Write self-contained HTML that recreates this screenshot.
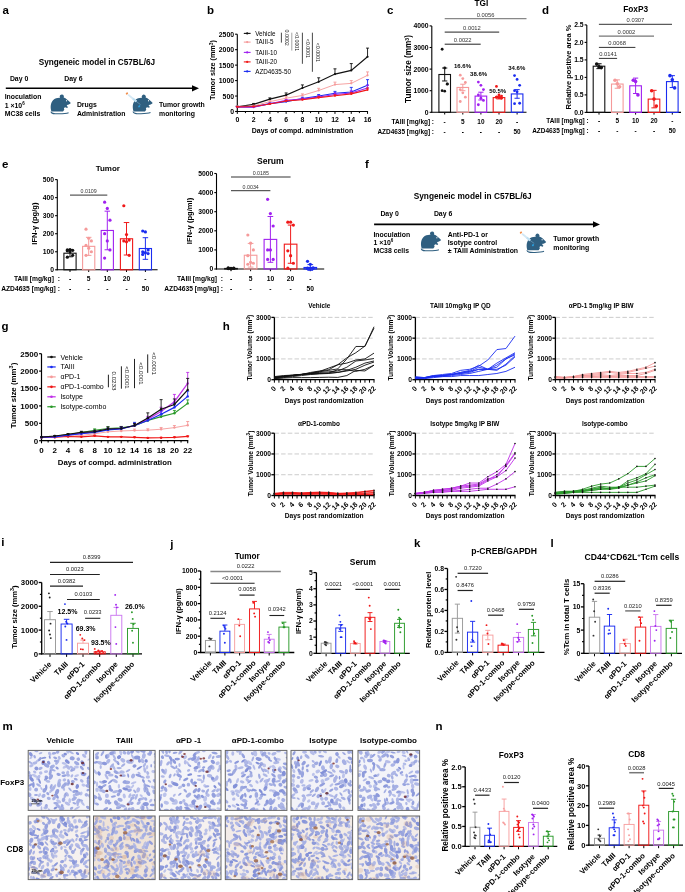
<!DOCTYPE html>
<html><head><meta charset="utf-8"><style>
html,body{margin:0;padding:0;background:#fff;}
svg{display:block;filter:blur(0.3px);font-family:"Liberation Sans", sans-serif;}
</style></head><body>
<svg width="685" height="892" viewBox="0 0 685 892">
<rect width="685" height="892" fill="#fff"/>
<text x="2.5" y="14" font-size="11.5" font-weight="bold">a</text>
<text x="38.7" y="64.6" font-size="8.2" font-weight="bold">Syngeneic model in C57BL/6J</text>
<text x="9.9" y="81.4" font-size="6.9" font-weight="bold">Day 0</text>
<text x="64.2" y="81.4" font-size="6.9" font-weight="bold">Day 6</text>
<line x1="5.8" y1="88.3" x2="194" y2="88.3" stroke="#000" stroke-width="1.6"/>
<path d="M192,85.2 L199,88.3 L192,91.4 Z" fill="#000"/>
<text x="4.7" y="99.3" font-size="6.9" font-weight="bold">Inoculation</text>
<text x="4.7" y="107.6" font-size="6.9" font-weight="bold">1 ×10<tspan dy="-2.8" font-size="4.5">6</tspan></text>
<text x="4.7" y="116" font-size="6.9" font-weight="bold">MC38 cells</text>
<g transform="translate(50 94) scale(1)"><path d="M1.5,17.5 C0.2,14 0.3,9 3,6.2 C5,4.2 8,3.6 10.1,3.8 A2.1,2.1 0 1 1 13.7,3.5 C16,4.3 18.6,6.6 20.8,9 C20,10.2 18.5,10.8 17,11 L16.8,11.9 L18,12.9 L17.2,13.9 L15,13.3 L13.9,14.2 L14.3,15.8 L13,17.5 Z" fill="#2f5f80"/><path d="M0.9,17.6 C1.2,20 4,19.9 9,19.8 C13,19.7 16.5,19.4 18.6,18.7" fill="none" stroke="#2f5f80" stroke-width="1.05"/><ellipse cx="16.6" cy="6.8" rx="0.55" ry="0.75" fill="#fff"/></g>
<text x="76.9" y="107.2" font-size="6.9" font-weight="bold">Drugs</text>
<text x="76.9" y="115.5" font-size="6.9" font-weight="bold">Administration</text>
<g transform="translate(132.1 94.1) scale(0.99)"><path d="M1.5,17.5 C0.2,14 0.3,9 3,6.2 C5,4.2 8,3.6 10.1,3.8 A2.1,2.1 0 1 1 13.7,3.5 C16,4.3 18.6,6.6 20.8,9 C20,10.2 18.5,10.8 17,11 L16.8,11.9 L18,12.9 L17.2,13.9 L15,13.3 L13.9,14.2 L14.3,15.8 L13,17.5 Z" fill="#2f5f80"/><path d="M0.9,17.6 C1.2,20 4,19.9 9,19.8 C13,19.7 16.5,19.4 18.6,18.7" fill="none" stroke="#2f5f80" stroke-width="1.05"/><ellipse cx="16.6" cy="6.8" rx="0.55" ry="0.75" fill="#fff"/><line x1="-4" y1="0.5" x2="4.3" y2="7.5" stroke="#d4e8f4" stroke-width="1.9"/><line x1="0.8" y1="4.4" x2="4.3" y2="7.5" stroke="#bfe0f2" stroke-width="2.1"/><ellipse cx="-5.2" cy="-0.6" rx="1.3" ry="1.0" fill="#f09050" transform="rotate(-40 -5.2 -0.6)"/><line x1="4.3" y1="7.5" x2="8.5" y2="10.6" stroke="#8ab8d8" stroke-width="0.5"/><ellipse cx="7.2" cy="12.3" rx="0.9" ry="1.2" fill="#2aa0e0" transform="rotate(40 7.2 12.3)"/></g>
<text x="159" y="107.2" font-size="6.9" font-weight="bold">Tumor growth</text>
<text x="159" y="115.5" font-size="6.9" font-weight="bold">monitoring</text>
<text x="207" y="14" font-size="11.5" font-weight="bold">b</text>
<line x1="237.3" y1="112" x2="237.3" y2="34.2" stroke="#000" stroke-width="1.1"/>
<line x1="235.1" y1="111.5" x2="237.3" y2="111.5" stroke="#000" stroke-width="1.1"/>
<text x="234.1" y="113.98" font-size="6.9" font-weight="bold" text-anchor="end">0</text>
<line x1="235.1" y1="96.04" x2="237.3" y2="96.04" stroke="#000" stroke-width="1.1"/>
<text x="234.1" y="98.52" font-size="6.9" font-weight="bold" text-anchor="end">500</text>
<line x1="235.1" y1="80.58" x2="237.3" y2="80.58" stroke="#000" stroke-width="1.1"/>
<text x="234.1" y="83.06" font-size="6.9" font-weight="bold" text-anchor="end">1000</text>
<line x1="235.1" y1="65.12" x2="237.3" y2="65.12" stroke="#000" stroke-width="1.1"/>
<text x="234.1" y="67.6" font-size="6.9" font-weight="bold" text-anchor="end">1500</text>
<line x1="235.1" y1="49.66" x2="237.3" y2="49.66" stroke="#000" stroke-width="1.1"/>
<text x="234.1" y="52.14" font-size="6.9" font-weight="bold" text-anchor="end">2000</text>
<line x1="235.1" y1="34.2" x2="237.3" y2="34.2" stroke="#000" stroke-width="1.1"/>
<text x="234.1" y="36.68" font-size="6.9" font-weight="bold" text-anchor="end">2500</text>
<line x1="236.8" y1="111.5" x2="368.04" y2="111.5" stroke="#000" stroke-width="1.1"/>
<line x1="237.3" y1="111.5" x2="237.3" y2="113.9" stroke="#000" stroke-width="1"/>
<text x="237.3" y="121.5" font-size="6.9" font-weight="bold" text-anchor="middle">0</text>
<line x1="245.44" y1="111.5" x2="245.44" y2="113.1" stroke="#000" stroke-width="1"/>
<line x1="253.58" y1="111.5" x2="253.58" y2="113.9" stroke="#000" stroke-width="1"/>
<text x="253.58" y="121.5" font-size="6.9" font-weight="bold" text-anchor="middle">2</text>
<line x1="261.72" y1="111.5" x2="261.72" y2="113.1" stroke="#000" stroke-width="1"/>
<line x1="269.86" y1="111.5" x2="269.86" y2="113.9" stroke="#000" stroke-width="1"/>
<text x="269.86" y="121.5" font-size="6.9" font-weight="bold" text-anchor="middle">4</text>
<line x1="278" y1="111.5" x2="278" y2="113.1" stroke="#000" stroke-width="1"/>
<line x1="286.14" y1="111.5" x2="286.14" y2="113.9" stroke="#000" stroke-width="1"/>
<text x="286.14" y="121.5" font-size="6.9" font-weight="bold" text-anchor="middle">6</text>
<line x1="294.28" y1="111.5" x2="294.28" y2="113.1" stroke="#000" stroke-width="1"/>
<line x1="302.42" y1="111.5" x2="302.42" y2="113.9" stroke="#000" stroke-width="1"/>
<text x="302.42" y="121.5" font-size="6.9" font-weight="bold" text-anchor="middle">8</text>
<line x1="310.56" y1="111.5" x2="310.56" y2="113.1" stroke="#000" stroke-width="1"/>
<line x1="318.7" y1="111.5" x2="318.7" y2="113.9" stroke="#000" stroke-width="1"/>
<text x="318.7" y="121.5" font-size="6.9" font-weight="bold" text-anchor="middle">10</text>
<line x1="326.84" y1="111.5" x2="326.84" y2="113.1" stroke="#000" stroke-width="1"/>
<line x1="334.98" y1="111.5" x2="334.98" y2="113.9" stroke="#000" stroke-width="1"/>
<text x="334.98" y="121.5" font-size="6.9" font-weight="bold" text-anchor="middle">12</text>
<line x1="343.12" y1="111.5" x2="343.12" y2="113.1" stroke="#000" stroke-width="1"/>
<line x1="351.26" y1="111.5" x2="351.26" y2="113.9" stroke="#000" stroke-width="1"/>
<text x="351.26" y="121.5" font-size="6.9" font-weight="bold" text-anchor="middle">14</text>
<line x1="359.4" y1="111.5" x2="359.4" y2="113.1" stroke="#000" stroke-width="1"/>
<line x1="367.54" y1="111.5" x2="367.54" y2="113.9" stroke="#000" stroke-width="1"/>
<text x="367.54" y="121.5" font-size="6.9" font-weight="bold" text-anchor="middle">16</text>
<text x="302.5" y="133" font-size="6.95" font-weight="bold" text-anchor="middle">Days of compd. administration</text>
<text x="215.3" y="70" font-size="7.2" font-weight="bold" text-anchor="middle" transform="rotate(-90 215.3 70)">Tumor size (mm<tspan dy="-2.5" font-size="5">3</tspan><tspan dy="2.5">)</tspan></text>
<line x1="237.3" y1="106.86" x2="237.3" y2="106.24" stroke="#111" stroke-width="0.9"/>
<line x1="235.8" y1="106.24" x2="238.8" y2="106.24" stroke="#111" stroke-width="0.9"/>
<line x1="253.58" y1="104.39" x2="253.58" y2="103.46" stroke="#111" stroke-width="0.9"/>
<line x1="252.08" y1="103.46" x2="255.08" y2="103.46" stroke="#111" stroke-width="0.9"/>
<line x1="269.86" y1="99.13" x2="269.86" y2="97.9" stroke="#111" stroke-width="0.9"/>
<line x1="268.36" y1="97.9" x2="271.36" y2="97.9" stroke="#111" stroke-width="0.9"/>
<line x1="286.14" y1="95.11" x2="286.14" y2="92.95" stroke="#111" stroke-width="0.9"/>
<line x1="284.64" y1="92.95" x2="287.64" y2="92.95" stroke="#111" stroke-width="0.9"/>
<line x1="302.42" y1="88" x2="302.42" y2="84.91" stroke="#111" stroke-width="0.9"/>
<line x1="300.92" y1="84.91" x2="303.92" y2="84.91" stroke="#111" stroke-width="0.9"/>
<line x1="318.7" y1="81.82" x2="318.7" y2="77.8" stroke="#111" stroke-width="0.9"/>
<line x1="317.2" y1="77.8" x2="320.2" y2="77.8" stroke="#111" stroke-width="0.9"/>
<line x1="334.98" y1="74.09" x2="334.98" y2="68.83" stroke="#111" stroke-width="0.9"/>
<line x1="333.48" y1="68.83" x2="336.48" y2="68.83" stroke="#111" stroke-width="0.9"/>
<line x1="351.26" y1="70.38" x2="351.26" y2="63.57" stroke="#111" stroke-width="0.9"/>
<line x1="349.76" y1="63.57" x2="352.76" y2="63.57" stroke="#111" stroke-width="0.9"/>
<line x1="367.54" y1="56.77" x2="367.54" y2="48.11" stroke="#111" stroke-width="0.9"/>
<line x1="366.04" y1="48.11" x2="369.04" y2="48.11" stroke="#111" stroke-width="0.9"/>
<polyline points="237.3,106.86 253.58,104.39 269.86,99.13 286.14,95.11 302.42,88 318.7,81.82 334.98,74.09 351.26,70.38 367.54,56.77" fill="none" stroke="#111" stroke-width="1.1"/>
<circle cx="237.3" cy="106.86" r="1.1" fill="#111"/>
<circle cx="253.58" cy="104.39" r="1.1" fill="#111"/>
<circle cx="269.86" cy="99.13" r="1.1" fill="#111"/>
<circle cx="286.14" cy="95.11" r="1.1" fill="#111"/>
<circle cx="302.42" cy="88" r="1.1" fill="#111"/>
<circle cx="318.7" cy="81.82" r="1.1" fill="#111"/>
<circle cx="334.98" cy="74.09" r="1.1" fill="#111"/>
<circle cx="351.26" cy="70.38" r="1.1" fill="#111"/>
<circle cx="367.54" cy="56.77" r="1.1" fill="#111"/>
<line x1="237.3" y1="106.55" x2="237.3" y2="106.09" stroke="#f59a9a" stroke-width="0.9"/>
<line x1="235.8" y1="106.09" x2="238.8" y2="106.09" stroke="#f59a9a" stroke-width="0.9"/>
<line x1="253.58" y1="105.93" x2="253.58" y2="105.32" stroke="#f59a9a" stroke-width="0.9"/>
<line x1="252.08" y1="105.32" x2="255.08" y2="105.32" stroke="#f59a9a" stroke-width="0.9"/>
<line x1="269.86" y1="101.61" x2="269.86" y2="100.68" stroke="#f59a9a" stroke-width="0.9"/>
<line x1="268.36" y1="100.68" x2="271.36" y2="100.68" stroke="#f59a9a" stroke-width="0.9"/>
<line x1="286.14" y1="98.2" x2="286.14" y2="96.66" stroke="#f59a9a" stroke-width="0.9"/>
<line x1="284.64" y1="96.66" x2="287.64" y2="96.66" stroke="#f59a9a" stroke-width="0.9"/>
<line x1="302.42" y1="95.42" x2="302.42" y2="93.88" stroke="#f59a9a" stroke-width="0.9"/>
<line x1="300.92" y1="93.88" x2="303.92" y2="93.88" stroke="#f59a9a" stroke-width="0.9"/>
<line x1="318.7" y1="90.47" x2="318.7" y2="88.31" stroke="#f59a9a" stroke-width="0.9"/>
<line x1="317.2" y1="88.31" x2="320.2" y2="88.31" stroke="#f59a9a" stroke-width="0.9"/>
<line x1="334.98" y1="84.6" x2="334.98" y2="82.13" stroke="#f59a9a" stroke-width="0.9"/>
<line x1="333.48" y1="82.13" x2="336.48" y2="82.13" stroke="#f59a9a" stroke-width="0.9"/>
<line x1="351.26" y1="83.36" x2="351.26" y2="80.58" stroke="#f59a9a" stroke-width="0.9"/>
<line x1="349.76" y1="80.58" x2="352.76" y2="80.58" stroke="#f59a9a" stroke-width="0.9"/>
<line x1="367.54" y1="75.32" x2="367.54" y2="71.92" stroke="#f59a9a" stroke-width="0.9"/>
<line x1="366.04" y1="71.92" x2="369.04" y2="71.92" stroke="#f59a9a" stroke-width="0.9"/>
<polyline points="237.3,106.55 253.58,105.93 269.86,101.61 286.14,98.2 302.42,95.42 318.7,90.47 334.98,84.6 351.26,83.36 367.54,75.32" fill="none" stroke="#f59a9a" stroke-width="0.9"/>
<circle cx="237.3" cy="106.55" r="1.1" fill="#f59a9a"/>
<circle cx="253.58" cy="105.93" r="1.1" fill="#f59a9a"/>
<circle cx="269.86" cy="101.61" r="1.1" fill="#f59a9a"/>
<circle cx="286.14" cy="98.2" r="1.1" fill="#f59a9a"/>
<circle cx="302.42" cy="95.42" r="1.1" fill="#f59a9a"/>
<circle cx="318.7" cy="90.47" r="1.1" fill="#f59a9a"/>
<circle cx="334.98" cy="84.6" r="1.1" fill="#f59a9a"/>
<circle cx="351.26" cy="83.36" r="1.1" fill="#f59a9a"/>
<circle cx="367.54" cy="75.32" r="1.1" fill="#f59a9a"/>
<line x1="237.3" y1="106.86" x2="237.3" y2="106.4" stroke="#1a2cf0" stroke-width="0.9"/>
<line x1="235.8" y1="106.4" x2="238.8" y2="106.4" stroke="#1a2cf0" stroke-width="0.9"/>
<line x1="253.58" y1="106.86" x2="253.58" y2="106.4" stroke="#1a2cf0" stroke-width="0.9"/>
<line x1="252.08" y1="106.4" x2="255.08" y2="106.4" stroke="#1a2cf0" stroke-width="0.9"/>
<line x1="269.86" y1="103.62" x2="269.86" y2="103" stroke="#1a2cf0" stroke-width="0.9"/>
<line x1="268.36" y1="103" x2="271.36" y2="103" stroke="#1a2cf0" stroke-width="0.9"/>
<line x1="286.14" y1="101.61" x2="286.14" y2="100.68" stroke="#1a2cf0" stroke-width="0.9"/>
<line x1="284.64" y1="100.68" x2="287.64" y2="100.68" stroke="#1a2cf0" stroke-width="0.9"/>
<line x1="302.42" y1="98.51" x2="302.42" y2="97.28" stroke="#1a2cf0" stroke-width="0.9"/>
<line x1="300.92" y1="97.28" x2="303.92" y2="97.28" stroke="#1a2cf0" stroke-width="0.9"/>
<line x1="318.7" y1="96.04" x2="318.7" y2="94.49" stroke="#1a2cf0" stroke-width="0.9"/>
<line x1="317.2" y1="94.49" x2="320.2" y2="94.49" stroke="#1a2cf0" stroke-width="0.9"/>
<line x1="334.98" y1="93.26" x2="334.98" y2="91.4" stroke="#1a2cf0" stroke-width="0.9"/>
<line x1="333.48" y1="91.4" x2="336.48" y2="91.4" stroke="#1a2cf0" stroke-width="0.9"/>
<line x1="351.26" y1="92.02" x2="351.26" y2="87.38" stroke="#1a2cf0" stroke-width="0.9"/>
<line x1="349.76" y1="87.38" x2="352.76" y2="87.38" stroke="#1a2cf0" stroke-width="0.9"/>
<line x1="367.54" y1="85.22" x2="367.54" y2="79.65" stroke="#1a2cf0" stroke-width="0.9"/>
<line x1="366.04" y1="79.65" x2="369.04" y2="79.65" stroke="#1a2cf0" stroke-width="0.9"/>
<polyline points="237.3,106.86 253.58,106.86 269.86,103.62 286.14,101.61 302.42,98.51 318.7,96.04 334.98,93.26 351.26,92.02 367.54,85.22" fill="none" stroke="#1a2cf0" stroke-width="1.1"/>
<circle cx="237.3" cy="106.86" r="1.1" fill="#1a2cf0"/>
<circle cx="253.58" cy="106.86" r="1.1" fill="#1a2cf0"/>
<circle cx="269.86" cy="103.62" r="1.1" fill="#1a2cf0"/>
<circle cx="286.14" cy="101.61" r="1.1" fill="#1a2cf0"/>
<circle cx="302.42" cy="98.51" r="1.1" fill="#1a2cf0"/>
<circle cx="318.7" cy="96.04" r="1.1" fill="#1a2cf0"/>
<circle cx="334.98" cy="93.26" r="1.1" fill="#1a2cf0"/>
<circle cx="351.26" cy="92.02" r="1.1" fill="#1a2cf0"/>
<circle cx="367.54" cy="85.22" r="1.1" fill="#1a2cf0"/>
<line x1="237.3" y1="107.02" x2="237.3" y2="106.71" stroke="#a020f0" stroke-width="0.9"/>
<line x1="235.8" y1="106.71" x2="238.8" y2="106.71" stroke="#a020f0" stroke-width="0.9"/>
<line x1="253.58" y1="107.17" x2="253.58" y2="106.71" stroke="#a020f0" stroke-width="0.9"/>
<line x1="252.08" y1="106.71" x2="255.08" y2="106.71" stroke="#a020f0" stroke-width="0.9"/>
<line x1="269.86" y1="103.77" x2="269.86" y2="103.15" stroke="#a020f0" stroke-width="0.9"/>
<line x1="268.36" y1="103.15" x2="271.36" y2="103.15" stroke="#a020f0" stroke-width="0.9"/>
<line x1="286.14" y1="100.37" x2="286.14" y2="99.6" stroke="#a020f0" stroke-width="0.9"/>
<line x1="284.64" y1="99.6" x2="287.64" y2="99.6" stroke="#a020f0" stroke-width="0.9"/>
<line x1="302.42" y1="99.13" x2="302.42" y2="98.2" stroke="#a020f0" stroke-width="0.9"/>
<line x1="300.92" y1="98.2" x2="303.92" y2="98.2" stroke="#a020f0" stroke-width="0.9"/>
<line x1="318.7" y1="96.97" x2="318.7" y2="95.73" stroke="#a020f0" stroke-width="0.9"/>
<line x1="317.2" y1="95.73" x2="320.2" y2="95.73" stroke="#a020f0" stroke-width="0.9"/>
<line x1="334.98" y1="94.49" x2="334.98" y2="92.95" stroke="#a020f0" stroke-width="0.9"/>
<line x1="333.48" y1="92.95" x2="336.48" y2="92.95" stroke="#a020f0" stroke-width="0.9"/>
<line x1="351.26" y1="92.95" x2="351.26" y2="90.78" stroke="#a020f0" stroke-width="0.9"/>
<line x1="349.76" y1="90.78" x2="352.76" y2="90.78" stroke="#a020f0" stroke-width="0.9"/>
<line x1="367.54" y1="88" x2="367.54" y2="85.22" stroke="#a020f0" stroke-width="0.9"/>
<line x1="366.04" y1="85.22" x2="369.04" y2="85.22" stroke="#a020f0" stroke-width="0.9"/>
<polyline points="237.3,107.02 253.58,107.17 269.86,103.77 286.14,100.37 302.42,99.13 318.7,96.97 334.98,94.49 351.26,92.95 367.54,88" fill="none" stroke="#a020f0" stroke-width="1.1"/>
<circle cx="237.3" cy="107.02" r="1.1" fill="#a020f0"/>
<circle cx="253.58" cy="107.17" r="1.1" fill="#a020f0"/>
<circle cx="269.86" cy="103.77" r="1.1" fill="#a020f0"/>
<circle cx="286.14" cy="100.37" r="1.1" fill="#a020f0"/>
<circle cx="302.42" cy="99.13" r="1.1" fill="#a020f0"/>
<circle cx="318.7" cy="96.97" r="1.1" fill="#a020f0"/>
<circle cx="334.98" cy="94.49" r="1.1" fill="#a020f0"/>
<circle cx="351.26" cy="92.95" r="1.1" fill="#a020f0"/>
<circle cx="367.54" cy="88" r="1.1" fill="#a020f0"/>
<line x1="237.3" y1="106.86" x2="237.3" y2="106.55" stroke="#f01818" stroke-width="0.9"/>
<line x1="235.8" y1="106.55" x2="238.8" y2="106.55" stroke="#f01818" stroke-width="0.9"/>
<line x1="253.58" y1="106.55" x2="253.58" y2="106.24" stroke="#f01818" stroke-width="0.9"/>
<line x1="252.08" y1="106.24" x2="255.08" y2="106.24" stroke="#f01818" stroke-width="0.9"/>
<line x1="269.86" y1="103.92" x2="269.86" y2="103.46" stroke="#f01818" stroke-width="0.9"/>
<line x1="268.36" y1="103.46" x2="271.36" y2="103.46" stroke="#f01818" stroke-width="0.9"/>
<line x1="286.14" y1="100.99" x2="286.14" y2="100.37" stroke="#f01818" stroke-width="0.9"/>
<line x1="284.64" y1="100.37" x2="287.64" y2="100.37" stroke="#f01818" stroke-width="0.9"/>
<line x1="302.42" y1="99.75" x2="302.42" y2="98.98" stroke="#f01818" stroke-width="0.9"/>
<line x1="300.92" y1="98.98" x2="303.92" y2="98.98" stroke="#f01818" stroke-width="0.9"/>
<line x1="318.7" y1="97.59" x2="318.7" y2="96.66" stroke="#f01818" stroke-width="0.9"/>
<line x1="317.2" y1="96.66" x2="320.2" y2="96.66" stroke="#f01818" stroke-width="0.9"/>
<line x1="334.98" y1="95.73" x2="334.98" y2="94.8" stroke="#f01818" stroke-width="0.9"/>
<line x1="333.48" y1="94.8" x2="336.48" y2="94.8" stroke="#f01818" stroke-width="0.9"/>
<line x1="351.26" y1="93.88" x2="351.26" y2="92.64" stroke="#f01818" stroke-width="0.9"/>
<line x1="349.76" y1="92.64" x2="352.76" y2="92.64" stroke="#f01818" stroke-width="0.9"/>
<line x1="367.54" y1="89.86" x2="367.54" y2="88" stroke="#f01818" stroke-width="0.9"/>
<line x1="366.04" y1="88" x2="369.04" y2="88" stroke="#f01818" stroke-width="0.9"/>
<polyline points="237.3,106.86 253.58,106.55 269.86,103.92 286.14,100.99 302.42,99.75 318.7,97.59 334.98,95.73 351.26,93.88 367.54,89.86" fill="none" stroke="#f01818" stroke-width="1.1"/>
<circle cx="237.3" cy="106.86" r="1.1" fill="#f01818"/>
<circle cx="253.58" cy="106.55" r="1.1" fill="#f01818"/>
<circle cx="269.86" cy="103.92" r="1.1" fill="#f01818"/>
<circle cx="286.14" cy="100.99" r="1.1" fill="#f01818"/>
<circle cx="302.42" cy="99.75" r="1.1" fill="#f01818"/>
<circle cx="318.7" cy="97.59" r="1.1" fill="#f01818"/>
<circle cx="334.98" cy="95.73" r="1.1" fill="#f01818"/>
<circle cx="351.26" cy="93.88" r="1.1" fill="#f01818"/>
<circle cx="367.54" cy="89.86" r="1.1" fill="#f01818"/>
<line x1="243.8" y1="33.4" x2="250.6" y2="33.4" stroke="#111" stroke-width="1.1"/>
<circle cx="247.2" cy="33.4" r="1.1" fill="#111"/>
<text x="255.2" y="35.6" font-size="6.3">Vehicle</text>
<line x1="243.8" y1="42.1" x2="250.6" y2="42.1" stroke="#f59a9a" stroke-width="1.1"/>
<circle cx="247.2" cy="42.1" r="1.1" fill="#f59a9a"/>
<text x="255.2" y="44.3" font-size="6.3">TAIII-5</text>
<line x1="243.8" y1="52.4" x2="250.6" y2="52.4" stroke="#a020f0" stroke-width="1.1"/>
<circle cx="247.2" cy="52.4" r="1.1" fill="#a020f0"/>
<text x="255.2" y="54.6" font-size="6.3">TAIII-10</text>
<line x1="243.8" y1="61.9" x2="250.6" y2="61.9" stroke="#f01818" stroke-width="1.1"/>
<circle cx="247.2" cy="61.9" r="1.1" fill="#f01818"/>
<text x="255.2" y="64.1" font-size="6.3">TAIII-20</text>
<line x1="243.8" y1="71.4" x2="250.6" y2="71.4" stroke="#1a2cf0" stroke-width="1.1"/>
<circle cx="247.2" cy="71.4" r="1.1" fill="#1a2cf0"/>
<text x="255.2" y="73.6" font-size="6.3">AZD4635-50</text>
<line x1="281.4" y1="32.7" x2="281.4" y2="42.6" stroke="#333" stroke-width="0.9"/>
<text x="285" y="37.65" font-size="5.25" text-anchor="middle" fill="#222" transform="rotate(90 285 37.65)">0.0002</text>
<line x1="291.8" y1="32.7" x2="291.8" y2="50.6" stroke="#999" stroke-width="0.9"/>
<text x="295.4" y="41.65" font-size="5.25" text-anchor="middle" fill="#222" transform="rotate(90 295.4 41.65)"><0.0001</text>
<line x1="302.4" y1="32.7" x2="302.4" y2="63.8" stroke="#333" stroke-width="0.9"/>
<text x="306" y="48.25" font-size="5.25" text-anchor="middle" fill="#222" transform="rotate(90 306 48.25)"><0.0001</text>
<line x1="312.4" y1="32.7" x2="312.4" y2="71.8" stroke="#333" stroke-width="0.9"/>
<text x="316" y="52.25" font-size="5.25" text-anchor="middle" fill="#222" transform="rotate(90 316 52.25)"><0.0001</text>
<text x="387" y="14" font-size="11.5" font-weight="bold">c</text>
<text x="481.3" y="6.4" font-size="8.3" font-weight="bold" text-anchor="middle">TGI</text>
<line x1="431.8" y1="112.8" x2="431.8" y2="25.9" stroke="#000" stroke-width="1.1"/>
<line x1="429.6" y1="112.3" x2="431.8" y2="112.3" stroke="#000" stroke-width="1.1"/>
<text x="428.6" y="114.75" font-size="6.8" font-weight="bold" text-anchor="end">0</text>
<line x1="429.6" y1="90.7" x2="431.8" y2="90.7" stroke="#000" stroke-width="1.1"/>
<text x="428.6" y="93.15" font-size="6.8" font-weight="bold" text-anchor="end">1000</text>
<line x1="429.6" y1="69.1" x2="431.8" y2="69.1" stroke="#000" stroke-width="1.1"/>
<text x="428.6" y="71.55" font-size="6.8" font-weight="bold" text-anchor="end">2000</text>
<line x1="429.6" y1="47.5" x2="431.8" y2="47.5" stroke="#000" stroke-width="1.1"/>
<text x="428.6" y="49.95" font-size="6.8" font-weight="bold" text-anchor="end">3000</text>
<line x1="429.6" y1="25.9" x2="431.8" y2="25.9" stroke="#000" stroke-width="1.1"/>
<text x="428.6" y="28.35" font-size="6.8" font-weight="bold" text-anchor="end">4000</text>
<line x1="431.3" y1="112.3" x2="526.5" y2="112.3" stroke="#000" stroke-width="1.1"/>
<line x1="444.7" y1="112.3" x2="444.7" y2="114.5" stroke="#000" stroke-width="1"/>
<line x1="462.8" y1="112.3" x2="462.8" y2="114.5" stroke="#000" stroke-width="1"/>
<line x1="480.9" y1="112.3" x2="480.9" y2="114.5" stroke="#000" stroke-width="1"/>
<line x1="499" y1="112.3" x2="499" y2="114.5" stroke="#000" stroke-width="1"/>
<line x1="517.1" y1="112.3" x2="517.1" y2="114.5" stroke="#000" stroke-width="1"/>
<rect x="438.9" y="74.5" width="11.6" height="37.8" fill="none" stroke="#111" stroke-width="1.1"/>
<line x1="444.7" y1="74.5" x2="444.7" y2="68.02" stroke="#111" stroke-width="0.99"/>
<line x1="442.09" y1="68.02" x2="447.31" y2="68.02" stroke="#111" stroke-width="0.99"/>
<line x1="444.7" y1="74.5" x2="444.7" y2="80.98" stroke="#111" stroke-width="0.99"/>
<line x1="442.09" y1="80.98" x2="447.31" y2="80.98" stroke="#111" stroke-width="0.99"/>
<circle cx="442.15" cy="49.23" r="1.4" fill="#111"/>
<circle cx="444.7" cy="68.02" r="1.4" fill="#111"/>
<circle cx="447.25" cy="83.79" r="1.4" fill="#111"/>
<circle cx="442.15" cy="90.7" r="1.4" fill="#111"/>
<circle cx="444.7" cy="91.13" r="1.4" fill="#111"/>
<circle cx="447.25" cy="84.22" r="1.4" fill="#111"/>
<rect x="457" y="87.46" width="11.6" height="24.84" fill="none" stroke="#f59a9a" stroke-width="1.1"/>
<line x1="462.8" y1="87.46" x2="462.8" y2="84.22" stroke="#f59a9a" stroke-width="0.99"/>
<line x1="460.19" y1="84.22" x2="465.41" y2="84.22" stroke="#f59a9a" stroke-width="0.99"/>
<line x1="462.8" y1="87.46" x2="462.8" y2="90.7" stroke="#f59a9a" stroke-width="0.99"/>
<line x1="460.19" y1="90.7" x2="465.41" y2="90.7" stroke="#f59a9a" stroke-width="0.99"/>
<circle cx="460.25" cy="75.15" r="1.4" fill="#f59a9a"/>
<circle cx="462.8" cy="78.6" r="1.4" fill="#f59a9a"/>
<circle cx="465.35" cy="82.49" r="1.4" fill="#f59a9a"/>
<circle cx="460.25" cy="89.62" r="1.4" fill="#f59a9a"/>
<circle cx="462.8" cy="92.86" r="1.4" fill="#f59a9a"/>
<circle cx="465.35" cy="97.18" r="1.4" fill="#f59a9a"/>
<circle cx="460.25" cy="101.5" r="1.4" fill="#f59a9a"/>
<rect x="475.1" y="96.1" width="11.6" height="16.2" fill="none" stroke="#a020f0" stroke-width="1.1"/>
<line x1="480.9" y1="96.1" x2="480.9" y2="92.21" stroke="#a020f0" stroke-width="0.99"/>
<line x1="478.29" y1="92.21" x2="483.51" y2="92.21" stroke="#a020f0" stroke-width="0.99"/>
<line x1="480.9" y1="96.1" x2="480.9" y2="99.99" stroke="#a020f0" stroke-width="0.99"/>
<line x1="478.29" y1="99.99" x2="483.51" y2="99.99" stroke="#a020f0" stroke-width="0.99"/>
<circle cx="478.35" cy="82.06" r="1.4" fill="#a020f0"/>
<circle cx="480.9" cy="85.3" r="1.4" fill="#a020f0"/>
<circle cx="483.45" cy="89.62" r="1.4" fill="#a020f0"/>
<circle cx="478.35" cy="95.02" r="1.4" fill="#a020f0"/>
<circle cx="480.9" cy="98.26" r="1.4" fill="#a020f0"/>
<circle cx="483.45" cy="100.42" r="1.4" fill="#a020f0"/>
<circle cx="478.35" cy="104.74" r="1.4" fill="#a020f0"/>
<rect x="493.2" y="97.61" width="11.6" height="14.69" fill="none" stroke="#f01818" stroke-width="1.1"/>
<line x1="499" y1="97.61" x2="499" y2="96.32" stroke="#f01818" stroke-width="0.99"/>
<line x1="496.39" y1="96.32" x2="501.61" y2="96.32" stroke="#f01818" stroke-width="0.99"/>
<line x1="499" y1="97.61" x2="499" y2="98.91" stroke="#f01818" stroke-width="0.99"/>
<line x1="496.39" y1="98.91" x2="501.61" y2="98.91" stroke="#f01818" stroke-width="0.99"/>
<circle cx="496.45" cy="86.38" r="1.4" fill="#f01818"/>
<circle cx="499" cy="95.02" r="1.4" fill="#f01818"/>
<circle cx="501.55" cy="96.1" r="1.4" fill="#f01818"/>
<circle cx="496.45" cy="97.18" r="1.4" fill="#f01818"/>
<circle cx="499" cy="97.61" r="1.4" fill="#f01818"/>
<circle cx="501.55" cy="98.26" r="1.4" fill="#f01818"/>
<circle cx="496.45" cy="97.18" r="1.4" fill="#f01818"/>
<rect x="511.3" y="93.94" width="11.6" height="18.36" fill="none" stroke="#1a2cf0" stroke-width="1.1"/>
<line x1="517.1" y1="93.94" x2="517.1" y2="89.62" stroke="#1a2cf0" stroke-width="0.99"/>
<line x1="514.49" y1="89.62" x2="519.71" y2="89.62" stroke="#1a2cf0" stroke-width="0.99"/>
<line x1="517.1" y1="93.94" x2="517.1" y2="98.26" stroke="#1a2cf0" stroke-width="0.99"/>
<line x1="514.49" y1="98.26" x2="519.71" y2="98.26" stroke="#1a2cf0" stroke-width="0.99"/>
<circle cx="514.55" cy="75.58" r="1.4" fill="#1a2cf0"/>
<circle cx="517.1" cy="79.47" r="1.4" fill="#1a2cf0"/>
<circle cx="519.65" cy="85.3" r="1.4" fill="#1a2cf0"/>
<circle cx="514.55" cy="90.7" r="1.4" fill="#1a2cf0"/>
<circle cx="517.1" cy="91.78" r="1.4" fill="#1a2cf0"/>
<circle cx="519.65" cy="103.23" r="1.4" fill="#1a2cf0"/>
<circle cx="514.55" cy="103.66" r="1.4" fill="#1a2cf0"/>
<line x1="444.7" y1="18.7" x2="526.5" y2="18.7" stroke="#888" stroke-width="1.2"/>
<text x="485.6" y="16.5" font-size="5.8" text-anchor="middle" fill="#333">0.0056</text>
<line x1="444.7" y1="32.1" x2="499.2" y2="32.1" stroke="#222" stroke-width="1"/>
<text x="471.95" y="29.9" font-size="5.8" text-anchor="middle" fill="#333">0.0012</text>
<line x1="444.7" y1="44.2" x2="480.7" y2="44.2" stroke="#222" stroke-width="1"/>
<text x="462.7" y="42" font-size="5.8" text-anchor="middle" fill="#333">0.0022</text>
<text x="462.5" y="67.7" font-size="6" font-weight="bold" text-anchor="middle">16.6%</text>
<text x="478.6" y="75.7" font-size="6" font-weight="bold" text-anchor="middle">38.6%</text>
<text x="497.7" y="93" font-size="6" font-weight="bold" text-anchor="middle">50.5%</text>
<text x="516.8" y="70.2" font-size="6" font-weight="bold" text-anchor="middle">34.6%</text>
<text x="434" y="123.6" font-size="6.45" font-weight="bold" text-anchor="end">TAIII [mg/kg] :</text>
<text x="434" y="133.8" font-size="6.45" font-weight="bold" text-anchor="end">AZD4635 [mg/kg] :</text>
<text x="444.7" y="123.6" font-size="6.45" font-weight="bold" text-anchor="middle">-</text>
<text x="444.7" y="133.8" font-size="6.45" font-weight="bold" text-anchor="middle">-</text>
<text x="462.8" y="123.6" font-size="6.45" font-weight="bold" text-anchor="middle">5</text>
<text x="462.8" y="133.8" font-size="6.45" font-weight="bold" text-anchor="middle">-</text>
<text x="480.9" y="123.6" font-size="6.45" font-weight="bold" text-anchor="middle">10</text>
<text x="480.9" y="133.8" font-size="6.45" font-weight="bold" text-anchor="middle">-</text>
<text x="499" y="123.6" font-size="6.45" font-weight="bold" text-anchor="middle">20</text>
<text x="499" y="133.8" font-size="6.45" font-weight="bold" text-anchor="middle">-</text>
<text x="517.1" y="123.6" font-size="6.45" font-weight="bold" text-anchor="middle">-</text>
<text x="517.1" y="133.8" font-size="6.45" font-weight="bold" text-anchor="middle">50</text>
<text x="411.2" y="69" font-size="8.2" font-weight="bold" text-anchor="middle" transform="rotate(-90 411.2 69)">Tumor size (mm<tspan dy="-2.6" font-size="5.2">3</tspan><tspan dy="2.6">)</tspan></text>
<text x="542" y="14" font-size="11.5" font-weight="bold">d</text>
<text x="635.7" y="11.9" font-size="8.3" font-weight="bold" text-anchor="middle">FoxP3</text>
<line x1="586.8" y1="112.9" x2="586.8" y2="24.9" stroke="#000" stroke-width="1.1"/>
<line x1="584.6" y1="112.4" x2="586.8" y2="112.4" stroke="#000" stroke-width="1.1"/>
<text x="583.6" y="114.85" font-size="6.8" font-weight="bold" text-anchor="end">0.0</text>
<line x1="584.6" y1="94.9" x2="586.8" y2="94.9" stroke="#000" stroke-width="1.1"/>
<text x="583.6" y="97.35" font-size="6.8" font-weight="bold" text-anchor="end">0.5</text>
<line x1="584.6" y1="77.4" x2="586.8" y2="77.4" stroke="#000" stroke-width="1.1"/>
<text x="583.6" y="79.85" font-size="6.8" font-weight="bold" text-anchor="end">1.0</text>
<line x1="584.6" y1="59.9" x2="586.8" y2="59.9" stroke="#000" stroke-width="1.1"/>
<text x="583.6" y="62.35" font-size="6.8" font-weight="bold" text-anchor="end">1.5</text>
<line x1="584.6" y1="42.4" x2="586.8" y2="42.4" stroke="#000" stroke-width="1.1"/>
<text x="583.6" y="44.85" font-size="6.8" font-weight="bold" text-anchor="end">2.0</text>
<line x1="584.6" y1="24.9" x2="586.8" y2="24.9" stroke="#000" stroke-width="1.1"/>
<text x="583.6" y="27.35" font-size="6.8" font-weight="bold" text-anchor="end">2.5</text>
<line x1="586.3" y1="112.4" x2="681" y2="112.4" stroke="#000" stroke-width="1.1"/>
<line x1="599" y1="112.4" x2="599" y2="114.6" stroke="#000" stroke-width="1"/>
<line x1="617.3" y1="112.4" x2="617.3" y2="114.6" stroke="#000" stroke-width="1"/>
<line x1="635.6" y1="112.4" x2="635.6" y2="114.6" stroke="#000" stroke-width="1"/>
<line x1="654" y1="112.4" x2="654" y2="114.6" stroke="#000" stroke-width="1"/>
<line x1="672.3" y1="112.4" x2="672.3" y2="114.6" stroke="#000" stroke-width="1"/>
<rect x="593.2" y="66.2" width="11.6" height="46.2" fill="none" stroke="#111" stroke-width="1.1"/>
<line x1="599" y1="66.2" x2="599" y2="63.75" stroke="#111" stroke-width="0.99"/>
<line x1="596.39" y1="63.75" x2="601.61" y2="63.75" stroke="#111" stroke-width="0.99"/>
<line x1="599" y1="66.2" x2="599" y2="68.65" stroke="#111" stroke-width="0.99"/>
<line x1="596.39" y1="68.65" x2="601.61" y2="68.65" stroke="#111" stroke-width="0.99"/>
<circle cx="596.68" cy="64.1" r="1.8" fill="#111"/>
<circle cx="599" cy="66.9" r="1.8" fill="#111"/>
<circle cx="601.32" cy="67.6" r="1.8" fill="#111"/>
<rect x="611.5" y="84.05" width="11.6" height="28.35" fill="none" stroke="#f59a9a" stroke-width="1.1"/>
<line x1="617.3" y1="84.05" x2="617.3" y2="79.85" stroke="#f59a9a" stroke-width="0.99"/>
<line x1="614.69" y1="79.85" x2="619.91" y2="79.85" stroke="#f59a9a" stroke-width="0.99"/>
<line x1="617.3" y1="84.05" x2="617.3" y2="88.25" stroke="#f59a9a" stroke-width="0.99"/>
<line x1="614.69" y1="88.25" x2="619.91" y2="88.25" stroke="#f59a9a" stroke-width="0.99"/>
<circle cx="614.98" cy="80.2" r="1.8" fill="#f59a9a"/>
<circle cx="617.3" cy="83.7" r="1.8" fill="#f59a9a"/>
<circle cx="619.62" cy="86.85" r="1.8" fill="#f59a9a"/>
<rect x="629.8" y="85.8" width="11.6" height="26.6" fill="none" stroke="#a020f0" stroke-width="1.1"/>
<line x1="635.6" y1="85.8" x2="635.6" y2="78.1" stroke="#a020f0" stroke-width="0.99"/>
<line x1="632.99" y1="78.1" x2="638.21" y2="78.1" stroke="#a020f0" stroke-width="0.99"/>
<line x1="635.6" y1="85.8" x2="635.6" y2="93.5" stroke="#a020f0" stroke-width="0.99"/>
<line x1="632.99" y1="93.5" x2="638.21" y2="93.5" stroke="#a020f0" stroke-width="0.99"/>
<circle cx="633.28" cy="80.2" r="1.8" fill="#a020f0"/>
<circle cx="635.6" cy="81.6" r="1.8" fill="#a020f0"/>
<circle cx="637.92" cy="94.9" r="1.8" fill="#a020f0"/>
<rect x="648.2" y="99.1" width="11.6" height="13.3" fill="none" stroke="#f01818" stroke-width="1.1"/>
<line x1="654" y1="99.1" x2="654" y2="90.35" stroke="#f01818" stroke-width="0.99"/>
<line x1="651.39" y1="90.35" x2="656.61" y2="90.35" stroke="#f01818" stroke-width="0.99"/>
<line x1="654" y1="99.1" x2="654" y2="107.85" stroke="#f01818" stroke-width="0.99"/>
<line x1="651.39" y1="107.85" x2="656.61" y2="107.85" stroke="#f01818" stroke-width="0.99"/>
<circle cx="651.68" cy="90.7" r="1.8" fill="#f01818"/>
<circle cx="654" cy="99.1" r="1.8" fill="#f01818"/>
<circle cx="656.32" cy="106.1" r="1.8" fill="#f01818"/>
<rect x="666.5" y="81.6" width="11.6" height="30.8" fill="none" stroke="#1a2cf0" stroke-width="1.1"/>
<line x1="672.3" y1="81.6" x2="672.3" y2="75.65" stroke="#1a2cf0" stroke-width="0.99"/>
<line x1="669.69" y1="75.65" x2="674.91" y2="75.65" stroke="#1a2cf0" stroke-width="0.99"/>
<line x1="672.3" y1="81.6" x2="672.3" y2="87.55" stroke="#1a2cf0" stroke-width="0.99"/>
<line x1="669.69" y1="87.55" x2="674.91" y2="87.55" stroke="#1a2cf0" stroke-width="0.99"/>
<circle cx="669.98" cy="75.65" r="1.8" fill="#1a2cf0"/>
<circle cx="672.3" cy="79.85" r="1.8" fill="#1a2cf0"/>
<circle cx="674.62" cy="87.9" r="1.8" fill="#1a2cf0"/>
<line x1="598.9" y1="24.3" x2="672" y2="24.3" stroke="#333" stroke-width="1"/>
<text x="635.45" y="22.1" font-size="5.8" text-anchor="middle" fill="#333">0.0307</text>
<line x1="598.9" y1="36.1" x2="654" y2="36.1" stroke="#555" stroke-width="1"/>
<text x="626.45" y="33.9" font-size="5.8" text-anchor="middle" fill="#333">0.0002</text>
<line x1="598.9" y1="47.4" x2="635.4" y2="47.4" stroke="#333" stroke-width="1"/>
<text x="617.15" y="45.2" font-size="5.8" text-anchor="middle" fill="#333">0.0068</text>
<line x1="598.9" y1="58.4" x2="617.1" y2="58.4" stroke="#333" stroke-width="1"/>
<text x="608" y="56.2" font-size="5.8" text-anchor="middle" fill="#333">0.0141</text>
<text x="588.7" y="122.5" font-size="6.45" font-weight="bold" text-anchor="end">TAIII [mg/kg] :</text>
<text x="588.7" y="132.7" font-size="6.45" font-weight="bold" text-anchor="end">AZD4635 [mg/kg] :</text>
<text x="599" y="122.5" font-size="6.45" font-weight="bold" text-anchor="middle">-</text>
<text x="599" y="132.7" font-size="6.45" font-weight="bold" text-anchor="middle">-</text>
<text x="617.3" y="122.5" font-size="6.45" font-weight="bold" text-anchor="middle">5</text>
<text x="617.3" y="132.7" font-size="6.45" font-weight="bold" text-anchor="middle">-</text>
<text x="635.6" y="122.5" font-size="6.45" font-weight="bold" text-anchor="middle">10</text>
<text x="635.6" y="132.7" font-size="6.45" font-weight="bold" text-anchor="middle">-</text>
<text x="654" y="122.5" font-size="6.45" font-weight="bold" text-anchor="middle">20</text>
<text x="654" y="132.7" font-size="6.45" font-weight="bold" text-anchor="middle">-</text>
<text x="672.3" y="122.5" font-size="6.45" font-weight="bold" text-anchor="middle">-</text>
<text x="672.3" y="132.7" font-size="6.45" font-weight="bold" text-anchor="middle">50</text>
<text x="571.2" y="67" font-size="7.45" font-weight="bold" text-anchor="middle" transform="rotate(-90 571.2 67)">Relative positive area %</text>
<text x="2" y="167.8" font-size="11.5" font-weight="bold">e</text>
<text x="107.8" y="171" font-size="8" font-weight="bold" text-anchor="middle">Tumor</text>
<line x1="57.3" y1="270.3" x2="57.3" y2="179.6" stroke="#000" stroke-width="1.1"/>
<line x1="55.1" y1="269.8" x2="57.3" y2="269.8" stroke="#000" stroke-width="1.1"/>
<text x="54.1" y="272.25" font-size="6.8" font-weight="bold" text-anchor="end">0</text>
<line x1="55.1" y1="251.76" x2="57.3" y2="251.76" stroke="#000" stroke-width="1.1"/>
<text x="54.1" y="254.21" font-size="6.8" font-weight="bold" text-anchor="end">100</text>
<line x1="55.1" y1="233.72" x2="57.3" y2="233.72" stroke="#000" stroke-width="1.1"/>
<text x="54.1" y="236.17" font-size="6.8" font-weight="bold" text-anchor="end">200</text>
<line x1="55.1" y1="215.68" x2="57.3" y2="215.68" stroke="#000" stroke-width="1.1"/>
<text x="54.1" y="218.13" font-size="6.8" font-weight="bold" text-anchor="end">300</text>
<line x1="55.1" y1="197.64" x2="57.3" y2="197.64" stroke="#000" stroke-width="1.1"/>
<text x="54.1" y="200.09" font-size="6.8" font-weight="bold" text-anchor="end">400</text>
<line x1="55.1" y1="179.6" x2="57.3" y2="179.6" stroke="#000" stroke-width="1.1"/>
<text x="54.1" y="182.05" font-size="6.8" font-weight="bold" text-anchor="end">500</text>
<line x1="56.8" y1="269.8" x2="157.6" y2="269.8" stroke="#000" stroke-width="1.1"/>
<line x1="70" y1="269.8" x2="70" y2="272" stroke="#000" stroke-width="1"/>
<line x1="88.7" y1="269.8" x2="88.7" y2="272" stroke="#000" stroke-width="1"/>
<line x1="107.3" y1="269.8" x2="107.3" y2="272" stroke="#000" stroke-width="1"/>
<line x1="126.5" y1="269.8" x2="126.5" y2="272" stroke="#000" stroke-width="1"/>
<line x1="145.4" y1="269.8" x2="145.4" y2="272" stroke="#000" stroke-width="1"/>
<rect x="63.9" y="253.2" width="12.2" height="16.6" fill="none" stroke="#111" stroke-width="1.1"/>
<line x1="70" y1="253.2" x2="70" y2="249.6" stroke="#111" stroke-width="0.99"/>
<line x1="67.25" y1="249.6" x2="72.75" y2="249.6" stroke="#111" stroke-width="0.99"/>
<line x1="70" y1="253.2" x2="70" y2="256.81" stroke="#111" stroke-width="0.99"/>
<line x1="67.25" y1="256.81" x2="72.75" y2="256.81" stroke="#111" stroke-width="0.99"/>
<circle cx="67.32" cy="249.96" r="1.6" fill="#111"/>
<circle cx="70" cy="249.6" r="1.6" fill="#111"/>
<circle cx="72.68" cy="250.32" r="1.6" fill="#111"/>
<circle cx="67.32" cy="250.86" r="1.6" fill="#111"/>
<circle cx="70" cy="251.76" r="1.6" fill="#111"/>
<circle cx="72.68" cy="255.37" r="1.6" fill="#111"/>
<circle cx="67.32" cy="257.17" r="1.6" fill="#111"/>
<rect x="82.6" y="246.35" width="12.2" height="23.45" fill="none" stroke="#f59a9a" stroke-width="1.1"/>
<line x1="88.7" y1="246.35" x2="88.7" y2="237.33" stroke="#f59a9a" stroke-width="0.99"/>
<line x1="85.95" y1="237.33" x2="91.45" y2="237.33" stroke="#f59a9a" stroke-width="0.99"/>
<line x1="88.7" y1="246.35" x2="88.7" y2="255.37" stroke="#f59a9a" stroke-width="0.99"/>
<line x1="85.95" y1="255.37" x2="91.45" y2="255.37" stroke="#f59a9a" stroke-width="0.99"/>
<circle cx="86.02" cy="229.21" r="1.6" fill="#f59a9a"/>
<circle cx="88.7" cy="238.23" r="1.6" fill="#f59a9a"/>
<circle cx="91.38" cy="240.94" r="1.6" fill="#f59a9a"/>
<circle cx="86.02" cy="245.45" r="1.6" fill="#f59a9a"/>
<circle cx="88.7" cy="248.15" r="1.6" fill="#f59a9a"/>
<circle cx="91.38" cy="251.76" r="1.6" fill="#f59a9a"/>
<circle cx="86.02" cy="255.37" r="1.6" fill="#f59a9a"/>
<rect x="101.2" y="230.47" width="12.2" height="39.33" fill="none" stroke="#a020f0" stroke-width="1.1"/>
<line x1="107.3" y1="230.47" x2="107.3" y2="211.17" stroke="#a020f0" stroke-width="0.99"/>
<line x1="104.55" y1="211.17" x2="110.05" y2="211.17" stroke="#a020f0" stroke-width="0.99"/>
<line x1="107.3" y1="230.47" x2="107.3" y2="249.78" stroke="#a020f0" stroke-width="0.99"/>
<line x1="104.55" y1="249.78" x2="110.05" y2="249.78" stroke="#a020f0" stroke-width="0.99"/>
<circle cx="104.62" cy="202.15" r="1.6" fill="#a020f0"/>
<circle cx="107.3" cy="208.46" r="1.6" fill="#a020f0"/>
<circle cx="109.98" cy="220.19" r="1.6" fill="#a020f0"/>
<circle cx="104.62" cy="233.72" r="1.6" fill="#a020f0"/>
<circle cx="107.3" cy="240.94" r="1.6" fill="#a020f0"/>
<circle cx="109.98" cy="249.96" r="1.6" fill="#a020f0"/>
<circle cx="104.62" cy="258.07" r="1.6" fill="#a020f0"/>
<rect x="120.4" y="238.77" width="12.2" height="31.03" fill="none" stroke="#f01818" stroke-width="1.1"/>
<line x1="126.5" y1="238.77" x2="126.5" y2="222.54" stroke="#f01818" stroke-width="0.99"/>
<line x1="123.75" y1="222.54" x2="129.25" y2="222.54" stroke="#f01818" stroke-width="0.99"/>
<line x1="126.5" y1="238.77" x2="126.5" y2="255.01" stroke="#f01818" stroke-width="0.99"/>
<line x1="123.75" y1="255.01" x2="129.25" y2="255.01" stroke="#f01818" stroke-width="0.99"/>
<circle cx="123.82" cy="205.76" r="1.6" fill="#f01818"/>
<circle cx="126.5" cy="234.62" r="1.6" fill="#f01818"/>
<circle cx="129.18" cy="240.03" r="1.6" fill="#f01818"/>
<circle cx="123.82" cy="240.94" r="1.6" fill="#f01818"/>
<circle cx="126.5" cy="241.84" r="1.6" fill="#f01818"/>
<circle cx="129.18" cy="255.37" r="1.6" fill="#f01818"/>
<rect x="139.3" y="248.51" width="12.2" height="21.29" fill="none" stroke="#1a2cf0" stroke-width="1.1"/>
<line x1="145.4" y1="248.51" x2="145.4" y2="237.69" stroke="#1a2cf0" stroke-width="0.99"/>
<line x1="142.66" y1="237.69" x2="148.15" y2="237.69" stroke="#1a2cf0" stroke-width="0.99"/>
<line x1="145.4" y1="248.51" x2="145.4" y2="259.34" stroke="#1a2cf0" stroke-width="0.99"/>
<line x1="142.66" y1="259.34" x2="148.15" y2="259.34" stroke="#1a2cf0" stroke-width="0.99"/>
<circle cx="142.72" cy="231.01" r="1.6" fill="#1a2cf0"/>
<circle cx="145.4" cy="231.92" r="1.6" fill="#1a2cf0"/>
<circle cx="148.08" cy="249.96" r="1.6" fill="#1a2cf0"/>
<circle cx="142.72" cy="251.76" r="1.6" fill="#1a2cf0"/>
<circle cx="145.4" cy="252.66" r="1.6" fill="#1a2cf0"/>
<circle cx="148.08" cy="253.56" r="1.6" fill="#1a2cf0"/>
<circle cx="142.72" cy="254.47" r="1.6" fill="#1a2cf0"/>
<line x1="70" y1="195.1" x2="107.3" y2="195.1" stroke="#333" stroke-width="1"/>
<text x="88.65" y="192.9" font-size="5.3" text-anchor="middle" fill="#333">0.0109</text>
<text x="53.9" y="280.8" font-size="6.7" font-weight="bold" text-anchor="end">TAIII [mg/kg]</text>
<text x="59.9" y="280.8" font-size="6.7" font-weight="bold" text-anchor="end">:</text>
<text x="59.9" y="291.1" font-size="6.7" font-weight="bold" text-anchor="end">AZD4635 [mg/kg] :</text>
<text x="70" y="280.8" font-size="6.7" font-weight="bold" text-anchor="middle">-</text>
<text x="70" y="291.1" font-size="6.7" font-weight="bold" text-anchor="middle">-</text>
<text x="88.7" y="280.8" font-size="6.7" font-weight="bold" text-anchor="middle">5</text>
<text x="88.7" y="291.1" font-size="6.7" font-weight="bold" text-anchor="middle">-</text>
<text x="107.3" y="280.8" font-size="6.7" font-weight="bold" text-anchor="middle">10</text>
<text x="107.3" y="291.1" font-size="6.7" font-weight="bold" text-anchor="middle">-</text>
<text x="126.5" y="280.8" font-size="6.7" font-weight="bold" text-anchor="middle">20</text>
<text x="126.5" y="291.1" font-size="6.7" font-weight="bold" text-anchor="middle">-</text>
<text x="145.4" y="280.8" font-size="6.7" font-weight="bold" text-anchor="middle">-</text>
<text x="145.4" y="291.1" font-size="6.7" font-weight="bold" text-anchor="middle">50</text>
<text x="37.5" y="223.6" font-size="7.6" font-weight="bold" text-anchor="middle" transform="rotate(-90 37.5 223.6)">IFN-γ (pg/g)</text>
<text x="270.4" y="163.7" font-size="8.6" font-weight="bold" text-anchor="middle">Serum</text>
<line x1="216.5" y1="269.5" x2="216.5" y2="173.5" stroke="#000" stroke-width="1.1"/>
<line x1="214.3" y1="269" x2="216.5" y2="269" stroke="#000" stroke-width="1.1"/>
<text x="213.3" y="271.45" font-size="6.8" font-weight="bold" text-anchor="end">0</text>
<line x1="214.3" y1="249.9" x2="216.5" y2="249.9" stroke="#000" stroke-width="1.1"/>
<text x="213.3" y="252.35" font-size="6.8" font-weight="bold" text-anchor="end">1000</text>
<line x1="214.3" y1="230.8" x2="216.5" y2="230.8" stroke="#000" stroke-width="1.1"/>
<text x="213.3" y="233.25" font-size="6.8" font-weight="bold" text-anchor="end">2000</text>
<line x1="214.3" y1="211.7" x2="216.5" y2="211.7" stroke="#000" stroke-width="1.1"/>
<text x="213.3" y="214.15" font-size="6.8" font-weight="bold" text-anchor="end">3000</text>
<line x1="214.3" y1="192.6" x2="216.5" y2="192.6" stroke="#000" stroke-width="1.1"/>
<text x="213.3" y="195.05" font-size="6.8" font-weight="bold" text-anchor="end">4000</text>
<line x1="214.3" y1="173.5" x2="216.5" y2="173.5" stroke="#000" stroke-width="1.1"/>
<text x="213.3" y="175.95" font-size="6.8" font-weight="bold" text-anchor="end">5000</text>
<line x1="216" y1="269" x2="324.2" y2="269" stroke="#000" stroke-width="1.1"/>
<line x1="231" y1="269" x2="231" y2="271.2" stroke="#000" stroke-width="1"/>
<line x1="250.6" y1="269" x2="250.6" y2="271.2" stroke="#000" stroke-width="1"/>
<line x1="270.4" y1="269" x2="270.4" y2="271.2" stroke="#000" stroke-width="1"/>
<line x1="290.6" y1="269" x2="290.6" y2="271.2" stroke="#000" stroke-width="1"/>
<line x1="310.3" y1="269" x2="310.3" y2="271.2" stroke="#000" stroke-width="1"/>
<rect x="224.7" y="268.43" width="12.6" height="0.57" fill="none" stroke="#111" stroke-width="1.1"/>
<line x1="231" y1="268.43" x2="231" y2="268.05" stroke="#111" stroke-width="0.99"/>
<line x1="228.16" y1="268.05" x2="233.84" y2="268.05" stroke="#111" stroke-width="0.99"/>
<line x1="231" y1="268.43" x2="231" y2="268.81" stroke="#111" stroke-width="0.99"/>
<line x1="228.16" y1="268.81" x2="233.84" y2="268.81" stroke="#111" stroke-width="0.99"/>
<circle cx="228.23" cy="267.85" r="1.6" fill="#111"/>
<circle cx="231" cy="268.24" r="1.6" fill="#111"/>
<circle cx="233.77" cy="268.43" r="1.6" fill="#111"/>
<circle cx="228.23" cy="268.62" r="1.6" fill="#111"/>
<circle cx="231" cy="268.81" r="1.6" fill="#111"/>
<circle cx="233.77" cy="268.05" r="1.6" fill="#111"/>
<circle cx="228.23" cy="268.43" r="1.6" fill="#111"/>
<rect x="244.3" y="255.25" width="12.6" height="13.75" fill="none" stroke="#f59a9a" stroke-width="1.1"/>
<line x1="250.6" y1="255.25" x2="250.6" y2="243.41" stroke="#f59a9a" stroke-width="0.99"/>
<line x1="247.76" y1="243.41" x2="253.44" y2="243.41" stroke="#f59a9a" stroke-width="0.99"/>
<line x1="250.6" y1="255.25" x2="250.6" y2="267.09" stroke="#f59a9a" stroke-width="0.99"/>
<line x1="247.76" y1="267.09" x2="253.44" y2="267.09" stroke="#f59a9a" stroke-width="0.99"/>
<circle cx="247.83" cy="235" r="1.6" fill="#f59a9a"/>
<circle cx="250.6" cy="243.22" r="1.6" fill="#f59a9a"/>
<circle cx="253.37" cy="249.9" r="1.6" fill="#f59a9a"/>
<circle cx="247.83" cy="255.63" r="1.6" fill="#f59a9a"/>
<circle cx="250.6" cy="262.31" r="1.6" fill="#f59a9a"/>
<circle cx="253.37" cy="263.27" r="1.6" fill="#f59a9a"/>
<circle cx="247.83" cy="264.23" r="1.6" fill="#f59a9a"/>
<rect x="264.1" y="239.39" width="12.6" height="29.61" fill="none" stroke="#a020f0" stroke-width="1.1"/>
<line x1="270.4" y1="239.39" x2="270.4" y2="216.47" stroke="#a020f0" stroke-width="0.99"/>
<line x1="267.56" y1="216.47" x2="273.23" y2="216.47" stroke="#a020f0" stroke-width="0.99"/>
<line x1="270.4" y1="239.39" x2="270.4" y2="262.31" stroke="#a020f0" stroke-width="0.99"/>
<line x1="267.56" y1="262.31" x2="273.23" y2="262.31" stroke="#a020f0" stroke-width="0.99"/>
<circle cx="267.63" cy="199.28" r="1.6" fill="#a020f0"/>
<circle cx="270.4" cy="213.61" r="1.6" fill="#a020f0"/>
<circle cx="273.17" cy="226.02" r="1.6" fill="#a020f0"/>
<circle cx="267.63" cy="249.9" r="1.6" fill="#a020f0"/>
<circle cx="270.4" cy="249.9" r="1.6" fill="#a020f0"/>
<circle cx="273.17" cy="259.45" r="1.6" fill="#a020f0"/>
<circle cx="267.63" cy="259.45" r="1.6" fill="#a020f0"/>
<rect x="284.3" y="244.17" width="12.6" height="24.83" fill="none" stroke="#f01818" stroke-width="1.1"/>
<line x1="290.6" y1="244.17" x2="290.6" y2="225.07" stroke="#f01818" stroke-width="0.99"/>
<line x1="287.77" y1="225.07" x2="293.44" y2="225.07" stroke="#f01818" stroke-width="0.99"/>
<line x1="290.6" y1="244.17" x2="290.6" y2="263.27" stroke="#f01818" stroke-width="0.99"/>
<line x1="287.77" y1="263.27" x2="293.44" y2="263.27" stroke="#f01818" stroke-width="0.99"/>
<circle cx="287.83" cy="222.2" r="1.6" fill="#f01818"/>
<circle cx="290.6" cy="222.2" r="1.6" fill="#f01818"/>
<circle cx="293.37" cy="225.07" r="1.6" fill="#f01818"/>
<circle cx="287.83" cy="250.85" r="1.6" fill="#f01818"/>
<circle cx="290.6" cy="255.63" r="1.6" fill="#f01818"/>
<circle cx="293.37" cy="263.27" r="1.6" fill="#f01818"/>
<circle cx="287.83" cy="268.05" r="1.6" fill="#f01818"/>
<rect x="304" y="267.47" width="12.6" height="1.53" fill="none" stroke="#1a2cf0" stroke-width="1.1"/>
<line x1="310.3" y1="267.47" x2="310.3" y2="264.61" stroke="#1a2cf0" stroke-width="0.99"/>
<line x1="307.47" y1="264.61" x2="313.13" y2="264.61" stroke="#1a2cf0" stroke-width="0.99"/>
<line x1="310.3" y1="267.47" x2="310.3" y2="270.34" stroke="#1a2cf0" stroke-width="0.99"/>
<line x1="307.47" y1="270.34" x2="313.13" y2="270.34" stroke="#1a2cf0" stroke-width="0.99"/>
<circle cx="307.53" cy="261.36" r="1.6" fill="#1a2cf0"/>
<circle cx="310.3" cy="264.23" r="1.6" fill="#1a2cf0"/>
<circle cx="313.07" cy="267.85" r="1.6" fill="#1a2cf0"/>
<circle cx="307.53" cy="268.05" r="1.6" fill="#1a2cf0"/>
<circle cx="310.3" cy="268.24" r="1.6" fill="#1a2cf0"/>
<circle cx="313.07" cy="268.43" r="1.6" fill="#1a2cf0"/>
<circle cx="307.53" cy="268.62" r="1.6" fill="#1a2cf0"/>
<line x1="231" y1="177" x2="290.6" y2="177" stroke="#333" stroke-width="1"/>
<text x="260.8" y="174.8" font-size="5.3" text-anchor="middle" fill="#333">0.0185</text>
<line x1="231" y1="190.7" x2="270.4" y2="190.7" stroke="#333" stroke-width="1"/>
<text x="250.7" y="188.5" font-size="5.3" text-anchor="middle" fill="#333">0.0034</text>
<text x="217" y="280.6" font-size="6.7" font-weight="bold" text-anchor="end">TAIII [mg/kg]</text>
<text x="223" y="280.6" font-size="6.7" font-weight="bold" text-anchor="end">:</text>
<text x="223" y="291" font-size="6.7" font-weight="bold" text-anchor="end">AZD4635 [mg/kg] :</text>
<text x="231" y="280.6" font-size="6.7" font-weight="bold" text-anchor="middle">-</text>
<text x="231" y="291" font-size="6.7" font-weight="bold" text-anchor="middle">-</text>
<text x="250.6" y="280.6" font-size="6.7" font-weight="bold" text-anchor="middle">5</text>
<text x="250.6" y="291" font-size="6.7" font-weight="bold" text-anchor="middle">-</text>
<text x="270.4" y="280.6" font-size="6.7" font-weight="bold" text-anchor="middle">10</text>
<text x="270.4" y="291" font-size="6.7" font-weight="bold" text-anchor="middle">-</text>
<text x="290.6" y="280.6" font-size="6.7" font-weight="bold" text-anchor="middle">20</text>
<text x="290.6" y="291" font-size="6.7" font-weight="bold" text-anchor="middle">-</text>
<text x="310.3" y="280.6" font-size="6.7" font-weight="bold" text-anchor="middle">-</text>
<text x="310.3" y="291" font-size="6.7" font-weight="bold" text-anchor="middle">50</text>
<text x="191.5" y="221" font-size="7.6" font-weight="bold" text-anchor="middle" transform="rotate(-90 191.5 221)">IFN-γ (pg/ml)</text>
<text x="365" y="168.4" font-size="11.5" font-weight="bold">f</text>
<text x="413.7" y="199.4" font-size="8.3" font-weight="bold">Syngeneic model in C57BL/6J</text>
<text x="380.4" y="215.7" font-size="6.9" font-weight="bold">Day 0</text>
<text x="433.9" y="215.7" font-size="6.9" font-weight="bold">Day 6</text>
<line x1="374.1" y1="224.4" x2="595" y2="224.4" stroke="#000" stroke-width="1.6"/>
<path d="M593,221.3 L600,224.4 L593,227.5 Z" fill="#000"/>
<text x="373.4" y="237" font-size="6.9" font-weight="bold">Inoculation</text>
<text x="373.4" y="245.1" font-size="6.9" font-weight="bold">1 ×10<tspan dy="-2.8" font-size="4.5">6</tspan></text>
<text x="373.4" y="253.3" font-size="6.9" font-weight="bold">MC38 cells</text>
<g transform="translate(420.3 231) scale(1)"><path d="M1.5,17.5 C0.2,14 0.3,9 3,6.2 C5,4.2 8,3.6 10.1,3.8 A2.1,2.1 0 1 1 13.7,3.5 C16,4.3 18.6,6.6 20.8,9 C20,10.2 18.5,10.8 17,11 L16.8,11.9 L18,12.9 L17.2,13.9 L15,13.3 L13.9,14.2 L14.3,15.8 L13,17.5 Z" fill="#2f5f80"/><path d="M0.9,17.6 C1.2,20 4,19.9 9,19.8 C13,19.7 16.5,19.4 18.6,18.7" fill="none" stroke="#2f5f80" stroke-width="1.05"/><ellipse cx="16.6" cy="6.8" rx="0.55" ry="0.75" fill="#fff"/></g>
<text x="447.7" y="237" font-size="6.9" font-weight="bold">Anti-PD-1 or</text>
<text x="447.7" y="245.1" font-size="6.9" font-weight="bold">Isotype control</text>
<text x="447.7" y="253.3" font-size="6.9" font-weight="bold">± TAIII Administration</text>
<g transform="translate(526 233.2) scale(0.97)"><path d="M1.5,17.5 C0.2,14 0.3,9 3,6.2 C5,4.2 8,3.6 10.1,3.8 A2.1,2.1 0 1 1 13.7,3.5 C16,4.3 18.6,6.6 20.8,9 C20,10.2 18.5,10.8 17,11 L16.8,11.9 L18,12.9 L17.2,13.9 L15,13.3 L13.9,14.2 L14.3,15.8 L13,17.5 Z" fill="#2f5f80"/><path d="M0.9,17.6 C1.2,20 4,19.9 9,19.8 C13,19.7 16.5,19.4 18.6,18.7" fill="none" stroke="#2f5f80" stroke-width="1.05"/><ellipse cx="16.6" cy="6.8" rx="0.55" ry="0.75" fill="#fff"/><line x1="-4" y1="0.5" x2="4.3" y2="7.5" stroke="#d4e8f4" stroke-width="1.9"/><line x1="0.8" y1="4.4" x2="4.3" y2="7.5" stroke="#bfe0f2" stroke-width="2.1"/><ellipse cx="-5.2" cy="-0.6" rx="1.3" ry="1.0" fill="#f09050" transform="rotate(-40 -5.2 -0.6)"/><line x1="4.3" y1="7.5" x2="8.5" y2="10.6" stroke="#8ab8d8" stroke-width="0.5"/><ellipse cx="7.2" cy="12.3" rx="0.9" ry="1.2" fill="#2aa0e0" transform="rotate(40 7.2 12.3)"/></g>
<text x="553.3" y="241.4" font-size="6.9" font-weight="bold">Tumor growth</text>
<text x="553.3" y="249.6" font-size="6.9" font-weight="bold">monitoring</text>
<text x="1.5" y="330.2" font-size="11.5" font-weight="bold">g</text>
<line x1="41.5" y1="441.2" x2="41.5" y2="353.7" stroke="#000" stroke-width="1.2"/>
<line x1="39.1" y1="440.7" x2="41.5" y2="440.7" stroke="#000" stroke-width="1.2"/>
<text x="38.1" y="443.58" font-size="8" font-weight="bold" text-anchor="end">0</text>
<line x1="39.1" y1="423.3" x2="41.5" y2="423.3" stroke="#000" stroke-width="1.2"/>
<text x="38.1" y="426.18" font-size="8" font-weight="bold" text-anchor="end">500</text>
<line x1="39.1" y1="405.9" x2="41.5" y2="405.9" stroke="#000" stroke-width="1.2"/>
<text x="38.1" y="408.78" font-size="8" font-weight="bold" text-anchor="end">1000</text>
<line x1="39.1" y1="388.5" x2="41.5" y2="388.5" stroke="#000" stroke-width="1.2"/>
<text x="38.1" y="391.38" font-size="8" font-weight="bold" text-anchor="end">1500</text>
<line x1="39.1" y1="371.1" x2="41.5" y2="371.1" stroke="#000" stroke-width="1.2"/>
<text x="38.1" y="373.98" font-size="8" font-weight="bold" text-anchor="end">2000</text>
<line x1="39.1" y1="353.7" x2="41.5" y2="353.7" stroke="#000" stroke-width="1.2"/>
<text x="38.1" y="356.58" font-size="8" font-weight="bold" text-anchor="end">2500</text>
<line x1="41" y1="440.7" x2="188.29" y2="440.7" stroke="#000" stroke-width="1.2"/>
<line x1="41.5" y1="440.7" x2="41.5" y2="443.3" stroke="#000" stroke-width="1.1"/>
<text x="41.5" y="452.8" font-size="8" font-weight="bold" text-anchor="middle">0</text>
<line x1="48.14" y1="440.7" x2="48.14" y2="442.5" stroke="#000" stroke-width="1.1"/>
<line x1="54.79" y1="440.7" x2="54.79" y2="443.3" stroke="#000" stroke-width="1.1"/>
<text x="54.79" y="452.8" font-size="8" font-weight="bold" text-anchor="middle">2</text>
<line x1="61.44" y1="440.7" x2="61.44" y2="442.5" stroke="#000" stroke-width="1.1"/>
<line x1="68.08" y1="440.7" x2="68.08" y2="443.3" stroke="#000" stroke-width="1.1"/>
<text x="68.08" y="452.8" font-size="8" font-weight="bold" text-anchor="middle">4</text>
<line x1="74.72" y1="440.7" x2="74.72" y2="442.5" stroke="#000" stroke-width="1.1"/>
<line x1="81.37" y1="440.7" x2="81.37" y2="443.3" stroke="#000" stroke-width="1.1"/>
<text x="81.37" y="452.8" font-size="8" font-weight="bold" text-anchor="middle">6</text>
<line x1="88.02" y1="440.7" x2="88.02" y2="442.5" stroke="#000" stroke-width="1.1"/>
<line x1="94.66" y1="440.7" x2="94.66" y2="443.3" stroke="#000" stroke-width="1.1"/>
<text x="94.66" y="452.8" font-size="8" font-weight="bold" text-anchor="middle">8</text>
<line x1="101.3" y1="440.7" x2="101.3" y2="442.5" stroke="#000" stroke-width="1.1"/>
<line x1="107.95" y1="440.7" x2="107.95" y2="443.3" stroke="#000" stroke-width="1.1"/>
<text x="107.95" y="452.8" font-size="8" font-weight="bold" text-anchor="middle">10</text>
<line x1="114.59" y1="440.7" x2="114.59" y2="442.5" stroke="#000" stroke-width="1.1"/>
<line x1="121.24" y1="440.7" x2="121.24" y2="443.3" stroke="#000" stroke-width="1.1"/>
<text x="121.24" y="452.8" font-size="8" font-weight="bold" text-anchor="middle">12</text>
<line x1="127.88" y1="440.7" x2="127.88" y2="442.5" stroke="#000" stroke-width="1.1"/>
<line x1="134.53" y1="440.7" x2="134.53" y2="443.3" stroke="#000" stroke-width="1.1"/>
<text x="134.53" y="452.8" font-size="8" font-weight="bold" text-anchor="middle">14</text>
<line x1="141.18" y1="440.7" x2="141.18" y2="442.5" stroke="#000" stroke-width="1.1"/>
<line x1="147.82" y1="440.7" x2="147.82" y2="443.3" stroke="#000" stroke-width="1.1"/>
<text x="147.82" y="452.8" font-size="8" font-weight="bold" text-anchor="middle">16</text>
<line x1="154.46" y1="440.7" x2="154.46" y2="442.5" stroke="#000" stroke-width="1.1"/>
<line x1="161.11" y1="440.7" x2="161.11" y2="443.3" stroke="#000" stroke-width="1.1"/>
<text x="161.11" y="452.8" font-size="8" font-weight="bold" text-anchor="middle">18</text>
<line x1="167.75" y1="440.7" x2="167.75" y2="442.5" stroke="#000" stroke-width="1.1"/>
<line x1="174.4" y1="440.7" x2="174.4" y2="443.3" stroke="#000" stroke-width="1.1"/>
<text x="174.4" y="452.8" font-size="8" font-weight="bold" text-anchor="middle">20</text>
<line x1="181.04" y1="440.7" x2="181.04" y2="442.5" stroke="#000" stroke-width="1.1"/>
<line x1="187.69" y1="440.7" x2="187.69" y2="443.3" stroke="#000" stroke-width="1.1"/>
<text x="187.69" y="452.8" font-size="8" font-weight="bold" text-anchor="middle">22</text>
<text x="114.8" y="464.6" font-size="7.8" font-weight="bold" text-anchor="middle">Days of compd. administration</text>
<text x="16" y="395.5" font-size="7.9" font-weight="bold" text-anchor="middle" transform="rotate(-90 16 395.5)">Tumor size (mm<tspan dy="-2.8" font-size="5.5">3</tspan><tspan dy="2.8">)</tspan></text>
<line x1="41.5" y1="437.22" x2="41.5" y2="436.87" stroke="#2a9a2a" stroke-width="0.9"/>
<line x1="40" y1="436.87" x2="43" y2="436.87" stroke="#2a9a2a" stroke-width="0.9"/>
<line x1="54.79" y1="436.35" x2="54.79" y2="435.83" stroke="#2a9a2a" stroke-width="0.9"/>
<line x1="53.29" y1="435.83" x2="56.29" y2="435.83" stroke="#2a9a2a" stroke-width="0.9"/>
<line x1="68.08" y1="434.61" x2="68.08" y2="433.91" stroke="#2a9a2a" stroke-width="0.9"/>
<line x1="66.58" y1="433.91" x2="69.58" y2="433.91" stroke="#2a9a2a" stroke-width="0.9"/>
<line x1="81.37" y1="432.7" x2="81.37" y2="431.65" stroke="#2a9a2a" stroke-width="0.9"/>
<line x1="79.87" y1="431.65" x2="82.87" y2="431.65" stroke="#2a9a2a" stroke-width="0.9"/>
<line x1="94.66" y1="430.26" x2="94.66" y2="428.87" stroke="#2a9a2a" stroke-width="0.9"/>
<line x1="93.16" y1="428.87" x2="96.16" y2="428.87" stroke="#2a9a2a" stroke-width="0.9"/>
<line x1="107.95" y1="428.52" x2="107.95" y2="426.78" stroke="#2a9a2a" stroke-width="0.9"/>
<line x1="106.45" y1="426.78" x2="109.45" y2="426.78" stroke="#2a9a2a" stroke-width="0.9"/>
<line x1="121.24" y1="427.82" x2="121.24" y2="426.43" stroke="#2a9a2a" stroke-width="0.9"/>
<line x1="119.74" y1="426.43" x2="122.74" y2="426.43" stroke="#2a9a2a" stroke-width="0.9"/>
<line x1="134.53" y1="425.74" x2="134.53" y2="424" stroke="#2a9a2a" stroke-width="0.9"/>
<line x1="133.03" y1="424" x2="136.03" y2="424" stroke="#2a9a2a" stroke-width="0.9"/>
<line x1="147.82" y1="420.52" x2="147.82" y2="418.43" stroke="#2a9a2a" stroke-width="0.9"/>
<line x1="146.32" y1="418.43" x2="149.32" y2="418.43" stroke="#2a9a2a" stroke-width="0.9"/>
<line x1="161.11" y1="416.69" x2="161.11" y2="414.6" stroke="#2a9a2a" stroke-width="0.9"/>
<line x1="159.61" y1="414.6" x2="162.61" y2="414.6" stroke="#2a9a2a" stroke-width="0.9"/>
<line x1="174.4" y1="413.21" x2="174.4" y2="410.42" stroke="#2a9a2a" stroke-width="0.9"/>
<line x1="172.9" y1="410.42" x2="175.9" y2="410.42" stroke="#2a9a2a" stroke-width="0.9"/>
<line x1="187.69" y1="403.39" x2="187.69" y2="399.91" stroke="#2a9a2a" stroke-width="0.9"/>
<line x1="186.19" y1="399.91" x2="189.19" y2="399.91" stroke="#2a9a2a" stroke-width="0.9"/>
<polyline points="41.5,437.22 54.79,436.35 68.08,434.61 81.37,432.7 94.66,430.26 107.95,428.52 121.24,427.82 134.53,425.74 147.82,420.52 161.11,416.69 174.4,413.21 187.69,403.39" fill="none" stroke="#2a9a2a" stroke-width="1.2"/>
<circle cx="41.5" cy="437.22" r="1.2" fill="#2a9a2a"/>
<circle cx="54.79" cy="436.35" r="1.2" fill="#2a9a2a"/>
<circle cx="68.08" cy="434.61" r="1.2" fill="#2a9a2a"/>
<circle cx="81.37" cy="432.7" r="1.2" fill="#2a9a2a"/>
<circle cx="94.66" cy="430.26" r="1.2" fill="#2a9a2a"/>
<circle cx="107.95" cy="428.52" r="1.2" fill="#2a9a2a"/>
<circle cx="121.24" cy="427.82" r="1.2" fill="#2a9a2a"/>
<circle cx="134.53" cy="425.74" r="1.2" fill="#2a9a2a"/>
<circle cx="147.82" cy="420.52" r="1.2" fill="#2a9a2a"/>
<circle cx="161.11" cy="416.69" r="1.2" fill="#2a9a2a"/>
<circle cx="174.4" cy="413.21" r="1.2" fill="#2a9a2a"/>
<circle cx="187.69" cy="403.39" r="1.2" fill="#2a9a2a"/>
<line x1="41.5" y1="437.39" x2="41.5" y2="437.05" stroke="#f59a9a" stroke-width="0.9"/>
<line x1="40" y1="437.05" x2="43" y2="437.05" stroke="#f59a9a" stroke-width="0.9"/>
<line x1="54.79" y1="437.22" x2="54.79" y2="436.87" stroke="#f59a9a" stroke-width="0.9"/>
<line x1="53.29" y1="436.87" x2="56.29" y2="436.87" stroke="#f59a9a" stroke-width="0.9"/>
<line x1="68.08" y1="436.18" x2="68.08" y2="435.65" stroke="#f59a9a" stroke-width="0.9"/>
<line x1="66.58" y1="435.65" x2="69.58" y2="435.65" stroke="#f59a9a" stroke-width="0.9"/>
<line x1="81.37" y1="435.48" x2="81.37" y2="434.78" stroke="#f59a9a" stroke-width="0.9"/>
<line x1="79.87" y1="434.78" x2="82.87" y2="434.78" stroke="#f59a9a" stroke-width="0.9"/>
<line x1="94.66" y1="433.74" x2="94.66" y2="433.04" stroke="#f59a9a" stroke-width="0.9"/>
<line x1="93.16" y1="433.04" x2="96.16" y2="433.04" stroke="#f59a9a" stroke-width="0.9"/>
<line x1="107.95" y1="431.83" x2="107.95" y2="430.78" stroke="#f59a9a" stroke-width="0.9"/>
<line x1="106.45" y1="430.78" x2="109.45" y2="430.78" stroke="#f59a9a" stroke-width="0.9"/>
<line x1="121.24" y1="430.96" x2="121.24" y2="429.91" stroke="#f59a9a" stroke-width="0.9"/>
<line x1="119.74" y1="429.91" x2="122.74" y2="429.91" stroke="#f59a9a" stroke-width="0.9"/>
<line x1="134.53" y1="430.47" x2="134.53" y2="429.08" stroke="#f59a9a" stroke-width="0.9"/>
<line x1="133.03" y1="429.08" x2="136.03" y2="429.08" stroke="#f59a9a" stroke-width="0.9"/>
<line x1="147.82" y1="430.16" x2="147.82" y2="428.76" stroke="#f59a9a" stroke-width="0.9"/>
<line x1="146.32" y1="428.76" x2="149.32" y2="428.76" stroke="#f59a9a" stroke-width="0.9"/>
<line x1="161.11" y1="429.22" x2="161.11" y2="427.48" stroke="#f59a9a" stroke-width="0.9"/>
<line x1="159.61" y1="427.48" x2="162.61" y2="427.48" stroke="#f59a9a" stroke-width="0.9"/>
<line x1="174.4" y1="427.62" x2="174.4" y2="425.53" stroke="#f59a9a" stroke-width="0.9"/>
<line x1="172.9" y1="425.53" x2="175.9" y2="425.53" stroke="#f59a9a" stroke-width="0.9"/>
<line x1="187.69" y1="425.32" x2="187.69" y2="421.49" stroke="#f59a9a" stroke-width="0.9"/>
<line x1="186.19" y1="421.49" x2="189.19" y2="421.49" stroke="#f59a9a" stroke-width="0.9"/>
<polyline points="41.5,437.39 54.79,437.22 68.08,436.18 81.37,435.48 94.66,433.74 107.95,431.83 121.24,430.96 134.53,430.47 147.82,430.16 161.11,429.22 174.4,427.62 187.69,425.32" fill="none" stroke="#f59a9a" stroke-width="0.9"/>
<circle cx="41.5" cy="437.39" r="1.2" fill="#f59a9a"/>
<circle cx="54.79" cy="437.22" r="1.2" fill="#f59a9a"/>
<circle cx="68.08" cy="436.18" r="1.2" fill="#f59a9a"/>
<circle cx="81.37" cy="435.48" r="1.2" fill="#f59a9a"/>
<circle cx="94.66" cy="433.74" r="1.2" fill="#f59a9a"/>
<circle cx="107.95" cy="431.83" r="1.2" fill="#f59a9a"/>
<circle cx="121.24" cy="430.96" r="1.2" fill="#f59a9a"/>
<circle cx="134.53" cy="430.47" r="1.2" fill="#f59a9a"/>
<circle cx="147.82" cy="430.16" r="1.2" fill="#f59a9a"/>
<circle cx="161.11" cy="429.22" r="1.2" fill="#f59a9a"/>
<circle cx="174.4" cy="427.62" r="1.2" fill="#f59a9a"/>
<circle cx="187.69" cy="425.32" r="1.2" fill="#f59a9a"/>
<line x1="41.5" y1="437.22" x2="41.5" y2="436.87" stroke="#f01818" stroke-width="0.9"/>
<line x1="40" y1="436.87" x2="43" y2="436.87" stroke="#f01818" stroke-width="0.9"/>
<line x1="54.79" y1="437.22" x2="54.79" y2="436.87" stroke="#f01818" stroke-width="0.9"/>
<line x1="53.29" y1="436.87" x2="56.29" y2="436.87" stroke="#f01818" stroke-width="0.9"/>
<line x1="68.08" y1="436.52" x2="68.08" y2="436.18" stroke="#f01818" stroke-width="0.9"/>
<line x1="66.58" y1="436.18" x2="69.58" y2="436.18" stroke="#f01818" stroke-width="0.9"/>
<line x1="81.37" y1="436.87" x2="81.37" y2="436.52" stroke="#f01818" stroke-width="0.9"/>
<line x1="79.87" y1="436.52" x2="82.87" y2="436.52" stroke="#f01818" stroke-width="0.9"/>
<line x1="94.66" y1="435.83" x2="94.66" y2="435.31" stroke="#f01818" stroke-width="0.9"/>
<line x1="93.16" y1="435.31" x2="96.16" y2="435.31" stroke="#f01818" stroke-width="0.9"/>
<line x1="107.95" y1="436.87" x2="107.95" y2="436.52" stroke="#f01818" stroke-width="0.9"/>
<line x1="106.45" y1="436.52" x2="109.45" y2="436.52" stroke="#f01818" stroke-width="0.9"/>
<line x1="121.24" y1="436.87" x2="121.24" y2="436.52" stroke="#f01818" stroke-width="0.9"/>
<line x1="119.74" y1="436.52" x2="122.74" y2="436.52" stroke="#f01818" stroke-width="0.9"/>
<line x1="134.53" y1="437.29" x2="134.53" y2="436.94" stroke="#f01818" stroke-width="0.9"/>
<line x1="133.03" y1="436.94" x2="136.03" y2="436.94" stroke="#f01818" stroke-width="0.9"/>
<line x1="147.82" y1="437.92" x2="147.82" y2="437.57" stroke="#f01818" stroke-width="0.9"/>
<line x1="146.32" y1="437.57" x2="149.32" y2="437.57" stroke="#f01818" stroke-width="0.9"/>
<line x1="161.11" y1="437.74" x2="161.11" y2="437.39" stroke="#f01818" stroke-width="0.9"/>
<line x1="159.61" y1="437.39" x2="162.61" y2="437.39" stroke="#f01818" stroke-width="0.9"/>
<line x1="174.4" y1="437.29" x2="174.4" y2="436.94" stroke="#f01818" stroke-width="0.9"/>
<line x1="172.9" y1="436.94" x2="175.9" y2="436.94" stroke="#f01818" stroke-width="0.9"/>
<line x1="187.69" y1="436.42" x2="187.69" y2="435.9" stroke="#f01818" stroke-width="0.9"/>
<line x1="186.19" y1="435.9" x2="189.19" y2="435.9" stroke="#f01818" stroke-width="0.9"/>
<polyline points="41.5,437.22 54.79,437.22 68.08,436.52 81.37,436.87 94.66,435.83 107.95,436.87 121.24,436.87 134.53,437.29 147.82,437.92 161.11,437.74 174.4,437.29 187.69,436.42" fill="none" stroke="#f01818" stroke-width="1.2"/>
<circle cx="41.5" cy="437.22" r="1.2" fill="#f01818"/>
<circle cx="54.79" cy="437.22" r="1.2" fill="#f01818"/>
<circle cx="68.08" cy="436.52" r="1.2" fill="#f01818"/>
<circle cx="81.37" cy="436.87" r="1.2" fill="#f01818"/>
<circle cx="94.66" cy="435.83" r="1.2" fill="#f01818"/>
<circle cx="107.95" cy="436.87" r="1.2" fill="#f01818"/>
<circle cx="121.24" cy="436.87" r="1.2" fill="#f01818"/>
<circle cx="134.53" cy="437.29" r="1.2" fill="#f01818"/>
<circle cx="147.82" cy="437.92" r="1.2" fill="#f01818"/>
<circle cx="161.11" cy="437.74" r="1.2" fill="#f01818"/>
<circle cx="174.4" cy="437.29" r="1.2" fill="#f01818"/>
<circle cx="187.69" cy="436.42" r="1.2" fill="#f01818"/>
<line x1="41.5" y1="437.39" x2="41.5" y2="437.05" stroke="#c030e8" stroke-width="0.9"/>
<line x1="40" y1="437.05" x2="43" y2="437.05" stroke="#c030e8" stroke-width="0.9"/>
<line x1="54.79" y1="436.7" x2="54.79" y2="436.18" stroke="#c030e8" stroke-width="0.9"/>
<line x1="53.29" y1="436.18" x2="56.29" y2="436.18" stroke="#c030e8" stroke-width="0.9"/>
<line x1="68.08" y1="434.96" x2="68.08" y2="434.26" stroke="#c030e8" stroke-width="0.9"/>
<line x1="66.58" y1="434.26" x2="69.58" y2="434.26" stroke="#c030e8" stroke-width="0.9"/>
<line x1="81.37" y1="433.39" x2="81.37" y2="432.52" stroke="#c030e8" stroke-width="0.9"/>
<line x1="79.87" y1="432.52" x2="82.87" y2="432.52" stroke="#c030e8" stroke-width="0.9"/>
<line x1="94.66" y1="431.65" x2="94.66" y2="430.61" stroke="#c030e8" stroke-width="0.9"/>
<line x1="93.16" y1="430.61" x2="96.16" y2="430.61" stroke="#c030e8" stroke-width="0.9"/>
<line x1="107.95" y1="429.56" x2="107.95" y2="428.17" stroke="#c030e8" stroke-width="0.9"/>
<line x1="106.45" y1="428.17" x2="109.45" y2="428.17" stroke="#c030e8" stroke-width="0.9"/>
<line x1="121.24" y1="428.52" x2="121.24" y2="426.78" stroke="#c030e8" stroke-width="0.9"/>
<line x1="119.74" y1="426.78" x2="122.74" y2="426.78" stroke="#c030e8" stroke-width="0.9"/>
<line x1="134.53" y1="425.74" x2="134.53" y2="423.65" stroke="#c030e8" stroke-width="0.9"/>
<line x1="133.03" y1="423.65" x2="136.03" y2="423.65" stroke="#c030e8" stroke-width="0.9"/>
<line x1="147.82" y1="419.12" x2="147.82" y2="416.34" stroke="#c030e8" stroke-width="0.9"/>
<line x1="146.32" y1="416.34" x2="149.32" y2="416.34" stroke="#c030e8" stroke-width="0.9"/>
<line x1="161.11" y1="411.47" x2="161.11" y2="407.29" stroke="#c030e8" stroke-width="0.9"/>
<line x1="159.61" y1="407.29" x2="162.61" y2="407.29" stroke="#c030e8" stroke-width="0.9"/>
<line x1="174.4" y1="401.72" x2="174.4" y2="394.42" stroke="#c030e8" stroke-width="0.9"/>
<line x1="172.9" y1="394.42" x2="175.9" y2="394.42" stroke="#c030e8" stroke-width="0.9"/>
<line x1="187.69" y1="383.38" x2="187.69" y2="372.42" stroke="#c030e8" stroke-width="0.9"/>
<line x1="186.19" y1="372.42" x2="189.19" y2="372.42" stroke="#c030e8" stroke-width="0.9"/>
<polyline points="41.5,437.39 54.79,436.7 68.08,434.96 81.37,433.39 94.66,431.65 107.95,429.56 121.24,428.52 134.53,425.74 147.82,419.12 161.11,411.47 174.4,401.72 187.69,383.38" fill="none" stroke="#c030e8" stroke-width="1.2"/>
<circle cx="41.5" cy="437.39" r="1.2" fill="#c030e8"/>
<circle cx="54.79" cy="436.7" r="1.2" fill="#c030e8"/>
<circle cx="68.08" cy="434.96" r="1.2" fill="#c030e8"/>
<circle cx="81.37" cy="433.39" r="1.2" fill="#c030e8"/>
<circle cx="94.66" cy="431.65" r="1.2" fill="#c030e8"/>
<circle cx="107.95" cy="429.56" r="1.2" fill="#c030e8"/>
<circle cx="121.24" cy="428.52" r="1.2" fill="#c030e8"/>
<circle cx="134.53" cy="425.74" r="1.2" fill="#c030e8"/>
<circle cx="147.82" cy="419.12" r="1.2" fill="#c030e8"/>
<circle cx="161.11" cy="411.47" r="1.2" fill="#c030e8"/>
<circle cx="174.4" cy="401.72" r="1.2" fill="#c030e8"/>
<circle cx="187.69" cy="383.38" r="1.2" fill="#c030e8"/>
<line x1="41.5" y1="437.22" x2="41.5" y2="436.87" stroke="#1a2cf0" stroke-width="0.9"/>
<line x1="40" y1="436.87" x2="43" y2="436.87" stroke="#1a2cf0" stroke-width="0.9"/>
<line x1="54.79" y1="436.87" x2="54.79" y2="436.35" stroke="#1a2cf0" stroke-width="0.9"/>
<line x1="53.29" y1="436.35" x2="56.29" y2="436.35" stroke="#1a2cf0" stroke-width="0.9"/>
<line x1="68.08" y1="435.13" x2="68.08" y2="434.44" stroke="#1a2cf0" stroke-width="0.9"/>
<line x1="66.58" y1="434.44" x2="69.58" y2="434.44" stroke="#1a2cf0" stroke-width="0.9"/>
<line x1="81.37" y1="433.74" x2="81.37" y2="432.87" stroke="#1a2cf0" stroke-width="0.9"/>
<line x1="79.87" y1="432.87" x2="82.87" y2="432.87" stroke="#1a2cf0" stroke-width="0.9"/>
<line x1="94.66" y1="432.35" x2="94.66" y2="431.3" stroke="#1a2cf0" stroke-width="0.9"/>
<line x1="93.16" y1="431.3" x2="96.16" y2="431.3" stroke="#1a2cf0" stroke-width="0.9"/>
<line x1="107.95" y1="429.91" x2="107.95" y2="428.52" stroke="#1a2cf0" stroke-width="0.9"/>
<line x1="106.45" y1="428.52" x2="109.45" y2="428.52" stroke="#1a2cf0" stroke-width="0.9"/>
<line x1="121.24" y1="428.87" x2="121.24" y2="427.13" stroke="#1a2cf0" stroke-width="0.9"/>
<line x1="119.74" y1="427.13" x2="122.74" y2="427.13" stroke="#1a2cf0" stroke-width="0.9"/>
<line x1="134.53" y1="425.49" x2="134.53" y2="422.36" stroke="#1a2cf0" stroke-width="0.9"/>
<line x1="133.03" y1="422.36" x2="136.03" y2="422.36" stroke="#1a2cf0" stroke-width="0.9"/>
<line x1="147.82" y1="420.52" x2="147.82" y2="418.08" stroke="#1a2cf0" stroke-width="0.9"/>
<line x1="146.32" y1="418.08" x2="149.32" y2="418.08" stroke="#1a2cf0" stroke-width="0.9"/>
<line x1="161.11" y1="414.25" x2="161.11" y2="410.77" stroke="#1a2cf0" stroke-width="0.9"/>
<line x1="159.61" y1="410.77" x2="162.61" y2="410.77" stroke="#1a2cf0" stroke-width="0.9"/>
<line x1="174.4" y1="407.4" x2="174.4" y2="403.22" stroke="#1a2cf0" stroke-width="0.9"/>
<line x1="172.9" y1="403.22" x2="175.9" y2="403.22" stroke="#1a2cf0" stroke-width="0.9"/>
<line x1="187.69" y1="396.4" x2="187.69" y2="391.18" stroke="#1a2cf0" stroke-width="0.9"/>
<line x1="186.19" y1="391.18" x2="189.19" y2="391.18" stroke="#1a2cf0" stroke-width="0.9"/>
<polyline points="41.5,437.22 54.79,436.87 68.08,435.13 81.37,433.74 94.66,432.35 107.95,429.91 121.24,428.87 134.53,425.49 147.82,420.52 161.11,414.25 174.4,407.4 187.69,396.4" fill="none" stroke="#1a2cf0" stroke-width="1.2"/>
<circle cx="41.5" cy="437.22" r="1.2" fill="#1a2cf0"/>
<circle cx="54.79" cy="436.87" r="1.2" fill="#1a2cf0"/>
<circle cx="68.08" cy="435.13" r="1.2" fill="#1a2cf0"/>
<circle cx="81.37" cy="433.74" r="1.2" fill="#1a2cf0"/>
<circle cx="94.66" cy="432.35" r="1.2" fill="#1a2cf0"/>
<circle cx="107.95" cy="429.91" r="1.2" fill="#1a2cf0"/>
<circle cx="121.24" cy="428.87" r="1.2" fill="#1a2cf0"/>
<circle cx="134.53" cy="425.49" r="1.2" fill="#1a2cf0"/>
<circle cx="147.82" cy="420.52" r="1.2" fill="#1a2cf0"/>
<circle cx="161.11" cy="414.25" r="1.2" fill="#1a2cf0"/>
<circle cx="174.4" cy="407.4" r="1.2" fill="#1a2cf0"/>
<circle cx="187.69" cy="396.4" r="1.2" fill="#1a2cf0"/>
<line x1="41.5" y1="437.22" x2="41.5" y2="436.87" stroke="#111" stroke-width="0.9"/>
<line x1="40" y1="436.87" x2="43" y2="436.87" stroke="#111" stroke-width="0.9"/>
<line x1="54.79" y1="436" x2="54.79" y2="435.48" stroke="#111" stroke-width="0.9"/>
<line x1="53.29" y1="435.48" x2="56.29" y2="435.48" stroke="#111" stroke-width="0.9"/>
<line x1="68.08" y1="434.26" x2="68.08" y2="433.57" stroke="#111" stroke-width="0.9"/>
<line x1="66.58" y1="433.57" x2="69.58" y2="433.57" stroke="#111" stroke-width="0.9"/>
<line x1="81.37" y1="432.35" x2="81.37" y2="431.3" stroke="#111" stroke-width="0.9"/>
<line x1="79.87" y1="431.3" x2="82.87" y2="431.3" stroke="#111" stroke-width="0.9"/>
<line x1="94.66" y1="431.65" x2="94.66" y2="430.26" stroke="#111" stroke-width="0.9"/>
<line x1="93.16" y1="430.26" x2="96.16" y2="430.26" stroke="#111" stroke-width="0.9"/>
<line x1="107.95" y1="429.01" x2="107.95" y2="426.92" stroke="#111" stroke-width="0.9"/>
<line x1="106.45" y1="426.92" x2="109.45" y2="426.92" stroke="#111" stroke-width="0.9"/>
<line x1="121.24" y1="428.52" x2="121.24" y2="426.78" stroke="#111" stroke-width="0.9"/>
<line x1="119.74" y1="426.78" x2="122.74" y2="426.78" stroke="#111" stroke-width="0.9"/>
<line x1="134.53" y1="425.49" x2="134.53" y2="423.4" stroke="#111" stroke-width="0.9"/>
<line x1="133.03" y1="423.4" x2="136.03" y2="423.4" stroke="#111" stroke-width="0.9"/>
<line x1="147.82" y1="418.08" x2="147.82" y2="412.86" stroke="#111" stroke-width="0.9"/>
<line x1="146.32" y1="412.86" x2="149.32" y2="412.86" stroke="#111" stroke-width="0.9"/>
<line x1="161.11" y1="409.21" x2="161.11" y2="399.64" stroke="#111" stroke-width="0.9"/>
<line x1="159.61" y1="399.64" x2="162.61" y2="399.64" stroke="#111" stroke-width="0.9"/>
<line x1="174.4" y1="404.51" x2="174.4" y2="398.94" stroke="#111" stroke-width="0.9"/>
<line x1="172.9" y1="398.94" x2="175.9" y2="398.94" stroke="#111" stroke-width="0.9"/>
<line x1="187.69" y1="389.89" x2="187.69" y2="378.41" stroke="#111" stroke-width="0.9"/>
<line x1="186.19" y1="378.41" x2="189.19" y2="378.41" stroke="#111" stroke-width="0.9"/>
<polyline points="41.5,437.22 54.79,436 68.08,434.26 81.37,432.35 94.66,431.65 107.95,429.01 121.24,428.52 134.53,425.49 147.82,418.08 161.11,409.21 174.4,404.51 187.69,389.89" fill="none" stroke="#111" stroke-width="1.2"/>
<circle cx="41.5" cy="437.22" r="1.2" fill="#111"/>
<circle cx="54.79" cy="436" r="1.2" fill="#111"/>
<circle cx="68.08" cy="434.26" r="1.2" fill="#111"/>
<circle cx="81.37" cy="432.35" r="1.2" fill="#111"/>
<circle cx="94.66" cy="431.65" r="1.2" fill="#111"/>
<circle cx="107.95" cy="429.01" r="1.2" fill="#111"/>
<circle cx="121.24" cy="428.52" r="1.2" fill="#111"/>
<circle cx="134.53" cy="425.49" r="1.2" fill="#111"/>
<circle cx="147.82" cy="418.08" r="1.2" fill="#111"/>
<circle cx="161.11" cy="409.21" r="1.2" fill="#111"/>
<circle cx="174.4" cy="404.51" r="1.2" fill="#111"/>
<circle cx="187.69" cy="389.89" r="1.2" fill="#111"/>
<line x1="47.3" y1="357" x2="55.7" y2="357" stroke="#111" stroke-width="1.2"/>
<circle cx="51.5" cy="357" r="1.3" fill="#111"/>
<text x="60.4" y="359.5" font-size="7">Vehicle</text>
<line x1="47.3" y1="366.95" x2="55.7" y2="366.95" stroke="#1a2cf0" stroke-width="1.2"/>
<circle cx="51.5" cy="366.95" r="1.3" fill="#1a2cf0"/>
<text x="60.4" y="369.45" font-size="7">TAIII</text>
<line x1="47.3" y1="376.9" x2="55.7" y2="376.9" stroke="#f59a9a" stroke-width="1.2"/>
<circle cx="51.5" cy="376.9" r="1.3" fill="#f59a9a"/>
<text x="60.4" y="379.4" font-size="7">αPD-1</text>
<line x1="47.3" y1="386.85" x2="55.7" y2="386.85" stroke="#f01818" stroke-width="1.2"/>
<circle cx="51.5" cy="386.85" r="1.3" fill="#f01818"/>
<text x="60.4" y="389.35" font-size="7">αPD-1-combo</text>
<line x1="47.3" y1="396.8" x2="55.7" y2="396.8" stroke="#c030e8" stroke-width="1.2"/>
<circle cx="51.5" cy="396.8" r="1.3" fill="#c030e8"/>
<text x="60.4" y="399.3" font-size="7">Isotype</text>
<line x1="47.3" y1="406.75" x2="55.7" y2="406.75" stroke="#2a9a2a" stroke-width="1.2"/>
<circle cx="51.5" cy="406.75" r="1.3" fill="#2a9a2a"/>
<text x="60.4" y="409.25" font-size="7">Isotype-combo</text>
<line x1="108.4" y1="374.7" x2="108.4" y2="387.3" stroke="#222" stroke-width="1"/>
<text x="112.4" y="381" font-size="6.2" text-anchor="middle" fill="#111" transform="rotate(90 112.4 381)">0.0233</text>
<line x1="121.4" y1="366.3" x2="121.4" y2="388.7" stroke="#222" stroke-width="1"/>
<text x="125.4" y="377.5" font-size="6.2" text-anchor="middle" fill="#111" transform="rotate(90 125.4 377.5)"><0.0001</text>
<line x1="134.5" y1="358.9" x2="134.5" y2="388.2" stroke="#222" stroke-width="1"/>
<text x="138.5" y="373.55" font-size="6.2" text-anchor="middle" fill="#111" transform="rotate(90 138.5 373.55)"><0.0001</text>
<line x1="147.7" y1="354.4" x2="147.7" y2="372.9" stroke="#222" stroke-width="1"/>
<text x="151.7" y="363.65" font-size="6.2" text-anchor="middle" fill="#111" transform="rotate(90 151.7 363.65)"><0.0001</text>
<text x="222.8" y="329.8" font-size="11.5" font-weight="bold">h</text>
<line x1="274.4" y1="358.93" x2="374" y2="358.93" stroke="#aaaaaa" stroke-width="0.6" stroke-dasharray="4.5,2.2"/>
<line x1="274.4" y1="338.16" x2="374" y2="338.16" stroke="#aaaaaa" stroke-width="0.6" stroke-dasharray="4.5,2.2"/>
<line x1="274.4" y1="317.39" x2="374" y2="317.39" stroke="#aaaaaa" stroke-width="0.6" stroke-dasharray="4.5,2.2"/>
<line x1="274.4" y1="380.2" x2="274.4" y2="317.39" stroke="#000" stroke-width="1.3"/>
<line x1="271.4" y1="379.7" x2="274.4" y2="379.7" stroke="#000" stroke-width="1.3"/>
<text x="271" y="382.11" font-size="6.7" font-weight="bold" text-anchor="end">0</text>
<line x1="271.4" y1="358.93" x2="274.4" y2="358.93" stroke="#000" stroke-width="1.3"/>
<text x="271" y="361.34" font-size="6.7" font-weight="bold" text-anchor="end">1000</text>
<line x1="271.4" y1="338.16" x2="274.4" y2="338.16" stroke="#000" stroke-width="1.3"/>
<text x="271" y="340.57" font-size="6.7" font-weight="bold" text-anchor="end">2000</text>
<line x1="271.4" y1="317.39" x2="274.4" y2="317.39" stroke="#000" stroke-width="1.3"/>
<text x="271" y="319.8" font-size="6.7" font-weight="bold" text-anchor="end">3000</text>
<line x1="273.9" y1="379.7" x2="374.5" y2="379.7" stroke="#000" stroke-width="1.3"/>
<line x1="274.4" y1="379.7" x2="274.4" y2="382.7" stroke="#000" stroke-width="1"/>
<text x="276.6" y="389.1" font-size="7" font-weight="bold" text-anchor="end" transform="rotate(-45 276.6 389.1)">0</text>
<line x1="278.93" y1="379.7" x2="278.93" y2="382.7" stroke="#000" stroke-width="1"/>
<line x1="283.45" y1="379.7" x2="283.45" y2="382.7" stroke="#000" stroke-width="1"/>
<text x="285.65" y="389.1" font-size="7" font-weight="bold" text-anchor="end" transform="rotate(-45 285.65 389.1)">2</text>
<line x1="287.98" y1="379.7" x2="287.98" y2="382.7" stroke="#000" stroke-width="1"/>
<line x1="292.51" y1="379.7" x2="292.51" y2="382.7" stroke="#000" stroke-width="1"/>
<text x="294.71" y="389.1" font-size="7" font-weight="bold" text-anchor="end" transform="rotate(-45 294.71 389.1)">4</text>
<line x1="297.04" y1="379.7" x2="297.04" y2="382.7" stroke="#000" stroke-width="1"/>
<line x1="301.56" y1="379.7" x2="301.56" y2="382.7" stroke="#000" stroke-width="1"/>
<text x="303.76" y="389.1" font-size="7" font-weight="bold" text-anchor="end" transform="rotate(-45 303.76 389.1)">6</text>
<line x1="306.09" y1="379.7" x2="306.09" y2="382.7" stroke="#000" stroke-width="1"/>
<line x1="310.62" y1="379.7" x2="310.62" y2="382.7" stroke="#000" stroke-width="1"/>
<text x="312.82" y="389.1" font-size="7" font-weight="bold" text-anchor="end" transform="rotate(-45 312.82 389.1)">8</text>
<line x1="315.15" y1="379.7" x2="315.15" y2="382.7" stroke="#000" stroke-width="1"/>
<line x1="319.67" y1="379.7" x2="319.67" y2="382.7" stroke="#000" stroke-width="1"/>
<text x="321.87" y="389.1" font-size="7" font-weight="bold" text-anchor="end" transform="rotate(-45 321.87 389.1)">10</text>
<line x1="324.2" y1="379.7" x2="324.2" y2="382.7" stroke="#000" stroke-width="1"/>
<line x1="328.73" y1="379.7" x2="328.73" y2="382.7" stroke="#000" stroke-width="1"/>
<text x="330.93" y="389.1" font-size="7" font-weight="bold" text-anchor="end" transform="rotate(-45 330.93 389.1)">12</text>
<line x1="333.25" y1="379.7" x2="333.25" y2="382.7" stroke="#000" stroke-width="1"/>
<line x1="337.78" y1="379.7" x2="337.78" y2="382.7" stroke="#000" stroke-width="1"/>
<text x="339.98" y="389.1" font-size="7" font-weight="bold" text-anchor="end" transform="rotate(-45 339.98 389.1)">14</text>
<line x1="342.31" y1="379.7" x2="342.31" y2="382.7" stroke="#000" stroke-width="1"/>
<line x1="346.84" y1="379.7" x2="346.84" y2="382.7" stroke="#000" stroke-width="1"/>
<text x="349.04" y="389.1" font-size="7" font-weight="bold" text-anchor="end" transform="rotate(-45 349.04 389.1)">16</text>
<line x1="351.36" y1="379.7" x2="351.36" y2="382.7" stroke="#000" stroke-width="1"/>
<line x1="355.89" y1="379.7" x2="355.89" y2="382.7" stroke="#000" stroke-width="1"/>
<text x="358.09" y="389.1" font-size="7" font-weight="bold" text-anchor="end" transform="rotate(-45 358.09 389.1)">18</text>
<line x1="360.42" y1="379.7" x2="360.42" y2="382.7" stroke="#000" stroke-width="1"/>
<line x1="364.95" y1="379.7" x2="364.95" y2="382.7" stroke="#000" stroke-width="1"/>
<text x="367.15" y="389.1" font-size="7" font-weight="bold" text-anchor="end" transform="rotate(-45 367.15 389.1)">20</text>
<line x1="369.47" y1="379.7" x2="369.47" y2="382.7" stroke="#000" stroke-width="1"/>
<line x1="374" y1="379.7" x2="374" y2="382.7" stroke="#000" stroke-width="1"/>
<text x="376.2" y="389.1" font-size="7" font-weight="bold" text-anchor="end" transform="rotate(-45 376.2 389.1)">22</text>
<text x="324.2" y="402.6" font-size="6.65" font-weight="bold" text-anchor="middle">Days post randomization</text>
<text x="319.3" y="307.8" font-size="6.45" font-weight="bold" text-anchor="middle">Vehicle</text>
<text x="252.5" y="347.7" font-size="6.6" font-weight="bold" text-anchor="middle" transform="rotate(-90 252.5 347.7)">Tumor Volume (mm<tspan dy="-2.3" font-size="4.6">3</tspan><tspan dy="2.3">)</tspan></text>
<polyline points="274.4,377.62 283.45,376.58 292.51,375.55 301.56,374.51 310.62,373.47 319.67,371.81 328.73,370.35 337.78,368.9 346.84,358.93 355.89,346.47 364.95,346.47 374,326.74" fill="none" stroke="#111" stroke-width="0.9"/>
<polyline points="274.4,377.21 283.45,376.17 292.51,375.13 301.56,374.51 310.62,372.43 319.67,370.98 328.73,369.73 337.78,364.75 346.84,357.89 355.89,352.7 364.95,346.05 374,328.19" fill="none" stroke="#111" stroke-width="0.9"/>
<polyline points="274.4,378.04 283.45,377 292.51,375.55 301.56,374.3 310.62,373.05 319.67,371.39 328.73,368.07 337.78,364.75 346.84,363.08 355.89,359.97 364.95,358.93 374,353.11" fill="none" stroke="#111" stroke-width="0.9"/>
<polyline points="274.4,377.62 283.45,376.58 292.51,375.55 301.56,374.51 310.62,373.47 319.67,372.43 328.73,371.81 337.78,370.98 346.84,367.24 355.89,361.01 364.95,359.97 374,358.51" fill="none" stroke="#111" stroke-width="0.9"/>
<polyline points="274.4,377.21 283.45,376.38 292.51,375.55 301.56,374.51 310.62,373.88 319.67,373.47 328.73,373.05 337.78,372.43 346.84,370.35 355.89,367.24 364.95,363.08 374,361.01" fill="none" stroke="#111" stroke-width="0.9"/>
<polyline points="274.4,378.45 283.45,377.62 292.51,376.58 301.56,375.55 310.62,374.51 319.67,373.88 328.73,373.47 337.78,372.43 346.84,370.98 355.89,369.31 364.95,365.16 374,362.05" fill="none" stroke="#111" stroke-width="0.9"/>
<polyline points="274.4,378.66 283.45,378.04 292.51,377.62 301.56,377.62 310.62,377.62 319.67,377.42 328.73,377.21 337.78,377.42 346.84,375.55 355.89,370.35 364.95,370.98 374,365.16" fill="none" stroke="#111" stroke-width="0.9"/>
<polyline points="274.4,376.58 283.45,375.55 292.51,375.13 301.56,374.3 310.62,373.88 319.67,373.47 328.73,373.05 337.78,369.73 346.84,369.73 355.89,371.39 364.95,369.31 374,365.16" fill="none" stroke="#111" stroke-width="0.9"/>
<line x1="415.4" y1="358.93" x2="515" y2="358.93" stroke="#aaaaaa" stroke-width="0.6" stroke-dasharray="4.5,2.2"/>
<line x1="415.4" y1="338.16" x2="515" y2="338.16" stroke="#aaaaaa" stroke-width="0.6" stroke-dasharray="4.5,2.2"/>
<line x1="415.4" y1="317.39" x2="515" y2="317.39" stroke="#aaaaaa" stroke-width="0.6" stroke-dasharray="4.5,2.2"/>
<line x1="415.4" y1="380.2" x2="415.4" y2="317.39" stroke="#000" stroke-width="1.3"/>
<line x1="412.4" y1="379.7" x2="415.4" y2="379.7" stroke="#000" stroke-width="1.3"/>
<text x="412" y="382.11" font-size="6.7" font-weight="bold" text-anchor="end">0</text>
<line x1="412.4" y1="358.93" x2="415.4" y2="358.93" stroke="#000" stroke-width="1.3"/>
<text x="412" y="361.34" font-size="6.7" font-weight="bold" text-anchor="end">1000</text>
<line x1="412.4" y1="338.16" x2="415.4" y2="338.16" stroke="#000" stroke-width="1.3"/>
<text x="412" y="340.57" font-size="6.7" font-weight="bold" text-anchor="end">2000</text>
<line x1="412.4" y1="317.39" x2="415.4" y2="317.39" stroke="#000" stroke-width="1.3"/>
<text x="412" y="319.8" font-size="6.7" font-weight="bold" text-anchor="end">3000</text>
<line x1="414.9" y1="379.7" x2="515.5" y2="379.7" stroke="#000" stroke-width="1.3"/>
<line x1="415.4" y1="379.7" x2="415.4" y2="382.7" stroke="#000" stroke-width="1"/>
<text x="417.6" y="389.1" font-size="7" font-weight="bold" text-anchor="end" transform="rotate(-45 417.6 389.1)">0</text>
<line x1="419.93" y1="379.7" x2="419.93" y2="382.7" stroke="#000" stroke-width="1"/>
<line x1="424.45" y1="379.7" x2="424.45" y2="382.7" stroke="#000" stroke-width="1"/>
<text x="426.65" y="389.1" font-size="7" font-weight="bold" text-anchor="end" transform="rotate(-45 426.65 389.1)">2</text>
<line x1="428.98" y1="379.7" x2="428.98" y2="382.7" stroke="#000" stroke-width="1"/>
<line x1="433.51" y1="379.7" x2="433.51" y2="382.7" stroke="#000" stroke-width="1"/>
<text x="435.71" y="389.1" font-size="7" font-weight="bold" text-anchor="end" transform="rotate(-45 435.71 389.1)">4</text>
<line x1="438.04" y1="379.7" x2="438.04" y2="382.7" stroke="#000" stroke-width="1"/>
<line x1="442.56" y1="379.7" x2="442.56" y2="382.7" stroke="#000" stroke-width="1"/>
<text x="444.76" y="389.1" font-size="7" font-weight="bold" text-anchor="end" transform="rotate(-45 444.76 389.1)">6</text>
<line x1="447.09" y1="379.7" x2="447.09" y2="382.7" stroke="#000" stroke-width="1"/>
<line x1="451.62" y1="379.7" x2="451.62" y2="382.7" stroke="#000" stroke-width="1"/>
<text x="453.82" y="389.1" font-size="7" font-weight="bold" text-anchor="end" transform="rotate(-45 453.82 389.1)">8</text>
<line x1="456.15" y1="379.7" x2="456.15" y2="382.7" stroke="#000" stroke-width="1"/>
<line x1="460.67" y1="379.7" x2="460.67" y2="382.7" stroke="#000" stroke-width="1"/>
<text x="462.87" y="389.1" font-size="7" font-weight="bold" text-anchor="end" transform="rotate(-45 462.87 389.1)">10</text>
<line x1="465.2" y1="379.7" x2="465.2" y2="382.7" stroke="#000" stroke-width="1"/>
<line x1="469.73" y1="379.7" x2="469.73" y2="382.7" stroke="#000" stroke-width="1"/>
<text x="471.93" y="389.1" font-size="7" font-weight="bold" text-anchor="end" transform="rotate(-45 471.93 389.1)">12</text>
<line x1="474.25" y1="379.7" x2="474.25" y2="382.7" stroke="#000" stroke-width="1"/>
<line x1="478.78" y1="379.7" x2="478.78" y2="382.7" stroke="#000" stroke-width="1"/>
<text x="480.98" y="389.1" font-size="7" font-weight="bold" text-anchor="end" transform="rotate(-45 480.98 389.1)">14</text>
<line x1="483.31" y1="379.7" x2="483.31" y2="382.7" stroke="#000" stroke-width="1"/>
<line x1="487.84" y1="379.7" x2="487.84" y2="382.7" stroke="#000" stroke-width="1"/>
<text x="490.04" y="389.1" font-size="7" font-weight="bold" text-anchor="end" transform="rotate(-45 490.04 389.1)">16</text>
<line x1="492.36" y1="379.7" x2="492.36" y2="382.7" stroke="#000" stroke-width="1"/>
<line x1="496.89" y1="379.7" x2="496.89" y2="382.7" stroke="#000" stroke-width="1"/>
<text x="499.09" y="389.1" font-size="7" font-weight="bold" text-anchor="end" transform="rotate(-45 499.09 389.1)">18</text>
<line x1="501.42" y1="379.7" x2="501.42" y2="382.7" stroke="#000" stroke-width="1"/>
<line x1="505.95" y1="379.7" x2="505.95" y2="382.7" stroke="#000" stroke-width="1"/>
<text x="508.15" y="389.1" font-size="7" font-weight="bold" text-anchor="end" transform="rotate(-45 508.15 389.1)">20</text>
<line x1="510.47" y1="379.7" x2="510.47" y2="382.7" stroke="#000" stroke-width="1"/>
<line x1="515" y1="379.7" x2="515" y2="382.7" stroke="#000" stroke-width="1"/>
<text x="517.2" y="389.1" font-size="7" font-weight="bold" text-anchor="end" transform="rotate(-45 517.2 389.1)">22</text>
<text x="465.2" y="402.6" font-size="6.65" font-weight="bold" text-anchor="middle">Days post randomization</text>
<text x="460.3" y="307.8" font-size="6.45" font-weight="bold" text-anchor="middle">TAIII 10mg/kg IP QD</text>
<text x="393.5" y="347.7" font-size="6.6" font-weight="bold" text-anchor="middle" transform="rotate(-90 393.5 347.7)">Tumor Volume (mm<tspan dy="-2.3" font-size="4.6">3</tspan><tspan dy="2.3">)</tspan></text>
<polyline points="415.4,376.58 424.45,377.62 433.51,375.55 442.56,374.51 451.62,373.47 460.67,370.35 469.73,369.31 478.78,366.2 487.84,359.97 496.89,349.58 505.95,348.54 515,336.08" fill="none" stroke="#1a2cf0" stroke-width="0.9"/>
<polyline points="415.4,377.62 424.45,378.04 433.51,376.58 442.56,375.55 451.62,374.51 460.67,372.43 469.73,371.39 478.78,367.24 487.84,369.31 496.89,363.08 505.95,357.89 515,352.7" fill="none" stroke="#1a2cf0" stroke-width="0.9"/>
<polyline points="415.4,377.62 424.45,377.62 433.51,376.58 442.56,375.55 451.62,374.51 460.67,373.47 469.73,371.39 478.78,369.31 487.84,369.31 496.89,365.16 505.95,358.93 515,353.74" fill="none" stroke="#1a2cf0" stroke-width="0.9"/>
<polyline points="415.4,377.62 424.45,377.62 433.51,376.58 442.56,375.55 451.62,374.51 460.67,373.47 469.73,372.43 478.78,369.31 487.84,369.31 496.89,367.24 505.95,358.93 515,354.78" fill="none" stroke="#1a2cf0" stroke-width="0.9"/>
<polyline points="415.4,378.66 424.45,378.04 433.51,376.58 442.56,376.58 451.62,375.55 460.67,374.51 469.73,373.47 478.78,371.39 487.84,369.31 496.89,370.35 505.95,364.12 515,355.81" fill="none" stroke="#1a2cf0" stroke-width="0.9"/>
<polyline points="415.4,378.66 424.45,378.66 433.51,377.62 442.56,376.58 451.62,376.58 460.67,375.55 469.73,375.55 478.78,375.55 487.84,374.51 496.89,373.47 505.95,371.39 515,367.24" fill="none" stroke="#1a2cf0" stroke-width="0.9"/>
<polyline points="415.4,378.04 424.45,377.62 433.51,375.55 442.56,375.55 451.62,374.51 460.67,372.43 469.73,370.35 478.78,365.16 487.84,369.31 496.89,369.31 505.95,365.16 515,356.85" fill="none" stroke="#1a2cf0" stroke-width="0.9"/>
<line x1="555.4" y1="358.93" x2="655" y2="358.93" stroke="#aaaaaa" stroke-width="0.6" stroke-dasharray="4.5,2.2"/>
<line x1="555.4" y1="338.16" x2="655" y2="338.16" stroke="#aaaaaa" stroke-width="0.6" stroke-dasharray="4.5,2.2"/>
<line x1="555.4" y1="317.39" x2="655" y2="317.39" stroke="#aaaaaa" stroke-width="0.6" stroke-dasharray="4.5,2.2"/>
<line x1="555.4" y1="380.2" x2="555.4" y2="317.39" stroke="#000" stroke-width="1.3"/>
<line x1="552.4" y1="379.7" x2="555.4" y2="379.7" stroke="#000" stroke-width="1.3"/>
<text x="552" y="382.11" font-size="6.7" font-weight="bold" text-anchor="end">0</text>
<line x1="552.4" y1="358.93" x2="555.4" y2="358.93" stroke="#000" stroke-width="1.3"/>
<text x="552" y="361.34" font-size="6.7" font-weight="bold" text-anchor="end">1000</text>
<line x1="552.4" y1="338.16" x2="555.4" y2="338.16" stroke="#000" stroke-width="1.3"/>
<text x="552" y="340.57" font-size="6.7" font-weight="bold" text-anchor="end">2000</text>
<line x1="552.4" y1="317.39" x2="555.4" y2="317.39" stroke="#000" stroke-width="1.3"/>
<text x="552" y="319.8" font-size="6.7" font-weight="bold" text-anchor="end">3000</text>
<line x1="554.9" y1="379.7" x2="655.5" y2="379.7" stroke="#000" stroke-width="1.3"/>
<line x1="555.4" y1="379.7" x2="555.4" y2="382.7" stroke="#000" stroke-width="1"/>
<text x="557.6" y="389.1" font-size="7" font-weight="bold" text-anchor="end" transform="rotate(-45 557.6 389.1)">0</text>
<line x1="559.93" y1="379.7" x2="559.93" y2="382.7" stroke="#000" stroke-width="1"/>
<line x1="564.45" y1="379.7" x2="564.45" y2="382.7" stroke="#000" stroke-width="1"/>
<text x="566.65" y="389.1" font-size="7" font-weight="bold" text-anchor="end" transform="rotate(-45 566.65 389.1)">2</text>
<line x1="568.98" y1="379.7" x2="568.98" y2="382.7" stroke="#000" stroke-width="1"/>
<line x1="573.51" y1="379.7" x2="573.51" y2="382.7" stroke="#000" stroke-width="1"/>
<text x="575.71" y="389.1" font-size="7" font-weight="bold" text-anchor="end" transform="rotate(-45 575.71 389.1)">4</text>
<line x1="578.04" y1="379.7" x2="578.04" y2="382.7" stroke="#000" stroke-width="1"/>
<line x1="582.56" y1="379.7" x2="582.56" y2="382.7" stroke="#000" stroke-width="1"/>
<text x="584.76" y="389.1" font-size="7" font-weight="bold" text-anchor="end" transform="rotate(-45 584.76 389.1)">6</text>
<line x1="587.09" y1="379.7" x2="587.09" y2="382.7" stroke="#000" stroke-width="1"/>
<line x1="591.62" y1="379.7" x2="591.62" y2="382.7" stroke="#000" stroke-width="1"/>
<text x="593.82" y="389.1" font-size="7" font-weight="bold" text-anchor="end" transform="rotate(-45 593.82 389.1)">8</text>
<line x1="596.15" y1="379.7" x2="596.15" y2="382.7" stroke="#000" stroke-width="1"/>
<line x1="600.67" y1="379.7" x2="600.67" y2="382.7" stroke="#000" stroke-width="1"/>
<text x="602.87" y="389.1" font-size="7" font-weight="bold" text-anchor="end" transform="rotate(-45 602.87 389.1)">10</text>
<line x1="605.2" y1="379.7" x2="605.2" y2="382.7" stroke="#000" stroke-width="1"/>
<line x1="609.73" y1="379.7" x2="609.73" y2="382.7" stroke="#000" stroke-width="1"/>
<text x="611.93" y="389.1" font-size="7" font-weight="bold" text-anchor="end" transform="rotate(-45 611.93 389.1)">12</text>
<line x1="614.25" y1="379.7" x2="614.25" y2="382.7" stroke="#000" stroke-width="1"/>
<line x1="618.78" y1="379.7" x2="618.78" y2="382.7" stroke="#000" stroke-width="1"/>
<text x="620.98" y="389.1" font-size="7" font-weight="bold" text-anchor="end" transform="rotate(-45 620.98 389.1)">14</text>
<line x1="623.31" y1="379.7" x2="623.31" y2="382.7" stroke="#000" stroke-width="1"/>
<line x1="627.84" y1="379.7" x2="627.84" y2="382.7" stroke="#000" stroke-width="1"/>
<text x="630.04" y="389.1" font-size="7" font-weight="bold" text-anchor="end" transform="rotate(-45 630.04 389.1)">16</text>
<line x1="632.36" y1="379.7" x2="632.36" y2="382.7" stroke="#000" stroke-width="1"/>
<line x1="636.89" y1="379.7" x2="636.89" y2="382.7" stroke="#000" stroke-width="1"/>
<text x="639.09" y="389.1" font-size="7" font-weight="bold" text-anchor="end" transform="rotate(-45 639.09 389.1)">18</text>
<line x1="641.42" y1="379.7" x2="641.42" y2="382.7" stroke="#000" stroke-width="1"/>
<line x1="645.95" y1="379.7" x2="645.95" y2="382.7" stroke="#000" stroke-width="1"/>
<text x="648.15" y="389.1" font-size="7" font-weight="bold" text-anchor="end" transform="rotate(-45 648.15 389.1)">20</text>
<line x1="650.47" y1="379.7" x2="650.47" y2="382.7" stroke="#000" stroke-width="1"/>
<line x1="655" y1="379.7" x2="655" y2="382.7" stroke="#000" stroke-width="1"/>
<text x="657.2" y="389.1" font-size="7" font-weight="bold" text-anchor="end" transform="rotate(-45 657.2 389.1)">22</text>
<text x="605.2" y="402.6" font-size="6.65" font-weight="bold" text-anchor="middle">Days post randomization</text>
<text x="601.2" y="307.8" font-size="6.45" font-weight="bold" text-anchor="middle">αPD-1 5mg/kg IP BIW</text>
<text x="533.5" y="347.7" font-size="6.6" font-weight="bold" text-anchor="middle" transform="rotate(-90 533.5 347.7)">Tumor Volume (mm<tspan dy="-2.3" font-size="4.6">3</tspan><tspan dy="2.3">)</tspan></text>
<polyline points="555.4,376.58 564.45,377.62 573.51,376.58 582.56,374.51 591.62,373.47 600.67,372.43 609.73,371.39 618.78,372.43 627.84,371.39 636.89,369.31 645.95,367.24 655,362.67" fill="none" stroke="#f59a9a" stroke-width="0.9"/>
<circle cx="555.4" cy="376.58" r="0.8" fill="#111"/>
<circle cx="564.45" cy="377.62" r="0.8" fill="#111"/>
<circle cx="573.51" cy="376.58" r="0.8" fill="#111"/>
<circle cx="582.56" cy="374.51" r="0.8" fill="#111"/>
<circle cx="591.62" cy="373.47" r="0.8" fill="#111"/>
<circle cx="600.67" cy="372.43" r="0.8" fill="#111"/>
<circle cx="609.73" cy="371.39" r="0.8" fill="#111"/>
<circle cx="618.78" cy="372.43" r="0.8" fill="#111"/>
<circle cx="627.84" cy="371.39" r="0.8" fill="#111"/>
<circle cx="636.89" cy="369.31" r="0.8" fill="#111"/>
<circle cx="645.95" cy="367.24" r="0.8" fill="#111"/>
<circle cx="655" cy="362.67" r="0.8" fill="#111"/>
<polyline points="555.4,377.62 564.45,378.04 573.51,376.58 582.56,375.55 591.62,374.51 600.67,373.47 609.73,372.43 618.78,373.47 627.84,372.43 636.89,370.35 645.95,368.28 655,366.2" fill="none" stroke="#f59a9a" stroke-width="0.9"/>
<circle cx="555.4" cy="377.62" r="0.8" fill="#111"/>
<circle cx="564.45" cy="378.04" r="0.8" fill="#111"/>
<circle cx="573.51" cy="376.58" r="0.8" fill="#111"/>
<circle cx="582.56" cy="375.55" r="0.8" fill="#111"/>
<circle cx="591.62" cy="374.51" r="0.8" fill="#111"/>
<circle cx="600.67" cy="373.47" r="0.8" fill="#111"/>
<circle cx="609.73" cy="372.43" r="0.8" fill="#111"/>
<circle cx="618.78" cy="373.47" r="0.8" fill="#111"/>
<circle cx="627.84" cy="372.43" r="0.8" fill="#111"/>
<circle cx="636.89" cy="370.35" r="0.8" fill="#111"/>
<circle cx="645.95" cy="368.28" r="0.8" fill="#111"/>
<circle cx="655" cy="366.2" r="0.8" fill="#111"/>
<polyline points="555.4,377.62 564.45,377.62 573.51,376.58 582.56,375.55 591.62,375.55 600.67,374.51 609.73,375.55 618.78,374.51 627.84,373.47 636.89,373.47 645.95,372.43 655,369.31" fill="none" stroke="#f59a9a" stroke-width="0.9"/>
<circle cx="555.4" cy="377.62" r="0.8" fill="#111"/>
<circle cx="564.45" cy="377.62" r="0.8" fill="#111"/>
<circle cx="573.51" cy="376.58" r="0.8" fill="#111"/>
<circle cx="582.56" cy="375.55" r="0.8" fill="#111"/>
<circle cx="591.62" cy="375.55" r="0.8" fill="#111"/>
<circle cx="600.67" cy="374.51" r="0.8" fill="#111"/>
<circle cx="609.73" cy="375.55" r="0.8" fill="#111"/>
<circle cx="618.78" cy="374.51" r="0.8" fill="#111"/>
<circle cx="627.84" cy="373.47" r="0.8" fill="#111"/>
<circle cx="636.89" cy="373.47" r="0.8" fill="#111"/>
<circle cx="645.95" cy="372.43" r="0.8" fill="#111"/>
<circle cx="655" cy="369.31" r="0.8" fill="#111"/>
<polyline points="555.4,376.58 564.45,377.21 573.51,376.58 582.56,375.55 591.62,376.58 600.67,375.55 609.73,376.58 618.78,375.55 627.84,375.55 636.89,375.55 645.95,373.47 655,370.35" fill="none" stroke="#f59a9a" stroke-width="0.9"/>
<circle cx="555.4" cy="376.58" r="0.8" fill="#111"/>
<circle cx="564.45" cy="377.21" r="0.8" fill="#111"/>
<circle cx="573.51" cy="376.58" r="0.8" fill="#111"/>
<circle cx="582.56" cy="375.55" r="0.8" fill="#111"/>
<circle cx="591.62" cy="376.58" r="0.8" fill="#111"/>
<circle cx="600.67" cy="375.55" r="0.8" fill="#111"/>
<circle cx="609.73" cy="376.58" r="0.8" fill="#111"/>
<circle cx="618.78" cy="375.55" r="0.8" fill="#111"/>
<circle cx="627.84" cy="375.55" r="0.8" fill="#111"/>
<circle cx="636.89" cy="375.55" r="0.8" fill="#111"/>
<circle cx="645.95" cy="373.47" r="0.8" fill="#111"/>
<circle cx="655" cy="370.35" r="0.8" fill="#111"/>
<polyline points="555.4,377.62 564.45,377.62 573.51,377.62 582.56,376.58 591.62,376.58 600.67,376.58 609.73,376.58 618.78,376.58 627.84,376.58 636.89,376.58 645.95,376.58 655,376.58" fill="none" stroke="#f59a9a" stroke-width="0.9"/>
<circle cx="555.4" cy="377.62" r="0.8" fill="#111"/>
<circle cx="564.45" cy="377.62" r="0.8" fill="#111"/>
<circle cx="573.51" cy="377.62" r="0.8" fill="#111"/>
<circle cx="582.56" cy="376.58" r="0.8" fill="#111"/>
<circle cx="591.62" cy="376.58" r="0.8" fill="#111"/>
<circle cx="600.67" cy="376.58" r="0.8" fill="#111"/>
<circle cx="609.73" cy="376.58" r="0.8" fill="#111"/>
<circle cx="618.78" cy="376.58" r="0.8" fill="#111"/>
<circle cx="627.84" cy="376.58" r="0.8" fill="#111"/>
<circle cx="636.89" cy="376.58" r="0.8" fill="#111"/>
<circle cx="645.95" cy="376.58" r="0.8" fill="#111"/>
<circle cx="655" cy="376.58" r="0.8" fill="#111"/>
<polyline points="555.4,378.04 564.45,378.04 573.51,377.62 582.56,377.62 591.62,377.62 600.67,377.62 609.73,377.62 618.78,377.62 627.84,377.62 636.89,377.62 645.95,377.62 655,377.62" fill="none" stroke="#f59a9a" stroke-width="0.9"/>
<circle cx="555.4" cy="378.04" r="0.8" fill="#111"/>
<circle cx="564.45" cy="378.04" r="0.8" fill="#111"/>
<circle cx="573.51" cy="377.62" r="0.8" fill="#111"/>
<circle cx="582.56" cy="377.62" r="0.8" fill="#111"/>
<circle cx="591.62" cy="377.62" r="0.8" fill="#111"/>
<circle cx="600.67" cy="377.62" r="0.8" fill="#111"/>
<circle cx="609.73" cy="377.62" r="0.8" fill="#111"/>
<circle cx="618.78" cy="377.62" r="0.8" fill="#111"/>
<circle cx="627.84" cy="377.62" r="0.8" fill="#111"/>
<circle cx="636.89" cy="377.62" r="0.8" fill="#111"/>
<circle cx="645.95" cy="377.62" r="0.8" fill="#111"/>
<circle cx="655" cy="377.62" r="0.8" fill="#111"/>
<line x1="274.4" y1="474.73" x2="374" y2="474.73" stroke="#aaaaaa" stroke-width="0.6" stroke-dasharray="4.5,2.2"/>
<line x1="274.4" y1="453.96" x2="374" y2="453.96" stroke="#aaaaaa" stroke-width="0.6" stroke-dasharray="4.5,2.2"/>
<line x1="274.4" y1="433.19" x2="374" y2="433.19" stroke="#aaaaaa" stroke-width="0.6" stroke-dasharray="4.5,2.2"/>
<line x1="274.4" y1="496" x2="274.4" y2="433.19" stroke="#000" stroke-width="1.3"/>
<line x1="271.4" y1="495.5" x2="274.4" y2="495.5" stroke="#000" stroke-width="1.3"/>
<text x="271" y="497.91" font-size="6.7" font-weight="bold" text-anchor="end">0</text>
<line x1="271.4" y1="474.73" x2="274.4" y2="474.73" stroke="#000" stroke-width="1.3"/>
<text x="271" y="477.14" font-size="6.7" font-weight="bold" text-anchor="end">1000</text>
<line x1="271.4" y1="453.96" x2="274.4" y2="453.96" stroke="#000" stroke-width="1.3"/>
<text x="271" y="456.37" font-size="6.7" font-weight="bold" text-anchor="end">2000</text>
<line x1="271.4" y1="433.19" x2="274.4" y2="433.19" stroke="#000" stroke-width="1.3"/>
<text x="271" y="435.6" font-size="6.7" font-weight="bold" text-anchor="end">3000</text>
<line x1="273.9" y1="495.5" x2="374.5" y2="495.5" stroke="#000" stroke-width="1.3"/>
<line x1="274.4" y1="495.5" x2="274.4" y2="498.5" stroke="#000" stroke-width="1"/>
<text x="276.6" y="504.9" font-size="7" font-weight="bold" text-anchor="end" transform="rotate(-45 276.6 504.9)">0</text>
<line x1="278.93" y1="495.5" x2="278.93" y2="498.5" stroke="#000" stroke-width="1"/>
<line x1="283.45" y1="495.5" x2="283.45" y2="498.5" stroke="#000" stroke-width="1"/>
<text x="285.65" y="504.9" font-size="7" font-weight="bold" text-anchor="end" transform="rotate(-45 285.65 504.9)">2</text>
<line x1="287.98" y1="495.5" x2="287.98" y2="498.5" stroke="#000" stroke-width="1"/>
<line x1="292.51" y1="495.5" x2="292.51" y2="498.5" stroke="#000" stroke-width="1"/>
<text x="294.71" y="504.9" font-size="7" font-weight="bold" text-anchor="end" transform="rotate(-45 294.71 504.9)">4</text>
<line x1="297.04" y1="495.5" x2="297.04" y2="498.5" stroke="#000" stroke-width="1"/>
<line x1="301.56" y1="495.5" x2="301.56" y2="498.5" stroke="#000" stroke-width="1"/>
<text x="303.76" y="504.9" font-size="7" font-weight="bold" text-anchor="end" transform="rotate(-45 303.76 504.9)">6</text>
<line x1="306.09" y1="495.5" x2="306.09" y2="498.5" stroke="#000" stroke-width="1"/>
<line x1="310.62" y1="495.5" x2="310.62" y2="498.5" stroke="#000" stroke-width="1"/>
<text x="312.82" y="504.9" font-size="7" font-weight="bold" text-anchor="end" transform="rotate(-45 312.82 504.9)">8</text>
<line x1="315.15" y1="495.5" x2="315.15" y2="498.5" stroke="#000" stroke-width="1"/>
<line x1="319.67" y1="495.5" x2="319.67" y2="498.5" stroke="#000" stroke-width="1"/>
<text x="321.87" y="504.9" font-size="7" font-weight="bold" text-anchor="end" transform="rotate(-45 321.87 504.9)">10</text>
<line x1="324.2" y1="495.5" x2="324.2" y2="498.5" stroke="#000" stroke-width="1"/>
<line x1="328.73" y1="495.5" x2="328.73" y2="498.5" stroke="#000" stroke-width="1"/>
<text x="330.93" y="504.9" font-size="7" font-weight="bold" text-anchor="end" transform="rotate(-45 330.93 504.9)">12</text>
<line x1="333.25" y1="495.5" x2="333.25" y2="498.5" stroke="#000" stroke-width="1"/>
<line x1="337.78" y1="495.5" x2="337.78" y2="498.5" stroke="#000" stroke-width="1"/>
<text x="339.98" y="504.9" font-size="7" font-weight="bold" text-anchor="end" transform="rotate(-45 339.98 504.9)">14</text>
<line x1="342.31" y1="495.5" x2="342.31" y2="498.5" stroke="#000" stroke-width="1"/>
<line x1="346.84" y1="495.5" x2="346.84" y2="498.5" stroke="#000" stroke-width="1"/>
<text x="349.04" y="504.9" font-size="7" font-weight="bold" text-anchor="end" transform="rotate(-45 349.04 504.9)">16</text>
<line x1="351.36" y1="495.5" x2="351.36" y2="498.5" stroke="#000" stroke-width="1"/>
<line x1="355.89" y1="495.5" x2="355.89" y2="498.5" stroke="#000" stroke-width="1"/>
<text x="358.09" y="504.9" font-size="7" font-weight="bold" text-anchor="end" transform="rotate(-45 358.09 504.9)">18</text>
<line x1="360.42" y1="495.5" x2="360.42" y2="498.5" stroke="#000" stroke-width="1"/>
<line x1="364.95" y1="495.5" x2="364.95" y2="498.5" stroke="#000" stroke-width="1"/>
<text x="367.15" y="504.9" font-size="7" font-weight="bold" text-anchor="end" transform="rotate(-45 367.15 504.9)">20</text>
<line x1="369.47" y1="495.5" x2="369.47" y2="498.5" stroke="#000" stroke-width="1"/>
<line x1="374" y1="495.5" x2="374" y2="498.5" stroke="#000" stroke-width="1"/>
<text x="376.2" y="504.9" font-size="7" font-weight="bold" text-anchor="end" transform="rotate(-45 376.2 504.9)">22</text>
<text x="324.2" y="518.4" font-size="6.65" font-weight="bold" text-anchor="middle">Days post randomization</text>
<text x="318.9" y="426.2" font-size="6.45" font-weight="bold" text-anchor="middle">αPD-1-combo</text>
<text x="252.5" y="463.5" font-size="6.6" font-weight="bold" text-anchor="middle" transform="rotate(-90 252.5 463.5)">Tumor Volume (mm<tspan dy="-2.3" font-size="4.6">3</tspan><tspan dy="2.3">)</tspan></text>
<polyline points="274.4,493.42 283.45,492.38 292.51,492.38 301.56,493.01 310.62,492.38 319.67,492.18 328.73,492.38 337.78,493.42 346.84,493.01 355.89,492.38 364.95,491.35 374,490.31" fill="none" stroke="#f01818" stroke-width="0.9"/>
<circle cx="274.4" cy="493.42" r="0.8" fill="#111"/>
<circle cx="283.45" cy="492.38" r="0.8" fill="#111"/>
<circle cx="292.51" cy="492.38" r="0.8" fill="#111"/>
<circle cx="301.56" cy="493.01" r="0.8" fill="#111"/>
<circle cx="310.62" cy="492.38" r="0.8" fill="#111"/>
<circle cx="319.67" cy="492.18" r="0.8" fill="#111"/>
<circle cx="328.73" cy="492.38" r="0.8" fill="#111"/>
<circle cx="337.78" cy="493.42" r="0.8" fill="#111"/>
<circle cx="346.84" cy="493.01" r="0.8" fill="#111"/>
<circle cx="355.89" cy="492.38" r="0.8" fill="#111"/>
<circle cx="364.95" cy="491.35" r="0.8" fill="#111"/>
<circle cx="374" cy="490.31" r="0.8" fill="#111"/>
<polyline points="274.4,493.84 283.45,493.01 292.51,492.8 301.56,493.42 310.62,492.59 319.67,492.38 328.73,492.59 337.78,493.42 346.84,493.42 355.89,493.01 364.95,491.76 374,490.93" fill="none" stroke="#f01818" stroke-width="0.9"/>
<circle cx="274.4" cy="493.84" r="0.8" fill="#111"/>
<circle cx="283.45" cy="493.01" r="0.8" fill="#111"/>
<circle cx="292.51" cy="492.8" r="0.8" fill="#111"/>
<circle cx="301.56" cy="493.42" r="0.8" fill="#111"/>
<circle cx="310.62" cy="492.59" r="0.8" fill="#111"/>
<circle cx="319.67" cy="492.38" r="0.8" fill="#111"/>
<circle cx="328.73" cy="492.59" r="0.8" fill="#111"/>
<circle cx="337.78" cy="493.42" r="0.8" fill="#111"/>
<circle cx="346.84" cy="493.42" r="0.8" fill="#111"/>
<circle cx="355.89" cy="493.01" r="0.8" fill="#111"/>
<circle cx="364.95" cy="491.76" r="0.8" fill="#111"/>
<circle cx="374" cy="490.93" r="0.8" fill="#111"/>
<polyline points="274.4,493.42 283.45,493.42 292.51,493.01 301.56,493.42 310.62,493.01 319.67,493.01 328.73,493.01 337.78,493.84 346.84,493.42 355.89,493.42 364.95,493.01 374,492.38" fill="none" stroke="#f01818" stroke-width="0.9"/>
<circle cx="274.4" cy="493.42" r="0.8" fill="#111"/>
<circle cx="283.45" cy="493.42" r="0.8" fill="#111"/>
<circle cx="292.51" cy="493.01" r="0.8" fill="#111"/>
<circle cx="301.56" cy="493.42" r="0.8" fill="#111"/>
<circle cx="310.62" cy="493.01" r="0.8" fill="#111"/>
<circle cx="319.67" cy="493.01" r="0.8" fill="#111"/>
<circle cx="328.73" cy="493.01" r="0.8" fill="#111"/>
<circle cx="337.78" cy="493.84" r="0.8" fill="#111"/>
<circle cx="346.84" cy="493.42" r="0.8" fill="#111"/>
<circle cx="355.89" cy="493.42" r="0.8" fill="#111"/>
<circle cx="364.95" cy="493.01" r="0.8" fill="#111"/>
<circle cx="374" cy="492.38" r="0.8" fill="#111"/>
<polyline points="274.4,494.25 283.45,493.84 292.51,493.42 301.56,493.84 310.62,493.42 319.67,493.42 328.73,493.42 337.78,494.25 346.84,493.84 355.89,493.84 364.95,493.84 374,493.84" fill="none" stroke="#f01818" stroke-width="0.9"/>
<circle cx="274.4" cy="494.25" r="0.8" fill="#111"/>
<circle cx="283.45" cy="493.84" r="0.8" fill="#111"/>
<circle cx="292.51" cy="493.42" r="0.8" fill="#111"/>
<circle cx="301.56" cy="493.84" r="0.8" fill="#111"/>
<circle cx="310.62" cy="493.42" r="0.8" fill="#111"/>
<circle cx="319.67" cy="493.42" r="0.8" fill="#111"/>
<circle cx="328.73" cy="493.42" r="0.8" fill="#111"/>
<circle cx="337.78" cy="494.25" r="0.8" fill="#111"/>
<circle cx="346.84" cy="493.84" r="0.8" fill="#111"/>
<circle cx="355.89" cy="493.84" r="0.8" fill="#111"/>
<circle cx="364.95" cy="493.84" r="0.8" fill="#111"/>
<circle cx="374" cy="493.84" r="0.8" fill="#111"/>
<polyline points="274.4,493.84 283.45,493.42 292.51,493.42 301.56,493.42 310.62,493.42 319.67,493.01 328.73,493.42 337.78,493.84 346.84,493.84 355.89,494.25 364.95,494.25 374,494.46" fill="none" stroke="#f01818" stroke-width="0.9"/>
<circle cx="274.4" cy="493.84" r="0.8" fill="#111"/>
<circle cx="283.45" cy="493.42" r="0.8" fill="#111"/>
<circle cx="292.51" cy="493.42" r="0.8" fill="#111"/>
<circle cx="301.56" cy="493.42" r="0.8" fill="#111"/>
<circle cx="310.62" cy="493.42" r="0.8" fill="#111"/>
<circle cx="319.67" cy="493.01" r="0.8" fill="#111"/>
<circle cx="328.73" cy="493.42" r="0.8" fill="#111"/>
<circle cx="337.78" cy="493.84" r="0.8" fill="#111"/>
<circle cx="346.84" cy="493.84" r="0.8" fill="#111"/>
<circle cx="355.89" cy="494.25" r="0.8" fill="#111"/>
<circle cx="364.95" cy="494.25" r="0.8" fill="#111"/>
<circle cx="374" cy="494.46" r="0.8" fill="#111"/>
<polyline points="274.4,494.46 283.45,494.25 292.51,494.25 301.56,494.46 310.62,494.46 319.67,494.25 328.73,494.46 337.78,494.67 346.84,494.67 355.89,494.67 364.95,494.67 374,494.67" fill="none" stroke="#f01818" stroke-width="0.9"/>
<circle cx="274.4" cy="494.46" r="0.8" fill="#111"/>
<circle cx="283.45" cy="494.25" r="0.8" fill="#111"/>
<circle cx="292.51" cy="494.25" r="0.8" fill="#111"/>
<circle cx="301.56" cy="494.46" r="0.8" fill="#111"/>
<circle cx="310.62" cy="494.46" r="0.8" fill="#111"/>
<circle cx="319.67" cy="494.25" r="0.8" fill="#111"/>
<circle cx="328.73" cy="494.46" r="0.8" fill="#111"/>
<circle cx="337.78" cy="494.67" r="0.8" fill="#111"/>
<circle cx="346.84" cy="494.67" r="0.8" fill="#111"/>
<circle cx="355.89" cy="494.67" r="0.8" fill="#111"/>
<circle cx="364.95" cy="494.67" r="0.8" fill="#111"/>
<circle cx="374" cy="494.67" r="0.8" fill="#111"/>
<line x1="415.4" y1="474.73" x2="515" y2="474.73" stroke="#aaaaaa" stroke-width="0.6" stroke-dasharray="4.5,2.2"/>
<line x1="415.4" y1="453.96" x2="515" y2="453.96" stroke="#aaaaaa" stroke-width="0.6" stroke-dasharray="4.5,2.2"/>
<line x1="415.4" y1="433.19" x2="515" y2="433.19" stroke="#aaaaaa" stroke-width="0.6" stroke-dasharray="4.5,2.2"/>
<line x1="415.4" y1="496" x2="415.4" y2="433.19" stroke="#000" stroke-width="1.3"/>
<line x1="412.4" y1="495.5" x2="415.4" y2="495.5" stroke="#000" stroke-width="1.3"/>
<text x="412" y="497.91" font-size="6.7" font-weight="bold" text-anchor="end">0</text>
<line x1="412.4" y1="474.73" x2="415.4" y2="474.73" stroke="#000" stroke-width="1.3"/>
<text x="412" y="477.14" font-size="6.7" font-weight="bold" text-anchor="end">1000</text>
<line x1="412.4" y1="453.96" x2="415.4" y2="453.96" stroke="#000" stroke-width="1.3"/>
<text x="412" y="456.37" font-size="6.7" font-weight="bold" text-anchor="end">2000</text>
<line x1="412.4" y1="433.19" x2="415.4" y2="433.19" stroke="#000" stroke-width="1.3"/>
<text x="412" y="435.6" font-size="6.7" font-weight="bold" text-anchor="end">3000</text>
<line x1="414.9" y1="495.5" x2="515.5" y2="495.5" stroke="#000" stroke-width="1.3"/>
<line x1="415.4" y1="495.5" x2="415.4" y2="498.5" stroke="#000" stroke-width="1"/>
<text x="417.6" y="504.9" font-size="7" font-weight="bold" text-anchor="end" transform="rotate(-45 417.6 504.9)">0</text>
<line x1="419.93" y1="495.5" x2="419.93" y2="498.5" stroke="#000" stroke-width="1"/>
<line x1="424.45" y1="495.5" x2="424.45" y2="498.5" stroke="#000" stroke-width="1"/>
<text x="426.65" y="504.9" font-size="7" font-weight="bold" text-anchor="end" transform="rotate(-45 426.65 504.9)">2</text>
<line x1="428.98" y1="495.5" x2="428.98" y2="498.5" stroke="#000" stroke-width="1"/>
<line x1="433.51" y1="495.5" x2="433.51" y2="498.5" stroke="#000" stroke-width="1"/>
<text x="435.71" y="504.9" font-size="7" font-weight="bold" text-anchor="end" transform="rotate(-45 435.71 504.9)">4</text>
<line x1="438.04" y1="495.5" x2="438.04" y2="498.5" stroke="#000" stroke-width="1"/>
<line x1="442.56" y1="495.5" x2="442.56" y2="498.5" stroke="#000" stroke-width="1"/>
<text x="444.76" y="504.9" font-size="7" font-weight="bold" text-anchor="end" transform="rotate(-45 444.76 504.9)">6</text>
<line x1="447.09" y1="495.5" x2="447.09" y2="498.5" stroke="#000" stroke-width="1"/>
<line x1="451.62" y1="495.5" x2="451.62" y2="498.5" stroke="#000" stroke-width="1"/>
<text x="453.82" y="504.9" font-size="7" font-weight="bold" text-anchor="end" transform="rotate(-45 453.82 504.9)">8</text>
<line x1="456.15" y1="495.5" x2="456.15" y2="498.5" stroke="#000" stroke-width="1"/>
<line x1="460.67" y1="495.5" x2="460.67" y2="498.5" stroke="#000" stroke-width="1"/>
<text x="462.87" y="504.9" font-size="7" font-weight="bold" text-anchor="end" transform="rotate(-45 462.87 504.9)">10</text>
<line x1="465.2" y1="495.5" x2="465.2" y2="498.5" stroke="#000" stroke-width="1"/>
<line x1="469.73" y1="495.5" x2="469.73" y2="498.5" stroke="#000" stroke-width="1"/>
<text x="471.93" y="504.9" font-size="7" font-weight="bold" text-anchor="end" transform="rotate(-45 471.93 504.9)">12</text>
<line x1="474.25" y1="495.5" x2="474.25" y2="498.5" stroke="#000" stroke-width="1"/>
<line x1="478.78" y1="495.5" x2="478.78" y2="498.5" stroke="#000" stroke-width="1"/>
<text x="480.98" y="504.9" font-size="7" font-weight="bold" text-anchor="end" transform="rotate(-45 480.98 504.9)">14</text>
<line x1="483.31" y1="495.5" x2="483.31" y2="498.5" stroke="#000" stroke-width="1"/>
<line x1="487.84" y1="495.5" x2="487.84" y2="498.5" stroke="#000" stroke-width="1"/>
<text x="490.04" y="504.9" font-size="7" font-weight="bold" text-anchor="end" transform="rotate(-45 490.04 504.9)">16</text>
<line x1="492.36" y1="495.5" x2="492.36" y2="498.5" stroke="#000" stroke-width="1"/>
<line x1="496.89" y1="495.5" x2="496.89" y2="498.5" stroke="#000" stroke-width="1"/>
<text x="499.09" y="504.9" font-size="7" font-weight="bold" text-anchor="end" transform="rotate(-45 499.09 504.9)">18</text>
<line x1="501.42" y1="495.5" x2="501.42" y2="498.5" stroke="#000" stroke-width="1"/>
<line x1="505.95" y1="495.5" x2="505.95" y2="498.5" stroke="#000" stroke-width="1"/>
<text x="508.15" y="504.9" font-size="7" font-weight="bold" text-anchor="end" transform="rotate(-45 508.15 504.9)">20</text>
<line x1="510.47" y1="495.5" x2="510.47" y2="498.5" stroke="#000" stroke-width="1"/>
<line x1="515" y1="495.5" x2="515" y2="498.5" stroke="#000" stroke-width="1"/>
<text x="517.2" y="504.9" font-size="7" font-weight="bold" text-anchor="end" transform="rotate(-45 517.2 504.9)">22</text>
<text x="465.2" y="518.4" font-size="6.65" font-weight="bold" text-anchor="middle">Days post randomization</text>
<text x="464.8" y="426.2" font-size="6.45" font-weight="bold" text-anchor="middle">Isotype 5mg/kg IP BIW</text>
<text x="393.5" y="463.5" font-size="6.6" font-weight="bold" text-anchor="middle" transform="rotate(-90 393.5 463.5)">Tumor Volume (mm<tspan dy="-2.3" font-size="4.6">3</tspan><tspan dy="2.3">)</tspan></text>
<polyline points="415.4,493.42 424.45,492.38 433.51,490.31 442.56,489.27 451.62,488.23 460.67,486.15 469.73,483.04 478.78,483.04 487.84,476.81 496.89,471.61 505.95,464.35 515,443.57" fill="none" stroke="#c030e8" stroke-width="0.9"/>
<circle cx="415.4" cy="493.42" r="0.8" fill="#111"/>
<circle cx="424.45" cy="492.38" r="0.8" fill="#111"/>
<circle cx="433.51" cy="490.31" r="0.8" fill="#111"/>
<circle cx="442.56" cy="489.27" r="0.8" fill="#111"/>
<circle cx="451.62" cy="488.23" r="0.8" fill="#111"/>
<circle cx="460.67" cy="486.15" r="0.8" fill="#111"/>
<circle cx="469.73" cy="483.04" r="0.8" fill="#111"/>
<circle cx="478.78" cy="483.04" r="0.8" fill="#111"/>
<circle cx="487.84" cy="476.81" r="0.8" fill="#111"/>
<circle cx="496.89" cy="471.61" r="0.8" fill="#111"/>
<circle cx="505.95" cy="464.35" r="0.8" fill="#111"/>
<circle cx="515" cy="443.57" r="0.8" fill="#111"/>
<polyline points="415.4,493.42 424.45,492.38 433.51,490.31 442.56,489.27 451.62,488.23 460.67,486.15 469.73,485.12 478.78,484.08 487.84,478.88 496.89,476.81 505.95,465.38 515,452.92" fill="none" stroke="#c030e8" stroke-width="0.9"/>
<circle cx="415.4" cy="493.42" r="0.8" fill="#111"/>
<circle cx="424.45" cy="492.38" r="0.8" fill="#111"/>
<circle cx="433.51" cy="490.31" r="0.8" fill="#111"/>
<circle cx="442.56" cy="489.27" r="0.8" fill="#111"/>
<circle cx="451.62" cy="488.23" r="0.8" fill="#111"/>
<circle cx="460.67" cy="486.15" r="0.8" fill="#111"/>
<circle cx="469.73" cy="485.12" r="0.8" fill="#111"/>
<circle cx="478.78" cy="484.08" r="0.8" fill="#111"/>
<circle cx="487.84" cy="478.88" r="0.8" fill="#111"/>
<circle cx="496.89" cy="476.81" r="0.8" fill="#111"/>
<circle cx="505.95" cy="465.38" r="0.8" fill="#111"/>
<circle cx="515" cy="452.92" r="0.8" fill="#111"/>
<polyline points="415.4,493.42 424.45,492.38 433.51,491.35 442.56,490.31 451.62,489.27 460.67,487.19 469.73,486.15 478.78,485.12 487.84,479.92 496.89,474.73 505.95,466.42 515,453.96" fill="none" stroke="#c030e8" stroke-width="0.9"/>
<circle cx="415.4" cy="493.42" r="0.8" fill="#111"/>
<circle cx="424.45" cy="492.38" r="0.8" fill="#111"/>
<circle cx="433.51" cy="491.35" r="0.8" fill="#111"/>
<circle cx="442.56" cy="490.31" r="0.8" fill="#111"/>
<circle cx="451.62" cy="489.27" r="0.8" fill="#111"/>
<circle cx="460.67" cy="487.19" r="0.8" fill="#111"/>
<circle cx="469.73" cy="486.15" r="0.8" fill="#111"/>
<circle cx="478.78" cy="485.12" r="0.8" fill="#111"/>
<circle cx="487.84" cy="479.92" r="0.8" fill="#111"/>
<circle cx="496.89" cy="474.73" r="0.8" fill="#111"/>
<circle cx="505.95" cy="466.42" r="0.8" fill="#111"/>
<circle cx="515" cy="453.96" r="0.8" fill="#111"/>
<polyline points="415.4,493.84 424.45,492.38 433.51,491.35 442.56,490.31 451.62,490.31 460.67,488.23 469.73,487.19 478.78,486.15 487.84,480.96 496.89,476.81 505.95,470.58 515,458.11" fill="none" stroke="#c030e8" stroke-width="0.9"/>
<circle cx="415.4" cy="493.84" r="0.8" fill="#111"/>
<circle cx="424.45" cy="492.38" r="0.8" fill="#111"/>
<circle cx="433.51" cy="491.35" r="0.8" fill="#111"/>
<circle cx="442.56" cy="490.31" r="0.8" fill="#111"/>
<circle cx="451.62" cy="490.31" r="0.8" fill="#111"/>
<circle cx="460.67" cy="488.23" r="0.8" fill="#111"/>
<circle cx="469.73" cy="487.19" r="0.8" fill="#111"/>
<circle cx="478.78" cy="486.15" r="0.8" fill="#111"/>
<circle cx="487.84" cy="480.96" r="0.8" fill="#111"/>
<circle cx="496.89" cy="476.81" r="0.8" fill="#111"/>
<circle cx="505.95" cy="470.58" r="0.8" fill="#111"/>
<circle cx="515" cy="458.11" r="0.8" fill="#111"/>
<polyline points="415.4,493.84 424.45,493.01 433.51,492.38 442.56,491.35 451.62,491.35 460.67,490.31 469.73,489.27 478.78,488.23 487.84,488.23 496.89,484.08 505.95,478.88 515,471.61" fill="none" stroke="#c030e8" stroke-width="0.9"/>
<circle cx="415.4" cy="493.84" r="0.8" fill="#111"/>
<circle cx="424.45" cy="493.01" r="0.8" fill="#111"/>
<circle cx="433.51" cy="492.38" r="0.8" fill="#111"/>
<circle cx="442.56" cy="491.35" r="0.8" fill="#111"/>
<circle cx="451.62" cy="491.35" r="0.8" fill="#111"/>
<circle cx="460.67" cy="490.31" r="0.8" fill="#111"/>
<circle cx="469.73" cy="489.27" r="0.8" fill="#111"/>
<circle cx="478.78" cy="488.23" r="0.8" fill="#111"/>
<circle cx="487.84" cy="488.23" r="0.8" fill="#111"/>
<circle cx="496.89" cy="484.08" r="0.8" fill="#111"/>
<circle cx="505.95" cy="478.88" r="0.8" fill="#111"/>
<circle cx="515" cy="471.61" r="0.8" fill="#111"/>
<polyline points="415.4,494.25 424.45,493.42 433.51,492.38 442.56,492.38 451.62,491.35 460.67,491.35 469.73,491.35 478.78,490.31 487.84,489.27 496.89,489.27 505.95,489.27 515,486.78" fill="none" stroke="#c030e8" stroke-width="0.9"/>
<circle cx="415.4" cy="494.25" r="0.8" fill="#111"/>
<circle cx="424.45" cy="493.42" r="0.8" fill="#111"/>
<circle cx="433.51" cy="492.38" r="0.8" fill="#111"/>
<circle cx="442.56" cy="492.38" r="0.8" fill="#111"/>
<circle cx="451.62" cy="491.35" r="0.8" fill="#111"/>
<circle cx="460.67" cy="491.35" r="0.8" fill="#111"/>
<circle cx="469.73" cy="491.35" r="0.8" fill="#111"/>
<circle cx="478.78" cy="490.31" r="0.8" fill="#111"/>
<circle cx="487.84" cy="489.27" r="0.8" fill="#111"/>
<circle cx="496.89" cy="489.27" r="0.8" fill="#111"/>
<circle cx="505.95" cy="489.27" r="0.8" fill="#111"/>
<circle cx="515" cy="486.78" r="0.8" fill="#111"/>
<line x1="555.4" y1="474.73" x2="655" y2="474.73" stroke="#aaaaaa" stroke-width="0.6" stroke-dasharray="4.5,2.2"/>
<line x1="555.4" y1="453.96" x2="655" y2="453.96" stroke="#aaaaaa" stroke-width="0.6" stroke-dasharray="4.5,2.2"/>
<line x1="555.4" y1="433.19" x2="655" y2="433.19" stroke="#aaaaaa" stroke-width="0.6" stroke-dasharray="4.5,2.2"/>
<line x1="555.4" y1="496" x2="555.4" y2="433.19" stroke="#000" stroke-width="1.3"/>
<line x1="552.4" y1="495.5" x2="555.4" y2="495.5" stroke="#000" stroke-width="1.3"/>
<text x="552" y="497.91" font-size="6.7" font-weight="bold" text-anchor="end">0</text>
<line x1="552.4" y1="474.73" x2="555.4" y2="474.73" stroke="#000" stroke-width="1.3"/>
<text x="552" y="477.14" font-size="6.7" font-weight="bold" text-anchor="end">1000</text>
<line x1="552.4" y1="453.96" x2="555.4" y2="453.96" stroke="#000" stroke-width="1.3"/>
<text x="552" y="456.37" font-size="6.7" font-weight="bold" text-anchor="end">2000</text>
<line x1="552.4" y1="433.19" x2="555.4" y2="433.19" stroke="#000" stroke-width="1.3"/>
<text x="552" y="435.6" font-size="6.7" font-weight="bold" text-anchor="end">3000</text>
<line x1="554.9" y1="495.5" x2="655.5" y2="495.5" stroke="#000" stroke-width="1.3"/>
<line x1="555.4" y1="495.5" x2="555.4" y2="498.5" stroke="#000" stroke-width="1"/>
<text x="557.6" y="504.9" font-size="7" font-weight="bold" text-anchor="end" transform="rotate(-45 557.6 504.9)">0</text>
<line x1="559.93" y1="495.5" x2="559.93" y2="498.5" stroke="#000" stroke-width="1"/>
<line x1="564.45" y1="495.5" x2="564.45" y2="498.5" stroke="#000" stroke-width="1"/>
<text x="566.65" y="504.9" font-size="7" font-weight="bold" text-anchor="end" transform="rotate(-45 566.65 504.9)">2</text>
<line x1="568.98" y1="495.5" x2="568.98" y2="498.5" stroke="#000" stroke-width="1"/>
<line x1="573.51" y1="495.5" x2="573.51" y2="498.5" stroke="#000" stroke-width="1"/>
<text x="575.71" y="504.9" font-size="7" font-weight="bold" text-anchor="end" transform="rotate(-45 575.71 504.9)">4</text>
<line x1="578.04" y1="495.5" x2="578.04" y2="498.5" stroke="#000" stroke-width="1"/>
<line x1="582.56" y1="495.5" x2="582.56" y2="498.5" stroke="#000" stroke-width="1"/>
<text x="584.76" y="504.9" font-size="7" font-weight="bold" text-anchor="end" transform="rotate(-45 584.76 504.9)">6</text>
<line x1="587.09" y1="495.5" x2="587.09" y2="498.5" stroke="#000" stroke-width="1"/>
<line x1="591.62" y1="495.5" x2="591.62" y2="498.5" stroke="#000" stroke-width="1"/>
<text x="593.82" y="504.9" font-size="7" font-weight="bold" text-anchor="end" transform="rotate(-45 593.82 504.9)">8</text>
<line x1="596.15" y1="495.5" x2="596.15" y2="498.5" stroke="#000" stroke-width="1"/>
<line x1="600.67" y1="495.5" x2="600.67" y2="498.5" stroke="#000" stroke-width="1"/>
<text x="602.87" y="504.9" font-size="7" font-weight="bold" text-anchor="end" transform="rotate(-45 602.87 504.9)">10</text>
<line x1="605.2" y1="495.5" x2="605.2" y2="498.5" stroke="#000" stroke-width="1"/>
<line x1="609.73" y1="495.5" x2="609.73" y2="498.5" stroke="#000" stroke-width="1"/>
<text x="611.93" y="504.9" font-size="7" font-weight="bold" text-anchor="end" transform="rotate(-45 611.93 504.9)">12</text>
<line x1="614.25" y1="495.5" x2="614.25" y2="498.5" stroke="#000" stroke-width="1"/>
<line x1="618.78" y1="495.5" x2="618.78" y2="498.5" stroke="#000" stroke-width="1"/>
<text x="620.98" y="504.9" font-size="7" font-weight="bold" text-anchor="end" transform="rotate(-45 620.98 504.9)">14</text>
<line x1="623.31" y1="495.5" x2="623.31" y2="498.5" stroke="#000" stroke-width="1"/>
<line x1="627.84" y1="495.5" x2="627.84" y2="498.5" stroke="#000" stroke-width="1"/>
<text x="630.04" y="504.9" font-size="7" font-weight="bold" text-anchor="end" transform="rotate(-45 630.04 504.9)">16</text>
<line x1="632.36" y1="495.5" x2="632.36" y2="498.5" stroke="#000" stroke-width="1"/>
<line x1="636.89" y1="495.5" x2="636.89" y2="498.5" stroke="#000" stroke-width="1"/>
<text x="639.09" y="504.9" font-size="7" font-weight="bold" text-anchor="end" transform="rotate(-45 639.09 504.9)">18</text>
<line x1="641.42" y1="495.5" x2="641.42" y2="498.5" stroke="#000" stroke-width="1"/>
<line x1="645.95" y1="495.5" x2="645.95" y2="498.5" stroke="#000" stroke-width="1"/>
<text x="648.15" y="504.9" font-size="7" font-weight="bold" text-anchor="end" transform="rotate(-45 648.15 504.9)">20</text>
<line x1="650.47" y1="495.5" x2="650.47" y2="498.5" stroke="#000" stroke-width="1"/>
<line x1="655" y1="495.5" x2="655" y2="498.5" stroke="#000" stroke-width="1"/>
<text x="657.2" y="504.9" font-size="7" font-weight="bold" text-anchor="end" transform="rotate(-45 657.2 504.9)">22</text>
<text x="605.2" y="518.4" font-size="6.65" font-weight="bold" text-anchor="middle">Days post randomization</text>
<text x="604.8" y="426.2" font-size="6.45" font-weight="bold" text-anchor="middle">Isotype-combo</text>
<text x="533.5" y="463.5" font-size="6.6" font-weight="bold" text-anchor="middle" transform="rotate(-90 533.5 463.5)">Tumor Volume (mm<tspan dy="-2.3" font-size="4.6">3</tspan><tspan dy="2.3">)</tspan></text>
<polyline points="555.4,492.38 564.45,491.35 573.51,491.35 582.56,489.27 591.62,486.15 600.67,484.08 609.73,483.04 618.78,478.88 627.84,473.69 636.89,466.42 645.95,466.42 655,458.53" fill="none" stroke="#2a9a2a" stroke-width="0.9"/>
<circle cx="555.4" cy="492.38" r="0.8" fill="#111"/>
<circle cx="564.45" cy="491.35" r="0.8" fill="#111"/>
<circle cx="573.51" cy="491.35" r="0.8" fill="#111"/>
<circle cx="582.56" cy="489.27" r="0.8" fill="#111"/>
<circle cx="591.62" cy="486.15" r="0.8" fill="#111"/>
<circle cx="600.67" cy="484.08" r="0.8" fill="#111"/>
<circle cx="609.73" cy="483.04" r="0.8" fill="#111"/>
<circle cx="618.78" cy="478.88" r="0.8" fill="#111"/>
<circle cx="627.84" cy="473.69" r="0.8" fill="#111"/>
<circle cx="636.89" cy="466.42" r="0.8" fill="#111"/>
<circle cx="645.95" cy="466.42" r="0.8" fill="#111"/>
<circle cx="655" cy="458.53" r="0.8" fill="#111"/>
<polyline points="555.4,493.42 564.45,492.38 573.51,491.35 582.56,490.31 591.62,488.23 600.67,486.15 609.73,487.19 618.78,487.19 627.84,480.96 636.89,477.85 645.95,473.69 655,464.35" fill="none" stroke="#2a9a2a" stroke-width="0.9"/>
<circle cx="555.4" cy="493.42" r="0.8" fill="#111"/>
<circle cx="564.45" cy="492.38" r="0.8" fill="#111"/>
<circle cx="573.51" cy="491.35" r="0.8" fill="#111"/>
<circle cx="582.56" cy="490.31" r="0.8" fill="#111"/>
<circle cx="591.62" cy="488.23" r="0.8" fill="#111"/>
<circle cx="600.67" cy="486.15" r="0.8" fill="#111"/>
<circle cx="609.73" cy="487.19" r="0.8" fill="#111"/>
<circle cx="618.78" cy="487.19" r="0.8" fill="#111"/>
<circle cx="627.84" cy="480.96" r="0.8" fill="#111"/>
<circle cx="636.89" cy="477.85" r="0.8" fill="#111"/>
<circle cx="645.95" cy="473.69" r="0.8" fill="#111"/>
<circle cx="655" cy="464.35" r="0.8" fill="#111"/>
<polyline points="555.4,493.42 564.45,492.38 573.51,491.35 582.56,490.31 591.62,489.27 600.67,488.23 609.73,488.23 618.78,487.19 627.84,483.04 636.89,479.92 645.95,474.73 655,469.54" fill="none" stroke="#2a9a2a" stroke-width="0.9"/>
<circle cx="555.4" cy="493.42" r="0.8" fill="#111"/>
<circle cx="564.45" cy="492.38" r="0.8" fill="#111"/>
<circle cx="573.51" cy="491.35" r="0.8" fill="#111"/>
<circle cx="582.56" cy="490.31" r="0.8" fill="#111"/>
<circle cx="591.62" cy="489.27" r="0.8" fill="#111"/>
<circle cx="600.67" cy="488.23" r="0.8" fill="#111"/>
<circle cx="609.73" cy="488.23" r="0.8" fill="#111"/>
<circle cx="618.78" cy="487.19" r="0.8" fill="#111"/>
<circle cx="627.84" cy="483.04" r="0.8" fill="#111"/>
<circle cx="636.89" cy="479.92" r="0.8" fill="#111"/>
<circle cx="645.95" cy="474.73" r="0.8" fill="#111"/>
<circle cx="655" cy="469.54" r="0.8" fill="#111"/>
<polyline points="555.4,493.42 564.45,492.38 573.51,492.38 582.56,491.35 591.62,489.27 600.67,487.19 609.73,489.27 618.78,488.23 627.84,485.12 636.89,482 645.95,477.85 655,474.73" fill="none" stroke="#2a9a2a" stroke-width="0.9"/>
<circle cx="555.4" cy="493.42" r="0.8" fill="#111"/>
<circle cx="564.45" cy="492.38" r="0.8" fill="#111"/>
<circle cx="573.51" cy="492.38" r="0.8" fill="#111"/>
<circle cx="582.56" cy="491.35" r="0.8" fill="#111"/>
<circle cx="591.62" cy="489.27" r="0.8" fill="#111"/>
<circle cx="600.67" cy="487.19" r="0.8" fill="#111"/>
<circle cx="609.73" cy="489.27" r="0.8" fill="#111"/>
<circle cx="618.78" cy="488.23" r="0.8" fill="#111"/>
<circle cx="627.84" cy="485.12" r="0.8" fill="#111"/>
<circle cx="636.89" cy="482" r="0.8" fill="#111"/>
<circle cx="645.95" cy="477.85" r="0.8" fill="#111"/>
<circle cx="655" cy="474.73" r="0.8" fill="#111"/>
<polyline points="555.4,492.38 564.45,491.35 573.51,491.35 582.56,491.35 591.62,490.31 600.67,489.27 609.73,488.23 618.78,487.19 627.84,487.19 636.89,487.19 645.95,486.15 655,485.12" fill="none" stroke="#2a9a2a" stroke-width="0.9"/>
<circle cx="555.4" cy="492.38" r="0.8" fill="#111"/>
<circle cx="564.45" cy="491.35" r="0.8" fill="#111"/>
<circle cx="573.51" cy="491.35" r="0.8" fill="#111"/>
<circle cx="582.56" cy="491.35" r="0.8" fill="#111"/>
<circle cx="591.62" cy="490.31" r="0.8" fill="#111"/>
<circle cx="600.67" cy="489.27" r="0.8" fill="#111"/>
<circle cx="609.73" cy="488.23" r="0.8" fill="#111"/>
<circle cx="618.78" cy="487.19" r="0.8" fill="#111"/>
<circle cx="627.84" cy="487.19" r="0.8" fill="#111"/>
<circle cx="636.89" cy="487.19" r="0.8" fill="#111"/>
<circle cx="645.95" cy="486.15" r="0.8" fill="#111"/>
<circle cx="655" cy="485.12" r="0.8" fill="#111"/>
<polyline points="555.4,494.46 564.45,493.42 573.51,492.38 582.56,492.38 591.62,492.38 600.67,492.38 609.73,492.38 618.78,492.38 627.84,492.38 636.89,492.38 645.95,489.27 655,486.15" fill="none" stroke="#2a9a2a" stroke-width="0.9"/>
<circle cx="555.4" cy="494.46" r="0.8" fill="#111"/>
<circle cx="564.45" cy="493.42" r="0.8" fill="#111"/>
<circle cx="573.51" cy="492.38" r="0.8" fill="#111"/>
<circle cx="582.56" cy="492.38" r="0.8" fill="#111"/>
<circle cx="591.62" cy="492.38" r="0.8" fill="#111"/>
<circle cx="600.67" cy="492.38" r="0.8" fill="#111"/>
<circle cx="609.73" cy="492.38" r="0.8" fill="#111"/>
<circle cx="618.78" cy="492.38" r="0.8" fill="#111"/>
<circle cx="627.84" cy="492.38" r="0.8" fill="#111"/>
<circle cx="636.89" cy="492.38" r="0.8" fill="#111"/>
<circle cx="645.95" cy="489.27" r="0.8" fill="#111"/>
<circle cx="655" cy="486.15" r="0.8" fill="#111"/>
<polyline points="555.4,493.42 564.45,493.42 573.51,492.38 582.56,491.35 591.62,490.31 600.67,489.27 609.73,489.27 618.78,487.19 627.84,485.12 636.89,483.04 645.95,480.96 655,475.77" fill="none" stroke="#2a9a2a" stroke-width="0.9"/>
<circle cx="555.4" cy="493.42" r="0.8" fill="#111"/>
<circle cx="564.45" cy="493.42" r="0.8" fill="#111"/>
<circle cx="573.51" cy="492.38" r="0.8" fill="#111"/>
<circle cx="582.56" cy="491.35" r="0.8" fill="#111"/>
<circle cx="591.62" cy="490.31" r="0.8" fill="#111"/>
<circle cx="600.67" cy="489.27" r="0.8" fill="#111"/>
<circle cx="609.73" cy="489.27" r="0.8" fill="#111"/>
<circle cx="618.78" cy="487.19" r="0.8" fill="#111"/>
<circle cx="627.84" cy="485.12" r="0.8" fill="#111"/>
<circle cx="636.89" cy="483.04" r="0.8" fill="#111"/>
<circle cx="645.95" cy="480.96" r="0.8" fill="#111"/>
<circle cx="655" cy="475.77" r="0.8" fill="#111"/>
<text x="1.3" y="546.3" font-size="11.5" font-weight="bold">i</text>
<line x1="41.7" y1="654.4" x2="41.7" y2="582.5" stroke="#000" stroke-width="1.3"/>
<line x1="38.7" y1="653.9" x2="41.7" y2="653.9" stroke="#000" stroke-width="1.3"/>
<text x="38.2" y="656.71" font-size="7.8" font-weight="bold" text-anchor="end">0</text>
<line x1="38.7" y1="630.1" x2="41.7" y2="630.1" stroke="#000" stroke-width="1.3"/>
<text x="38.2" y="632.91" font-size="7.8" font-weight="bold" text-anchor="end">1000</text>
<line x1="38.7" y1="606.3" x2="41.7" y2="606.3" stroke="#000" stroke-width="1.3"/>
<text x="38.2" y="609.11" font-size="7.8" font-weight="bold" text-anchor="end">2000</text>
<line x1="38.7" y1="582.5" x2="41.7" y2="582.5" stroke="#000" stroke-width="1.3"/>
<text x="38.2" y="585.31" font-size="7.8" font-weight="bold" text-anchor="end">3000</text>
<line x1="39.9" y1="642" x2="41.7" y2="642" stroke="#000" stroke-width="1.17"/>
<line x1="39.9" y1="618.2" x2="41.7" y2="618.2" stroke="#000" stroke-width="1.17"/>
<line x1="39.9" y1="594.4" x2="41.7" y2="594.4" stroke="#000" stroke-width="1.17"/>
<line x1="41.2" y1="653.9" x2="142" y2="653.9" stroke="#000" stroke-width="1.3"/>
<line x1="50" y1="653.9" x2="50" y2="656.9" stroke="#000" stroke-width="1"/>
<line x1="66.6" y1="653.9" x2="66.6" y2="656.9" stroke="#000" stroke-width="1"/>
<line x1="83" y1="653.9" x2="83" y2="656.9" stroke="#000" stroke-width="1"/>
<line x1="99.7" y1="653.9" x2="99.7" y2="656.9" stroke="#000" stroke-width="1"/>
<line x1="116.3" y1="653.9" x2="116.3" y2="656.9" stroke="#000" stroke-width="1"/>
<line x1="133" y1="653.9" x2="133" y2="656.9" stroke="#000" stroke-width="1"/>
<rect x="44.5" y="619.7" width="11" height="34.2" fill="none" stroke="#999999" stroke-width="0.95"/>
<line x1="50" y1="619.7" x2="50" y2="611.54" stroke="#999999" stroke-width="0.95"/>
<line x1="47.25" y1="611.54" x2="52.75" y2="611.54" stroke="#999999" stroke-width="0.95"/>
<circle cx="48.9" cy="593.33" r="0.95" fill="#222"/>
<circle cx="49.71" cy="597.49" r="0.95" fill="#222"/>
<circle cx="50.53" cy="623.67" r="0.95" fill="#222"/>
<circle cx="49.14" cy="630.5" r="0.95" fill="#222"/>
<circle cx="49.96" cy="634.5" r="0.95" fill="#222"/>
<circle cx="50.77" cy="638.12" r="0.95" fill="#222"/>
<rect x="61.1" y="624.01" width="11" height="29.89" fill="none" stroke="#1a2cf0" stroke-width="0.95"/>
<line x1="66.6" y1="624.01" x2="66.6" y2="619.32" stroke="#1a2cf0" stroke-width="0.95"/>
<line x1="63.85" y1="619.32" x2="69.35" y2="619.32" stroke="#1a2cf0" stroke-width="0.95"/>
<circle cx="64.95" cy="604.11" r="0.95" fill="#1a2cf0"/>
<circle cx="66.17" cy="621.77" r="0.95" fill="#1a2cf0"/>
<circle cx="67.39" cy="623.44" r="0.95" fill="#1a2cf0"/>
<circle cx="65.31" cy="626.53" r="0.95" fill="#1a2cf0"/>
<circle cx="66.53" cy="639.91" r="0.95" fill="#1a2cf0"/>
<rect x="77.5" y="643.19" width="11" height="10.71" fill="none" stroke="#f7a0a0" stroke-width="0.95"/>
<line x1="83" y1="643.19" x2="83" y2="640.1" stroke="#f7a0a0" stroke-width="0.95"/>
<line x1="80.25" y1="640.1" x2="85.75" y2="640.1" stroke="#f7a0a0" stroke-width="0.95"/>
<circle cx="80.25" cy="634.86" r="0.95" fill="#f01818"/>
<circle cx="82.28" cy="638.43" r="0.95" fill="#f01818"/>
<circle cx="84.32" cy="640.1" r="0.95" fill="#f01818"/>
<circle cx="80.86" cy="649.14" r="0.95" fill="#f01818"/>
<circle cx="82.89" cy="649.38" r="0.95" fill="#f01818"/>
<rect x="94.2" y="651.76" width="11" height="2.14" fill="none" stroke="#f01818" stroke-width="0.95"/>
<line x1="99.7" y1="651.76" x2="99.7" y2="651.04" stroke="#f01818" stroke-width="0.95"/>
<line x1="96.95" y1="651.04" x2="102.45" y2="651.04" stroke="#f01818" stroke-width="0.95"/>
<circle cx="94.75" cy="648.9" r="0.95" fill="#f01818"/>
<circle cx="98.41" cy="650.33" r="0.95" fill="#f01818"/>
<circle cx="102.08" cy="651.04" r="0.95" fill="#f01818"/>
<circle cx="95.84" cy="652" r="0.95" fill="#f01818"/>
<circle cx="99.5" cy="652.47" r="0.95" fill="#f01818"/>
<circle cx="103.17" cy="652.95" r="0.95" fill="#f01818"/>
<circle cx="96.93" cy="653.19" r="0.95" fill="#f01818"/>
<circle cx="100.59" cy="653.42" r="0.95" fill="#f01818"/>
<rect x="110.8" y="615.3" width="11" height="38.6" fill="none" stroke="#cc78f0" stroke-width="0.95"/>
<line x1="116.3" y1="615.3" x2="116.3" y2="607.39" stroke="#cc78f0" stroke-width="0.95"/>
<line x1="113.55" y1="607.39" x2="119.05" y2="607.39" stroke="#cc78f0" stroke-width="0.95"/>
<circle cx="115.2" cy="594.88" r="0.95" fill="#a020f0"/>
<circle cx="116.01" cy="604.75" r="0.95" fill="#a020f0"/>
<circle cx="116.83" cy="607.39" r="0.95" fill="#a020f0"/>
<circle cx="115.44" cy="627.1" r="0.95" fill="#a020f0"/>
<circle cx="116.26" cy="643.9" r="0.95" fill="#a020f0"/>
<rect x="127.5" y="628.41" width="11" height="25.49" fill="none" stroke="#2a9a2a" stroke-width="0.95"/>
<line x1="133" y1="628.41" x2="133" y2="623.29" stroke="#2a9a2a" stroke-width="0.95"/>
<line x1="130.25" y1="623.29" x2="135.75" y2="623.29" stroke="#2a9a2a" stroke-width="0.95"/>
<circle cx="131.9" cy="612.2" r="0.95" fill="#2a9a2a"/>
<circle cx="132.71" cy="618.91" r="0.95" fill="#2a9a2a"/>
<circle cx="133.53" cy="624.15" r="0.95" fill="#2a9a2a"/>
<circle cx="132.14" cy="630.69" r="0.95" fill="#2a9a2a"/>
<circle cx="132.96" cy="642.81" r="0.95" fill="#2a9a2a"/>
<text x="51.9" y="664.8" font-size="7.6" font-weight="bold" text-anchor="end" transform="rotate(-45 51.9 664.8)">Vehicle</text>
<text x="68.5" y="664.8" font-size="7.6" font-weight="bold" text-anchor="end" transform="rotate(-45 68.5 664.8)">TAIII</text>
<text x="84.9" y="664.8" font-size="7.6" font-weight="bold" text-anchor="end" transform="rotate(-45 84.9 664.8)">αPD-1</text>
<text x="101.6" y="664.8" font-size="7.6" font-weight="bold" text-anchor="end" transform="rotate(-45 101.6 664.8)">αPD-1-combo</text>
<text x="118.2" y="664.8" font-size="7.6" font-weight="bold" text-anchor="end" transform="rotate(-45 118.2 664.8)">Isotype</text>
<text x="134.9" y="664.8" font-size="7.6" font-weight="bold" text-anchor="end" transform="rotate(-45 134.9 664.8)">Isotype-combo</text>
<text x="17" y="617" font-size="7.6" font-weight="bold" text-anchor="middle" transform="rotate(-90 17 617)">Tumor size (mm<tspan dy="-2.8" font-size="5.4">3</tspan><tspan dy="2.8">)</tspan></text>
<line x1="50" y1="562.4" x2="133" y2="562.4" stroke="#222" stroke-width="1.1"/>
<text x="91.5" y="559.1" font-size="5.8" text-anchor="middle" fill="#222">0.8399</text>
<line x1="50" y1="574.5" x2="99.8" y2="574.5" stroke="#222" stroke-width="1.1"/>
<text x="74.9" y="571.2" font-size="5.8" text-anchor="middle" fill="#222">0.0023</text>
<line x1="50" y1="586.1" x2="83" y2="586.1" stroke="#222" stroke-width="1.1"/>
<text x="66.5" y="582.8" font-size="5.8" text-anchor="middle" fill="#222">0.0382</text>
<line x1="67" y1="599.5" x2="99.8" y2="599.5" stroke="#222" stroke-width="1.1"/>
<text x="83.4" y="595.7" font-size="5.8" text-anchor="middle" fill="#222">0.0103</text>
<line x1="85.1" y1="618.3" x2="100.3" y2="618.3" stroke="#222" stroke-width="1.1"/>
<text x="92.7" y="614.3" font-size="5.8" text-anchor="middle" fill="#222">0.0233</text>
<text x="57.6" y="613.9" font-size="7" font-weight="bold">12.5%</text>
<text x="75.7" y="630.5" font-size="7" font-weight="bold">69.3%</text>
<text x="90.9" y="645.3" font-size="7" font-weight="bold">93.5%</text>
<text x="124.9" y="608.8" font-size="7" font-weight="bold">26.0%</text>
<text x="170.2" y="548.1" font-size="11.5" font-weight="bold">j</text>
<text x="247.2" y="558.7" font-size="8.2" font-weight="bold" text-anchor="middle">Tumor</text>
<line x1="200.7" y1="653" x2="200.7" y2="571" stroke="#000" stroke-width="1.3"/>
<line x1="197.7" y1="652.5" x2="200.7" y2="652.5" stroke="#000" stroke-width="1.3"/>
<text x="197.2" y="654.95" font-size="6.8" font-weight="bold" text-anchor="end">0</text>
<line x1="197.7" y1="636.2" x2="200.7" y2="636.2" stroke="#000" stroke-width="1.3"/>
<text x="197.2" y="638.65" font-size="6.8" font-weight="bold" text-anchor="end">200</text>
<line x1="197.7" y1="619.9" x2="200.7" y2="619.9" stroke="#000" stroke-width="1.3"/>
<text x="197.2" y="622.35" font-size="6.8" font-weight="bold" text-anchor="end">400</text>
<line x1="197.7" y1="603.6" x2="200.7" y2="603.6" stroke="#000" stroke-width="1.3"/>
<text x="197.2" y="606.05" font-size="6.8" font-weight="bold" text-anchor="end">600</text>
<line x1="197.7" y1="587.3" x2="200.7" y2="587.3" stroke="#000" stroke-width="1.3"/>
<text x="197.2" y="589.75" font-size="6.8" font-weight="bold" text-anchor="end">800</text>
<line x1="197.7" y1="571" x2="200.7" y2="571" stroke="#000" stroke-width="1.3"/>
<text x="197.2" y="573.45" font-size="6.8" font-weight="bold" text-anchor="end">1000</text>
<line x1="198.9" y1="644.35" x2="200.7" y2="644.35" stroke="#000" stroke-width="1.17"/>
<line x1="198.9" y1="628.05" x2="200.7" y2="628.05" stroke="#000" stroke-width="1.17"/>
<line x1="198.9" y1="611.75" x2="200.7" y2="611.75" stroke="#000" stroke-width="1.17"/>
<line x1="198.9" y1="595.45" x2="200.7" y2="595.45" stroke="#000" stroke-width="1.17"/>
<line x1="198.9" y1="579.15" x2="200.7" y2="579.15" stroke="#000" stroke-width="1.17"/>
<line x1="200.2" y1="652.5" x2="294.3" y2="652.5" stroke="#000" stroke-width="1.3"/>
<line x1="210.4" y1="652.5" x2="210.4" y2="655.5" stroke="#000" stroke-width="1"/>
<line x1="224.9" y1="652.5" x2="224.9" y2="655.5" stroke="#000" stroke-width="1"/>
<line x1="239.6" y1="652.5" x2="239.6" y2="655.5" stroke="#000" stroke-width="1"/>
<line x1="254.5" y1="652.5" x2="254.5" y2="655.5" stroke="#000" stroke-width="1"/>
<line x1="269.2" y1="652.5" x2="269.2" y2="655.5" stroke="#000" stroke-width="1"/>
<line x1="283.9" y1="652.5" x2="283.9" y2="655.5" stroke="#000" stroke-width="1"/>
<rect x="205.45" y="640.44" width="9.9" height="12.06" fill="none" stroke="#999999" stroke-width="0.95"/>
<line x1="210.4" y1="640.44" x2="210.4" y2="638.4" stroke="#999999" stroke-width="0.95"/>
<line x1="207.93" y1="638.4" x2="212.88" y2="638.4" stroke="#999999" stroke-width="0.95"/>
<circle cx="209.16" cy="638.24" r="0.95" fill="#333"/>
<circle cx="210.08" cy="638.64" r="0.95" fill="#333"/>
<circle cx="210.99" cy="639.05" r="0.95" fill="#333"/>
<circle cx="209.43" cy="646.39" r="0.95" fill="#333"/>
<rect x="219.95" y="631.15" width="9.9" height="21.35" fill="none" stroke="#1a2cf0" stroke-width="0.95"/>
<line x1="224.9" y1="631.15" x2="224.9" y2="625.03" stroke="#1a2cf0" stroke-width="0.95"/>
<line x1="222.43" y1="625.03" x2="227.38" y2="625.03" stroke="#1a2cf0" stroke-width="0.95"/>
<circle cx="223.66" cy="625.61" r="0.95" fill="#1a2cf0"/>
<circle cx="224.58" cy="627.24" r="0.95" fill="#1a2cf0"/>
<circle cx="225.49" cy="628.87" r="0.95" fill="#1a2cf0"/>
<circle cx="223.93" cy="633.75" r="0.95" fill="#1a2cf0"/>
<circle cx="224.85" cy="642.72" r="0.95" fill="#1a2cf0"/>
<rect x="234.65" y="624.38" width="9.9" height="28.12" fill="none" stroke="#f7a0a0" stroke-width="0.95"/>
<line x1="239.6" y1="624.38" x2="239.6" y2="619.49" stroke="#f7a0a0" stroke-width="0.95"/>
<line x1="237.12" y1="619.49" x2="242.07" y2="619.49" stroke="#f7a0a0" stroke-width="0.95"/>
<circle cx="238.36" cy="619.09" r="0.95" fill="#f01818"/>
<circle cx="239.28" cy="625.61" r="0.95" fill="#f01818"/>
<circle cx="240.19" cy="636.2" r="0.95" fill="#f01818"/>
<rect x="249.55" y="608.9" width="9.9" height="43.6" fill="none" stroke="#f01818" stroke-width="0.95"/>
<line x1="254.5" y1="608.9" x2="254.5" y2="601.4" stroke="#f01818" stroke-width="0.95"/>
<line x1="252.03" y1="601.4" x2="256.98" y2="601.4" stroke="#f01818" stroke-width="0.95"/>
<circle cx="253.26" cy="602.78" r="0.95" fill="#f01818"/>
<circle cx="254.18" cy="613.38" r="0.95" fill="#f01818"/>
<circle cx="255.09" cy="616.64" r="0.95" fill="#f01818"/>
<rect x="264.25" y="639.22" width="9.9" height="13.28" fill="none" stroke="#cc78f0" stroke-width="0.95"/>
<line x1="269.2" y1="639.22" x2="269.2" y2="634.41" stroke="#cc78f0" stroke-width="0.95"/>
<line x1="266.72" y1="634.41" x2="271.68" y2="634.41" stroke="#cc78f0" stroke-width="0.95"/>
<circle cx="267.96" cy="632.12" r="0.95" fill="#a020f0"/>
<circle cx="268.88" cy="637.83" r="0.95" fill="#a020f0"/>
<circle cx="269.79" cy="640.27" r="0.95" fill="#a020f0"/>
<circle cx="268.23" cy="641.9" r="0.95" fill="#a020f0"/>
<circle cx="269.15" cy="642.72" r="0.95" fill="#a020f0"/>
<rect x="278.95" y="627.07" width="9.9" height="25.43" fill="none" stroke="#2a9a2a" stroke-width="0.95"/>
<line x1="283.9" y1="627.07" x2="283.9" y2="622.18" stroke="#2a9a2a" stroke-width="0.95"/>
<line x1="281.42" y1="622.18" x2="286.38" y2="622.18" stroke="#2a9a2a" stroke-width="0.95"/>
<circle cx="282.66" cy="623.16" r="0.95" fill="#2a9a2a"/>
<circle cx="283.58" cy="627.24" r="0.95" fill="#2a9a2a"/>
<circle cx="284.49" cy="627.24" r="0.95" fill="#2a9a2a"/>
<text x="212.3" y="663.4" font-size="7.7" font-weight="bold" text-anchor="end" transform="rotate(-45 212.3 663.4)">Vehicle</text>
<text x="226.8" y="663.4" font-size="7.7" font-weight="bold" text-anchor="end" transform="rotate(-45 226.8 663.4)">TAIII</text>
<text x="241.5" y="663.4" font-size="7.7" font-weight="bold" text-anchor="end" transform="rotate(-45 241.5 663.4)">αPD-1</text>
<text x="256.4" y="663.4" font-size="7.7" font-weight="bold" text-anchor="end" transform="rotate(-45 256.4 663.4)">αPD-1-combo</text>
<text x="271.1" y="663.4" font-size="7.7" font-weight="bold" text-anchor="end" transform="rotate(-45 271.1 663.4)">Isotype</text>
<text x="285.8" y="663.4" font-size="7.7" font-weight="bold" text-anchor="end" transform="rotate(-45 285.8 663.4)">Isotype-combo</text>
<text x="180.6" y="611.2" font-size="7.5" font-weight="bold" text-anchor="middle" transform="rotate(-90 180.6 611.2)">IFN-γ (pg/ml)</text>
<line x1="210.4" y1="571.5" x2="280.8" y2="571.5" stroke="#888" stroke-width="1.5"/>
<text x="245.6" y="568.2" font-size="5.8" text-anchor="middle" fill="#222">0.0222</text>
<line x1="210.4" y1="583.2" x2="254.6" y2="583.2" stroke="#222" stroke-width="1.1"/>
<text x="232.5" y="579.9" font-size="5.8" text-anchor="middle" fill="#222"><0.0001</text>
<line x1="239.5" y1="595.1" x2="254.6" y2="595.1" stroke="#222" stroke-width="1.2"/>
<text x="247.05" y="591" font-size="5.8" text-anchor="middle" fill="#222">0.0058</text>
<line x1="210.4" y1="618.3" x2="224.9" y2="618.3" stroke="#222" stroke-width="1.1"/>
<text x="217.65" y="614.6" font-size="5.8" text-anchor="middle" fill="#222">0.2124</text>
<line x1="269.4" y1="615.5" x2="284.2" y2="615.5" stroke="#222" stroke-width="1.1"/>
<text x="276.8" y="611.2" font-size="5.8" text-anchor="middle" fill="#222">0.0342</text>
<text x="362.9" y="564.8" font-size="8.4" font-weight="bold" text-anchor="middle">Serum</text>
<line x1="316.4" y1="653.8" x2="316.4" y2="572.6" stroke="#000" stroke-width="1.3"/>
<line x1="313.4" y1="653.3" x2="316.4" y2="653.3" stroke="#000" stroke-width="1.3"/>
<text x="312.9" y="655.75" font-size="6.8" font-weight="bold" text-anchor="end">0</text>
<line x1="313.4" y1="637.16" x2="316.4" y2="637.16" stroke="#000" stroke-width="1.3"/>
<text x="312.9" y="639.61" font-size="6.8" font-weight="bold" text-anchor="end">1</text>
<line x1="313.4" y1="621.02" x2="316.4" y2="621.02" stroke="#000" stroke-width="1.3"/>
<text x="312.9" y="623.47" font-size="6.8" font-weight="bold" text-anchor="end">2</text>
<line x1="313.4" y1="604.88" x2="316.4" y2="604.88" stroke="#000" stroke-width="1.3"/>
<text x="312.9" y="607.33" font-size="6.8" font-weight="bold" text-anchor="end">3</text>
<line x1="313.4" y1="588.74" x2="316.4" y2="588.74" stroke="#000" stroke-width="1.3"/>
<text x="312.9" y="591.19" font-size="6.8" font-weight="bold" text-anchor="end">4</text>
<line x1="313.4" y1="572.6" x2="316.4" y2="572.6" stroke="#000" stroke-width="1.3"/>
<text x="312.9" y="575.05" font-size="6.8" font-weight="bold" text-anchor="end">5</text>
<line x1="314.6" y1="645.23" x2="316.4" y2="645.23" stroke="#000" stroke-width="1.17"/>
<line x1="314.6" y1="629.09" x2="316.4" y2="629.09" stroke="#000" stroke-width="1.17"/>
<line x1="314.6" y1="612.95" x2="316.4" y2="612.95" stroke="#000" stroke-width="1.17"/>
<line x1="314.6" y1="596.81" x2="316.4" y2="596.81" stroke="#000" stroke-width="1.17"/>
<line x1="314.6" y1="580.67" x2="316.4" y2="580.67" stroke="#000" stroke-width="1.17"/>
<line x1="315.9" y1="653.3" x2="409.8" y2="653.3" stroke="#000" stroke-width="1.3"/>
<line x1="326.1" y1="653.3" x2="326.1" y2="656.3" stroke="#000" stroke-width="1"/>
<line x1="340.7" y1="653.3" x2="340.7" y2="656.3" stroke="#000" stroke-width="1"/>
<line x1="355.3" y1="653.3" x2="355.3" y2="656.3" stroke="#000" stroke-width="1"/>
<line x1="370" y1="653.3" x2="370" y2="656.3" stroke="#000" stroke-width="1"/>
<line x1="384.9" y1="653.3" x2="384.9" y2="656.3" stroke="#000" stroke-width="1"/>
<line x1="399.5" y1="653.3" x2="399.5" y2="656.3" stroke="#000" stroke-width="1"/>
<rect x="321.2" y="643.21" width="9.8" height="10.09" fill="none" stroke="#999999" stroke-width="0.95"/>
<line x1="326.1" y1="643.21" x2="326.1" y2="642.41" stroke="#999999" stroke-width="0.95"/>
<line x1="323.65" y1="642.41" x2="328.55" y2="642.41" stroke="#999999" stroke-width="0.95"/>
<line x1="326.1" y1="643.21" x2="326.1" y2="644.02" stroke="#999999" stroke-width="0.95"/>
<line x1="323.65" y1="644.02" x2="328.55" y2="644.02" stroke="#999999" stroke-width="0.95"/>
<circle cx="324.88" cy="642" r="0.95" fill="#333"/>
<circle cx="325.78" cy="642.32" r="0.95" fill="#333"/>
<circle cx="326.69" cy="642.65" r="0.95" fill="#333"/>
<circle cx="325.14" cy="644.42" r="0.95" fill="#333"/>
<circle cx="326.05" cy="645.23" r="0.95" fill="#333"/>
<rect x="335.8" y="627.96" width="9.8" height="25.34" fill="none" stroke="#1a2cf0" stroke-width="0.95"/>
<line x1="340.7" y1="627.96" x2="340.7" y2="624.73" stroke="#1a2cf0" stroke-width="0.95"/>
<line x1="338.25" y1="624.73" x2="343.15" y2="624.73" stroke="#1a2cf0" stroke-width="0.95"/>
<line x1="340.7" y1="627.96" x2="340.7" y2="631.35" stroke="#1a2cf0" stroke-width="0.95"/>
<line x1="338.25" y1="631.35" x2="343.15" y2="631.35" stroke="#1a2cf0" stroke-width="0.95"/>
<circle cx="339.47" cy="615.37" r="0.95" fill="#1a2cf0"/>
<circle cx="340.38" cy="621.83" r="0.95" fill="#1a2cf0"/>
<circle cx="341.29" cy="625.05" r="0.95" fill="#1a2cf0"/>
<circle cx="339.74" cy="629.09" r="0.95" fill="#1a2cf0"/>
<circle cx="340.65" cy="637.16" r="0.95" fill="#1a2cf0"/>
<circle cx="341.56" cy="637.16" r="0.95" fill="#1a2cf0"/>
<rect x="350.4" y="643.45" width="9.8" height="9.85" fill="none" stroke="#f7a0a0" stroke-width="0.95"/>
<line x1="355.3" y1="643.45" x2="355.3" y2="642.65" stroke="#f7a0a0" stroke-width="0.95"/>
<line x1="352.85" y1="642.65" x2="357.75" y2="642.65" stroke="#f7a0a0" stroke-width="0.95"/>
<line x1="355.3" y1="643.45" x2="355.3" y2="644.26" stroke="#f7a0a0" stroke-width="0.95"/>
<line x1="352.85" y1="644.26" x2="357.75" y2="644.26" stroke="#f7a0a0" stroke-width="0.95"/>
<circle cx="354.07" cy="641.19" r="0.95" fill="#f01818"/>
<circle cx="354.98" cy="642.81" r="0.95" fill="#f01818"/>
<circle cx="355.89" cy="643.62" r="0.95" fill="#f01818"/>
<circle cx="354.34" cy="643.29" r="0.95" fill="#f01818"/>
<rect x="365.1" y="617.31" width="9.8" height="35.99" fill="none" stroke="#f01818" stroke-width="0.95"/>
<line x1="370" y1="617.31" x2="370" y2="612.63" stroke="#f01818" stroke-width="0.95"/>
<line x1="367.55" y1="612.63" x2="372.45" y2="612.63" stroke="#f01818" stroke-width="0.95"/>
<line x1="370" y1="617.31" x2="370" y2="621.5" stroke="#f01818" stroke-width="0.95"/>
<line x1="367.55" y1="621.5" x2="372.45" y2="621.5" stroke="#f01818" stroke-width="0.95"/>
<circle cx="368.77" cy="597.62" r="0.95" fill="#f01818"/>
<circle cx="369.68" cy="605.69" r="0.95" fill="#f01818"/>
<circle cx="370.59" cy="617.79" r="0.95" fill="#f01818"/>
<circle cx="369.04" cy="618.6" r="0.95" fill="#f01818"/>
<circle cx="369.95" cy="619.41" r="0.95" fill="#f01818"/>
<circle cx="370.86" cy="629.09" r="0.95" fill="#f01818"/>
<rect x="380" y="641.52" width="9.8" height="11.78" fill="none" stroke="#cc78f0" stroke-width="0.95"/>
<line x1="384.9" y1="641.52" x2="384.9" y2="640.71" stroke="#cc78f0" stroke-width="0.95"/>
<line x1="382.45" y1="640.71" x2="387.35" y2="640.71" stroke="#cc78f0" stroke-width="0.95"/>
<line x1="384.9" y1="641.52" x2="384.9" y2="642.32" stroke="#cc78f0" stroke-width="0.95"/>
<line x1="382.45" y1="642.32" x2="387.35" y2="642.32" stroke="#cc78f0" stroke-width="0.95"/>
<circle cx="383.67" cy="640.39" r="0.95" fill="#a020f0"/>
<circle cx="384.58" cy="640.71" r="0.95" fill="#a020f0"/>
<circle cx="385.49" cy="641.19" r="0.95" fill="#a020f0"/>
<circle cx="383.94" cy="642" r="0.95" fill="#a020f0"/>
<circle cx="384.85" cy="642.81" r="0.95" fill="#a020f0"/>
<circle cx="385.76" cy="643.62" r="0.95" fill="#a020f0"/>
<rect x="394.6" y="623.28" width="9.8" height="30.02" fill="none" stroke="#2a9a2a" stroke-width="0.95"/>
<line x1="399.5" y1="623.28" x2="399.5" y2="619.41" stroke="#2a9a2a" stroke-width="0.95"/>
<line x1="397.05" y1="619.41" x2="401.95" y2="619.41" stroke="#2a9a2a" stroke-width="0.95"/>
<line x1="399.5" y1="623.28" x2="399.5" y2="627.48" stroke="#2a9a2a" stroke-width="0.95"/>
<line x1="397.05" y1="627.48" x2="401.95" y2="627.48" stroke="#2a9a2a" stroke-width="0.95"/>
<circle cx="398.27" cy="609.72" r="0.95" fill="#2a9a2a"/>
<circle cx="399.18" cy="617.79" r="0.95" fill="#2a9a2a"/>
<circle cx="400.09" cy="618.6" r="0.95" fill="#2a9a2a"/>
<circle cx="398.54" cy="625.86" r="0.95" fill="#2a9a2a"/>
<circle cx="399.45" cy="627.48" r="0.95" fill="#2a9a2a"/>
<circle cx="400.36" cy="632.32" r="0.95" fill="#2a9a2a"/>
<text x="328" y="664.2" font-size="7.7" font-weight="bold" text-anchor="end" transform="rotate(-45 328 664.2)">Vehicle</text>
<text x="342.6" y="664.2" font-size="7.7" font-weight="bold" text-anchor="end" transform="rotate(-45 342.6 664.2)">TAIII</text>
<text x="357.2" y="664.2" font-size="7.7" font-weight="bold" text-anchor="end" transform="rotate(-45 357.2 664.2)">αPD-1</text>
<text x="371.9" y="664.2" font-size="7.7" font-weight="bold" text-anchor="end" transform="rotate(-45 371.9 664.2)">αPD-1-combo</text>
<text x="386.8" y="664.2" font-size="7.7" font-weight="bold" text-anchor="end" transform="rotate(-45 386.8 664.2)">Isotype</text>
<text x="401.4" y="664.2" font-size="7.7" font-weight="bold" text-anchor="end" transform="rotate(-45 401.4 664.2)">Isotype-combo</text>
<text x="301.5" y="611.2" font-size="7.5" font-weight="bold" text-anchor="middle" transform="rotate(-90 301.5 611.2)">IFN-γ (pg/ml)</text>
<line x1="326.2" y1="589.4" x2="340.6" y2="589.4" stroke="#222" stroke-width="1.2"/>
<text x="333.4" y="585.9" font-size="5.8" text-anchor="middle" fill="#222">0.0021</text>
<line x1="355.4" y1="589.4" x2="370" y2="589.4" stroke="#222" stroke-width="1.2"/>
<text x="362.7" y="585.9" font-size="5.8" text-anchor="middle" fill="#222"><0.0001</text>
<line x1="384.9" y1="589.4" x2="399.7" y2="589.4" stroke="#222" stroke-width="1.2"/>
<text x="392.3" y="585.9" font-size="5.8" text-anchor="middle" fill="#222">0.0001</text>
<text x="414" y="547.1" font-size="11.5" font-weight="bold">k</text>
<text x="504.1" y="553.7" font-size="8.6" font-weight="bold" text-anchor="middle">p-CREB/GAPDH</text>
<line x1="447.5" y1="652.9" x2="447.5" y2="568.48" stroke="#000" stroke-width="1.3"/>
<line x1="444.5" y1="652.4" x2="447.5" y2="652.4" stroke="#000" stroke-width="1.3"/>
<text x="444" y="654.85" font-size="6.8" font-weight="bold" text-anchor="end">0.0</text>
<line x1="444.5" y1="631.42" x2="447.5" y2="631.42" stroke="#000" stroke-width="1.3"/>
<text x="444" y="633.87" font-size="6.8" font-weight="bold" text-anchor="end">0.2</text>
<line x1="444.5" y1="610.44" x2="447.5" y2="610.44" stroke="#000" stroke-width="1.3"/>
<text x="444" y="612.89" font-size="6.8" font-weight="bold" text-anchor="end">0.4</text>
<line x1="444.5" y1="589.46" x2="447.5" y2="589.46" stroke="#000" stroke-width="1.3"/>
<text x="444" y="591.91" font-size="6.8" font-weight="bold" text-anchor="end">0.6</text>
<line x1="444.5" y1="568.48" x2="447.5" y2="568.48" stroke="#000" stroke-width="1.3"/>
<text x="444" y="570.93" font-size="6.8" font-weight="bold" text-anchor="end">0.8</text>
<line x1="445.7" y1="641.91" x2="447.5" y2="641.91" stroke="#000" stroke-width="1.17"/>
<line x1="445.7" y1="620.93" x2="447.5" y2="620.93" stroke="#000" stroke-width="1.17"/>
<line x1="445.7" y1="599.95" x2="447.5" y2="599.95" stroke="#000" stroke-width="1.17"/>
<line x1="445.7" y1="578.97" x2="447.5" y2="578.97" stroke="#000" stroke-width="1.17"/>
<line x1="447" y1="652.4" x2="544.5" y2="652.4" stroke="#000" stroke-width="1.3"/>
<line x1="457.4" y1="652.4" x2="457.4" y2="655.4" stroke="#000" stroke-width="1"/>
<line x1="472.6" y1="652.4" x2="472.6" y2="655.4" stroke="#000" stroke-width="1"/>
<line x1="487.8" y1="652.4" x2="487.8" y2="655.4" stroke="#000" stroke-width="1"/>
<line x1="503.2" y1="652.4" x2="503.2" y2="655.4" stroke="#000" stroke-width="1"/>
<line x1="518.5" y1="652.4" x2="518.5" y2="655.4" stroke="#000" stroke-width="1"/>
<line x1="533.5" y1="652.4" x2="533.5" y2="655.4" stroke="#000" stroke-width="1"/>
<rect x="452.25" y="618.31" width="10.3" height="34.09" fill="none" stroke="#999999" stroke-width="0.95"/>
<line x1="457.4" y1="618.31" x2="457.4" y2="604.15" stroke="#999999" stroke-width="0.95"/>
<line x1="454.82" y1="604.15" x2="459.97" y2="604.15" stroke="#999999" stroke-width="0.95"/>
<line x1="457.4" y1="618.31" x2="457.4" y2="633.1" stroke="#999999" stroke-width="0.95"/>
<line x1="454.82" y1="633.1" x2="459.97" y2="633.1" stroke="#999999" stroke-width="0.95"/>
<circle cx="456.11" cy="576.87" r="0.95" fill="#333"/>
<circle cx="457.07" cy="627.22" r="0.95" fill="#333"/>
<circle cx="458.02" cy="631.42" r="0.95" fill="#333"/>
<circle cx="456.4" cy="639.81" r="0.95" fill="#333"/>
<rect x="467.45" y="632.15" width="10.3" height="20.25" fill="none" stroke="#1a2cf0" stroke-width="0.95"/>
<line x1="472.6" y1="632.15" x2="472.6" y2="621.35" stroke="#1a2cf0" stroke-width="0.95"/>
<line x1="470.03" y1="621.35" x2="475.18" y2="621.35" stroke="#1a2cf0" stroke-width="0.95"/>
<line x1="472.6" y1="632.15" x2="472.6" y2="642.12" stroke="#1a2cf0" stroke-width="0.95"/>
<line x1="470.03" y1="642.12" x2="475.18" y2="642.12" stroke="#1a2cf0" stroke-width="0.95"/>
<circle cx="471.31" cy="601" r="0.95" fill="#1a2cf0"/>
<circle cx="472.27" cy="639.81" r="0.95" fill="#1a2cf0"/>
<circle cx="473.22" cy="640.86" r="0.95" fill="#1a2cf0"/>
<circle cx="471.6" cy="646.11" r="0.95" fill="#1a2cf0"/>
<rect x="482.65" y="635.09" width="10.3" height="17.31" fill="none" stroke="#f7a0a0" stroke-width="0.95"/>
<line x1="487.8" y1="635.09" x2="487.8" y2="630.37" stroke="#f7a0a0" stroke-width="0.95"/>
<line x1="485.23" y1="630.37" x2="490.38" y2="630.37" stroke="#f7a0a0" stroke-width="0.95"/>
<line x1="487.8" y1="635.09" x2="487.8" y2="639.81" stroke="#f7a0a0" stroke-width="0.95"/>
<line x1="485.23" y1="639.81" x2="490.38" y2="639.81" stroke="#f7a0a0" stroke-width="0.95"/>
<circle cx="486.51" cy="625.13" r="0.95" fill="#f01818"/>
<circle cx="487.47" cy="633.52" r="0.95" fill="#f01818"/>
<circle cx="488.42" cy="644.01" r="0.95" fill="#f01818"/>
<rect x="498.05" y="645.16" width="10.3" height="7.24" fill="none" stroke="#f01818" stroke-width="0.95"/>
<line x1="503.2" y1="645.16" x2="503.2" y2="644.11" stroke="#f01818" stroke-width="0.95"/>
<line x1="500.62" y1="644.11" x2="505.77" y2="644.11" stroke="#f01818" stroke-width="0.95"/>
<circle cx="501.91" cy="643.48" r="0.95" fill="#f01818"/>
<circle cx="502.87" cy="644.01" r="0.95" fill="#f01818"/>
<circle cx="503.82" cy="645.06" r="0.95" fill="#f01818"/>
<circle cx="502.2" cy="644.53" r="0.95" fill="#f01818"/>
<rect x="513.35" y="637.4" width="10.3" height="15" fill="none" stroke="#cc78f0" stroke-width="0.95"/>
<line x1="518.5" y1="637.4" x2="518.5" y2="632.47" stroke="#cc78f0" stroke-width="0.95"/>
<line x1="515.92" y1="632.47" x2="521.08" y2="632.47" stroke="#cc78f0" stroke-width="0.95"/>
<line x1="518.5" y1="637.4" x2="518.5" y2="641.6" stroke="#cc78f0" stroke-width="0.95"/>
<line x1="515.92" y1="641.6" x2="521.08" y2="641.6" stroke="#cc78f0" stroke-width="0.95"/>
<circle cx="517.21" cy="624.08" r="0.95" fill="#a020f0"/>
<circle cx="518.17" cy="637.71" r="0.95" fill="#a020f0"/>
<circle cx="519.12" cy="639.81" r="0.95" fill="#a020f0"/>
<circle cx="517.5" cy="641.91" r="0.95" fill="#a020f0"/>
<rect x="528.35" y="629.43" width="10.3" height="22.97" fill="none" stroke="#2a9a2a" stroke-width="0.95"/>
<line x1="533.5" y1="629.43" x2="533.5" y2="622.4" stroke="#2a9a2a" stroke-width="0.95"/>
<line x1="530.92" y1="622.4" x2="536.08" y2="622.4" stroke="#2a9a2a" stroke-width="0.95"/>
<line x1="533.5" y1="629.43" x2="533.5" y2="635.83" stroke="#2a9a2a" stroke-width="0.95"/>
<line x1="530.92" y1="635.83" x2="536.08" y2="635.83" stroke="#2a9a2a" stroke-width="0.95"/>
<circle cx="532.21" cy="615.68" r="0.95" fill="#2a9a2a"/>
<circle cx="533.17" cy="619.88" r="0.95" fill="#2a9a2a"/>
<circle cx="534.12" cy="633.52" r="0.95" fill="#2a9a2a"/>
<circle cx="532.5" cy="642.96" r="0.95" fill="#2a9a2a"/>
<text x="459.3" y="663.3" font-size="7.7" font-weight="bold" text-anchor="end" transform="rotate(-45 459.3 663.3)">Vehicle</text>
<text x="474.5" y="663.3" font-size="7.7" font-weight="bold" text-anchor="end" transform="rotate(-45 474.5 663.3)">TAIII</text>
<text x="489.7" y="663.3" font-size="7.7" font-weight="bold" text-anchor="end" transform="rotate(-45 489.7 663.3)">αPD-1</text>
<text x="505.1" y="663.3" font-size="7.7" font-weight="bold" text-anchor="end" transform="rotate(-45 505.1 663.3)">αPD-1-combo</text>
<text x="520.4" y="663.3" font-size="7.7" font-weight="bold" text-anchor="end" transform="rotate(-45 520.4 663.3)">Isotype</text>
<text x="535.4" y="663.3" font-size="7.7" font-weight="bold" text-anchor="end" transform="rotate(-45 535.4 663.3)">Isotype-combo</text>
<text x="430.8" y="609.9" font-size="7.65" font-weight="bold" text-anchor="middle" transform="rotate(-90 430.8 609.9)">Relative protein level</text>
<line x1="457.6" y1="573.3" x2="488.1" y2="573.3" stroke="#222" stroke-width="1.2"/>
<text x="472.85" y="569.9" font-size="5.8" text-anchor="middle" fill="#222">0.7220</text>
<line x1="457.6" y1="590.5" x2="472.8" y2="590.5" stroke="#222" stroke-width="1.2"/>
<text x="465.2" y="586.7" font-size="5.8" text-anchor="middle" fill="#222">0.8476</text>
<line x1="488.1" y1="615.2" x2="502.9" y2="615.2" stroke="#222" stroke-width="1.2"/>
<text x="495.5" y="611.6" font-size="5.8" text-anchor="middle" fill="#222">0.0468</text>
<line x1="518.9" y1="609.3" x2="534" y2="609.3" stroke="#222" stroke-width="1.2"/>
<text x="526.45" y="605.5" font-size="5.8" text-anchor="middle" fill="#222">0.9759</text>
<text x="550.6" y="546.5" font-size="11.5" font-weight="bold">l</text>
<text x="584.5" y="559.8" font-size="8.6" font-weight="bold">CD44<tspan dy="-3.3" font-size="6">+</tspan><tspan dy="3.3">CD62L</tspan><tspan dy="-3.3" font-size="6">+</tspan><tspan dy="3.3">Tcm cells</tspan></text>
<line x1="583.9" y1="653.8" x2="583.9" y2="583.7" stroke="#000" stroke-width="1.3"/>
<line x1="580.9" y1="653.3" x2="583.9" y2="653.3" stroke="#000" stroke-width="1.3"/>
<text x="580.4" y="655.78" font-size="6.9" font-weight="bold" text-anchor="end">0</text>
<line x1="580.9" y1="630.1" x2="583.9" y2="630.1" stroke="#000" stroke-width="1.3"/>
<text x="580.4" y="632.58" font-size="6.9" font-weight="bold" text-anchor="end">5</text>
<line x1="580.9" y1="606.9" x2="583.9" y2="606.9" stroke="#000" stroke-width="1.3"/>
<text x="580.4" y="609.38" font-size="6.9" font-weight="bold" text-anchor="end">10</text>
<line x1="580.9" y1="583.7" x2="583.9" y2="583.7" stroke="#000" stroke-width="1.3"/>
<text x="580.4" y="586.18" font-size="6.9" font-weight="bold" text-anchor="end">15</text>
<line x1="582.1" y1="641.7" x2="583.9" y2="641.7" stroke="#000" stroke-width="1.17"/>
<line x1="582.1" y1="618.5" x2="583.9" y2="618.5" stroke="#000" stroke-width="1.17"/>
<line x1="582.1" y1="595.3" x2="583.9" y2="595.3" stroke="#000" stroke-width="1.17"/>
<line x1="583.4" y1="653.3" x2="682" y2="653.3" stroke="#000" stroke-width="1.3"/>
<line x1="594.5" y1="653.3" x2="594.5" y2="656.3" stroke="#000" stroke-width="1"/>
<line x1="609.5" y1="653.3" x2="609.5" y2="656.3" stroke="#000" stroke-width="1"/>
<line x1="625.1" y1="653.3" x2="625.1" y2="656.3" stroke="#000" stroke-width="1"/>
<line x1="640.5" y1="653.3" x2="640.5" y2="656.3" stroke="#000" stroke-width="1"/>
<line x1="655.7" y1="653.3" x2="655.7" y2="656.3" stroke="#000" stroke-width="1"/>
<line x1="671.4" y1="653.3" x2="671.4" y2="656.3" stroke="#000" stroke-width="1"/>
<rect x="589.25" y="617.2" width="10.5" height="36.1" fill="none" stroke="#999999" stroke-width="0.95"/>
<line x1="594.5" y1="617.2" x2="594.5" y2="601.42" stroke="#999999" stroke-width="0.95"/>
<line x1="591.88" y1="601.42" x2="597.12" y2="601.42" stroke="#999999" stroke-width="0.95"/>
<circle cx="593.19" cy="599.48" r="0.95" fill="#333"/>
<circle cx="594.16" cy="611.22" r="0.95" fill="#333"/>
<circle cx="595.13" cy="621.75" r="0.95" fill="#333"/>
<circle cx="593.48" cy="635.67" r="0.95" fill="#333"/>
<rect x="604.25" y="626.11" width="10.5" height="27.19" fill="none" stroke="#1a2cf0" stroke-width="0.95"/>
<line x1="609.5" y1="626.11" x2="609.5" y2="614.51" stroke="#1a2cf0" stroke-width="0.95"/>
<line x1="606.88" y1="614.51" x2="612.12" y2="614.51" stroke="#1a2cf0" stroke-width="0.95"/>
<circle cx="608.19" cy="608.76" r="0.95" fill="#1a2cf0"/>
<circle cx="609.16" cy="630.1" r="0.95" fill="#1a2cf0"/>
<circle cx="610.13" cy="633.35" r="0.95" fill="#1a2cf0"/>
<circle cx="608.48" cy="633.81" r="0.95" fill="#1a2cf0"/>
<rect x="619.85" y="643.56" width="10.5" height="9.74" fill="none" stroke="#f7a0a0" stroke-width="0.95"/>
<line x1="625.1" y1="643.56" x2="625.1" y2="639.15" stroke="#f7a0a0" stroke-width="0.95"/>
<line x1="622.48" y1="639.15" x2="627.73" y2="639.15" stroke="#f7a0a0" stroke-width="0.95"/>
<circle cx="623.79" cy="640.31" r="0.95" fill="#f01818"/>
<circle cx="624.76" cy="644.02" r="0.95" fill="#f01818"/>
<circle cx="625.73" cy="645.88" r="0.95" fill="#f01818"/>
<rect x="635.25" y="627.08" width="10.5" height="26.22" fill="none" stroke="#f01818" stroke-width="0.95"/>
<line x1="640.5" y1="627.08" x2="640.5" y2="617.11" stroke="#f01818" stroke-width="0.95"/>
<line x1="637.88" y1="617.11" x2="643.12" y2="617.11" stroke="#f01818" stroke-width="0.95"/>
<circle cx="639.19" cy="617.11" r="0.95" fill="#f01818"/>
<circle cx="640.16" cy="619.89" r="0.95" fill="#f01818"/>
<circle cx="641.13" cy="623.14" r="0.95" fill="#f01818"/>
<circle cx="639.48" cy="640.77" r="0.95" fill="#f01818"/>
<rect x="650.45" y="626.39" width="10.5" height="26.91" fill="none" stroke="#cc78f0" stroke-width="0.95"/>
<line x1="655.7" y1="626.39" x2="655.7" y2="614.56" stroke="#cc78f0" stroke-width="0.95"/>
<line x1="653.08" y1="614.56" x2="658.33" y2="614.56" stroke="#cc78f0" stroke-width="0.95"/>
<circle cx="654.39" cy="611.08" r="0.95" fill="#a020f0"/>
<circle cx="655.36" cy="625.92" r="0.95" fill="#a020f0"/>
<circle cx="656.33" cy="630.1" r="0.95" fill="#a020f0"/>
<circle cx="654.68" cy="640.77" r="0.95" fill="#a020f0"/>
<rect x="666.15" y="628.38" width="10.5" height="24.92" fill="none" stroke="#2a9a2a" stroke-width="0.95"/>
<line x1="671.4" y1="628.38" x2="671.4" y2="620.26" stroke="#2a9a2a" stroke-width="0.95"/>
<line x1="668.77" y1="620.26" x2="674.02" y2="620.26" stroke="#2a9a2a" stroke-width="0.95"/>
<circle cx="670.09" cy="620.82" r="0.95" fill="#2a9a2a"/>
<circle cx="671.06" cy="621.75" r="0.95" fill="#2a9a2a"/>
<circle cx="672.03" cy="631.96" r="0.95" fill="#2a9a2a"/>
<circle cx="670.38" cy="637.99" r="0.95" fill="#2a9a2a"/>
<text x="596.4" y="664.2" font-size="7.7" font-weight="bold" text-anchor="end" transform="rotate(-45 596.4 664.2)">Vehicle</text>
<text x="611.4" y="664.2" font-size="7.7" font-weight="bold" text-anchor="end" transform="rotate(-45 611.4 664.2)">TAIII</text>
<text x="627" y="664.2" font-size="7.7" font-weight="bold" text-anchor="end" transform="rotate(-45 627 664.2)">αPD-1</text>
<text x="642.4" y="664.2" font-size="7.7" font-weight="bold" text-anchor="end" transform="rotate(-45 642.4 664.2)">αPD-1-combo</text>
<text x="657.6" y="664.2" font-size="7.7" font-weight="bold" text-anchor="end" transform="rotate(-45 657.6 664.2)">Isotype</text>
<text x="673.3" y="664.2" font-size="7.7" font-weight="bold" text-anchor="end" transform="rotate(-45 673.3 664.2)">Isotype-combo</text>
<text x="569.3" y="617" font-size="7.8" font-weight="bold" text-anchor="middle" transform="rotate(-90 569.3 617)">%Tcm in total T cells</text>
<line x1="594.6" y1="581.3" x2="625.2" y2="581.3" stroke="#222" stroke-width="1.2"/>
<text x="609.9" y="577.7" font-size="5.8" text-anchor="middle" fill="#222">0.0286</text>
<line x1="594.6" y1="593.2" x2="609.7" y2="593.2" stroke="#222" stroke-width="1.2"/>
<text x="602.15" y="589.8" font-size="5.8" text-anchor="middle" fill="#222">0.8336</text>
<line x1="625.2" y1="610.9" x2="640.6" y2="610.9" stroke="#777" stroke-width="1.5"/>
<text x="632.9" y="607.6" font-size="5.8" text-anchor="middle" fill="#222">0.0210</text>
<line x1="656.1" y1="605.3" x2="671.6" y2="605.3" stroke="#222" stroke-width="1.2"/>
<text x="663.85" y="601.5" font-size="5.8" text-anchor="middle" fill="#222">0.8359</text>
<text x="435.5" y="729.8" font-size="11.5" font-weight="bold">n</text>
<text x="511.2" y="757.8" font-size="8.3" font-weight="bold" text-anchor="middle">FoxP3</text>
<line x1="465.2" y1="846.8" x2="465.2" y2="766.9" stroke="#000" stroke-width="1.3"/>
<line x1="462.2" y1="846.3" x2="465.2" y2="846.3" stroke="#000" stroke-width="1.3"/>
<text x="461.7" y="849.04" font-size="7.6" font-weight="bold" text-anchor="end">0.0</text>
<line x1="462.2" y1="826.45" x2="465.2" y2="826.45" stroke="#000" stroke-width="1.3"/>
<text x="461.7" y="829.19" font-size="7.6" font-weight="bold" text-anchor="end">0.5</text>
<line x1="462.2" y1="806.6" x2="465.2" y2="806.6" stroke="#000" stroke-width="1.3"/>
<text x="461.7" y="809.34" font-size="7.6" font-weight="bold" text-anchor="end">1.0</text>
<line x1="462.2" y1="786.75" x2="465.2" y2="786.75" stroke="#000" stroke-width="1.3"/>
<text x="461.7" y="789.49" font-size="7.6" font-weight="bold" text-anchor="end">1.5</text>
<line x1="462.2" y1="766.9" x2="465.2" y2="766.9" stroke="#000" stroke-width="1.3"/>
<text x="461.7" y="769.64" font-size="7.6" font-weight="bold" text-anchor="end">2.0</text>
<line x1="464.7" y1="846.3" x2="557.3" y2="846.3" stroke="#000" stroke-width="1.3"/>
<line x1="475" y1="846.3" x2="475" y2="849.3" stroke="#000" stroke-width="1"/>
<line x1="489.6" y1="846.3" x2="489.6" y2="849.3" stroke="#000" stroke-width="1"/>
<line x1="504.1" y1="846.3" x2="504.1" y2="849.3" stroke="#000" stroke-width="1"/>
<line x1="518.5" y1="846.3" x2="518.5" y2="849.3" stroke="#000" stroke-width="1"/>
<line x1="533.4" y1="846.3" x2="533.4" y2="849.3" stroke="#000" stroke-width="1"/>
<line x1="548.2" y1="846.3" x2="548.2" y2="849.3" stroke="#000" stroke-width="1"/>
<rect x="470.15" y="827.24" width="9.7" height="19.06" fill="none" stroke="#999999" stroke-width="0.95"/>
<line x1="475" y1="827.24" x2="475" y2="812.16" stroke="#999999" stroke-width="0.95"/>
<line x1="472.57" y1="812.16" x2="477.43" y2="812.16" stroke="#999999" stroke-width="0.95"/>
<circle cx="473.79" cy="799.45" r="0.95" fill="#333"/>
<circle cx="474.68" cy="803.82" r="0.95" fill="#333"/>
<circle cx="475.58" cy="827.24" r="0.95" fill="#333"/>
<circle cx="474.05" cy="832.4" r="0.95" fill="#333"/>
<circle cx="474.95" cy="835.18" r="0.95" fill="#333"/>
<circle cx="475.85" cy="835.58" r="0.95" fill="#333"/>
<circle cx="474.32" cy="837.57" r="0.95" fill="#333"/>
<circle cx="475.22" cy="838.36" r="0.95" fill="#333"/>
<rect x="484.75" y="835.3" width="9.7" height="11" fill="none" stroke="#1a2cf0" stroke-width="0.95"/>
<line x1="489.6" y1="835.3" x2="489.6" y2="828.16" stroke="#1a2cf0" stroke-width="0.95"/>
<line x1="487.18" y1="828.16" x2="492.03" y2="828.16" stroke="#1a2cf0" stroke-width="0.95"/>
<line x1="489.6" y1="835.3" x2="489.6" y2="842.05" stroke="#1a2cf0" stroke-width="0.95"/>
<line x1="487.18" y1="842.05" x2="492.03" y2="842.05" stroke="#1a2cf0" stroke-width="0.95"/>
<circle cx="488.39" cy="824.07" r="0.95" fill="#1a2cf0"/>
<circle cx="489.28" cy="828.83" r="0.95" fill="#1a2cf0"/>
<circle cx="490.18" cy="834.39" r="0.95" fill="#1a2cf0"/>
<circle cx="488.65" cy="840.34" r="0.95" fill="#1a2cf0"/>
<circle cx="489.55" cy="841.54" r="0.95" fill="#1a2cf0"/>
<circle cx="490.45" cy="842.33" r="0.95" fill="#1a2cf0"/>
<circle cx="488.92" cy="842.33" r="0.95" fill="#1a2cf0"/>
<rect x="499.25" y="811.36" width="9.7" height="34.94" fill="none" stroke="#f7a0a0" stroke-width="0.95"/>
<line x1="504.1" y1="811.36" x2="504.1" y2="799.06" stroke="#f7a0a0" stroke-width="0.95"/>
<line x1="501.68" y1="799.06" x2="506.53" y2="799.06" stroke="#f7a0a0" stroke-width="0.95"/>
<circle cx="502.89" cy="786.75" r="0.95" fill="#f7a0a0"/>
<circle cx="503.78" cy="808.58" r="0.95" fill="#f7a0a0"/>
<circle cx="504.68" cy="810.57" r="0.95" fill="#f7a0a0"/>
<circle cx="503.15" cy="822.48" r="0.95" fill="#f7a0a0"/>
<circle cx="504.05" cy="823.27" r="0.95" fill="#f7a0a0"/>
<circle cx="504.95" cy="824.46" r="0.95" fill="#f7a0a0"/>
<rect x="513.65" y="827.4" width="9.7" height="18.9" fill="none" stroke="#f01818" stroke-width="0.95"/>
<line x1="518.5" y1="827.4" x2="518.5" y2="820.65" stroke="#f01818" stroke-width="0.95"/>
<line x1="516.08" y1="820.65" x2="520.92" y2="820.65" stroke="#f01818" stroke-width="0.95"/>
<line x1="518.5" y1="827.4" x2="518.5" y2="831.37" stroke="#f01818" stroke-width="0.95"/>
<line x1="516.08" y1="831.37" x2="520.92" y2="831.37" stroke="#f01818" stroke-width="0.95"/>
<circle cx="517.29" cy="816.52" r="0.95" fill="#f01818"/>
<circle cx="518.18" cy="821.69" r="0.95" fill="#f01818"/>
<circle cx="519.08" cy="822.48" r="0.95" fill="#f01818"/>
<circle cx="517.55" cy="824.46" r="0.95" fill="#f01818"/>
<circle cx="518.45" cy="826.45" r="0.95" fill="#f01818"/>
<circle cx="519.35" cy="828.43" r="0.95" fill="#f01818"/>
<circle cx="517.82" cy="830.42" r="0.95" fill="#f01818"/>
<circle cx="518.72" cy="834.39" r="0.95" fill="#f01818"/>
<circle cx="519.62" cy="837.57" r="0.95" fill="#f01818"/>
<rect x="528.55" y="822.48" width="9.7" height="23.82" fill="none" stroke="#cc78f0" stroke-width="0.95"/>
<line x1="533.4" y1="822.48" x2="533.4" y2="814.54" stroke="#cc78f0" stroke-width="0.95"/>
<line x1="530.98" y1="814.54" x2="535.82" y2="814.54" stroke="#cc78f0" stroke-width="0.95"/>
<circle cx="532.19" cy="814.54" r="0.95" fill="#a020f0"/>
<circle cx="533.08" cy="815.33" r="0.95" fill="#a020f0"/>
<circle cx="533.98" cy="816.52" r="0.95" fill="#a020f0"/>
<circle cx="532.45" cy="818.51" r="0.95" fill="#a020f0"/>
<circle cx="533.35" cy="824.46" r="0.95" fill="#a020f0"/>
<circle cx="534.25" cy="826.45" r="0.95" fill="#a020f0"/>
<circle cx="532.72" cy="828.43" r="0.95" fill="#a020f0"/>
<circle cx="533.62" cy="834.39" r="0.95" fill="#a020f0"/>
<rect x="543.35" y="836.22" width="9.7" height="10.08" fill="none" stroke="#2a9a2a" stroke-width="0.95"/>
<line x1="548.2" y1="836.22" x2="548.2" y2="831.45" stroke="#2a9a2a" stroke-width="0.95"/>
<line x1="545.78" y1="831.45" x2="550.62" y2="831.45" stroke="#2a9a2a" stroke-width="0.95"/>
<circle cx="546.99" cy="831.21" r="0.95" fill="#2a9a2a"/>
<circle cx="547.88" cy="831.61" r="0.95" fill="#2a9a2a"/>
<circle cx="548.78" cy="834.39" r="0.95" fill="#2a9a2a"/>
<circle cx="547.25" cy="836.38" r="0.95" fill="#2a9a2a"/>
<circle cx="548.15" cy="838.36" r="0.95" fill="#2a9a2a"/>
<circle cx="549.05" cy="840.34" r="0.95" fill="#2a9a2a"/>
<circle cx="547.52" cy="842.33" r="0.95" fill="#2a9a2a"/>
<text x="476.9" y="857.2" font-size="7.7" font-weight="bold" text-anchor="end" transform="rotate(-45 476.9 857.2)">Vehicle</text>
<text x="491.5" y="857.2" font-size="7.7" font-weight="bold" text-anchor="end" transform="rotate(-45 491.5 857.2)">TAIII</text>
<text x="506" y="857.2" font-size="7.7" font-weight="bold" text-anchor="end" transform="rotate(-45 506 857.2)">αPD-1</text>
<text x="520.4" y="857.2" font-size="7.7" font-weight="bold" text-anchor="end" transform="rotate(-45 520.4 857.2)">αPD-1-combo</text>
<text x="535.3" y="857.2" font-size="7.7" font-weight="bold" text-anchor="end" transform="rotate(-45 535.3 857.2)">Isotype</text>
<text x="550.1" y="857.2" font-size="7.7" font-weight="bold" text-anchor="end" transform="rotate(-45 550.1 857.2)">Isotype-combo</text>
<text x="447.8" y="805.3" font-size="8.15" font-weight="bold" text-anchor="middle" transform="rotate(-90 447.8 805.3)">Relative positive area %</text>
<line x1="475.1" y1="795.2" x2="489.5" y2="795.2" stroke="#222" stroke-width="1.2"/>
<text x="482.3" y="792.2" font-size="5.8" text-anchor="middle" fill="#222">0.4433</text>
<line x1="504.1" y1="782.5" x2="518.9" y2="782.5" stroke="#222" stroke-width="1.2"/>
<text x="511.5" y="779.3" font-size="5.8" text-anchor="middle" fill="#222">0.0120</text>
<line x1="533" y1="808.3" x2="548.1" y2="808.3" stroke="#222" stroke-width="1.2"/>
<text x="540.55" y="805.3" font-size="5.8" text-anchor="middle" fill="#222">0.0400</text>
<text x="636.6" y="756.8" font-size="8.3" font-weight="bold" text-anchor="middle">CD8</text>
<line x1="588.9" y1="845.7" x2="588.9" y2="766" stroke="#000" stroke-width="1.3"/>
<line x1="585.9" y1="845.2" x2="588.9" y2="845.2" stroke="#000" stroke-width="1.3"/>
<text x="585.4" y="847.94" font-size="7.6" font-weight="bold" text-anchor="end">0</text>
<line x1="585.9" y1="825.4" x2="588.9" y2="825.4" stroke="#000" stroke-width="1.3"/>
<text x="585.4" y="828.14" font-size="7.6" font-weight="bold" text-anchor="end">10</text>
<line x1="585.9" y1="805.6" x2="588.9" y2="805.6" stroke="#000" stroke-width="1.3"/>
<text x="585.4" y="808.34" font-size="7.6" font-weight="bold" text-anchor="end">20</text>
<line x1="585.9" y1="785.8" x2="588.9" y2="785.8" stroke="#000" stroke-width="1.3"/>
<text x="585.4" y="788.54" font-size="7.6" font-weight="bold" text-anchor="end">30</text>
<line x1="585.9" y1="766" x2="588.9" y2="766" stroke="#000" stroke-width="1.3"/>
<text x="585.4" y="768.74" font-size="7.6" font-weight="bold" text-anchor="end">40</text>
<line x1="588.4" y1="845.2" x2="683" y2="845.2" stroke="#000" stroke-width="1.3"/>
<line x1="599.5" y1="845.2" x2="599.5" y2="848.2" stroke="#000" stroke-width="1"/>
<line x1="614.2" y1="845.2" x2="614.2" y2="848.2" stroke="#000" stroke-width="1"/>
<line x1="629.1" y1="845.2" x2="629.1" y2="848.2" stroke="#000" stroke-width="1"/>
<line x1="643.8" y1="845.2" x2="643.8" y2="848.2" stroke="#000" stroke-width="1"/>
<line x1="658.6" y1="845.2" x2="658.6" y2="848.2" stroke="#000" stroke-width="1"/>
<line x1="673.6" y1="845.2" x2="673.6" y2="848.2" stroke="#000" stroke-width="1"/>
<rect x="594.5" y="838.27" width="10" height="6.93" fill="none" stroke="#999999" stroke-width="0.95"/>
<line x1="599.5" y1="838.27" x2="599.5" y2="835.1" stroke="#999999" stroke-width="0.95"/>
<line x1="597" y1="835.1" x2="602" y2="835.1" stroke="#999999" stroke-width="0.95"/>
<circle cx="598.25" cy="829.36" r="0.95" fill="#333"/>
<circle cx="599.17" cy="835.3" r="0.95" fill="#333"/>
<circle cx="600.1" cy="836.29" r="0.95" fill="#333"/>
<circle cx="598.52" cy="839.26" r="0.95" fill="#333"/>
<circle cx="599.45" cy="840.25" r="0.95" fill="#333"/>
<circle cx="600.38" cy="841.24" r="0.95" fill="#333"/>
<rect x="609.2" y="827.78" width="10" height="17.42" fill="none" stroke="#1a2cf0" stroke-width="0.95"/>
<line x1="614.2" y1="827.78" x2="614.2" y2="819.86" stroke="#1a2cf0" stroke-width="0.95"/>
<line x1="611.7" y1="819.86" x2="616.7" y2="819.86" stroke="#1a2cf0" stroke-width="0.95"/>
<circle cx="612.95" cy="813.52" r="0.95" fill="#1a2cf0"/>
<circle cx="613.88" cy="817.48" r="0.95" fill="#1a2cf0"/>
<circle cx="614.8" cy="822.43" r="0.95" fill="#1a2cf0"/>
<circle cx="613.23" cy="827.38" r="0.95" fill="#1a2cf0"/>
<circle cx="614.15" cy="829.36" r="0.95" fill="#1a2cf0"/>
<circle cx="615.08" cy="831.34" r="0.95" fill="#1a2cf0"/>
<circle cx="613.5" cy="835.3" r="0.95" fill="#1a2cf0"/>
<circle cx="614.43" cy="835.3" r="0.95" fill="#1a2cf0"/>
<rect x="624.1" y="824.41" width="10" height="20.79" fill="none" stroke="#f7a0a0" stroke-width="0.95"/>
<line x1="629.1" y1="824.41" x2="629.1" y2="813.52" stroke="#f7a0a0" stroke-width="0.95"/>
<line x1="626.6" y1="813.52" x2="631.6" y2="813.52" stroke="#f7a0a0" stroke-width="0.95"/>
<circle cx="627.85" cy="813.52" r="0.95" fill="#f7a0a0"/>
<circle cx="628.77" cy="813.52" r="0.95" fill="#f7a0a0"/>
<circle cx="629.7" cy="819.46" r="0.95" fill="#f7a0a0"/>
<circle cx="628.12" cy="829.36" r="0.95" fill="#f7a0a0"/>
<circle cx="629.05" cy="835.3" r="0.95" fill="#f7a0a0"/>
<circle cx="629.98" cy="839.26" r="0.95" fill="#f7a0a0"/>
<circle cx="628.4" cy="841.24" r="0.95" fill="#f7a0a0"/>
<rect x="638.8" y="805.2" width="10" height="40" fill="none" stroke="#f01818" stroke-width="0.95"/>
<line x1="643.8" y1="805.2" x2="643.8" y2="790.95" stroke="#f01818" stroke-width="0.95"/>
<line x1="641.3" y1="790.95" x2="646.3" y2="790.95" stroke="#f01818" stroke-width="0.95"/>
<circle cx="642.55" cy="778.87" r="0.95" fill="#f01818"/>
<circle cx="643.47" cy="791.74" r="0.95" fill="#f01818"/>
<circle cx="644.4" cy="797.68" r="0.95" fill="#f01818"/>
<circle cx="642.82" cy="805.6" r="0.95" fill="#f01818"/>
<circle cx="643.75" cy="807.58" r="0.95" fill="#f01818"/>
<circle cx="644.67" cy="813.52" r="0.95" fill="#f01818"/>
<circle cx="643.1" cy="821.44" r="0.95" fill="#f01818"/>
<circle cx="644.02" cy="823.42" r="0.95" fill="#f01818"/>
<rect x="653.6" y="830.15" width="10" height="15.05" fill="none" stroke="#cc78f0" stroke-width="0.95"/>
<line x1="658.6" y1="830.15" x2="658.6" y2="821.44" stroke="#cc78f0" stroke-width="0.95"/>
<line x1="656.1" y1="821.44" x2="661.1" y2="821.44" stroke="#cc78f0" stroke-width="0.95"/>
<circle cx="657.35" cy="819.46" r="0.95" fill="#a020f0"/>
<circle cx="658.27" cy="820.45" r="0.95" fill="#a020f0"/>
<circle cx="659.2" cy="824.41" r="0.95" fill="#a020f0"/>
<circle cx="657.62" cy="825.4" r="0.95" fill="#a020f0"/>
<circle cx="658.55" cy="831.34" r="0.95" fill="#a020f0"/>
<circle cx="659.48" cy="838.27" r="0.95" fill="#a020f0"/>
<circle cx="657.9" cy="839.26" r="0.95" fill="#a020f0"/>
<circle cx="658.83" cy="839.26" r="0.95" fill="#a020f0"/>
<rect x="668.6" y="811.54" width="10" height="33.66" fill="none" stroke="#2a9a2a" stroke-width="0.95"/>
<line x1="673.6" y1="811.54" x2="673.6" y2="799.26" stroke="#2a9a2a" stroke-width="0.95"/>
<line x1="671.1" y1="799.26" x2="676.1" y2="799.26" stroke="#2a9a2a" stroke-width="0.95"/>
<circle cx="672.35" cy="793.72" r="0.95" fill="#2a9a2a"/>
<circle cx="673.27" cy="795.7" r="0.95" fill="#2a9a2a"/>
<circle cx="674.2" cy="801.64" r="0.95" fill="#2a9a2a"/>
<circle cx="672.62" cy="811.54" r="0.95" fill="#2a9a2a"/>
<circle cx="673.55" cy="819.46" r="0.95" fill="#2a9a2a"/>
<circle cx="674.48" cy="819.46" r="0.95" fill="#2a9a2a"/>
<circle cx="672.9" cy="827.38" r="0.95" fill="#2a9a2a"/>
<circle cx="673.83" cy="827.38" r="0.95" fill="#2a9a2a"/>
<text x="601.4" y="856.1" font-size="7.7" font-weight="bold" text-anchor="end" transform="rotate(-45 601.4 856.1)">Vehicle</text>
<text x="616.1" y="856.1" font-size="7.7" font-weight="bold" text-anchor="end" transform="rotate(-45 616.1 856.1)">TAIII</text>
<text x="631" y="856.1" font-size="7.7" font-weight="bold" text-anchor="end" transform="rotate(-45 631 856.1)">αPD-1</text>
<text x="645.7" y="856.1" font-size="7.7" font-weight="bold" text-anchor="end" transform="rotate(-45 645.7 856.1)">αPD-1-combo</text>
<text x="660.5" y="856.1" font-size="7.7" font-weight="bold" text-anchor="end" transform="rotate(-45 660.5 856.1)">Isotype</text>
<text x="675.5" y="856.1" font-size="7.7" font-weight="bold" text-anchor="end" transform="rotate(-45 675.5 856.1)">Isotype-combo</text>
<text x="573.7" y="804" font-size="8.15" font-weight="bold" text-anchor="middle" transform="rotate(-90 573.7 804)">Relative positive area %</text>
<line x1="599" y1="808.2" x2="614.1" y2="808.2" stroke="#222" stroke-width="1.2"/>
<text x="606.55" y="804.6" font-size="5.8" text-anchor="middle" fill="#222">0.2989</text>
<line x1="629.2" y1="772.7" x2="644" y2="772.7" stroke="#777" stroke-width="1.5"/>
<text x="636.6" y="769.6" font-size="5.8" text-anchor="middle" fill="#222">0.0028</text>
<line x1="658.8" y1="788.4" x2="673.6" y2="788.4" stroke="#222" stroke-width="1.2"/>
<text x="666.2" y="785.5" font-size="5.8" text-anchor="middle" fill="#222">0.0045</text>
<text x="2.6" y="730.3" font-size="11.5" font-weight="bold">m</text>
<text x="60.3" y="742.8" font-size="8" font-weight="bold" text-anchor="middle">Vehicle</text>
<text x="124.4" y="742.8" font-size="8" font-weight="bold" text-anchor="middle">TAIII</text>
<text x="188.6" y="742.8" font-size="8" font-weight="bold" text-anchor="middle">αPD -1</text>
<text x="257.8" y="742.8" font-size="8" font-weight="bold" text-anchor="middle">αPD-1-combo</text>
<text x="323.3" y="742.8" font-size="8" font-weight="bold" text-anchor="middle">Isotype</text>
<text x="388.5" y="742.8" font-size="8" font-weight="bold" text-anchor="middle">Isotype-combo</text>
<text x="24.2" y="785.1" font-size="8" font-weight="bold" text-anchor="end">FoxP3</text>
<text x="23.2" y="852.3" font-size="8.3" font-weight="bold" text-anchor="end">CD8</text>
<defs><filter id="sb" x="-5%" y="-5%" width="110%" height="110%"><feGaussianBlur stdDeviation="0.5"/></filter><clipPath id="mc00"><rect x="28.2" y="750.4" width="61.6" height="60"/></clipPath><clipPath id="mc01"><rect x="93.5" y="750.4" width="61.6" height="60"/></clipPath><clipPath id="mc02"><rect x="159.4" y="750.4" width="61.6" height="60"/></clipPath><clipPath id="mc03"><rect x="225.3" y="750.4" width="61.6" height="60"/></clipPath><clipPath id="mc04"><rect x="291" y="750.4" width="61.6" height="60"/></clipPath><clipPath id="mc05"><rect x="358" y="750.4" width="61.6" height="60"/></clipPath><clipPath id="mc10"><rect x="28.2" y="816" width="61.6" height="63.6"/></clipPath><clipPath id="mc11"><rect x="93.5" y="816" width="61.6" height="63.6"/></clipPath><clipPath id="mc12"><rect x="159.4" y="816" width="61.6" height="63.6"/></clipPath><clipPath id="mc13"><rect x="225.3" y="816" width="61.6" height="63.6"/></clipPath><clipPath id="mc14"><rect x="291" y="816" width="61.6" height="63.6"/></clipPath><clipPath id="mc15"><rect x="358" y="816" width="61.6" height="63.6"/></clipPath></defs>
<g clip-path="url(#mc00)"><rect x="28.2" y="750.4" width="61.6" height="60" fill="#f3f3f9"/><g filter="url(#sb)"><path d="M32.0,756.5A2.4,1.6,60,0,1,29.6,752.2A2.4,1.6,60,0,1,32.0,756.5ZM40.8,758.4A2.9,1.2,170,0,1,46.4,757.4A2.9,1.2,170,0,1,40.8,758.4ZM50.1,759.0A1.9,1.1,80,0,1,49.4,755.3A1.9,1.1,80,0,1,50.1,759.0ZM49.7,764.5A2.0,1.5,60,0,1,47.7,761.0A2.0,1.5,60,0,1,49.7,764.5ZM35.4,770.0A1.8,1.9,120,0,1,37.3,766.8A1.8,1.9,120,0,1,35.4,770.0ZM86.7,774.0A3.2,1.2,10,0,1,80.4,772.9A3.2,1.2,10,0,1,86.7,774.0ZM78.5,791.3A2.6,1.6,0,0,1,73.4,791.3A2.6,1.6,0,0,1,78.5,791.3ZM58.3,798.7A2.4,1.6,60,0,1,55.9,794.6A2.4,1.6,60,0,1,58.3,798.7ZM42.4,801.1A2.0,1.5,10,0,1,38.6,800.4A2.0,1.5,10,0,1,42.4,801.1Z" fill="#8c99db" fill-opacity="1"/><path d="M38.5,751.6A2.2,1.2,10,0,1,34.2,750.8A2.2,1.2,10,0,1,38.5,751.6ZM55.7,764.8A3.2,1.8,120,0,1,58.9,759.3A3.2,1.8,120,0,1,55.7,764.8ZM77.1,804.3A3.1,2.0,110,0,1,79.2,798.5A3.1,2.0,110,0,1,77.1,804.3Z" fill="#aab3e5" fill-opacity="1"/><path d="M38.7,753.9A2.0,1.1,160,0,1,42.4,752.5A2.0,1.1,160,0,1,38.7,753.9ZM73.8,754.0A3.2,1.2,30,0,1,68.3,750.8A3.2,1.2,30,0,1,73.8,754.0ZM60.2,759.5A1.8,1.3,60,0,1,58.4,756.3A1.8,1.3,60,0,1,60.2,759.5ZM32.2,763.5A2.6,1.5,170,0,1,37.4,762.6A2.6,1.5,170,0,1,32.2,763.5ZM70.0,775.2A1.9,1.5,0,0,1,66.2,775.2A1.9,1.5,0,0,1,70.0,775.2ZM71.0,777.4A1.8,1.3,120,0,1,72.8,774.3A1.8,1.3,120,0,1,71.0,777.4ZM83.3,782.2A2.0,1.4,40,0,1,80.2,779.6A2.0,1.4,40,0,1,83.3,782.2ZM93.3,798.7A3.3,1.8,40,0,1,88.2,794.5A3.3,1.8,40,0,1,93.3,798.7Z" fill="#98a4df" fill-opacity=".75"/><path d="M50.8,755.7A2.2,1.6,60,0,1,48.6,751.9A2.2,1.6,60,0,1,50.8,755.7ZM29.4,766.4A2.1,1.4,160,0,1,33.4,764.9A2.1,1.4,160,0,1,29.4,766.4ZM39.1,773.6A1.7,1.7,160,0,1,42.3,772.4A1.7,1.7,160,0,1,39.1,773.6ZM44.0,772.0A2.0,1.3,170,0,1,48.1,771.3A2.0,1.3,170,0,1,44.0,772.0ZM67.2,775.0A2.3,1.7,100,0,1,68.0,770.5A2.3,1.7,100,0,1,67.2,775.0ZM36.8,780.2A3.1,1.9,120,0,1,39.9,774.9A3.1,1.9,120,0,1,36.8,780.2ZM52.9,789.3A2.9,1.4,120,0,1,55.8,784.3A2.9,1.4,120,0,1,52.9,789.3ZM42.4,790.2A1.9,1.3,60,0,1,40.6,787.0A1.9,1.3,60,0,1,42.4,790.2ZM64.2,791.0A2.0,1.4,80,0,1,63.5,787.1A2.0,1.4,80,0,1,64.2,791.0ZM74.1,797.4A2.0,1.8,90,0,1,74.1,793.5A2.0,1.8,90,0,1,74.1,797.4ZM70.0,805.1A3.0,1.6,30,0,1,64.8,802.1A3.0,1.6,30,0,1,70.0,805.1ZM41.5,810.9A2.5,1.1,90,0,1,41.5,806.0A2.5,1.1,90,0,1,41.5,810.9ZM58.3,807.7A1.9,1.3,170,0,1,62.0,807.0A1.9,1.3,170,0,1,58.3,807.7ZM74.2,809.7A3.3,1.1,150,0,1,79.9,806.4A3.3,1.1,150,0,1,74.2,809.7Z" fill="#aab3e5" fill-opacity=".85"/><path d="M51.7,753.8A2.4,1.4,170,0,1,56.4,752.9A2.4,1.4,170,0,1,51.7,753.8ZM56.8,753.5A1.8,1.8,120,0,1,58.6,750.4A1.8,1.8,120,0,1,56.8,753.5ZM35.2,758.4A1.8,1.2,70,0,1,34.0,755.0A1.8,1.2,70,0,1,35.2,758.4ZM64.8,757.1A2.0,1.4,40,0,1,61.7,754.5A2.0,1.4,40,0,1,64.8,757.1ZM76.8,760.1A1.7,1.7,150,0,1,79.8,758.3A1.7,1.7,150,0,1,76.8,760.1ZM57.5,761.4A1.9,1.4,10,0,1,53.8,760.7A1.9,1.4,10,0,1,57.5,761.4ZM29.7,774.2A1.7,1.3,70,0,1,28.5,771.0A1.7,1.3,70,0,1,29.7,774.2ZM74.8,781.9A2.0,1.7,10,0,1,70.9,781.2A2.0,1.7,10,0,1,74.8,781.9ZM50.3,788.9A2.5,1.2,110,0,1,52.0,784.1A2.5,1.2,110,0,1,50.3,788.9ZM61.5,788.4A3.2,1.7,130,0,1,65.7,783.4A3.2,1.7,130,0,1,61.5,788.4ZM63.1,802.2A2.4,1.9,100,0,1,64.0,797.5A2.4,1.9,100,0,1,63.1,802.2ZM31.0,806.4A1.9,1.7,70,0,1,29.7,802.8A1.9,1.7,70,0,1,31.0,806.4ZM58.6,803.8A2.7,1.3,10,0,1,53.3,802.8A2.7,1.3,10,0,1,58.6,803.8ZM70.1,809.5A2.0,1.7,140,0,1,73.1,807.0A2.0,1.7,140,0,1,70.1,809.5Z" fill="#98a4df" fill-opacity=".9"/><path d="M66.9,754.4A1.7,1.3,10,0,1,63.5,753.8A1.7,1.3,10,0,1,66.9,754.4ZM79.0,754.7A2.0,1.6,40,0,1,76.0,752.2A2.0,1.6,40,0,1,79.0,754.7ZM42.9,765.1A2.5,1.8,100,0,1,43.7,760.1A2.5,1.8,100,0,1,42.9,765.1ZM69.4,763.4A2.7,1.6,40,0,1,65.2,759.8A2.7,1.6,40,0,1,69.4,763.4ZM87.1,779.6A2.6,1.6,130,0,1,90.4,775.6A2.6,1.6,130,0,1,87.1,779.6ZM33.4,781.4A2.9,1.6,50,0,1,29.6,776.9A2.9,1.6,50,0,1,33.4,781.4ZM40.5,783.9A2.9,1.4,70,0,1,38.6,778.6A2.9,1.4,70,0,1,40.5,783.9ZM76.8,788.9A2.5,1.9,100,0,1,77.7,784.0A2.5,1.9,100,0,1,76.8,788.9ZM53.8,808.9A1.9,1.1,150,0,1,57.1,807.0A1.9,1.1,150,0,1,53.8,808.9Z" fill="#8391d8" fill-opacity="1"/><path d="M68.2,753.8A2.7,1.8,80,0,1,67.3,748.5A2.7,1.8,80,0,1,68.2,753.8ZM29.6,758.9A1.8,1.2,140,0,1,32.3,756.6A1.8,1.2,140,0,1,29.6,758.9ZM35.6,762.0A3.2,1.2,150,0,1,41.2,758.7A3.2,1.2,150,0,1,35.6,762.0ZM66.9,763.9A2.7,1.4,10,0,1,61.6,763.0A2.7,1.4,10,0,1,66.9,763.9ZM50.7,771.2A2.6,1.8,100,0,1,51.6,766.1A2.6,1.8,100,0,1,50.7,771.2ZM30.1,791.1A2.0,1.5,90,0,1,30.1,787.1A2.0,1.5,90,0,1,30.1,791.1ZM49.5,793.2A3.1,1.5,120,0,1,52.6,787.9A3.1,1.5,120,0,1,49.5,793.2ZM94.4,791.7A3.3,1.7,20,0,1,88.2,789.4A3.3,1.7,20,0,1,94.4,791.7ZM80.7,795.5A2.1,1.6,100,0,1,81.5,791.4A2.1,1.6,100,0,1,80.7,795.5ZM84.6,805.7A3.3,1.3,50,0,1,80.4,800.7A3.3,1.3,50,0,1,84.6,805.7Z" fill="#a6b0e4" fill-opacity=".75"/><path d="M85.9,755.1A3.3,1.8,90,0,1,85.9,748.6A3.3,1.8,90,0,1,85.9,755.1ZM50.2,767.9A2.6,1.8,150,0,1,54.7,765.3A2.6,1.8,150,0,1,50.2,767.9ZM65.1,772.7A1.9,1.5,0,0,1,61.3,772.7A1.9,1.5,0,0,1,65.1,772.7ZM59.0,787.3A2.9,1.9,90,0,1,59.0,781.5A2.9,1.9,90,0,1,59.0,787.3ZM69.3,785.0A2.9,1.9,20,0,1,63.9,783.1A2.9,1.9,20,0,1,69.3,785.0ZM71.7,791.4A2.6,1.2,50,0,1,68.4,787.5A2.6,1.2,50,0,1,71.7,791.4ZM50.8,798.7A2.1,1.9,10,0,1,46.7,798.0A2.1,1.9,10,0,1,50.8,798.7ZM71.5,800.3A3.1,2.0,150,0,1,76.8,797.2A3.1,2.0,150,0,1,71.5,800.3ZM83.2,801.1A2.4,1.2,20,0,1,78.7,799.5A2.4,1.2,20,0,1,83.2,801.1Z" fill="#98a4df" fill-opacity=".85"/><path d="M38.5,761.3A2.5,1.6,120,0,1,41.0,757.1A2.5,1.6,120,0,1,38.5,761.3ZM57.3,758.6A2.2,1.3,20,0,1,53.2,757.1A2.2,1.3,20,0,1,57.3,758.6ZM49.2,766.9A3.1,1.8,30,0,1,43.8,763.8A3.1,1.8,30,0,1,49.2,766.9ZM49.7,775.8A3.1,1.4,100,0,1,50.8,769.6A3.1,1.4,100,0,1,49.7,775.8ZM70.3,771.2A2.9,1.7,150,0,1,75.3,768.3A2.9,1.7,150,0,1,70.3,771.2ZM32.3,776.1A2.0,1.4,10,0,1,28.3,775.3A2.0,1.4,10,0,1,32.3,776.1ZM49.3,779.5A2.9,1.8,120,0,1,52.3,774.5A2.9,1.8,120,0,1,49.3,779.5ZM44.2,780.4A1.9,1.8,140,0,1,47.0,778.0A1.9,1.8,140,0,1,44.2,780.4ZM69.1,784.6A2.8,1.3,80,0,1,68.1,779.0A2.8,1.3,80,0,1,69.1,784.6ZM77.7,779.9A2.1,1.4,20,0,1,73.8,778.5A2.1,1.4,20,0,1,77.7,779.9ZM94.3,788.3A2.4,1.5,40,0,1,90.6,785.3A2.4,1.5,40,0,1,94.3,788.3ZM38.2,795.0A2.2,1.2,0,0,1,33.9,795.0A2.2,1.2,0,0,1,38.2,795.0ZM49.0,795.1A1.9,1.7,50,0,1,46.6,792.3A1.9,1.7,50,0,1,49.0,795.1ZM36.5,806.0A3.2,2.0,150,0,1,42.0,802.8A3.2,2.0,150,0,1,36.5,806.0ZM62.5,807.7A1.9,1.7,80,0,1,61.9,804.0A1.9,1.7,80,0,1,62.5,807.7Z" fill="#8c99db" fill-opacity=".85"/><path d="M74.7,758.8A2.5,2.0,10,0,1,69.7,757.9A2.5,2.0,10,0,1,74.7,758.8ZM83.5,770.0A2.6,1.5,50,0,1,80.2,766.0A2.6,1.5,50,0,1,83.5,770.0ZM61.4,776.1A2.8,1.6,170,0,1,66.8,775.2A2.8,1.6,170,0,1,61.4,776.1ZM72.4,792.2A1.8,1.3,160,0,1,75.9,790.9A1.8,1.3,160,0,1,72.4,792.2ZM56.5,796.8A1.8,1.3,50,0,1,54.1,794.0A1.8,1.3,50,0,1,56.5,796.8ZM92.3,804.8A2.4,1.8,120,0,1,94.7,800.6A2.4,1.8,120,0,1,92.3,804.8ZM89.5,808.7A2.1,1.9,40,0,1,86.3,806.1A2.1,1.9,40,0,1,89.5,808.7Z" fill="#98a4df" fill-opacity="1"/><path d="M86.1,757.5A2.6,1.8,40,0,1,82.2,754.2A2.6,1.8,40,0,1,86.1,757.5ZM92.7,813.9A3.3,1.7,70,0,1,90.4,807.7A3.3,1.7,70,0,1,92.7,813.9Z" fill="#a6b0e4" fill-opacity=".9"/><path d="M87.3,760.4A3.2,1.1,150,0,1,92.8,757.2A3.2,1.1,150,0,1,87.3,760.4ZM62.6,768.3A2.8,1.5,150,0,1,67.4,765.5A2.8,1.5,150,0,1,62.6,768.3ZM78.9,767.0A2.5,1.6,0,0,1,73.9,767.0A2.5,1.6,0,0,1,78.9,767.0ZM91.7,770.4A2.5,1.2,130,0,1,94.9,766.5A2.5,1.2,130,0,1,91.7,770.4ZM37.5,777.3A3.2,1.6,30,0,1,32.0,774.2A3.2,1.6,30,0,1,37.5,777.3ZM74.3,776.5A2.6,1.5,160,0,1,79.1,774.8A2.6,1.5,160,0,1,74.3,776.5ZM85.2,785.7A1.9,1.5,20,0,1,81.6,784.4A1.9,1.5,20,0,1,85.2,785.7ZM38.4,797.1A2.2,1.4,120,0,1,40.6,793.3A2.2,1.4,120,0,1,38.4,797.1ZM33.7,800.8A2.6,1.8,50,0,1,30.4,796.8A2.6,1.8,50,0,1,33.7,800.8ZM61.0,802.7A2.8,1.8,30,0,1,56.2,799.9A2.8,1.8,30,0,1,61.0,802.7ZM69.7,803.3A2.7,1.8,90,0,1,69.7,798.0A2.7,1.8,90,0,1,69.7,803.3ZM50.9,812.8A2.7,1.3,60,0,1,48.2,808.2A2.7,1.3,60,0,1,50.9,812.8Z" fill="#aab3e5" fill-opacity=".75"/><path d="M32.4,763.8A2.7,1.2,30,0,1,27.8,761.1A2.7,1.2,30,0,1,32.4,763.8ZM38.3,769.2A2.3,1.6,160,0,1,42.6,767.6A2.3,1.6,160,0,1,38.3,769.2ZM90.3,769.8A2.1,1.5,40,0,1,87.1,767.1A2.1,1.5,40,0,1,90.3,769.8ZM55.8,771.1A3.1,1.2,20,0,1,50.0,769.0A3.1,1.2,20,0,1,55.8,771.1ZM41.1,786.5A2.9,1.4,30,0,1,36.1,783.7A2.9,1.4,30,0,1,41.1,786.5ZM41.6,797.0A2.2,2.0,150,0,1,45.4,794.8A2.2,2.0,150,0,1,41.6,797.0ZM37.3,802.9A3.2,2.0,40,0,1,32.4,798.8A3.2,2.0,40,0,1,37.3,802.9ZM52.6,800.0A2.3,1.9,130,0,1,55.5,796.5A2.3,1.9,130,0,1,52.6,800.0ZM60.4,808.0A3.1,1.7,40,0,1,55.7,804.0A3.1,1.7,40,0,1,60.4,808.0ZM59.1,809.8A2.8,1.8,160,0,1,64.4,807.9A2.8,1.8,160,0,1,59.1,809.8Z" fill="#a6b0e4" fill-opacity="1"/><path d="M79.2,764.7A3.0,2.0,30,0,1,74.1,761.7A3.0,2.0,30,0,1,79.2,764.7ZM91.1,787.3A3.1,1.8,20,0,1,85.3,785.2A3.1,1.8,20,0,1,91.1,787.3ZM38.0,789.9A1.9,1.9,10,0,1,34.2,789.3A1.9,1.9,10,0,1,38.0,789.9ZM31.2,795.9A2.4,2.0,30,0,1,26.9,793.4A2.4,2.0,30,0,1,31.2,795.9ZM45.6,807.8A2.0,1.9,110,0,1,46.9,804.1A2.0,1.9,110,0,1,45.6,807.8ZM76.3,803.9A2.1,1.2,20,0,1,72.4,802.5A2.1,1.2,20,0,1,76.3,803.9Z" fill="#8391d8" fill-opacity=".75"/><path d="M84.5,766.1A3.2,1.7,60,0,1,81.2,760.5A3.2,1.7,60,0,1,84.5,766.1ZM93.7,784.5A2.2,1.6,50,0,1,90.8,781.1A2.2,1.6,50,0,1,93.7,784.5ZM28.2,786.3A2.6,1.5,150,0,1,32.6,783.7A2.6,1.5,150,0,1,28.2,786.3ZM33.4,788.1A3.2,1.6,90,0,1,33.4,781.8A3.2,1.6,90,0,1,33.4,788.1ZM46.2,790.5A3.2,1.5,90,0,1,46.2,784.2A3.2,1.5,90,0,1,46.2,790.5Z" fill="#8391d8" fill-opacity=".9"/><path d="M58.6,769.3A2.0,1.4,40,0,1,55.6,766.7A2.0,1.4,40,0,1,58.6,769.3ZM47.8,779.0A2.1,1.9,50,0,1,45.1,775.8A2.1,1.9,50,0,1,47.8,779.0ZM86.0,775.1A2.7,1.8,10,0,1,80.8,774.2A2.7,1.8,10,0,1,86.0,775.1ZM88.7,785.1A2.9,1.5,80,0,1,87.7,779.3A2.9,1.5,80,0,1,88.7,785.1ZM56.0,794.9A3.1,1.9,110,0,1,58.1,789.0A3.1,1.9,110,0,1,56.0,794.9Z" fill="#8391d8" fill-opacity=".85"/><path d="M69.9,769.4A3.0,1.6,50,0,1,66.0,764.8A3.0,1.6,50,0,1,69.9,769.4ZM74.8,770.2A3.1,1.3,40,0,1,70.0,766.1A3.1,1.3,40,0,1,74.8,770.2ZM36.3,772.9A1.9,1.8,30,0,1,33.1,771.1A1.9,1.8,30,0,1,36.3,772.9ZM91.7,778.0A2.5,1.5,80,0,1,90.8,773.0A2.5,1.5,80,0,1,91.7,778.0ZM62.6,780.6A1.9,1.9,160,0,1,66.1,779.3A1.9,1.9,160,0,1,62.6,780.6ZM51.4,791.4A3.2,1.8,120,0,1,54.6,785.9A3.2,1.8,120,0,1,51.4,791.4ZM68.2,796.4A2.4,1.6,60,0,1,65.8,792.2A2.4,1.6,60,0,1,68.2,796.4ZM77.7,806.3A1.8,1.6,90,0,1,77.7,802.8A1.8,1.6,90,0,1,77.7,806.3Z" fill="#aab3e5" fill-opacity=".9"/><path d="M60.9,774.8A2.3,1.7,10,0,1,56.4,774.0A2.3,1.7,10,0,1,60.9,774.8ZM43.3,792.5A2.4,1.9,120,0,1,45.7,788.3A2.4,1.9,120,0,1,43.3,792.5ZM86.5,791.0A1.8,1.5,150,0,1,89.5,789.2A1.8,1.5,150,0,1,86.5,791.0Z" fill="#8c99db" fill-opacity=".9"/><path d="M50.3,781.8A2.4,1.3,10,0,1,45.5,781.0A2.4,1.3,10,0,1,50.3,781.8ZM58.0,782.4A2.1,1.6,130,0,1,60.8,779.2A2.1,1.6,130,0,1,58.0,782.4ZM43.3,808.1A2.4,1.7,170,0,1,48.0,807.3A2.4,1.7,170,0,1,43.3,808.1Z" fill="#a6b0e4" fill-opacity=".85"/><path d="M64.6,798.3A2.9,1.7,100,0,1,65.5,792.7A2.9,1.7,100,0,1,64.6,798.3ZM74.9,794.7A2.8,2.0,160,0,1,80.2,792.7A2.8,2.0,160,0,1,74.9,794.7ZM87.9,796.1A1.9,2.0,40,0,1,85.0,793.7A1.9,2.0,40,0,1,87.9,796.1ZM93.0,799.9A2.1,1.4,100,0,1,93.7,795.8A2.1,1.4,100,0,1,93.0,799.9Z" fill="#8c99db" fill-opacity=".75"/><ellipse cx="37.8" cy="799.6" rx="1.3" ry="1.0" fill="#6a2028" fill-opacity="0.8"/><ellipse cx="83.0" cy="773.1" rx="1.3" ry="1.0" fill="#5e1e24" fill-opacity="0.8"/><ellipse cx="43.3" cy="762.1" rx="1.4" ry="1.1" fill="#6a2028" fill-opacity="0.8"/><ellipse cx="72.2" cy="784.0" rx="1.6" ry="1.3" fill="#5e1e24" fill-opacity="0.8"/><ellipse cx="82.6" cy="763.0" rx="1.6" ry="1.2" fill="#6a2028" fill-opacity="0.8"/><ellipse cx="52.4" cy="795.6" rx="1.2" ry="0.9" fill="#7a2a28" fill-opacity="0.8"/></g></g>
<rect x="28.2" y="750.4" width="61.6" height="60" fill="none" stroke="#666" stroke-width="1"/>
<g clip-path="url(#mc01)"><rect x="93.5" y="750.4" width="61.6" height="60" fill="#f4f4f9"/><g filter="url(#sb)"><path d="M95.1,755.5A2.5,1.5,140,0,1,98.9,752.3A2.5,1.5,140,0,1,95.1,755.5ZM128.8,754.8A1.9,1.7,80,0,1,128.1,751.0A1.9,1.7,80,0,1,128.8,754.8ZM109.9,768.1A3.1,1.5,130,0,1,113.8,763.4A3.1,1.5,130,0,1,109.9,768.1ZM144.9,778.1A2.7,1.5,20,0,1,139.9,776.3A2.7,1.5,20,0,1,144.9,778.1ZM136.2,793.1A2.2,1.1,50,0,1,133.4,789.7A2.2,1.1,50,0,1,136.2,793.1ZM145.2,792.5A2.8,1.3,80,0,1,144.2,786.9A2.8,1.3,80,0,1,145.2,792.5ZM130.3,798.8A2.3,1.8,160,0,1,134.6,797.2A2.3,1.8,160,0,1,130.3,798.8ZM136.8,804.5A2.5,1.9,140,0,1,140.6,801.4A2.5,1.9,140,0,1,136.8,804.5ZM123.8,812.1A2.8,1.7,120,0,1,126.6,807.3A2.8,1.7,120,0,1,123.8,812.1Z" fill="#a6b0e4" fill-opacity="1"/><path d="M100.9,756.1A3.1,1.3,120,0,1,104.0,750.8A3.1,1.3,120,0,1,100.9,756.1ZM151.2,754.9A2.1,1.7,20,0,1,147.3,753.4A2.1,1.7,20,0,1,151.2,754.9ZM158.5,783.0A3.2,1.7,30,0,1,152.9,779.8A3.2,1.7,30,0,1,158.5,783.0ZM127.3,791.1A2.4,1.8,160,0,1,131.8,789.5A2.4,1.8,160,0,1,127.3,791.1ZM148.1,791.3A3.0,1.4,60,0,1,145.1,786.1A3.0,1.4,60,0,1,148.1,791.3ZM101.7,800.1A2.6,1.9,40,0,1,97.7,796.8A2.6,1.9,40,0,1,101.7,800.1ZM129.8,803.2A2.4,1.4,110,0,1,131.4,798.8A2.4,1.4,110,0,1,129.8,803.2ZM99.0,804.7A2.2,1.6,20,0,1,94.9,803.3A2.2,1.6,20,0,1,99.0,804.7Z" fill="#8391d8" fill-opacity=".75"/><path d="M109.3,754.1A2.5,1.8,160,0,1,114.0,752.3A2.5,1.8,160,0,1,109.3,754.1ZM93.6,762.8A2.3,1.4,170,0,1,98.1,762.0A2.3,1.4,170,0,1,93.6,762.8ZM141.4,776.5A3.1,1.4,20,0,1,135.5,774.4A3.1,1.4,20,0,1,141.4,776.5ZM108.0,783.8A3.3,1.2,140,0,1,113.0,779.6A3.3,1.2,140,0,1,108.0,783.8ZM138.2,800.7A2.0,1.3,140,0,1,141.3,798.1A2.0,1.3,140,0,1,138.2,800.7ZM158.9,803.4A3.3,1.4,40,0,1,153.9,799.2A3.3,1.4,40,0,1,158.9,803.4Z" fill="#8391d8" fill-opacity=".85"/><path d="M115.2,754.4A3.2,1.4,70,0,1,113.0,748.4A3.2,1.4,70,0,1,115.2,754.4ZM139.4,752.7A2.3,1.7,40,0,1,135.8,749.8A2.3,1.7,40,0,1,139.4,752.7ZM115.8,759.6A3.1,1.1,60,0,1,112.6,754.1A3.1,1.1,60,0,1,115.8,759.6ZM103.0,764.0A3.2,1.8,20,0,1,97.0,761.8A3.2,1.8,20,0,1,103.0,764.0ZM100.7,769.0A1.9,1.1,90,0,1,100.7,765.1A1.9,1.1,90,0,1,100.7,769.0ZM140.5,774.3A1.9,1.3,40,0,1,137.7,771.9A1.9,1.3,40,0,1,140.5,774.3ZM148.4,774.8A2.0,1.4,70,0,1,147.0,771.0A2.0,1.4,70,0,1,148.4,774.8ZM117.6,782.5A3.0,1.6,30,0,1,112.3,779.4A3.0,1.6,30,0,1,117.6,782.5ZM112.3,792.2A3.2,1.4,170,0,1,118.7,791.1A3.2,1.4,170,0,1,112.3,792.2ZM131.2,795.7A2.3,1.3,170,0,1,135.7,794.9A2.3,1.3,170,0,1,131.2,795.7ZM134.7,811.1A2.5,1.5,170,0,1,139.7,810.2A2.5,1.5,170,0,1,134.7,811.1Z" fill="#98a4df" fill-opacity=".75"/><path d="M121.2,755.6A3.1,1.4,80,0,1,120.1,749.5A3.1,1.4,80,0,1,121.2,755.6ZM146.6,769.6A2.3,1.4,100,0,1,147.4,765.1A2.3,1.4,100,0,1,146.6,769.6ZM154.6,768.1A2.0,1.1,120,0,1,156.6,764.6A2.0,1.1,120,0,1,154.6,768.1ZM116.8,773.3A2.5,1.4,170,0,1,121.7,772.4A2.5,1.4,170,0,1,116.8,773.3ZM155.4,771.9A2.1,1.8,10,0,1,151.3,771.2A2.1,1.8,10,0,1,155.4,771.9ZM159.3,778.8A2.3,1.4,30,0,1,155.3,776.5A2.3,1.4,30,0,1,159.3,778.8ZM130.9,783.8A2.9,1.2,160,0,1,136.4,781.7A2.9,1.2,160,0,1,130.9,783.8ZM97.0,787.0A2.9,1.4,90,0,1,97.0,781.3A2.9,1.4,90,0,1,97.0,787.0ZM118.9,788.4A2.2,1.2,90,0,1,118.9,784.0A2.2,1.2,90,0,1,118.9,788.4ZM130.8,788.5A2.5,1.1,130,0,1,134.0,784.7A2.5,1.1,130,0,1,130.8,788.5ZM142.6,796.8A1.8,1.1,40,0,1,139.8,794.5A1.8,1.1,40,0,1,142.6,796.8ZM140.0,809.0A3.3,1.1,120,0,1,143.3,803.3A3.3,1.1,120,0,1,140.0,809.0Z" fill="#aab3e5" fill-opacity=".75"/><path d="M126.0,754.0A2.0,1.6,40,0,1,122.9,751.4A2.0,1.6,40,0,1,126.0,754.0ZM121.2,766.7A2.6,1.2,140,0,1,125.2,763.4A2.6,1.2,140,0,1,121.2,766.7ZM125.8,775.7A2.7,1.4,0,0,1,120.4,775.7A2.7,1.4,0,0,1,125.8,775.7ZM150.9,782.6A2.0,1.2,40,0,1,147.9,780.0A2.0,1.2,40,0,1,150.9,782.6ZM100.2,791.8A1.8,1.2,100,0,1,100.8,788.1A1.8,1.2,100,0,1,100.2,791.8ZM146.6,800.6A1.8,1.6,60,0,1,144.8,797.5A1.8,1.6,60,0,1,146.6,800.6ZM127.7,809.9A1.8,1.5,150,0,1,130.8,808.1A1.8,1.5,150,0,1,127.7,809.9Z" fill="#98a4df" fill-opacity=".85"/><path d="M131.0,753.5A2.1,1.7,120,0,1,133.2,749.8A2.1,1.7,120,0,1,131.0,753.5ZM140.3,757.5A3.2,2.0,0,0,1,133.9,757.5A3.2,2.0,0,0,1,140.3,757.5ZM107.0,763.9A2.5,1.7,10,0,1,102.0,763.0A2.5,1.7,10,0,1,107.0,763.9ZM139.5,762.7A1.8,1.5,90,0,1,139.5,759.1A1.8,1.5,90,0,1,139.5,762.7ZM117.9,778.2A2.0,1.3,40,0,1,114.8,775.5A2.0,1.3,40,0,1,117.9,778.2ZM144.2,783.0A2.2,1.4,70,0,1,142.7,778.9A2.2,1.4,70,0,1,144.2,783.0ZM148.8,804.1A3.0,2.0,0,0,1,142.8,804.1A3.0,2.0,0,0,1,148.8,804.1ZM109.7,813.6A2.9,1.9,100,0,1,110.7,807.9A2.9,1.9,100,0,1,109.7,813.6Z" fill="#8c99db" fill-opacity="1"/><path d="M145.5,751.9A2.9,1.8,20,0,1,140.0,749.9A2.9,1.8,20,0,1,145.5,751.9ZM157.1,758.5A2.0,1.3,50,0,1,154.6,755.6A2.0,1.3,50,0,1,157.1,758.5ZM106.4,774.5A1.8,1.5,100,0,1,107.0,771.0A1.8,1.5,100,0,1,106.4,774.5ZM110.8,772.9A2.8,1.9,10,0,1,105.4,771.9A2.8,1.9,10,0,1,110.8,772.9ZM155.0,772.8A1.9,1.1,110,0,1,156.3,769.3A1.9,1.1,110,0,1,155.0,772.8ZM110.4,789.5A2.3,1.4,80,0,1,109.5,784.9A2.3,1.4,80,0,1,110.4,789.5ZM150.3,786.7A2.9,1.1,20,0,1,144.8,784.7A2.9,1.1,20,0,1,150.3,786.7ZM110.7,797.0A2.8,1.4,170,0,1,116.1,796.0A2.8,1.4,170,0,1,110.7,797.0ZM108.1,804.1A1.8,1.2,150,0,1,111.2,802.2A1.8,1.2,150,0,1,108.1,804.1ZM154.7,805.0A2.4,1.3,0,0,1,149.8,805.0A2.4,1.3,0,0,1,154.7,805.0Z" fill="#8c99db" fill-opacity=".9"/><path d="M151.0,754.5A2.2,1.5,80,0,1,150.2,750.1A2.2,1.5,80,0,1,151.0,754.5ZM151.2,767.4A1.8,1.2,90,0,1,151.2,763.9A1.8,1.2,90,0,1,151.2,767.4ZM101.8,787.2A2.8,1.5,150,0,1,106.5,784.4A2.8,1.5,150,0,1,101.8,787.2ZM97.1,798.2A2.9,1.8,30,0,1,92.0,795.3A2.9,1.8,30,0,1,97.1,798.2ZM117.4,796.1A2.1,1.6,120,0,1,119.6,792.4A2.1,1.6,120,0,1,117.4,796.1ZM117.7,805.6A2.8,2.0,60,0,1,114.9,800.6A2.8,2.0,60,0,1,117.7,805.6ZM130.1,804.0A1.8,1.4,160,0,1,133.6,802.8A1.8,1.4,160,0,1,130.1,804.0ZM103.4,810.2A2.6,1.3,150,0,1,108.0,807.6A2.6,1.3,150,0,1,103.4,810.2ZM142.3,811.4A3.0,1.6,100,0,1,143.3,805.4A3.0,1.6,100,0,1,142.3,811.4Z" fill="#8c99db" fill-opacity=".85"/><path d="M153.7,754.5A2.3,1.7,160,0,1,157.9,753.0A2.3,1.7,160,0,1,153.7,754.5ZM93.7,784.2A1.8,1.4,110,0,1,95.0,780.7A1.8,1.4,110,0,1,93.7,784.2ZM130.1,782.3A3.2,1.9,0,0,1,123.7,782.3A3.2,1.9,0,0,1,130.1,782.3ZM122.5,800.7A2.6,1.8,20,0,1,117.6,798.9A2.6,1.8,20,0,1,122.5,800.7ZM125.9,806.4A3.3,1.8,10,0,1,119.5,805.3A3.3,1.8,10,0,1,125.9,806.4Z" fill="#98a4df" fill-opacity=".9"/><path d="M97.0,759.5A2.1,1.9,90,0,1,97.0,755.3A2.1,1.9,90,0,1,97.0,759.5ZM118.2,773.3A2.5,1.6,30,0,1,113.8,770.8A2.5,1.6,30,0,1,118.2,773.3ZM122.7,782.9A2.1,1.8,150,0,1,126.3,780.8A2.1,1.8,150,0,1,122.7,782.9ZM149.6,795.9A2.8,1.7,60,0,1,146.8,791.0A2.8,1.7,60,0,1,149.6,795.9ZM108.6,803.2A1.9,1.4,90,0,1,108.6,799.4A1.9,1.4,90,0,1,108.6,803.2ZM115.8,808.1A2.8,1.4,170,0,1,121.3,807.1A2.8,1.4,170,0,1,115.8,808.1Z" fill="#98a4df" fill-opacity="1"/><path d="M106.8,758.9A2.3,1.9,90,0,1,106.8,754.3A2.3,1.9,90,0,1,106.8,758.9ZM119.0,764.9A2.1,1.2,60,0,1,116.9,761.2A2.1,1.2,60,0,1,119.0,764.9ZM132.7,767.0A2.1,1.9,150,0,1,136.3,764.9A2.1,1.9,150,0,1,132.7,767.0ZM128.6,777.8A2.4,1.2,80,0,1,127.8,773.2A2.4,1.2,80,0,1,128.6,777.8ZM113.0,791.1A2.4,1.5,30,0,1,108.8,788.7A2.4,1.5,30,0,1,113.0,791.1ZM121.7,791.9A1.9,1.9,30,0,1,118.4,790.0A1.9,1.9,30,0,1,121.7,791.9Z" fill="#8391d8" fill-opacity=".9"/><path d="M108.3,757.9A2.2,1.4,90,0,1,108.3,753.5A2.2,1.4,90,0,1,108.3,757.9ZM134.4,759.7A3.3,1.2,60,0,1,131.1,754.1A3.3,1.2,60,0,1,134.4,759.7ZM155.5,764.3A1.9,1.7,80,0,1,154.8,760.5A1.9,1.7,80,0,1,155.5,764.3ZM115.1,769.9A3.0,1.3,60,0,1,112.1,764.7A3.0,1.3,60,0,1,115.1,769.9ZM124.7,772.5A2.4,1.6,10,0,1,119.9,771.6A2.4,1.6,10,0,1,124.7,772.5ZM104.4,783.3A2.8,1.2,20,0,1,99.1,781.4A2.8,1.2,20,0,1,104.4,783.3ZM128.9,798.0A2.6,1.5,110,0,1,130.7,793.2A2.6,1.5,110,0,1,128.9,798.0Z" fill="#a6b0e4" fill-opacity=".85"/><path d="M117.4,758.5A2.1,1.8,140,0,1,120.7,755.8A2.1,1.8,140,0,1,117.4,758.5ZM146.5,762.8A1.9,1.9,80,0,1,145.9,759.1A1.9,1.9,80,0,1,146.5,762.8ZM136.6,769.5A3.3,1.2,150,0,1,142.2,766.2A3.3,1.2,150,0,1,136.6,769.5ZM99.9,775.6A2.4,2.0,70,0,1,98.2,771.2A2.4,2.0,70,0,1,99.9,775.6ZM107.2,781.6A2.7,2.0,0,0,1,101.9,781.6A2.7,2.0,0,0,1,107.2,781.6ZM103.1,787.7A2.6,1.8,10,0,1,98.0,786.8A2.6,1.8,10,0,1,103.1,787.7ZM128.4,789.5A3.1,1.5,10,0,1,122.3,788.4A3.1,1.5,10,0,1,128.4,789.5Z" fill="#8391d8" fill-opacity="1"/><path d="M143.3,758.8A3.0,1.9,100,0,1,144.4,752.9A3.0,1.9,100,0,1,143.3,758.8ZM107.0,763.4A2.5,1.8,120,0,1,109.5,759.0A2.5,1.8,120,0,1,107.0,763.4ZM124.9,762.0A2.6,1.9,40,0,1,120.8,758.6A2.6,1.9,40,0,1,124.9,762.0ZM143.1,767.3A2.6,1.3,120,0,1,145.7,762.8A2.6,1.3,120,0,1,143.1,767.3ZM113.6,775.1A2.8,1.5,0,0,1,108.0,775.1A2.8,1.5,0,0,1,113.6,775.1ZM130.8,787.3A2.8,1.7,10,0,1,125.3,786.4A2.8,1.7,10,0,1,130.8,787.3ZM135.2,799.7A3.2,1.3,110,0,1,137.4,793.7A3.2,1.3,110,0,1,135.2,799.7ZM94.1,804.6A3.1,1.2,90,0,1,94.1,798.3A3.1,1.2,90,0,1,94.1,804.6ZM148.3,811.0A2.8,1.2,70,0,1,146.4,805.8A2.8,1.2,70,0,1,148.3,811.0Z" fill="#a6b0e4" fill-opacity=".9"/><path d="M117.7,762.9A3.1,1.3,40,0,1,113.0,759.0A3.1,1.3,40,0,1,117.7,762.9ZM125.8,772.0A2.7,1.3,150,0,1,130.4,769.3A2.7,1.3,150,0,1,125.8,772.0ZM132.2,778.4A2.5,1.9,110,0,1,134.0,773.7A2.5,1.9,110,0,1,132.2,778.4ZM159.1,791.5A3.3,1.4,50,0,1,154.8,786.5A3.3,1.4,50,0,1,159.1,791.5ZM133.2,810.7A1.8,1.8,70,0,1,132.0,807.2A1.8,1.8,70,0,1,133.2,810.7Z" fill="#aab3e5" fill-opacity="1"/><path d="M132.4,762.3A3.2,2.0,10,0,1,126.1,761.2A3.2,2.0,10,0,1,132.4,762.3ZM122.0,768.1A2.9,1.3,0,0,1,116.3,768.1A2.9,1.3,0,0,1,122.0,768.1ZM144.6,787.8A2.7,1.4,90,0,1,144.6,782.5A2.7,1.4,90,0,1,144.6,787.8ZM105.6,792.1A2.4,1.7,20,0,1,101.1,790.4A2.4,1.7,20,0,1,105.6,792.1ZM154.9,794.2A2.4,1.5,70,0,1,153.2,789.6A2.4,1.5,70,0,1,154.9,794.2ZM105.9,804.2A2.6,1.9,100,0,1,106.8,799.1A2.6,1.9,100,0,1,105.9,804.2ZM159.7,810.6A2.3,1.9,20,0,1,155.3,809.0A2.3,1.9,20,0,1,159.7,810.6Z" fill="#8c99db" fill-opacity=".75"/><path d="M131.0,763.8A2.6,1.8,120,0,1,133.6,759.4A2.6,1.8,120,0,1,131.0,763.8ZM97.2,774.2A3.2,1.3,50,0,1,93.1,769.2A3.2,1.3,50,0,1,97.2,774.2ZM156.0,788.3A2.7,1.4,20,0,1,150.8,786.4A2.7,1.4,20,0,1,156.0,788.3ZM97.1,791.9A2.2,1.8,90,0,1,97.1,787.5A2.2,1.8,90,0,1,97.1,791.9ZM124.7,798.5A2.6,1.7,80,0,1,123.8,793.4A2.6,1.7,80,0,1,124.7,798.5ZM117.3,808.7A3.1,1.7,110,0,1,119.4,802.8A3.1,1.7,110,0,1,117.3,808.7Z" fill="#a6b0e4" fill-opacity=".75"/><path d="M143.8,763.1A2.6,1.7,60,0,1,141.2,758.5A2.6,1.7,60,0,1,143.8,763.1ZM145.3,772.9A3.1,1.7,80,0,1,144.2,766.9A3.1,1.7,80,0,1,145.3,772.9ZM108.1,779.4A3.1,1.2,60,0,1,105.0,774.0A3.1,1.2,60,0,1,108.1,779.4ZM106.9,798.1A2.3,2.0,90,0,1,106.9,793.5A2.3,2.0,90,0,1,106.9,798.1ZM139.6,799.7A2.7,1.3,160,0,1,144.8,797.8A2.7,1.3,160,0,1,139.6,799.7ZM127.1,805.2A2.5,1.8,140,0,1,131.0,802.0A2.5,1.8,140,0,1,127.1,805.2ZM156.8,808.3A2.6,1.7,80,0,1,155.9,803.2A2.6,1.7,80,0,1,156.8,808.3ZM153.2,810.3A2.2,1.3,0,0,1,148.8,810.3A2.2,1.3,0,0,1,153.2,810.3Z" fill="#aab3e5" fill-opacity=".9"/><path d="M150.0,776.9A2.1,1.7,0,0,1,145.7,776.9A2.1,1.7,0,0,1,150.0,776.9ZM137.3,792.4A2.6,1.9,110,0,1,139.1,787.5A2.6,1.9,110,0,1,137.3,792.4ZM100.7,797.5A2.7,1.2,60,0,1,98.1,792.9A2.7,1.2,60,0,1,100.7,797.5ZM149.3,802.4A2.1,1.3,130,0,1,152.0,799.1A2.1,1.3,130,0,1,149.3,802.4Z" fill="#aab3e5" fill-opacity=".85"/><ellipse cx="110.9" cy="769.0" rx="1.3" ry="1.0" fill="#7a2a28" fill-opacity="0.8"/><ellipse cx="106.8" cy="790.9" rx="1.5" ry="1.2" fill="#5e1e24" fill-opacity="0.8"/><ellipse cx="131.1" cy="760.2" rx="1.5" ry="1.2" fill="#6a2028" fill-opacity="0.8"/><ellipse cx="120.8" cy="775.4" rx="1.3" ry="1.0" fill="#6a2028" fill-opacity="0.8"/><ellipse cx="128.1" cy="804.3" rx="1.5" ry="1.1" fill="#7a2a28" fill-opacity="0.8"/></g></g>
<rect x="93.5" y="750.4" width="61.6" height="60" fill="none" stroke="#666" stroke-width="1"/>
<g clip-path="url(#mc02)"><rect x="159.4" y="750.4" width="61.6" height="60" fill="#f5f5f9"/><g filter="url(#sb)"><path d="M163.6,753.9A3.1,1.5,70,0,1,161.5,748.1A3.1,1.5,70,0,1,163.6,753.9ZM215.7,757.0A2.8,1.6,170,0,1,221.2,756.0A2.8,1.6,170,0,1,215.7,757.0ZM166.5,765.2A2.5,1.5,130,0,1,169.7,761.4A2.5,1.5,130,0,1,166.5,765.2ZM173.6,776.5A1.8,1.1,120,0,1,175.4,773.4A1.8,1.1,120,0,1,173.6,776.5ZM211.4,792.1A2.6,1.8,150,0,1,215.8,789.6A2.6,1.8,150,0,1,211.4,792.1ZM174.7,801.8A3.2,1.9,40,0,1,169.8,797.7A3.2,1.9,40,0,1,174.7,801.8ZM169.1,809.9A2.8,1.4,0,0,1,163.6,809.9A2.8,1.4,0,0,1,169.1,809.9ZM175.8,812.5A3.2,1.7,30,0,1,170.2,809.3A3.2,1.7,30,0,1,175.8,812.5Z" fill="#8c99db" fill-opacity=".75"/><path d="M166.9,754.2A2.1,1.3,80,0,1,166.1,749.9A2.1,1.3,80,0,1,166.9,754.2ZM212.3,759.0A1.8,1.3,120,0,1,214.1,755.9A1.8,1.3,120,0,1,212.3,759.0ZM181.3,772.6A3.0,1.3,50,0,1,177.4,768.1A3.0,1.3,50,0,1,181.3,772.6ZM169.3,778.2A2.3,1.2,110,0,1,170.9,773.8A2.3,1.2,110,0,1,169.3,778.2ZM204.7,786.8A2.4,1.2,170,0,1,209.4,786.0A2.4,1.2,170,0,1,204.7,786.8ZM210.9,802.1A1.9,1.4,140,0,1,213.8,799.7A1.9,1.4,140,0,1,210.9,802.1Z" fill="#98a4df" fill-opacity=".9"/><path d="M169.5,753.5A2.6,1.6,90,0,1,169.5,748.4A2.6,1.6,90,0,1,169.5,753.5ZM187.6,759.7A2.4,1.4,160,0,1,192.1,758.1A2.4,1.4,160,0,1,187.6,759.7ZM175.7,768.8A3.1,1.2,30,0,1,170.3,765.7A3.1,1.2,30,0,1,175.7,768.8ZM222.5,779.6A3.2,1.2,120,0,1,225.8,774.0A3.2,1.2,120,0,1,222.5,779.6ZM166.5,792.0A2.8,1.9,70,0,1,164.6,786.8A2.8,1.9,70,0,1,166.5,792.0ZM178.8,803.0A1.9,1.8,170,0,1,182.5,802.3A1.9,1.8,170,0,1,178.8,803.0ZM191.3,810.6A3.0,1.9,10,0,1,185.3,809.5A3.0,1.9,10,0,1,191.3,810.6ZM220.8,812.4A3.2,1.8,140,0,1,225.7,808.2A3.2,1.8,140,0,1,220.8,812.4Z" fill="#8391d8" fill-opacity=".75"/><path d="M172.6,753.3A2.5,1.1,170,0,1,177.5,752.4A2.5,1.1,170,0,1,172.6,753.3ZM217.7,753.6A3.2,1.3,10,0,1,211.4,752.5A3.2,1.3,10,0,1,217.7,753.6ZM198.4,765.6A2.0,1.5,100,0,1,199.1,761.6A2.0,1.5,100,0,1,198.4,765.6ZM176.0,768.8A1.8,1.2,100,0,1,176.6,765.3A1.8,1.2,100,0,1,176.0,768.8ZM207.9,769.4A2.8,1.8,140,0,1,212.2,765.7A2.8,1.8,140,0,1,207.9,769.4ZM220.4,770.2A1.7,1.2,120,0,1,222.1,767.2A1.7,1.2,120,0,1,220.4,770.2ZM165.3,773.5A2.9,1.6,50,0,1,161.5,769.1A2.9,1.6,50,0,1,165.3,773.5ZM178.2,795.7A2.2,1.2,140,0,1,181.5,792.9A2.2,1.2,140,0,1,178.2,795.7ZM197.1,797.8A2.2,1.9,130,0,1,199.9,794.4A2.2,1.9,130,0,1,197.1,797.8ZM211.1,807.0A2.6,1.7,20,0,1,206.1,805.2A2.6,1.7,20,0,1,211.1,807.0Z" fill="#98a4df" fill-opacity="1"/><path d="M178.6,754.4A3.2,1.4,130,0,1,182.7,749.5A3.2,1.4,130,0,1,178.6,754.4ZM171.0,765.5A3.3,1.6,90,0,1,171.0,759.0A3.3,1.6,90,0,1,171.0,765.5ZM208.0,772.5A2.7,1.7,120,0,1,210.7,767.8A2.7,1.7,120,0,1,208.0,772.5ZM179.6,780.7A1.7,1.1,100,0,1,180.2,777.4A1.7,1.1,100,0,1,179.6,780.7ZM188.4,786.6A1.9,1.7,90,0,1,188.4,782.7A1.9,1.7,90,0,1,188.4,786.6ZM205.1,791.4A1.9,1.4,10,0,1,201.3,790.7A1.9,1.4,10,0,1,205.1,791.4ZM219.7,803.7A2.5,1.1,90,0,1,219.7,798.6A2.5,1.1,90,0,1,219.7,803.7ZM188.5,806.4A3.0,1.9,40,0,1,183.9,802.6A3.0,1.9,40,0,1,188.5,806.4ZM196.9,809.7A2.6,1.7,60,0,1,194.3,805.1A2.6,1.7,60,0,1,196.9,809.7Z" fill="#a6b0e4" fill-opacity="1"/><path d="M193.0,756.5A2.7,1.5,130,0,1,196.5,752.4A2.7,1.5,130,0,1,193.0,756.5ZM172.1,760.9A2.9,1.7,60,0,1,169.3,755.9A2.9,1.7,60,0,1,172.1,760.9ZM180.0,759.1A2.7,1.4,0,0,1,174.5,759.1A2.7,1.4,0,0,1,180.0,759.1ZM193.6,768.7A2.7,1.7,160,0,1,198.7,766.9A2.7,1.7,160,0,1,193.6,768.7ZM183.3,780.7A2.8,1.3,150,0,1,188.2,777.9A2.8,1.3,150,0,1,183.3,780.7ZM193.7,805.2A2.6,1.9,80,0,1,192.8,800.0A2.6,1.9,80,0,1,193.7,805.2ZM161.0,812.9A3.1,1.6,70,0,1,158.9,807.2A3.1,1.6,70,0,1,161.0,812.9Z" fill="#8c99db" fill-opacity="1"/><path d="M195.3,752.9A2.5,1.5,170,0,1,200.2,752.1A2.5,1.5,170,0,1,195.3,752.9ZM196.9,763.0A3.0,1.9,60,0,1,193.9,757.7A3.0,1.9,60,0,1,196.9,763.0ZM219.9,769.5A2.5,1.4,90,0,1,219.9,764.5A2.5,1.4,90,0,1,219.9,769.5ZM197.4,771.2A1.9,1.1,10,0,1,193.7,770.5A1.9,1.1,10,0,1,197.4,771.2ZM217.8,772.1A2.1,1.2,110,0,1,219.2,768.1A2.1,1.2,110,0,1,217.8,772.1ZM215.7,780.8A2.9,1.9,110,0,1,217.7,775.4A2.9,1.9,110,0,1,215.7,780.8ZM173.6,784.6A2.1,1.4,60,0,1,171.4,781.0A2.1,1.4,60,0,1,173.6,784.6ZM215.1,781.5A2.6,1.9,50,0,1,211.7,777.4A2.6,1.9,50,0,1,215.1,781.5ZM220.1,803.2A2.4,1.5,120,0,1,222.4,799.1A2.4,1.5,120,0,1,220.1,803.2Z" fill="#aab3e5" fill-opacity=".9"/><path d="M205.6,751.2A1.8,1.3,10,0,1,201.9,750.6A1.8,1.3,10,0,1,205.6,751.2ZM185.3,764.6A2.3,1.5,90,0,1,185.3,760.0A2.3,1.5,90,0,1,185.3,764.6ZM172.7,786.5A2.5,1.6,10,0,1,167.8,785.6A2.5,1.6,10,0,1,172.7,786.5ZM173.1,796.7A1.9,1.2,130,0,1,175.5,793.8A1.9,1.2,130,0,1,173.1,796.7ZM209.5,796.0A2.1,1.7,30,0,1,205.8,793.9A2.1,1.7,30,0,1,209.5,796.0ZM216.3,796.2A2.8,1.9,150,0,1,221.2,793.4A2.8,1.9,150,0,1,216.3,796.2ZM216.3,809.9A3.2,1.7,0,0,1,210.0,809.9A3.2,1.7,0,0,1,216.3,809.9Z" fill="#aab3e5" fill-opacity=".85"/><path d="M222.5,752.0A2.1,1.9,170,0,1,226.6,751.2A2.1,1.9,170,0,1,222.5,752.0ZM213.8,769.5A2.7,1.9,60,0,1,211.0,764.8A2.7,1.9,60,0,1,213.8,769.5ZM164.8,776.9A2.1,1.3,10,0,1,160.7,776.1A2.1,1.3,10,0,1,164.8,776.9ZM222.6,793.5A3.0,1.4,60,0,1,219.6,788.3A3.0,1.4,60,0,1,222.6,793.5Z" fill="#98a4df" fill-opacity=".75"/><path d="M163.1,759.0A1.9,1.5,70,0,1,161.8,755.4A1.9,1.5,70,0,1,163.1,759.0ZM182.3,758.0A1.8,1.2,80,0,1,181.7,754.6A1.8,1.2,80,0,1,182.3,758.0ZM191.4,760.4A3.2,1.7,140,0,1,196.3,756.2A3.2,1.7,140,0,1,191.4,760.4ZM191.3,766.6A2.0,1.2,30,0,1,187.9,764.6A2.0,1.2,30,0,1,191.3,766.6ZM191.2,782.8A2.2,1.5,100,0,1,192.0,778.5A2.2,1.5,100,0,1,191.2,782.8ZM223.4,782.1A1.9,1.7,110,0,1,224.7,778.6A1.9,1.7,110,0,1,223.4,782.1ZM161.0,789.1A2.2,1.8,130,0,1,163.8,785.8A2.2,1.8,130,0,1,161.0,789.1ZM184.9,786.4A1.8,1.7,40,0,1,182.1,784.1A1.8,1.7,40,0,1,184.9,786.4ZM221.5,786.6A2.7,1.2,50,0,1,218.0,782.5A2.7,1.2,50,0,1,221.5,786.6ZM193.1,793.0A2.9,1.6,130,0,1,196.9,788.5A2.9,1.6,130,0,1,193.1,793.0ZM198.3,798.7A2.9,1.2,40,0,1,193.8,794.9A2.9,1.2,40,0,1,198.3,798.7ZM214.9,797.4A2.5,2.0,60,0,1,212.5,793.0A2.5,2.0,60,0,1,214.9,797.4ZM225.5,794.8A3.2,1.2,0,0,1,219.2,794.8A3.2,1.2,0,0,1,225.5,794.8ZM215.5,804.5A3.1,1.9,30,0,1,210.1,801.4A3.1,1.9,30,0,1,215.5,804.5ZM198.3,810.2A3.1,1.8,120,0,1,201.5,804.8A3.1,1.8,120,0,1,198.3,810.2Z" fill="#8391d8" fill-opacity=".85"/><path d="M169.7,756.2A2.8,1.2,10,0,1,164.1,755.2A2.8,1.2,10,0,1,169.7,756.2ZM197.9,761.0A2.6,2.0,100,0,1,198.8,756.0A2.6,2.0,100,0,1,197.9,761.0ZM160.5,766.2A3.2,1.3,100,0,1,161.6,759.8A3.2,1.3,100,0,1,160.5,766.2ZM158.2,797.7A2.6,1.3,140,0,1,162.1,794.3A2.6,1.3,140,0,1,158.2,797.7ZM216.9,804.1A2.2,1.5,150,0,1,220.7,801.9A2.2,1.5,150,0,1,216.9,804.1Z" fill="#aab3e5" fill-opacity="1"/><path d="M183.6,759.0A2.2,1.7,130,0,1,186.4,755.6A2.2,1.7,130,0,1,183.6,759.0ZM189.5,766.1A2.7,1.1,60,0,1,186.8,761.4A2.7,1.1,60,0,1,189.5,766.1ZM215.7,764.3A2.2,1.9,150,0,1,219.5,762.1A2.2,1.9,150,0,1,215.7,764.3ZM199.7,768.2A2.4,1.6,70,0,1,198.0,763.7A2.4,1.6,70,0,1,199.7,768.2ZM202.3,780.3A2.8,1.4,10,0,1,196.8,779.3A2.8,1.4,10,0,1,202.3,780.3ZM201.1,783.0A2.1,1.3,140,0,1,204.3,780.3A2.1,1.3,140,0,1,201.1,783.0ZM178.0,788.5A2.5,1.5,150,0,1,182.3,786.0A2.5,1.5,150,0,1,178.0,788.5ZM177.0,803.8A2.6,1.9,70,0,1,175.2,799.0A2.6,1.9,70,0,1,177.0,803.8ZM196.6,799.7A3.0,1.1,150,0,1,201.9,796.7A3.0,1.1,150,0,1,196.6,799.7ZM168.8,803.6A2.6,1.8,20,0,1,163.8,801.8A2.6,1.8,20,0,1,168.8,803.6ZM177.5,803.5A3.0,1.6,0,0,1,171.6,803.5A3.0,1.6,0,0,1,177.5,803.5ZM204.2,806.1A2.2,1.9,120,0,1,206.4,802.3A2.2,1.9,120,0,1,204.2,806.1Z" fill="#a6b0e4" fill-opacity=".75"/><path d="M208.4,758.9A2.7,1.3,120,0,1,211.1,754.2A2.7,1.3,120,0,1,208.4,758.9ZM159.8,791.3A2.2,1.3,160,0,1,163.8,789.8A2.2,1.3,160,0,1,159.8,791.3ZM182.9,802.4A1.8,1.7,120,0,1,184.7,799.3A1.8,1.7,120,0,1,182.9,802.4Z" fill="#a6b0e4" fill-opacity=".85"/><path d="M175.6,763.8A2.8,1.7,60,0,1,172.8,759.0A2.8,1.7,60,0,1,175.6,763.8ZM214.4,763.8A2.4,1.8,50,0,1,211.3,760.1A2.4,1.8,50,0,1,214.4,763.8ZM203.8,772.1A1.8,1.3,70,0,1,202.6,768.7A1.8,1.3,70,0,1,203.8,772.1ZM213.7,779.6A1.9,1.8,50,0,1,211.3,776.7A1.9,1.8,50,0,1,213.7,779.6ZM198.1,792.2A2.3,1.7,110,0,1,199.7,787.9A2.3,1.7,110,0,1,198.1,792.2ZM203.7,797.9A1.8,1.3,50,0,1,201.3,795.1A1.8,1.3,50,0,1,203.7,797.9ZM161.7,807.7A2.2,1.3,90,0,1,161.7,803.3A2.2,1.3,90,0,1,161.7,807.7ZM189.8,808.4A2.9,1.2,10,0,1,184.1,807.4A2.9,1.2,10,0,1,189.8,808.4Z" fill="#8391d8" fill-opacity=".9"/><path d="M202.7,761.8A2.5,1.4,170,0,1,207.6,760.9A2.5,1.4,170,0,1,202.7,761.8ZM202.0,768.0A1.8,1.5,160,0,1,205.3,766.8A1.8,1.5,160,0,1,202.0,768.0ZM182.0,777.3A3.3,1.8,30,0,1,176.3,774.0A3.3,1.8,30,0,1,182.0,777.3ZM201.8,775.8A2.5,1.1,0,0,1,196.9,775.8A2.5,1.1,0,0,1,201.8,775.8ZM163.7,783.3A2.1,1.4,120,0,1,165.9,779.6A2.1,1.4,120,0,1,163.7,783.3ZM175.7,809.2A1.9,2.0,150,0,1,179.0,807.3A1.9,2.0,150,0,1,175.7,809.2Z" fill="#8c99db" fill-opacity=".9"/><path d="M220.9,760.9A2.8,1.2,170,0,1,226.5,759.9A2.8,1.2,170,0,1,220.9,760.9ZM164.9,774.7A3.2,1.7,100,0,1,166.0,768.4A3.2,1.7,100,0,1,164.9,774.7ZM178.8,773.5A2.1,1.4,50,0,1,176.1,770.3A2.1,1.4,50,0,1,178.8,773.5ZM223.8,775.6A2.7,1.6,60,0,1,221.1,770.9A2.7,1.6,60,0,1,223.8,775.6ZM206.2,787.4A1.9,1.4,50,0,1,203.7,784.4A1.9,1.4,50,0,1,206.2,787.4ZM163.9,796.9A2.3,2.0,110,0,1,165.5,792.6A2.3,2.0,110,0,1,163.9,796.9ZM204.6,801.8A3.0,1.9,100,0,1,205.7,795.9A3.0,1.9,100,0,1,204.6,801.8ZM193.9,806.2A2.5,2.0,10,0,1,189.0,805.3A2.5,2.0,10,0,1,193.9,806.2ZM220.8,809.0A2.2,1.2,10,0,1,216.4,808.2A2.2,1.2,10,0,1,220.8,809.0Z" fill="#aab3e5" fill-opacity=".75"/><path d="M179.5,767.1A2.1,1.1,90,0,1,179.5,762.9A2.1,1.1,90,0,1,179.5,767.1ZM187.1,771.3A1.7,1.2,150,0,1,190.1,769.5A1.7,1.2,150,0,1,187.1,771.3ZM212.3,776.3A2.8,1.9,10,0,1,206.8,775.3A2.8,1.9,10,0,1,212.3,776.3ZM216.3,791.8A2.0,1.4,130,0,1,218.9,788.7A2.0,1.4,130,0,1,216.3,791.8Z" fill="#a6b0e4" fill-opacity=".9"/><path d="M198.1,772.0A2.8,1.3,150,0,1,203.0,769.2A2.8,1.3,150,0,1,198.1,772.0ZM205.6,794.2A3.2,1.4,120,0,1,208.8,788.7A3.2,1.4,120,0,1,205.6,794.2ZM186.1,797.1A3.1,1.8,140,0,1,190.9,793.1A3.1,1.8,140,0,1,186.1,797.1Z" fill="#98a4df" fill-opacity=".85"/><path d="M187.2,775.1A2.5,1.2,170,0,1,192.2,774.2A2.5,1.2,170,0,1,187.2,775.1ZM197.1,783.0A1.9,1.6,10,0,1,193.4,782.4A1.9,1.6,10,0,1,197.1,783.0ZM178.4,785.2A3.2,1.8,20,0,1,172.3,783.0A3.2,1.8,20,0,1,178.4,785.2ZM216.3,788.3A2.0,1.1,50,0,1,213.7,785.2A2.0,1.1,50,0,1,216.3,788.3ZM159.2,801.8A3.1,1.6,110,0,1,161.2,796.1A3.1,1.6,110,0,1,159.2,801.8Z" fill="#8391d8" fill-opacity="1"/><path d="M203.8,780.4A3.1,1.4,90,0,1,203.8,774.3A3.1,1.4,90,0,1,203.8,780.4ZM195.9,785.8A3.1,1.5,40,0,1,191.2,781.8A3.1,1.5,40,0,1,195.9,785.8ZM220.9,788.2A3.0,1.1,160,0,1,226.5,786.2A3.0,1.1,160,0,1,220.9,788.2ZM186.7,792.6A2.3,1.4,50,0,1,183.8,789.1A2.3,1.4,50,0,1,186.7,792.6ZM196.3,801.4A2.0,1.8,20,0,1,192.6,800.1A2.0,1.8,20,0,1,196.3,801.4ZM180.1,810.8A2.5,1.7,100,0,1,181.0,805.8A2.5,1.7,100,0,1,180.1,810.8ZM210.6,811.8A2.0,2.0,70,0,1,209.3,808.1A2.0,2.0,70,0,1,210.6,811.8Z" fill="#8c99db" fill-opacity=".85"/><ellipse cx="195.8" cy="785.9" rx="1.2" ry="0.9" fill="#5e1e24" fill-opacity="0.8"/><ellipse cx="182.7" cy="756.8" rx="1.5" ry="1.1" fill="#7a2a28" fill-opacity="0.8"/><ellipse cx="197.1" cy="806.6" rx="1.4" ry="1.1" fill="#6a2028" fill-opacity="0.8"/><ellipse cx="205.3" cy="806.9" rx="1.3" ry="1.0" fill="#5e1e24" fill-opacity="0.8"/><ellipse cx="184.5" cy="754.0" rx="1.3" ry="1.0" fill="#7a2a28" fill-opacity="0.8"/><ellipse cx="165.8" cy="784.2" rx="1.2" ry="1.0" fill="#6a2028" fill-opacity="0.8"/><ellipse cx="200.8" cy="758.7" rx="1.2" ry="1.0" fill="#7a2a28" fill-opacity="0.8"/><ellipse cx="203.8" cy="758.4" rx="1.4" ry="1.1" fill="#7a2a28" fill-opacity="0.8"/><ellipse cx="207.0" cy="771.7" rx="1.7" ry="1.3" fill="#6a2028" fill-opacity="0.8"/></g></g>
<rect x="159.4" y="750.4" width="61.6" height="60" fill="none" stroke="#666" stroke-width="1"/>
<g clip-path="url(#mc03)"><rect x="225.3" y="750.4" width="61.6" height="60" fill="#f3f3f8"/><g filter="url(#sb)"><path d="M226.9,754.6A2.5,1.5,90,0,1,226.9,749.5A2.5,1.5,90,0,1,226.9,754.6ZM253.5,755.0A1.7,1.2,50,0,1,251.3,752.3A1.7,1.2,50,0,1,253.5,755.0ZM287.0,769.9A3.0,1.5,40,0,1,282.5,766.1A3.0,1.5,40,0,1,287.0,769.9ZM285.2,775.2A2.7,1.3,0,0,1,279.8,775.2A2.7,1.3,0,0,1,285.2,775.2ZM249.7,792.2A2.6,1.7,50,0,1,246.4,788.3A2.6,1.7,50,0,1,249.7,792.2ZM228.1,803.0A2.2,1.5,40,0,1,224.7,800.1A2.2,1.5,40,0,1,228.1,803.0ZM247.5,801.8A2.9,1.9,20,0,1,242.0,799.8A2.9,1.9,20,0,1,247.5,801.8ZM285.2,800.7A2.0,1.9,20,0,1,281.4,799.3A2.0,1.9,20,0,1,285.2,800.7ZM248.3,807.9A2.4,1.2,0,0,1,243.5,807.9A2.4,1.2,0,0,1,248.3,807.9ZM273.5,811.1A2.5,2.0,130,0,1,276.7,807.2A2.5,2.0,130,0,1,273.5,811.1Z" fill="#a6b0e4" fill-opacity="1"/><path d="M232.8,755.8A2.3,1.5,90,0,1,232.8,751.2A2.3,1.5,90,0,1,232.8,755.8ZM236.1,751.4A1.9,1.8,170,0,1,239.8,750.7A1.9,1.8,170,0,1,236.1,751.4ZM254.9,770.0A2.9,1.3,70,0,1,253.0,764.6A2.9,1.3,70,0,1,254.9,770.0ZM281.1,769.4A1.7,1.7,50,0,1,278.9,766.8A1.7,1.7,50,0,1,281.1,769.4ZM258.2,783.6A2.1,1.6,50,0,1,255.6,780.4A2.1,1.6,50,0,1,258.2,783.6ZM263.5,781.6A3.1,2.0,170,0,1,269.6,780.5A3.1,2.0,170,0,1,263.5,781.6ZM232.1,799.5A1.7,1.6,170,0,1,235.5,798.9A1.7,1.6,170,0,1,232.1,799.5ZM257.0,805.1A1.8,1.2,160,0,1,260.4,803.9A1.8,1.2,160,0,1,257.0,805.1Z" fill="#aab3e5" fill-opacity=".85"/><path d="M239.8,754.9A2.4,1.4,100,0,1,240.7,750.1A2.4,1.4,100,0,1,239.8,754.9ZM287.7,753.4A1.8,1.2,10,0,1,284.1,752.8A1.8,1.2,10,0,1,287.7,753.4ZM231.8,762.4A1.7,1.3,40,0,1,229.2,760.2A1.7,1.3,40,0,1,231.8,762.4ZM236.6,770.4A3.2,1.8,80,0,1,235.5,764.2A3.2,1.8,80,0,1,236.6,770.4ZM288.8,767.9A1.9,1.9,90,0,1,288.8,764.1A1.9,1.9,90,0,1,288.8,767.9ZM240.9,773.9A2.1,1.8,150,0,1,244.5,771.9A2.1,1.8,150,0,1,240.9,773.9ZM250.3,782.5A3.1,1.8,40,0,1,245.6,778.6A3.1,1.8,40,0,1,250.3,782.5ZM266.6,782.2A2.7,1.2,130,0,1,270.1,778.1A2.7,1.2,130,0,1,266.6,782.2Z" fill="#aab3e5" fill-opacity=".9"/><path d="M255.7,756.5A3.1,2.0,80,0,1,254.6,750.3A3.1,2.0,80,0,1,255.7,756.5ZM268.6,768.4A2.1,1.2,140,0,1,271.8,765.7A2.1,1.2,140,0,1,268.6,768.4ZM268.5,774.1A2.4,1.3,80,0,1,267.7,769.5A2.4,1.3,80,0,1,268.5,774.1ZM288.6,778.8A2.1,1.1,120,0,1,290.7,775.1A2.1,1.1,120,0,1,288.6,778.8ZM273.2,790.4A2.2,1.5,0,0,1,268.9,790.4A2.2,1.5,0,0,1,273.2,790.4Z" fill="#a6b0e4" fill-opacity=".75"/><path d="M262.6,755.1A2.5,1.7,70,0,1,260.9,750.3A2.5,1.7,70,0,1,262.6,755.1ZM280.8,759.7A2.5,1.4,10,0,1,275.8,758.9A2.5,1.4,10,0,1,280.8,759.7ZM252.0,764.9A3.2,1.6,40,0,1,247.0,760.7A3.2,1.6,40,0,1,252.0,764.9ZM264.3,767.3A1.9,1.8,90,0,1,264.3,763.5A1.9,1.8,90,0,1,264.3,767.3ZM275.5,769.1A2.5,1.5,50,0,1,272.2,765.2A2.5,1.5,50,0,1,275.5,769.1ZM236.5,783.3A2.8,1.5,110,0,1,238.4,778.1A2.8,1.5,110,0,1,236.5,783.3ZM234.7,792.1A2.2,1.4,10,0,1,230.3,791.3A2.2,1.4,10,0,1,234.7,792.1ZM240.4,792.4A3.0,1.7,20,0,1,234.7,790.4A3.0,1.7,20,0,1,240.4,792.4ZM276.4,791.8A2.2,2.0,10,0,1,272.1,791.0A2.2,2.0,10,0,1,276.4,791.8ZM241.5,800.8A2.1,1.4,90,0,1,241.5,796.5A2.1,1.4,90,0,1,241.5,800.8ZM278.7,799.9A1.9,1.9,90,0,1,278.7,796.2A1.9,1.9,90,0,1,278.7,799.9ZM236.2,807.3A2.5,1.2,30,0,1,231.8,804.8A2.5,1.2,30,0,1,236.2,807.3Z" fill="#aab3e5" fill-opacity=".75"/><path d="M261.6,755.9A2.9,1.8,140,0,1,266.1,752.2A2.9,1.8,140,0,1,261.6,755.9ZM268.3,757.9A2.3,1.4,40,0,1,264.8,754.9A2.3,1.4,40,0,1,268.3,757.9ZM224.7,763.2A2.3,1.9,150,0,1,228.6,760.9A2.3,1.9,150,0,1,224.7,763.2ZM263.1,765.1A1.9,1.7,40,0,1,260.2,762.6A1.9,1.7,40,0,1,263.1,765.1ZM232.5,774.4A3.3,1.7,120,0,1,235.8,768.7A3.3,1.7,120,0,1,232.5,774.4ZM264.0,772.6A3.1,1.1,60,0,1,260.9,767.3A3.1,1.1,60,0,1,264.0,772.6ZM230.9,783.4A2.5,1.2,80,0,1,230.0,778.4A2.5,1.2,80,0,1,230.9,783.4ZM275.6,786.4A2.2,1.3,50,0,1,272.7,783.0A2.2,1.3,50,0,1,275.6,786.4Z" fill="#8391d8" fill-opacity=".75"/><path d="M270.5,754.2A1.7,1.5,30,0,1,267.6,752.5A1.7,1.5,30,0,1,270.5,754.2ZM237.6,768.3A3.0,1.3,170,0,1,243.6,767.3A3.0,1.3,170,0,1,237.6,768.3ZM244.4,782.7A2.4,1.6,20,0,1,239.9,781.1A2.4,1.6,20,0,1,244.4,782.7ZM226.8,786.9A3.1,1.2,90,0,1,226.8,780.7A3.1,1.2,90,0,1,226.8,786.9ZM252.8,787.0A2.3,1.6,40,0,1,249.3,784.1A2.3,1.6,40,0,1,252.8,787.0ZM239.1,796.9A2.5,1.5,50,0,1,235.9,793.1A2.5,1.5,50,0,1,239.1,796.9ZM243.7,811.4A2.3,1.8,30,0,1,239.8,809.2A2.3,1.8,30,0,1,243.7,811.4ZM253.8,810.6A2.6,1.6,160,0,1,258.6,808.9A2.6,1.6,160,0,1,253.8,810.6Z" fill="#a6b0e4" fill-opacity=".85"/><path d="M271.5,754.7A2.6,1.5,160,0,1,276.5,752.9A2.6,1.5,160,0,1,271.5,754.7ZM247.2,764.6A3.1,2.0,60,0,1,244.1,759.2A3.1,2.0,60,0,1,247.2,764.6ZM265.6,788.4A3.1,1.6,100,0,1,266.7,782.2A3.1,1.6,100,0,1,265.6,788.4ZM258.7,799.1A1.9,1.6,150,0,1,262.0,797.2A1.9,1.6,150,0,1,258.7,799.1ZM283.8,807.9A3.1,1.8,60,0,1,280.7,802.5A3.1,1.8,60,0,1,283.8,807.9Z" fill="#a6b0e4" fill-opacity=".9"/><path d="M280.9,751.2A2.3,1.3,0,0,1,276.2,751.2A2.3,1.3,0,0,1,280.9,751.2ZM273.1,763.1A3.2,1.6,170,0,1,279.4,762.0A3.2,1.6,170,0,1,273.1,763.1ZM267.5,776.4A2.7,1.3,30,0,1,262.8,773.7A2.7,1.3,30,0,1,267.5,776.4ZM280.5,779.9A3.0,1.8,70,0,1,278.5,774.2A3.0,1.8,70,0,1,280.5,779.9ZM288.8,781.7A2.5,2.0,40,0,1,285.0,778.5A2.5,2.0,40,0,1,288.8,781.7ZM231.7,794.9A1.8,1.7,140,0,1,234.5,792.5A1.8,1.7,140,0,1,231.7,794.9ZM285.4,796.0A1.8,1.9,80,0,1,284.7,792.4A1.8,1.9,80,0,1,285.4,796.0ZM258.4,802.2A2.3,1.5,60,0,1,256.1,798.3A2.3,1.5,60,0,1,258.4,802.2ZM285.7,809.2A3.1,1.7,20,0,1,279.9,807.0A3.1,1.7,20,0,1,285.7,809.2Z" fill="#98a4df" fill-opacity=".75"/><path d="M292.1,753.3A2.1,1.3,40,0,1,288.9,750.6A2.1,1.3,40,0,1,292.1,753.3ZM249.1,767.3A2.7,1.4,30,0,1,244.4,764.6A2.7,1.4,30,0,1,249.1,767.3ZM273.0,785.3A2.4,1.5,20,0,1,268.5,783.7A2.4,1.5,20,0,1,273.0,785.3ZM240.5,791.6A2.4,1.7,110,0,1,242.1,787.1A2.4,1.7,110,0,1,240.5,791.6ZM262.7,796.9A1.9,1.8,50,0,1,260.3,794.0A1.9,1.8,50,0,1,262.7,796.9ZM280.0,808.0A2.1,1.7,70,0,1,278.6,804.1A2.1,1.7,70,0,1,280.0,808.0ZM286.3,804.6A1.8,1.2,140,0,1,289.1,802.3A1.8,1.2,140,0,1,286.3,804.6Z" fill="#98a4df" fill-opacity=".85"/><path d="M229.0,759.7A3.2,1.4,60,0,1,225.7,754.2A3.2,1.4,60,0,1,229.0,759.7ZM267.1,771.4A2.3,1.5,30,0,1,263.1,769.1A2.3,1.5,30,0,1,267.1,771.4ZM259.7,782.4A3.0,1.5,130,0,1,263.5,777.9A3.0,1.5,130,0,1,259.7,782.4ZM274.6,781.8A3.1,1.1,170,0,1,280.8,780.7A3.1,1.1,170,0,1,274.6,781.8ZM271.7,804.3A3.2,1.7,120,0,1,274.9,798.8A3.2,1.7,120,0,1,271.7,804.3ZM281.9,809.4A2.0,1.3,70,0,1,280.5,805.6A2.0,1.3,70,0,1,281.9,809.4Z" fill="#aab3e5" fill-opacity="1"/><path d="M244.6,758.2A2.8,1.3,60,0,1,241.8,753.3A2.8,1.3,60,0,1,244.6,758.2ZM288.0,764.3A2.6,1.3,10,0,1,282.8,763.4A2.6,1.3,10,0,1,288.0,764.3ZM250.0,769.8A1.9,1.8,80,0,1,249.3,766.0A1.9,1.8,80,0,1,250.0,769.8ZM226.4,771.1A2.3,1.5,170,0,1,230.9,770.3A2.3,1.5,170,0,1,226.4,771.1ZM281.5,772.7A2.7,1.5,50,0,1,278.0,768.6A2.7,1.5,50,0,1,281.5,772.7ZM242.4,788.2A2.4,1.3,160,0,1,247.0,786.5A2.4,1.3,160,0,1,242.4,788.2ZM244.5,807.3A2.6,1.5,110,0,1,246.3,802.3A2.6,1.5,110,0,1,244.5,807.3Z" fill="#8c99db" fill-opacity=".9"/><path d="M251.9,761.5A2.6,1.1,110,0,1,253.6,756.6A2.6,1.1,110,0,1,251.9,761.5ZM251.5,777.6A2.5,1.8,80,0,1,250.7,772.7A2.5,1.8,80,0,1,251.5,777.6ZM290.8,811.5A2.2,1.4,40,0,1,287.5,808.7A2.2,1.4,40,0,1,290.8,811.5Z" fill="#8c99db" fill-opacity=".75"/><path d="M261.7,759.6A3.1,1.9,10,0,1,255.6,758.5A3.1,1.9,10,0,1,261.7,759.6ZM234.3,763.6A2.7,1.2,150,0,1,239.0,760.9A2.7,1.2,150,0,1,234.3,763.6ZM233.5,774.6A3.0,1.3,0,0,1,227.5,774.6A3.0,1.3,0,0,1,233.5,774.6ZM282.4,783.2A2.2,1.8,130,0,1,285.3,779.8A2.2,1.8,130,0,1,282.4,783.2ZM233.9,788.7A2.1,1.4,90,0,1,233.9,784.6A2.1,1.4,90,0,1,233.9,788.7ZM279.1,792.0A1.9,1.9,140,0,1,281.9,789.6A1.9,1.9,140,0,1,279.1,792.0ZM240.2,799.4A3.1,1.7,120,0,1,243.3,794.1A3.1,1.7,120,0,1,240.2,799.4ZM273.9,796.7A2.9,1.9,120,0,1,276.9,791.6A2.9,1.9,120,0,1,273.9,796.7ZM279.7,794.2A2.2,2.0,10,0,1,275.3,793.4A2.2,2.0,10,0,1,279.7,794.2ZM266.4,803.5A2.0,1.5,110,0,1,267.8,799.7A2.0,1.5,110,0,1,266.4,803.5ZM254.7,804.6A2.7,1.2,140,0,1,258.8,801.1A2.7,1.2,140,0,1,254.7,804.6ZM238.0,810.8A1.7,1.6,100,0,1,238.6,807.4A1.7,1.6,100,0,1,238.0,810.8ZM265.9,812.3A2.7,1.1,60,0,1,263.2,807.6A2.7,1.1,60,0,1,265.9,812.3Z" fill="#8c99db" fill-opacity="1"/><path d="M269.4,760.7A2.1,1.5,80,0,1,268.7,756.6A2.1,1.5,80,0,1,269.4,760.7ZM276.9,761.6A2.8,1.3,60,0,1,274.1,756.7A2.8,1.3,60,0,1,276.9,761.6ZM292.4,761.0A2.0,1.1,0,0,1,288.4,761.0A2.0,1.1,0,0,1,292.4,761.0ZM246.2,778.0A2.1,1.4,150,0,1,249.8,775.9A2.1,1.4,150,0,1,246.2,778.0ZM247.2,783.6A2.8,1.1,140,0,1,251.4,780.1A2.8,1.1,140,0,1,247.2,783.6ZM281.4,786.5A2.0,1.9,60,0,1,279.4,783.0A2.0,1.9,60,0,1,281.4,786.5ZM286.3,787.6A3.3,1.5,130,0,1,290.5,782.6A3.3,1.5,130,0,1,286.3,787.6ZM288.0,793.6A2.3,1.5,140,0,1,291.6,790.6A2.3,1.5,140,0,1,288.0,793.6ZM287.4,797.3A3.1,1.5,140,0,1,292.0,793.3A3.1,1.5,140,0,1,287.4,797.3ZM231.1,806.9A1.9,1.7,20,0,1,227.6,805.7A1.9,1.7,20,0,1,231.1,806.9ZM244.8,805.7A2.3,1.2,20,0,1,240.4,804.1A2.3,1.2,20,0,1,244.8,805.7ZM269.9,804.8A2.7,1.5,130,0,1,273.5,800.6A2.7,1.5,130,0,1,269.9,804.8ZM249.6,811.1A3.2,1.8,150,0,1,255.1,807.9A3.2,1.8,150,0,1,249.6,811.1ZM270.2,811.7A3.2,1.5,100,0,1,271.3,805.4A3.2,1.5,100,0,1,270.2,811.7Z" fill="#98a4df" fill-opacity="1"/><path d="M291.7,759.4A3.3,1.3,20,0,1,285.5,757.2A3.3,1.3,20,0,1,291.7,759.4ZM272.3,761.3A1.9,1.2,20,0,1,268.8,760.0A1.9,1.2,20,0,1,272.3,761.3ZM274.9,773.1A2.5,1.5,60,0,1,272.4,768.8A2.5,1.5,60,0,1,274.9,773.1ZM241.1,777.0A2.8,1.5,150,0,1,245.9,774.2A2.8,1.5,150,0,1,241.1,777.0ZM275.7,777.2A2.9,1.5,40,0,1,271.3,773.5A2.9,1.5,40,0,1,275.7,777.2ZM227.9,782.5A2.4,1.2,110,0,1,229.5,778.1A2.4,1.2,110,0,1,227.9,782.5ZM253.4,790.8A2.3,1.1,10,0,1,248.9,790.0A2.3,1.1,10,0,1,253.4,790.8ZM245.7,797.5A2.4,1.2,80,0,1,244.8,792.7A2.4,1.2,80,0,1,245.7,797.5ZM249.3,798.0A1.8,1.3,130,0,1,251.6,795.2A1.8,1.3,130,0,1,249.3,798.0Z" fill="#8391d8" fill-opacity=".85"/><path d="M241.2,762.5A2.3,1.2,140,0,1,244.6,759.6A2.3,1.2,140,0,1,241.2,762.5ZM260.0,764.0A2.5,1.3,20,0,1,255.4,762.3A2.5,1.3,20,0,1,260.0,764.0ZM244.9,772.1A2.8,1.7,130,0,1,248.5,767.9A2.8,1.7,130,0,1,244.9,772.1ZM284.2,775.9A2.5,2.0,80,0,1,283.4,770.9A2.5,2.0,80,0,1,284.2,775.9ZM233.7,788.0A2.6,1.7,130,0,1,237.1,783.9A2.6,1.7,130,0,1,233.7,788.0ZM228.4,790.8A3.2,1.4,40,0,1,223.5,786.7A3.2,1.4,40,0,1,228.4,790.8ZM262.4,793.3A2.7,1.5,50,0,1,259.0,789.2A2.7,1.5,50,0,1,262.4,793.3ZM266.5,795.0A2.9,1.2,10,0,1,260.8,794.0A2.9,1.2,10,0,1,266.5,795.0ZM239.4,805.4A2.0,1.2,20,0,1,235.7,804.0A2.0,1.2,20,0,1,239.4,805.4Z" fill="#8391d8" fill-opacity="1"/><path d="M258.6,768.7A2.6,1.3,120,0,1,261.2,764.1A2.6,1.3,120,0,1,258.6,768.7ZM252.4,773.4A2.2,1.1,40,0,1,249.1,770.6A2.2,1.1,40,0,1,252.4,773.4ZM289.5,773.2A3.2,1.5,70,0,1,287.4,767.2A3.2,1.5,70,0,1,289.5,773.2ZM263.9,806.1A3.2,1.5,140,0,1,268.7,802.0A3.2,1.5,140,0,1,263.9,806.1Z" fill="#8c99db" fill-opacity=".85"/><path d="M259.8,779.0A2.8,1.3,80,0,1,258.9,773.5A2.8,1.3,80,0,1,259.8,779.0ZM240.1,787.4A2.0,1.4,170,0,1,244.0,786.7A2.0,1.4,170,0,1,240.1,787.4ZM287.8,788.1A2.4,1.6,20,0,1,283.4,786.5A2.4,1.6,20,0,1,287.8,788.1ZM256.4,797.8A2.9,1.8,90,0,1,256.4,792.0A2.9,1.8,90,0,1,256.4,797.8ZM268.9,804.4A3.3,1.8,110,0,1,271.2,798.2A3.3,1.8,110,0,1,268.9,804.4Z" fill="#98a4df" fill-opacity=".9"/><path d="M273.2,783.0A2.8,1.9,100,0,1,274.1,777.4A2.8,1.9,100,0,1,273.2,783.0ZM256.8,791.0A2.6,1.2,20,0,1,251.9,789.2A2.6,1.2,20,0,1,256.8,791.0ZM264.1,790.7A2.6,1.8,120,0,1,266.7,786.2A2.6,1.8,120,0,1,264.1,790.7ZM284.9,793.8A2.8,1.8,50,0,1,281.2,789.5A2.8,1.8,50,0,1,284.9,793.8ZM225.0,813.3A2.7,1.1,120,0,1,227.7,808.6A2.7,1.1,120,0,1,225.0,813.3Z" fill="#8391d8" fill-opacity=".9"/><ellipse cx="275.2" cy="769.9" rx="1.2" ry="0.9" fill="#5e1e24" fill-opacity="0.8"/><ellipse cx="268.6" cy="768.5" rx="1.1" ry="0.9" fill="#6a2028" fill-opacity="0.8"/></g></g>
<rect x="225.3" y="750.4" width="61.6" height="60" fill="none" stroke="#666" stroke-width="1"/>
<g clip-path="url(#mc04)"><rect x="291" y="750.4" width="61.6" height="60" fill="#f3f3f8"/><g filter="url(#sb)"><path d="M292.9,755.2A2.3,1.2,120,0,1,295.2,751.2A2.3,1.2,120,0,1,292.9,755.2ZM337.7,755.9A1.9,1.7,70,0,1,336.3,752.2A1.9,1.7,70,0,1,337.7,755.9ZM301.9,765.3A2.7,1.8,130,0,1,305.4,761.2A2.7,1.8,130,0,1,301.9,765.3ZM354.6,763.7A2.2,2.0,40,0,1,351.1,760.9A2.2,2.0,40,0,1,354.6,763.7ZM301.2,774.4A3.3,1.6,60,0,1,297.9,768.7A3.3,1.6,60,0,1,301.2,774.4ZM319.4,786.3A3.2,1.4,150,0,1,325.0,783.0A3.2,1.4,150,0,1,319.4,786.3ZM324.3,806.7A2.5,1.2,170,0,1,329.2,805.8A2.5,1.2,170,0,1,324.3,806.7Z" fill="#8391d8" fill-opacity=".85"/><path d="M307.1,752.2A2.6,1.8,0,0,1,302.0,752.2A2.6,1.8,0,0,1,307.1,752.2ZM326.7,753.0A3.0,1.6,40,0,1,322.1,749.2A3.0,1.6,40,0,1,326.7,753.0ZM353.6,793.3A1.9,1.8,60,0,1,351.6,789.9A1.9,1.8,60,0,1,353.6,793.3ZM306.0,795.5A3.0,1.3,170,0,1,312.0,794.5A3.0,1.3,170,0,1,306.0,795.5ZM341.5,801.6A1.8,1.4,40,0,1,338.8,799.3A1.8,1.4,40,0,1,341.5,801.6ZM301.4,810.0A3.2,1.4,160,0,1,307.5,807.8A3.2,1.4,160,0,1,301.4,810.0Z" fill="#aab3e5" fill-opacity=".9"/><path d="M314.5,754.7A3.0,1.9,40,0,1,309.9,750.9A3.0,1.9,40,0,1,314.5,754.7ZM319.6,753.4A2.2,1.5,100,0,1,320.4,749.0A2.2,1.5,100,0,1,319.6,753.4ZM301.0,783.6A2.4,1.8,110,0,1,302.6,779.0A2.4,1.8,110,0,1,301.0,783.6ZM295.0,785.3A2.6,1.9,10,0,1,289.8,784.4A2.6,1.9,10,0,1,295.0,785.3ZM342.8,792.0A3.0,1.4,150,0,1,347.9,789.0A3.0,1.4,150,0,1,342.8,792.0ZM334.0,796.7A3.1,1.3,20,0,1,328.2,794.6A3.1,1.3,20,0,1,334.0,796.7ZM303.0,802.1A3.1,1.6,110,0,1,305.2,796.2A3.1,1.6,110,0,1,303.0,802.1Z" fill="#aab3e5" fill-opacity=".85"/><path d="M316.2,753.6A2.2,1.6,60,0,1,314.0,749.9A2.2,1.6,60,0,1,316.2,753.6ZM345.7,755.0A2.3,1.1,40,0,1,342.3,752.0A2.3,1.1,40,0,1,345.7,755.0ZM324.2,756.8A3.1,1.2,10,0,1,318.0,755.7A3.1,1.2,10,0,1,324.2,756.8ZM314.0,764.1A2.4,1.9,160,0,1,318.5,762.5A2.4,1.9,160,0,1,314.0,764.1ZM294.1,777.7A1.8,1.7,70,0,1,292.8,774.2A1.8,1.7,70,0,1,294.1,777.7ZM311.9,796.9A2.6,1.4,140,0,1,315.8,793.6A2.6,1.4,140,0,1,311.9,796.9ZM317.3,797.9A2.1,1.7,120,0,1,319.4,794.2A2.1,1.7,120,0,1,317.3,797.9ZM342.4,795.9A2.3,1.1,50,0,1,339.5,792.4A2.3,1.1,50,0,1,342.4,795.9ZM340.4,808.7A2.9,1.7,80,0,1,339.4,803.0A2.9,1.7,80,0,1,340.4,808.7ZM333.3,811.9A3.0,1.6,160,0,1,339.0,809.9A3.0,1.6,160,0,1,333.3,811.9Z" fill="#98a4df" fill-opacity=".9"/><path d="M348.2,753.7A2.8,2.0,120,0,1,351.1,748.8A2.8,2.0,120,0,1,348.2,753.7ZM339.3,767.0A2.1,1.7,20,0,1,335.3,765.6A2.1,1.7,20,0,1,339.3,767.0ZM345.8,774.4A2.8,1.9,100,0,1,346.7,768.9A2.8,1.9,100,0,1,345.8,774.4ZM299.8,799.5A1.9,1.2,30,0,1,296.6,797.7A1.9,1.2,30,0,1,299.8,799.5ZM338.2,803.4A3.0,1.9,0,0,1,332.2,803.4A3.0,1.9,0,0,1,338.2,803.4Z" fill="#8c99db" fill-opacity=".75"/><path d="M351.7,754.0A2.4,1.6,120,0,1,354.1,749.8A2.4,1.6,120,0,1,351.7,754.0ZM340.5,758.5A2.1,1.3,40,0,1,337.3,755.9A2.1,1.3,40,0,1,340.5,758.5ZM338.8,783.4A2.9,1.9,150,0,1,343.9,780.4A2.9,1.9,150,0,1,338.8,783.4ZM306.1,787.9A2.8,1.8,150,0,1,311.0,785.1A2.8,1.8,150,0,1,306.1,787.9ZM338.2,789.5A2.3,2.0,20,0,1,333.9,787.9A2.3,2.0,20,0,1,338.2,789.5ZM290.6,797.3A3.2,1.6,140,0,1,295.4,793.3A3.2,1.6,140,0,1,290.6,797.3ZM315.6,803.2A2.4,1.9,0,0,1,310.7,803.2A2.4,1.9,0,0,1,315.6,803.2Z" fill="#a6b0e4" fill-opacity=".9"/><path d="M291.8,760.2A1.8,1.1,110,0,1,293.0,756.9A1.8,1.1,110,0,1,291.8,760.2ZM298.2,761.1A2.5,1.6,80,0,1,297.4,756.2A2.5,1.6,80,0,1,298.2,761.1ZM319.2,766.3A3.1,1.2,110,0,1,321.4,760.4A3.1,1.2,110,0,1,319.2,766.3ZM326.4,773.6A3.3,1.8,10,0,1,320.0,772.5A3.3,1.8,10,0,1,326.4,773.6ZM321.8,772.9A3.1,1.7,150,0,1,327.1,769.8A3.1,1.7,150,0,1,321.8,772.9ZM346.3,783.6A2.7,1.9,80,0,1,345.3,778.3A2.7,1.9,80,0,1,346.3,783.6ZM331.9,803.4A2.5,1.9,90,0,1,331.9,798.4A2.5,1.9,90,0,1,331.9,803.4Z" fill="#8391d8" fill-opacity="1"/><path d="M300.8,759.3A2.1,1.4,100,0,1,301.5,755.2A2.1,1.4,100,0,1,300.8,759.3ZM309.4,758.4A3.1,1.7,40,0,1,304.7,754.4A3.1,1.7,40,0,1,309.4,758.4ZM358.3,759.4A2.1,2.0,20,0,1,354.4,757.9A2.1,2.0,20,0,1,358.3,759.4ZM327.3,763.8A2.2,1.8,70,0,1,325.8,759.7A2.2,1.8,70,0,1,327.3,763.8ZM330.8,769.3A3.1,1.9,100,0,1,331.8,763.2A3.1,1.9,100,0,1,330.8,769.3ZM299.8,786.6A2.0,1.8,10,0,1,295.8,785.9A2.0,1.8,10,0,1,299.8,786.6ZM309.9,792.8A2.5,1.2,140,0,1,313.8,789.5A2.5,1.2,140,0,1,309.9,792.8ZM347.3,799.2A3.2,1.6,130,0,1,351.5,794.2A3.2,1.6,130,0,1,347.3,799.2ZM297.7,807.4A3.3,1.4,130,0,1,301.9,802.4A3.3,1.4,130,0,1,297.7,807.4ZM330.8,806.5A3.0,1.4,60,0,1,327.8,801.3A3.0,1.4,60,0,1,330.8,806.5ZM349.9,804.8A2.2,1.4,80,0,1,349.1,800.6A2.2,1.4,80,0,1,349.9,804.8ZM353.6,805.9A2.9,1.9,160,0,1,359.0,803.9A2.9,1.9,160,0,1,353.6,805.9Z" fill="#98a4df" fill-opacity=".85"/><path d="M329.2,759.2A1.7,1.6,130,0,1,331.4,756.6A1.7,1.6,130,0,1,329.2,759.2ZM350.1,763.4A2.5,1.2,40,0,1,346.3,760.2A2.5,1.2,40,0,1,350.1,763.4ZM353.9,767.0A2.3,2.0,120,0,1,356.2,763.1A2.3,2.0,120,0,1,353.9,767.0ZM294.6,773.1A2.1,1.4,70,0,1,293.1,769.1A2.1,1.4,70,0,1,294.6,773.1ZM315.6,772.2A2.3,1.8,160,0,1,320.0,770.6A2.3,1.8,160,0,1,315.6,772.2ZM323.2,783.2A2.1,1.9,70,0,1,321.8,779.2A2.1,1.9,70,0,1,323.2,783.2ZM329.7,786.6A2.2,1.2,140,0,1,333.2,783.7A2.2,1.2,140,0,1,329.7,786.6ZM345.9,786.9A2.9,1.9,60,0,1,343.1,781.9A2.9,1.9,60,0,1,345.9,786.9ZM314.7,809.3A2.3,1.4,130,0,1,317.7,805.8A2.3,1.4,130,0,1,314.7,809.3Z" fill="#a6b0e4" fill-opacity=".75"/><path d="M352.3,759.7A2.5,1.5,30,0,1,347.9,757.1A2.5,1.5,30,0,1,352.3,759.7ZM292.8,769.0A3.0,1.3,70,0,1,290.7,763.4A3.0,1.3,70,0,1,292.8,769.0ZM339.1,787.6A2.9,1.9,150,0,1,344.1,784.7A2.9,1.9,150,0,1,339.1,787.6ZM311.1,789.1A2.3,1.7,10,0,1,306.6,788.3A2.3,1.7,10,0,1,311.1,789.1ZM301.9,808.1A2.8,1.6,100,0,1,302.9,802.6A2.8,1.6,100,0,1,301.9,808.1ZM293.3,810.1A2.2,1.5,50,0,1,290.6,806.8A2.2,1.5,50,0,1,293.3,810.1Z" fill="#8391d8" fill-opacity=".9"/><path d="M295.2,765.0A2.2,1.7,90,0,1,295.2,760.7A2.2,1.7,90,0,1,295.2,765.0ZM345.7,764.7A2.9,2.0,60,0,1,342.8,759.6A2.9,2.0,60,0,1,345.7,764.7ZM300.3,777.8A1.8,1.4,10,0,1,296.7,777.2A1.8,1.4,10,0,1,300.3,777.8ZM323.3,793.0A2.1,1.3,70,0,1,321.8,788.9A2.1,1.3,70,0,1,323.3,793.0ZM345.6,799.7A2.8,1.7,30,0,1,340.8,797.0A2.8,1.7,30,0,1,345.6,799.7Z" fill="#a6b0e4" fill-opacity="1"/><path d="M299.2,766.6A3.0,1.5,70,0,1,297.1,760.9A3.0,1.5,70,0,1,299.2,766.6ZM302.4,770.4A2.1,1.1,100,0,1,303.1,766.1A2.1,1.1,100,0,1,302.4,770.4ZM350.3,770.7A3.2,1.2,90,0,1,350.3,764.4A3.2,1.2,90,0,1,350.3,770.7ZM334.5,784.6A2.8,1.2,170,0,1,340.1,783.7A2.8,1.2,170,0,1,334.5,784.6ZM297.0,792.2A3.0,1.9,50,0,1,293.1,787.6A3.0,1.9,50,0,1,297.0,792.2ZM329.1,791.5A2.4,1.2,150,0,1,333.3,789.0A2.4,1.2,150,0,1,329.1,791.5Z" fill="#8c99db" fill-opacity=".9"/><path d="M314.6,762.6A1.9,1.5,40,0,1,311.8,760.2A1.9,1.5,40,0,1,314.6,762.6ZM329.3,763.4A3.1,1.8,100,0,1,330.4,757.2A3.1,1.8,100,0,1,329.3,763.4ZM323.5,770.5A2.6,1.9,80,0,1,322.5,765.3A2.6,1.9,80,0,1,323.5,770.5ZM344.5,772.7A2.9,1.5,20,0,1,339.0,770.8A2.9,1.5,20,0,1,344.5,772.7ZM324.0,776.7A2.1,2.0,120,0,1,326.2,773.0A2.1,2.0,120,0,1,324.0,776.7ZM336.7,779.3A2.0,1.4,80,0,1,336.0,775.3A2.0,1.4,80,0,1,336.7,779.3ZM334.4,783.0A3.3,1.9,100,0,1,335.5,776.5A3.3,1.9,100,0,1,334.4,783.0ZM294.6,792.6A1.8,1.3,170,0,1,298.2,791.9A1.8,1.3,170,0,1,294.6,792.6ZM303.6,791.2A2.4,1.7,110,0,1,305.3,786.6A2.4,1.7,110,0,1,303.6,791.2ZM305.3,795.7A2.0,2.0,0,0,1,301.4,795.7A2.0,2.0,0,0,1,305.3,795.7ZM334.0,799.2A3.2,1.5,120,0,1,337.2,793.7A3.2,1.5,120,0,1,334.0,799.2ZM325.2,800.4A1.9,1.9,120,0,1,327.1,797.0A1.9,1.9,120,0,1,325.2,800.4ZM325.1,803.2A1.9,1.9,0,0,1,321.2,803.2A1.9,1.9,0,0,1,325.1,803.2Z" fill="#aab3e5" fill-opacity="1"/><path d="M336.4,763.1A2.4,1.4,100,0,1,337.2,758.3A2.4,1.4,100,0,1,336.4,763.1ZM295.8,768.8A3.0,1.4,100,0,1,296.9,762.9A3.0,1.4,100,0,1,295.8,768.8ZM306.0,767.1A2.0,1.4,140,0,1,309.1,764.6A2.0,1.4,140,0,1,306.0,767.1ZM301.9,777.6A3.0,1.5,100,0,1,303.0,771.6A3.0,1.5,100,0,1,301.9,777.6ZM318.0,777.9A2.3,1.8,20,0,1,313.7,776.4A2.3,1.8,20,0,1,318.0,777.9ZM351.6,786.1A2.5,1.6,40,0,1,347.7,782.8A2.5,1.6,40,0,1,351.6,786.1ZM342.8,811.8A1.7,1.2,40,0,1,340.1,809.6A1.7,1.2,40,0,1,342.8,811.8Z" fill="#98a4df" fill-opacity="1"/><path d="M314.2,767.9A2.0,1.7,70,0,1,312.8,764.1A2.0,1.7,70,0,1,314.2,767.9ZM298.7,774.6A3.0,1.8,140,0,1,303.3,770.8A3.0,1.8,140,0,1,298.7,774.6ZM335.5,772.3A2.2,1.3,40,0,1,332.1,769.5A2.2,1.3,40,0,1,335.5,772.3ZM351.8,774.5A2.5,2.0,150,0,1,356.1,772.0A2.5,2.0,150,0,1,351.8,774.5ZM295.8,798.3A2.3,1.1,10,0,1,291.2,797.5A2.3,1.1,10,0,1,295.8,798.3ZM335.9,802.2A2.4,1.8,120,0,1,338.3,798.1A2.4,1.8,120,0,1,335.9,802.2ZM315.4,806.9A2.8,1.7,130,0,1,318.9,802.6A2.8,1.7,130,0,1,315.4,806.9ZM307.4,810.4A2.8,1.6,120,0,1,310.2,805.5A2.8,1.6,120,0,1,307.4,810.4Z" fill="#98a4df" fill-opacity=".75"/><path d="M308.0,772.2A1.8,1.2,70,0,1,306.7,768.8A1.8,1.2,70,0,1,308.0,772.2ZM350.0,772.5A2.0,1.8,110,0,1,351.4,768.7A2.0,1.8,110,0,1,350.0,772.5ZM329.0,776.7A2.9,1.6,160,0,1,334.4,774.8A2.9,1.6,160,0,1,329.0,776.7ZM349.4,794.4A2.7,1.3,80,0,1,348.4,789.0A2.7,1.3,80,0,1,349.4,794.4ZM333.1,809.4A2.7,1.4,10,0,1,327.8,808.4A2.7,1.4,10,0,1,333.1,809.4Z" fill="#8c99db" fill-opacity=".85"/><path d="M332.8,773.4A3.1,1.1,20,0,1,327.0,771.3A3.1,1.1,20,0,1,332.8,773.4ZM319.9,776.2A2.4,1.4,160,0,1,324.5,774.5A2.4,1.4,160,0,1,319.9,776.2ZM315.4,782.4A1.9,1.9,140,0,1,318.3,779.9A1.9,1.9,140,0,1,315.4,782.4ZM350.9,783.4A1.9,1.6,80,0,1,350.2,779.8A1.9,1.6,80,0,1,350.9,783.4ZM315.4,792.2A3.2,2.0,120,0,1,318.6,786.7A3.2,2.0,120,0,1,315.4,792.2ZM320.7,797.4A2.2,1.8,90,0,1,320.7,793.1A2.2,1.8,90,0,1,320.7,797.4Z" fill="#8391d8" fill-opacity=".75"/><path d="M312.5,775.9A1.7,1.4,120,0,1,314.2,772.9A1.7,1.4,120,0,1,312.5,775.9ZM343.0,778.3A2.4,1.5,100,0,1,343.9,773.5A2.4,1.5,100,0,1,343.0,778.3ZM293.8,783.1A2.5,1.5,80,0,1,293.0,778.2A2.5,1.5,80,0,1,293.8,783.1ZM308.4,780.9A2.6,1.3,170,0,1,313.6,780.0A2.6,1.3,170,0,1,308.4,780.9ZM323.4,793.0A2.9,1.4,120,0,1,326.2,788.0A2.9,1.4,120,0,1,323.4,793.0ZM326.7,795.8A2.1,1.8,110,0,1,328.1,791.9A2.1,1.8,110,0,1,326.7,795.8ZM307.2,802.3A2.0,1.6,140,0,1,310.2,799.7A2.0,1.6,140,0,1,307.2,802.3ZM296.4,811.8A2.2,1.6,100,0,1,297.1,807.6A2.2,1.6,100,0,1,296.4,811.8Z" fill="#aab3e5" fill-opacity=".75"/><path d="M339.6,779.8A2.1,1.2,90,0,1,339.6,775.7A2.1,1.2,90,0,1,339.6,779.8ZM349.5,801.9A2.1,1.5,80,0,1,348.8,797.7A2.1,1.5,80,0,1,349.5,801.9ZM353.3,801.3A3.1,1.6,130,0,1,357.3,796.5A3.1,1.6,130,0,1,353.3,801.3Z" fill="#8c99db" fill-opacity="1"/><path d="M324.5,780.1A2.7,1.5,160,0,1,329.6,778.2A2.7,1.5,160,0,1,324.5,780.1ZM301.3,785.8A2.2,1.2,170,0,1,305.6,785.0A2.2,1.2,170,0,1,301.3,785.8ZM323.4,800.0A1.9,1.8,40,0,1,320.4,797.6A1.9,1.8,40,0,1,323.4,800.0ZM344.9,810.2A2.1,1.7,60,0,1,342.8,806.6A2.1,1.7,60,0,1,344.9,810.2Z" fill="#a6b0e4" fill-opacity=".85"/><ellipse cx="298.7" cy="760.3" rx="1.2" ry="0.9" fill="#7a2a28" fill-opacity="0.8"/><ellipse cx="333.5" cy="763.5" rx="1.3" ry="1.0" fill="#7a2a28" fill-opacity="0.8"/><ellipse cx="320.7" cy="795.8" rx="1.2" ry="0.9" fill="#5e1e24" fill-opacity="0.8"/><ellipse cx="326.8" cy="793.2" rx="1.6" ry="1.2" fill="#5e1e24" fill-opacity="0.8"/></g></g>
<rect x="291" y="750.4" width="61.6" height="60" fill="none" stroke="#666" stroke-width="1"/>
<g clip-path="url(#mc05)"><rect x="358" y="750.4" width="61.6" height="60" fill="#f4f4f9"/><g filter="url(#sb)"><path d="M361.8,754.4A2.9,1.9,60,0,1,358.9,749.3A2.9,1.9,60,0,1,361.8,754.4ZM390.4,765.4A2.5,1.9,170,0,1,395.3,764.6A2.5,1.9,170,0,1,390.4,765.4ZM371.7,772.7A2.2,1.1,70,0,1,370.2,768.6A2.2,1.1,70,0,1,371.7,772.7ZM416.5,777.5A2.0,1.4,40,0,1,413.4,774.9A2.0,1.4,40,0,1,416.5,777.5ZM366.9,797.7A2.8,1.9,160,0,1,372.2,795.8A2.8,1.9,160,0,1,366.9,797.7ZM404.6,798.0A2.7,1.9,150,0,1,409.2,795.4A2.7,1.9,150,0,1,404.6,798.0ZM402.0,805.2A3.3,1.9,20,0,1,395.8,802.9A3.3,1.9,20,0,1,402.0,805.2ZM417.4,808.2A2.6,1.2,100,0,1,418.3,803.0A2.6,1.2,100,0,1,417.4,808.2ZM384.7,810.1A2.0,1.8,70,0,1,383.3,806.3A2.0,1.8,70,0,1,384.7,810.1Z" fill="#aab3e5" fill-opacity="1"/><path d="M368.2,756.3A2.8,1.8,60,0,1,365.4,751.5A2.8,1.8,60,0,1,368.2,756.3ZM388.6,793.2A1.8,1.5,130,0,1,390.9,790.4A1.8,1.5,130,0,1,388.6,793.2Z" fill="#8c99db" fill-opacity=".85"/><path d="M369.2,755.8A3.1,1.4,70,0,1,367.1,750.0A3.1,1.4,70,0,1,369.2,755.8ZM365.6,758.1A1.8,1.9,100,0,1,366.2,754.5A1.8,1.9,100,0,1,365.6,758.1ZM406.2,764.6A1.8,1.3,20,0,1,402.8,763.4A1.8,1.3,20,0,1,406.2,764.6ZM407.7,761.0A1.7,1.2,10,0,1,404.3,760.4A1.7,1.2,10,0,1,407.7,761.0ZM356.2,767.0A2.8,1.2,150,0,1,361.1,764.2A2.8,1.2,150,0,1,356.2,767.0ZM424.1,767.6A2.8,1.6,20,0,1,418.7,765.7A2.8,1.6,20,0,1,424.1,767.6ZM408.4,773.7A2.8,1.2,150,0,1,413.2,770.9A2.8,1.2,150,0,1,408.4,773.7ZM376.4,776.9A2.2,1.5,130,0,1,379.2,773.6A2.2,1.5,130,0,1,376.4,776.9ZM393.0,802.3A2.1,1.1,80,0,1,392.2,798.1A2.1,1.1,80,0,1,393.0,802.3ZM384.5,803.5A2.4,1.7,170,0,1,389.3,802.7A2.4,1.7,170,0,1,384.5,803.5ZM402.8,809.7A2.6,1.9,60,0,1,400.1,805.1A2.6,1.9,60,0,1,402.8,809.7ZM415.6,809.7A3.0,1.4,40,0,1,410.9,805.8A3.0,1.4,40,0,1,415.6,809.7Z" fill="#a6b0e4" fill-opacity=".85"/><path d="M377.5,753.2A2.2,1.4,150,0,1,381.4,751.0A2.2,1.4,150,0,1,377.5,753.2ZM396.4,752.3A2.2,1.3,170,0,1,400.7,751.6A2.2,1.3,170,0,1,396.4,752.3ZM390.8,762.2A3.0,1.6,10,0,1,384.9,761.2A3.0,1.6,10,0,1,390.8,762.2ZM415.2,763.5A2.4,1.9,0,0,1,410.3,763.5A2.4,1.9,0,0,1,415.2,763.5ZM413.1,788.9A2.6,1.6,80,0,1,412.2,783.7A2.6,1.6,80,0,1,413.1,788.9ZM371.7,811.8A3.0,1.7,30,0,1,366.6,808.8A3.0,1.7,30,0,1,371.7,811.8ZM386.4,811.6A2.1,1.4,130,0,1,389.1,808.4A2.1,1.4,130,0,1,386.4,811.6Z" fill="#aab3e5" fill-opacity=".85"/><path d="M381.5,753.6A2.8,1.5,130,0,1,385.1,749.3A2.8,1.5,130,0,1,381.5,753.6ZM373.2,771.0A3.3,1.3,100,0,1,374.3,764.5A3.3,1.3,100,0,1,373.2,771.0ZM377.1,785.3A3.0,1.3,60,0,1,374.1,780.0A3.0,1.3,60,0,1,377.1,785.3ZM406.3,784.9A2.2,1.9,10,0,1,402.1,784.1A2.2,1.9,10,0,1,406.3,784.9ZM375.5,801.3A3.0,2.0,90,0,1,375.5,795.3A3.0,2.0,90,0,1,375.5,801.3ZM412.5,805.4A2.6,1.8,100,0,1,413.4,800.4A2.6,1.8,100,0,1,412.5,805.4Z" fill="#98a4df" fill-opacity="1"/><path d="M384.2,753.3A3.3,1.5,160,0,1,390.4,751.1A3.3,1.5,160,0,1,384.2,753.3ZM362.1,771.6A1.9,1.2,10,0,1,358.4,770.9A1.9,1.2,10,0,1,362.1,771.6ZM418.2,772.0A3.0,1.6,160,0,1,423.8,769.9A3.0,1.6,160,0,1,418.2,772.0ZM403.7,775.6A2.0,1.5,30,0,1,400.3,773.7A2.0,1.5,30,0,1,403.7,775.6ZM371.7,787.3A1.8,1.6,40,0,1,368.9,785.0A1.8,1.6,40,0,1,371.7,787.3ZM405.5,792.7A3.2,1.2,10,0,1,399.2,791.6A3.2,1.2,10,0,1,405.5,792.7ZM410.2,802.3A2.9,1.6,40,0,1,405.9,798.6A2.9,1.6,40,0,1,410.2,802.3ZM413.4,800.3A3.3,1.5,10,0,1,407.0,799.2A3.3,1.5,10,0,1,413.4,800.3Z" fill="#aab3e5" fill-opacity=".75"/><path d="M395.8,753.1A2.9,1.1,10,0,1,390.2,752.1A2.9,1.1,10,0,1,395.8,753.1ZM370.5,758.0A3.2,1.2,140,0,1,375.4,753.9A3.2,1.2,140,0,1,370.5,758.0ZM387.9,757.7A2.0,1.6,80,0,1,387.3,753.8A2.0,1.6,80,0,1,387.9,757.7ZM373.0,760.5A3.0,1.8,0,0,1,366.9,760.5A3.0,1.8,0,0,1,373.0,760.5ZM397.0,762.0A1.9,1.7,0,0,1,393.2,762.0A1.9,1.7,0,0,1,397.0,762.0ZM399.8,773.4A1.8,1.2,150,0,1,403.0,771.6A1.8,1.2,150,0,1,399.8,773.4ZM396.0,792.4A2.5,1.9,170,0,1,400.8,791.6A2.5,1.9,170,0,1,396.0,792.4ZM423.5,804.8A3.1,1.2,30,0,1,418.2,801.7A3.1,1.2,30,0,1,423.5,804.8Z" fill="#8c99db" fill-opacity=".9"/><path d="M405.4,753.4A2.1,1.9,30,0,1,401.8,751.3A2.1,1.9,30,0,1,405.4,753.4ZM424.1,760.5A3.2,1.5,70,0,1,421.9,754.5A3.2,1.5,70,0,1,424.1,760.5ZM364.5,763.3A3.0,1.4,80,0,1,363.5,757.5A3.0,1.4,80,0,1,364.5,763.3ZM403.9,769.5A2.5,1.1,80,0,1,403.1,764.6A2.5,1.1,80,0,1,403.9,769.5ZM411.7,783.9A2.8,1.9,90,0,1,411.7,778.2A2.8,1.9,90,0,1,411.7,783.9ZM374.4,788.3A2.0,1.8,100,0,1,375.1,784.3A2.0,1.8,100,0,1,374.4,788.3ZM396.0,796.5A2.4,1.5,30,0,1,391.9,794.1A2.4,1.5,30,0,1,396.0,796.5ZM372.9,801.5A3.0,1.3,60,0,1,369.9,796.2A3.0,1.3,60,0,1,372.9,801.5Z" fill="#a6b0e4" fill-opacity=".75"/><path d="M408.1,753.6A2.3,1.2,60,0,1,405.9,749.7A2.3,1.2,60,0,1,408.1,753.6ZM409.4,761.1A2.0,1.3,70,0,1,408.0,757.3A2.0,1.3,70,0,1,409.4,761.1ZM409.9,757.2A1.9,1.4,130,0,1,412.4,754.3A1.9,1.4,130,0,1,409.9,757.2ZM380.3,769.0A3.1,1.6,50,0,1,376.4,764.3A3.1,1.6,50,0,1,380.3,769.0ZM399.7,771.1A2.0,1.8,30,0,1,396.3,769.1A2.0,1.8,30,0,1,399.7,771.1ZM392.7,779.8A2.5,1.6,80,0,1,391.8,775.0A2.5,1.6,80,0,1,392.7,779.8ZM397.8,776.2A2.1,1.2,40,0,1,394.5,773.4A2.1,1.2,40,0,1,397.8,776.2ZM390.5,787.1A1.9,1.4,0,0,1,386.7,787.1A1.9,1.4,0,0,1,390.5,787.1ZM359.1,790.7A2.8,1.6,170,0,1,364.6,789.7A2.8,1.6,170,0,1,359.1,790.7ZM375.1,791.3A2.3,2.0,110,0,1,376.7,786.9A2.3,2.0,110,0,1,375.1,791.3ZM380.2,789.7A3.0,1.2,20,0,1,374.5,787.6A3.0,1.2,20,0,1,380.2,789.7ZM408.2,794.8A3.0,1.3,80,0,1,407.2,789.0A3.0,1.3,80,0,1,408.2,794.8ZM376.5,801.4A2.3,1.2,170,0,1,381.1,800.6A2.3,1.2,170,0,1,376.5,801.4ZM372.8,805.7A2.0,1.6,10,0,1,368.9,805.1A2.0,1.6,10,0,1,372.8,805.7Z" fill="#98a4df" fill-opacity=".85"/><path d="M419.5,753.7A3.3,1.6,40,0,1,414.5,749.5A3.3,1.6,40,0,1,419.5,753.7ZM374.2,778.8A3.1,1.2,20,0,1,368.3,776.6A3.1,1.2,20,0,1,374.2,778.8ZM393.2,783.2A1.7,1.6,70,0,1,392.1,780.0A1.7,1.6,70,0,1,393.2,783.2ZM420.0,784.6A3.0,1.6,10,0,1,414.0,783.5A3.0,1.6,10,0,1,420.0,784.6ZM371.4,810.2A3.3,1.7,150,0,1,377.1,806.9A3.3,1.7,150,0,1,371.4,810.2Z" fill="#98a4df" fill-opacity=".75"/><path d="M360.0,758.6A1.7,1.2,160,0,1,363.3,757.4A1.7,1.2,160,0,1,360.0,758.6ZM381.7,759.8A3.3,1.5,50,0,1,377.5,754.8A3.3,1.5,50,0,1,381.7,759.8ZM391.0,775.1A3.1,1.9,140,0,1,395.7,771.1A3.1,1.9,140,0,1,391.0,775.1ZM358.5,777.0A2.0,1.6,110,0,1,359.9,773.1A2.0,1.6,110,0,1,358.5,777.0ZM366.2,790.9A2.8,1.7,60,0,1,363.4,786.1A2.8,1.7,60,0,1,366.2,790.9ZM389.0,796.7A2.7,1.4,120,0,1,391.7,792.1A2.7,1.4,120,0,1,389.0,796.7ZM363.1,802.2A1.8,1.6,60,0,1,361.4,799.1A1.8,1.6,60,0,1,363.1,802.2ZM397.5,802.9A2.8,1.6,90,0,1,397.5,797.2A2.8,1.6,90,0,1,397.5,802.9ZM406.7,805.2A1.8,1.4,80,0,1,406.1,801.7A1.8,1.4,80,0,1,406.7,805.2ZM396.5,808.3A1.9,1.9,160,0,1,400.1,806.9A1.9,1.9,160,0,1,396.5,808.3Z" fill="#a6b0e4" fill-opacity=".9"/><path d="M370.5,758.6A2.3,1.1,100,0,1,371.3,754.0A2.3,1.1,100,0,1,370.5,758.6ZM406.4,756.7A2.5,1.1,20,0,1,401.7,755.0A2.5,1.1,20,0,1,406.4,756.7ZM366.1,769.9A2.9,1.9,70,0,1,364.1,764.5A2.9,1.9,70,0,1,366.1,769.9ZM362.7,781.0A2.4,1.2,150,0,1,366.8,778.6A2.4,1.2,150,0,1,362.7,781.0ZM398.1,797.2A3.0,1.3,120,0,1,401.1,792.0A3.0,1.3,120,0,1,398.1,797.2ZM376.2,807.6A2.8,1.8,50,0,1,372.6,803.3A2.8,1.8,50,0,1,376.2,807.6ZM414.5,810.8A2.2,1.8,130,0,1,417.3,807.4A2.2,1.8,130,0,1,414.5,810.8ZM420.0,811.1A3.0,1.2,110,0,1,422.0,805.4A3.0,1.2,110,0,1,420.0,811.1Z" fill="#aab3e5" fill-opacity=".9"/><path d="M381.2,757.2A3.2,1.9,150,0,1,386.7,754.0A3.2,1.9,150,0,1,381.2,757.2ZM383.9,767.9A2.9,1.2,110,0,1,385.9,762.4A2.9,1.2,110,0,1,383.9,767.9ZM385.6,769.7A3.1,1.6,0,0,1,379.3,769.7A3.1,1.6,0,0,1,385.6,769.7ZM362.1,796.9A1.7,1.7,20,0,1,358.8,795.7A1.7,1.7,20,0,1,362.1,796.9ZM363.7,801.2A2.4,1.9,90,0,1,363.7,796.4A2.4,1.9,90,0,1,363.7,801.2ZM385.6,804.0A3.1,1.2,80,0,1,384.5,798.0A3.1,1.2,80,0,1,385.6,804.0ZM377.0,805.3A1.7,1.7,130,0,1,379.2,802.7A1.7,1.7,130,0,1,377.0,805.3ZM382.1,806.8A2.5,1.4,140,0,1,386.0,803.5A2.5,1.4,140,0,1,382.1,806.8Z" fill="#8391d8" fill-opacity=".75"/><path d="M394.1,757.8A2.5,1.7,30,0,1,389.8,755.3A2.5,1.7,30,0,1,394.1,757.8ZM370.4,782.7A2.4,2.0,0,0,1,365.6,782.7A2.4,2.0,0,0,1,370.4,782.7ZM359.2,789.0A2.3,1.2,100,0,1,360.0,784.4A2.3,1.2,100,0,1,359.2,789.0ZM421.3,786.9A2.5,1.9,140,0,1,425.0,783.8A2.5,1.9,140,0,1,421.3,786.9ZM412.3,793.1A2.3,1.8,90,0,1,412.3,788.5A2.3,1.8,90,0,1,412.3,793.1ZM415.6,796.3A3.3,1.2,140,0,1,420.6,792.1A3.3,1.2,140,0,1,415.6,796.3ZM387.3,801.3A1.9,1.3,80,0,1,386.6,797.6A1.9,1.3,80,0,1,387.3,801.3ZM392.9,812.8A2.7,1.4,120,0,1,395.6,808.1A2.7,1.4,120,0,1,392.9,812.8Z" fill="#8391d8" fill-opacity=".85"/><path d="M413.8,756.9A1.8,1.9,170,0,1,417.4,756.3A1.8,1.9,170,0,1,413.8,756.9ZM397.3,763.5A2.9,1.9,100,0,1,398.3,757.8A2.9,1.9,100,0,1,397.3,763.5ZM421.9,763.9A2.4,1.9,50,0,1,418.8,760.3A2.4,1.9,50,0,1,421.9,763.9ZM373.2,776.1A2.0,1.6,170,0,1,377.1,775.4A2.0,1.6,170,0,1,373.2,776.1ZM408.5,776.8A3.2,1.1,170,0,1,414.8,775.7A3.2,1.1,170,0,1,408.5,776.8ZM386.1,781.7A2.2,1.8,170,0,1,390.5,780.9A2.2,1.8,170,0,1,386.1,781.7ZM383.0,786.9A2.8,2.0,160,0,1,388.1,785.0A2.8,2.0,160,0,1,383.0,786.9ZM379.6,796.7A2.5,1.8,40,0,1,375.8,793.5A2.5,1.8,40,0,1,379.6,796.7ZM424.7,794.4A3.1,1.6,10,0,1,418.7,793.3A3.1,1.6,10,0,1,424.7,794.4ZM404.4,800.0A3.0,1.3,10,0,1,398.5,799.0A3.0,1.3,10,0,1,404.4,800.0ZM361.8,810.5A2.8,1.5,50,0,1,358.2,806.2A2.8,1.5,50,0,1,361.8,810.5ZM408.0,811.7A2.4,1.8,80,0,1,407.2,806.9A2.4,1.8,80,0,1,408.0,811.7Z" fill="#8c99db" fill-opacity="1"/><path d="M359.2,763.6A2.2,1.2,100,0,1,360.0,759.4A2.2,1.2,100,0,1,359.2,763.6ZM401.2,769.5A2.0,1.3,40,0,1,398.2,767.0A2.0,1.3,40,0,1,401.2,769.5ZM423.0,779.1A2.6,1.3,60,0,1,420.4,774.6A2.6,1.3,60,0,1,423.0,779.1ZM361.4,807.7A2.1,1.9,100,0,1,362.1,803.6A2.1,1.9,100,0,1,361.4,807.7Z" fill="#8391d8" fill-opacity="1"/><path d="M375.1,765.5A2.1,1.6,50,0,1,372.4,762.3A2.1,1.6,50,0,1,375.1,765.5ZM412.4,765.5A1.9,1.5,0,0,1,408.6,765.5A1.9,1.5,0,0,1,412.4,765.5ZM362.8,773.5A2.3,1.8,150,0,1,366.7,771.2A2.3,1.8,150,0,1,362.8,773.5ZM363.3,777.8A3.3,1.5,90,0,1,363.3,771.2A3.3,1.5,90,0,1,363.3,777.8ZM386.8,780.2A2.6,1.9,20,0,1,381.9,778.4A2.6,1.9,20,0,1,386.8,780.2ZM418.9,780.0A3.3,1.6,0,0,1,412.4,780.0A3.3,1.6,0,0,1,418.9,780.0ZM412.4,796.7A2.8,1.8,110,0,1,414.3,791.5A2.8,1.8,110,0,1,412.4,796.7ZM389.1,803.9A3.0,1.5,160,0,1,394.7,801.9A3.0,1.5,160,0,1,389.1,803.9Z" fill="#8391d8" fill-opacity=".9"/><path d="M381.7,760.3A1.7,1.3,0,0,1,378.2,760.3A1.7,1.3,0,0,1,381.7,760.3ZM413.6,763.0A2.3,1.6,140,0,1,417.2,760.1A2.3,1.6,140,0,1,413.6,763.0ZM394.3,790.2A3.0,1.6,80,0,1,393.2,784.3A3.0,1.6,80,0,1,394.3,790.2ZM409.9,784.3A2.1,1.3,0,0,1,405.8,784.3A2.1,1.3,0,0,1,409.9,784.3ZM365.4,791.5A2.9,1.7,170,0,1,371.1,790.5A2.9,1.7,170,0,1,365.4,791.5ZM364.4,806.9A2.1,1.3,90,0,1,364.4,802.7A2.1,1.3,90,0,1,364.4,806.9ZM366.1,810.5A2.8,1.1,30,0,1,361.3,807.7A2.8,1.1,30,0,1,366.1,810.5Z" fill="#98a4df" fill-opacity=".9"/><path d="M419.9,772.0A2.5,1.7,0,0,1,414.8,772.0A2.5,1.7,0,0,1,419.9,772.0ZM407.1,778.0A2.4,1.7,80,0,1,406.3,773.4A2.4,1.7,80,0,1,407.1,778.0ZM404.3,783.4A2.9,1.5,120,0,1,407.2,778.3A2.9,1.5,120,0,1,404.3,783.4ZM398.5,786.7A2.0,1.6,10,0,1,394.4,786.0A2.0,1.6,10,0,1,398.5,786.7ZM383.8,793.3A2.5,1.2,120,0,1,386.3,789.1A2.5,1.2,120,0,1,383.8,793.3ZM391.4,790.3A2.9,1.6,160,0,1,396.8,788.3A2.9,1.6,160,0,1,391.4,790.3ZM423.4,804.0A2.8,1.4,60,0,1,420.6,799.1A2.8,1.4,60,0,1,423.4,804.0Z" fill="#a6b0e4" fill-opacity="1"/><path d="M390.7,776.3A2.0,1.8,20,0,1,386.9,774.9A2.0,1.8,20,0,1,390.7,776.3ZM377.3,782.0A2.6,1.8,170,0,1,382.4,781.1A2.6,1.8,170,0,1,377.3,782.0ZM422.4,783.9A1.7,2.0,120,0,1,424.1,781.0A1.7,2.0,120,0,1,422.4,783.9ZM378.8,796.4A3.3,1.2,10,0,1,372.4,795.2A3.3,1.2,10,0,1,378.8,796.4Z" fill="#8c99db" fill-opacity=".75"/><ellipse cx="410.8" cy="754.5" rx="1.6" ry="1.2" fill="#5e1e24" fill-opacity="0.8"/><ellipse cx="405.2" cy="796.7" rx="1.5" ry="1.2" fill="#6a2028" fill-opacity="0.8"/></g></g>
<rect x="358" y="750.4" width="61.6" height="60" fill="none" stroke="#666" stroke-width="1"/>
<g clip-path="url(#mc10)"><rect x="28.2" y="816" width="61.6" height="63.6" fill="#f6f1ef"/><g filter="url(#sb)"><path d="M39.9,821.3A2.6,1.6,40,0,1,36.0,818.0A2.6,1.6,40,0,1,39.9,821.3ZM50.2,821.5A3.2,1.3,50,0,1,46.1,816.6A3.2,1.3,50,0,1,50.2,821.5ZM30.9,824.3A1.7,1.8,60,0,1,29.2,821.3A1.7,1.8,60,0,1,30.9,824.3ZM45.1,824.7A1.9,1.3,40,0,1,42.1,822.2A1.9,1.3,40,0,1,45.1,824.7ZM70.3,830.7A1.8,1.7,150,0,1,73.4,828.9A1.8,1.7,150,0,1,70.3,830.7ZM83.7,838.5A2.6,1.6,150,0,1,88.1,835.9A2.6,1.6,150,0,1,83.7,838.5ZM40.8,849.2A2.6,1.4,50,0,1,37.4,845.2A2.6,1.4,50,0,1,40.8,849.2ZM73.9,851.7A2.0,1.1,120,0,1,75.9,848.3A2.0,1.1,120,0,1,73.9,851.7ZM38.6,852.4A2.0,1.3,170,0,1,42.6,851.7A2.0,1.3,170,0,1,38.6,852.4ZM71.7,857.9A2.4,1.5,30,0,1,67.6,855.4A2.4,1.5,30,0,1,71.7,857.9ZM62.3,870.0A3.2,1.4,70,0,1,60.1,864.0A3.2,1.4,70,0,1,62.3,870.0ZM72.7,873.2A1.8,2.0,90,0,1,72.7,869.6A1.8,2.0,90,0,1,72.7,873.2ZM85.1,873.5A2.3,1.2,90,0,1,85.1,868.9A2.3,1.2,90,0,1,85.1,873.5ZM48.2,876.6A2.9,1.4,90,0,1,48.2,870.7A2.9,1.4,90,0,1,48.2,876.6ZM62.5,873.8A2.6,1.9,10,0,1,57.4,872.9A2.6,1.9,10,0,1,62.5,873.8Z" fill="#98a4df" fill-opacity=".9"/><path d="M44.9,818.4A2.7,1.9,50,0,1,41.4,814.2A2.7,1.9,50,0,1,44.9,818.4ZM71.8,818.3A2.3,1.2,140,0,1,75.3,815.4A2.3,1.2,140,0,1,71.8,818.3ZM35.8,823.3A1.7,1.2,60,0,1,34.1,820.3A1.7,1.2,60,0,1,35.8,823.3ZM82.2,826.5A3.1,2.0,150,0,1,87.6,823.4A3.1,2.0,150,0,1,82.2,826.5ZM87.4,836.4A3.0,1.4,120,0,1,90.4,831.2A3.0,1.4,120,0,1,87.4,836.4ZM39.0,837.9A2.8,1.1,0,0,1,33.5,837.9A2.8,1.1,0,0,1,39.0,837.9ZM47.0,840.7A2.8,1.8,80,0,1,46.1,835.2A2.8,1.8,80,0,1,47.0,840.7ZM43.3,844.2A3.0,1.6,10,0,1,37.4,843.1A3.0,1.6,10,0,1,43.3,844.2ZM29.2,855.2A3.3,1.4,110,0,1,31.5,849.0A3.3,1.4,110,0,1,29.2,855.2ZM46.2,855.2A3.0,1.6,60,0,1,43.2,850.0A3.0,1.6,60,0,1,46.2,855.2ZM57.0,880.8A2.2,1.1,150,0,1,60.8,878.6A2.2,1.1,150,0,1,57.0,880.8Z" fill="#8c99db" fill-opacity=".85"/><path d="M54.2,821.6A2.7,1.3,40,0,1,50.2,818.2A2.7,1.3,40,0,1,54.2,821.6ZM68.1,820.5A1.9,1.3,90,0,1,68.1,816.7A1.9,1.3,90,0,1,68.1,820.5ZM62.7,824.1A3.3,1.5,60,0,1,59.4,818.5A3.3,1.5,60,0,1,62.7,824.1ZM67.7,832.4A3.1,1.8,120,0,1,70.8,827.1A3.1,1.8,120,0,1,67.7,832.4ZM50.0,842.4A2.1,1.3,120,0,1,52.1,838.8A2.1,1.3,120,0,1,50.0,842.4ZM74.3,842.5A2.5,1.3,60,0,1,71.8,838.2A2.5,1.3,60,0,1,74.3,842.5ZM75.8,841.2A1.9,1.3,110,0,1,77.1,837.7A1.9,1.3,110,0,1,75.8,841.2ZM61.2,850.0A2.1,1.5,100,0,1,61.9,845.9A2.1,1.5,100,0,1,61.2,850.0ZM73.4,868.3A2.9,1.5,120,0,1,76.4,863.2A2.9,1.5,120,0,1,73.4,868.3ZM64.9,879.4A2.9,1.4,80,0,1,63.9,873.7A2.9,1.4,80,0,1,64.9,879.4ZM69.6,881.0A2.4,1.5,30,0,1,65.5,878.6A2.4,1.5,30,0,1,69.6,881.0Z" fill="#a6b0e4" fill-opacity=".9"/><path d="M54.1,821.2A2.0,1.3,140,0,1,57.1,818.6A2.0,1.3,140,0,1,54.1,821.2ZM69.7,823.9A2.3,1.9,60,0,1,67.4,819.8A2.3,1.9,60,0,1,69.7,823.9ZM33.2,832.6A2.8,1.9,50,0,1,29.6,828.3A2.8,1.9,50,0,1,33.2,832.6ZM60.1,833.8A2.1,1.7,120,0,1,62.1,830.2A2.1,1.7,120,0,1,60.1,833.8ZM58.1,837.9A2.6,1.7,30,0,1,53.5,835.2A2.6,1.7,30,0,1,58.1,837.9ZM40.3,840.0A3.2,1.8,150,0,1,45.9,836.8A3.2,1.8,150,0,1,40.3,840.0ZM92.0,860.1A2.9,1.9,80,0,1,91.0,854.3A2.9,1.9,80,0,1,92.0,860.1ZM66.8,867.1A2.0,1.7,40,0,1,63.6,864.4A2.0,1.7,40,0,1,66.8,867.1ZM36.4,873.2A2.8,1.3,10,0,1,30.9,872.2A2.8,1.3,10,0,1,36.4,873.2ZM46.0,877.0A3.0,1.4,20,0,1,40.3,874.9A3.0,1.4,20,0,1,46.0,877.0Z" fill="#aab3e5" fill-opacity=".9"/><path d="M60.9,819.6A2.0,2.0,110,0,1,62.3,815.7A2.0,2.0,110,0,1,60.9,819.6ZM61.4,821.0A2.1,2.0,140,0,1,64.6,818.3A2.1,2.0,140,0,1,61.4,821.0ZM66.7,825.4A2.2,1.4,60,0,1,64.5,821.6A2.2,1.4,60,0,1,66.7,825.4ZM40.5,830.5A2.2,1.1,30,0,1,36.7,828.3A2.2,1.1,30,0,1,40.5,830.5ZM33.2,835.5A2.5,1.8,40,0,1,29.4,832.3A2.5,1.8,40,0,1,33.2,835.5ZM50.4,852.2A2.7,1.4,130,0,1,53.9,848.0A2.7,1.4,130,0,1,50.4,852.2ZM41.7,861.9A3.1,1.3,40,0,1,37.0,857.9A3.1,1.3,40,0,1,41.7,861.9ZM41.1,881.1A3.2,1.6,30,0,1,35.6,877.9A3.2,1.6,30,0,1,41.1,881.1ZM90.3,879.8A2.1,1.8,160,0,1,94.3,878.3A2.1,1.8,160,0,1,90.3,879.8Z" fill="#8391d8" fill-opacity="1"/><path d="M87.1,818.6A2.4,2.0,100,0,1,87.9,814.0A2.4,2.0,100,0,1,87.1,818.6ZM79.1,822.9A2.2,1.8,100,0,1,79.8,818.6A2.2,1.8,100,0,1,79.1,822.9ZM89.7,828.0A1.7,1.8,140,0,1,92.3,825.8A1.7,1.8,140,0,1,89.7,828.0ZM40.9,836.0A2.7,1.4,140,0,1,45.1,832.5A2.7,1.4,140,0,1,40.9,836.0ZM49.8,836.8A3.2,1.6,160,0,1,55.9,834.6A3.2,1.6,160,0,1,49.8,836.8ZM85.5,836.4A2.7,1.4,0,0,1,80.1,836.4A2.7,1.4,0,0,1,85.5,836.4ZM70.3,847.8A2.4,1.9,120,0,1,72.7,843.7A2.4,1.9,120,0,1,70.3,847.8ZM88.3,851.1A2.9,1.5,70,0,1,86.3,845.6A2.9,1.5,70,0,1,88.3,851.1ZM49.1,861.5A2.3,1.8,70,0,1,47.6,857.2A2.3,1.8,70,0,1,49.1,861.5ZM83.1,877.9A2.5,1.6,150,0,1,87.5,875.4A2.5,1.6,150,0,1,83.1,877.9Z" fill="#a6b0e4" fill-opacity=".85"/><path d="M93.2,819.1A3.3,1.9,40,0,1,88.2,814.9A3.3,1.9,40,0,1,93.2,819.1ZM66.6,842.9A3.3,1.7,150,0,1,72.3,839.7A3.3,1.7,150,0,1,66.6,842.9ZM53.8,858.7A3.2,1.5,70,0,1,51.6,852.6A3.2,1.5,70,0,1,53.8,858.7ZM47.8,866.8A2.4,1.4,90,0,1,47.8,861.9A2.4,1.4,90,0,1,47.8,866.8ZM79.7,873.0A1.9,1.7,60,0,1,77.8,869.8A1.9,1.7,60,0,1,79.7,873.0ZM89.2,870.2A2.1,1.8,150,0,1,92.8,868.1A2.1,1.8,150,0,1,89.2,870.2ZM48.7,876.1A2.1,1.8,140,0,1,51.9,873.4A2.1,1.8,140,0,1,48.7,876.1Z" fill="#98a4df" fill-opacity=".75"/><path d="M37.1,823.2A2.2,2.0,90,0,1,37.1,818.8A2.2,2.0,90,0,1,37.1,823.2ZM32.5,835.2A2.9,1.3,110,0,1,34.5,829.7A2.9,1.3,110,0,1,32.5,835.2ZM37.6,835.7A2.6,1.3,10,0,1,32.6,834.8A2.6,1.3,10,0,1,37.6,835.7ZM68.1,835.7A2.5,1.4,40,0,1,64.2,832.5A2.5,1.4,40,0,1,68.1,835.7ZM43.6,850.4A1.9,1.4,110,0,1,44.9,846.9A1.9,1.4,110,0,1,43.6,850.4ZM85.6,858.2A2.5,1.8,70,0,1,83.9,853.5A2.5,1.8,70,0,1,85.6,858.2ZM29.4,863.6A2.7,1.7,150,0,1,34.0,860.9A2.7,1.7,150,0,1,29.4,863.6ZM74.1,865.0A2.9,1.8,80,0,1,73.1,859.3A2.9,1.8,80,0,1,74.1,865.0ZM28.5,871.1A2.5,1.5,90,0,1,28.5,866.1A2.5,1.5,90,0,1,28.5,871.1ZM60.0,870.8A2.8,1.8,140,0,1,64.2,867.3A2.8,1.8,140,0,1,60.0,870.8ZM84.0,880.8A2.0,1.7,50,0,1,81.5,877.8A2.0,1.7,50,0,1,84.0,880.8Z" fill="#8c99db" fill-opacity="1"/><path d="M47.8,824.2A2.4,1.6,130,0,1,50.9,820.5A2.4,1.6,130,0,1,47.8,824.2ZM32.3,847.3A2.8,1.2,140,0,1,36.5,843.7A2.8,1.2,140,0,1,32.3,847.3ZM48.2,845.5A2.7,1.1,50,0,1,44.8,841.4A2.7,1.1,50,0,1,48.2,845.5ZM58.4,846.3A3.0,2.0,110,0,1,60.5,840.7A3.0,2.0,110,0,1,58.4,846.3ZM89.7,845.0A2.7,1.2,140,0,1,93.8,841.5A2.7,1.2,140,0,1,89.7,845.0ZM73.8,853.8A2.0,1.7,60,0,1,71.8,850.3A2.0,1.7,60,0,1,73.8,853.8ZM32.5,860.1A2.2,1.8,120,0,1,34.7,856.4A2.2,1.8,120,0,1,32.5,860.1ZM40.5,863.2A2.0,1.5,150,0,1,43.9,861.2A2.0,1.5,150,0,1,40.5,863.2ZM38.0,869.0A3.2,1.3,20,0,1,31.9,866.8A3.2,1.3,20,0,1,38.0,869.0ZM50.7,870.8A2.4,1.8,150,0,1,54.8,868.4A2.4,1.8,150,0,1,50.7,870.8ZM78.5,873.5A2.4,1.6,10,0,1,73.7,872.6A2.4,1.6,10,0,1,78.5,873.5Z" fill="#8391d8" fill-opacity=".75"/><path d="M53.6,824.2A2.6,2.0,90,0,1,53.6,819.0A2.6,2.0,90,0,1,53.6,824.2ZM80.6,827.9A1.9,1.2,150,0,1,83.9,826.0A1.9,1.2,150,0,1,80.6,827.9ZM64.5,842.1A2.5,1.2,150,0,1,68.8,839.5A2.5,1.2,150,0,1,64.5,842.1ZM87.7,846.0A3.0,1.5,10,0,1,81.7,844.9A3.0,1.5,10,0,1,87.7,846.0ZM32.9,854.8A2.4,1.5,110,0,1,34.5,850.4A2.4,1.5,110,0,1,32.9,854.8ZM37.9,859.3A2.0,1.3,160,0,1,41.8,857.9A2.0,1.3,160,0,1,37.9,859.3ZM83.2,865.1A3.1,1.5,130,0,1,87.2,860.3A3.1,1.5,130,0,1,83.2,865.1ZM39.8,875.4A2.3,1.5,50,0,1,36.9,871.9A2.3,1.5,50,0,1,39.8,875.4ZM57.4,877.3A1.8,1.3,70,0,1,56.1,873.9A1.8,1.3,70,0,1,57.4,877.3Z" fill="#aab3e5" fill-opacity="1"/><path d="M75.0,823.7A2.4,1.8,90,0,1,75.0,818.9A2.4,1.8,90,0,1,75.0,823.7ZM74.9,832.5A2.1,1.4,140,0,1,78.1,829.8A2.1,1.4,140,0,1,74.9,832.5ZM90.0,832.1A2.9,1.8,70,0,1,88.1,826.7A2.9,1.8,70,0,1,90.0,832.1ZM64.4,837.8A3.2,1.9,30,0,1,58.8,834.6A3.2,1.9,30,0,1,64.4,837.8ZM58.7,843.0A2.7,1.2,90,0,1,58.7,837.5A2.7,1.2,90,0,1,58.7,843.0ZM66.9,847.5A2.0,1.2,20,0,1,63.2,846.2A2.0,1.2,20,0,1,66.9,847.5ZM57.4,857.0A2.0,1.4,30,0,1,53.9,854.9A2.0,1.4,30,0,1,57.4,857.0ZM69.1,868.3A2.3,1.2,140,0,1,72.6,865.4A2.3,1.2,140,0,1,69.1,868.3ZM79.5,865.5A2.7,1.8,0,0,1,74.1,865.5A2.7,1.8,0,0,1,79.5,865.5ZM69.2,875.4A2.0,1.6,120,0,1,71.2,872.0A2.0,1.6,120,0,1,69.2,875.4ZM30.9,879.1A1.7,1.4,100,0,1,31.5,875.7A1.7,1.4,100,0,1,30.9,879.1ZM40.6,878.1A2.3,1.8,140,0,1,44.1,875.1A2.3,1.8,140,0,1,40.6,878.1ZM76.3,878.7A2.3,1.2,60,0,1,74.1,874.8A2.3,1.2,60,0,1,76.3,878.7Z" fill="#aab3e5" fill-opacity=".75"/><path d="M82.7,822.9A1.9,1.6,40,0,1,79.9,820.5A1.9,1.6,40,0,1,82.7,822.9ZM36.1,830.0A3.1,1.4,50,0,1,32.1,825.2A3.1,1.4,50,0,1,36.1,830.0ZM57.3,848.1A2.4,1.4,30,0,1,53.1,845.8A2.4,1.4,30,0,1,57.3,848.1ZM72.8,859.7A2.2,1.2,60,0,1,70.6,855.9A2.2,1.2,60,0,1,72.8,859.7ZM53.9,867.9A1.7,1.4,60,0,1,52.2,864.9A1.7,1.4,60,0,1,53.9,867.9Z" fill="#a6b0e4" fill-opacity=".75"/><path d="M83.9,823.0A2.1,1.2,150,0,1,87.6,820.9A2.1,1.2,150,0,1,83.9,823.0ZM67.0,827.0A3.0,1.2,40,0,1,62.3,823.1A3.0,1.2,40,0,1,67.0,827.0ZM44.1,834.3A2.9,1.9,130,0,1,47.9,829.8A2.9,1.9,130,0,1,44.1,834.3ZM36.5,838.7A2.2,1.1,120,0,1,38.7,834.9A2.2,1.1,120,0,1,36.5,838.7ZM82.1,840.6A1.8,1.9,30,0,1,78.9,838.8A1.8,1.9,30,0,1,82.1,840.6ZM83.3,840.5A2.7,1.2,170,0,1,88.5,839.6A2.7,1.2,170,0,1,83.3,840.5ZM66.2,845.8A3.2,1.1,130,0,1,70.4,840.9A3.2,1.1,130,0,1,66.2,845.8ZM32.4,848.5A2.1,1.6,120,0,1,34.6,844.8A2.1,1.6,120,0,1,32.4,848.5ZM45.8,854.5A1.8,2.0,100,0,1,46.5,851.0A1.8,2.0,100,0,1,45.8,854.5ZM53.6,866.2A2.9,1.2,140,0,1,58.0,862.5A2.9,1.2,140,0,1,53.6,866.2ZM43.4,874.4A3.2,1.9,120,0,1,46.5,868.9A3.2,1.9,120,0,1,43.4,874.4ZM73.6,875.8A2.5,1.7,130,0,1,76.8,872.0A2.5,1.7,130,0,1,73.6,875.8Z" fill="#8391d8" fill-opacity=".9"/><path d="M45.7,829.7A3.2,1.9,100,0,1,46.8,823.4A3.2,1.9,100,0,1,45.7,829.7ZM76.4,828.7A1.7,2.0,90,0,1,76.4,825.2A1.7,2.0,90,0,1,76.4,828.7ZM30.4,842.9A2.7,2.0,110,0,1,32.2,837.8A2.7,2.0,110,0,1,30.4,842.9ZM75.3,863.6A2.0,1.5,110,0,1,76.6,859.9A2.0,1.5,110,0,1,75.3,863.6ZM35.5,867.2A2.7,1.2,0,0,1,30.2,867.2A2.7,1.2,0,0,1,35.5,867.2ZM48.9,873.8A2.9,1.9,70,0,1,46.9,868.3A2.9,1.9,70,0,1,48.9,873.8Z" fill="#8c99db" fill-opacity=".9"/><path d="M58.3,828.7A2.8,1.7,100,0,1,59.3,823.1A2.8,1.7,100,0,1,58.3,828.7ZM54.0,835.0A3.1,1.9,80,0,1,53.0,829.0A3.1,1.9,80,0,1,54.0,835.0ZM43.1,845.7A2.3,1.8,60,0,1,40.8,841.7A2.3,1.8,60,0,1,43.1,845.7ZM54.2,843.4A1.8,1.9,30,0,1,51.0,841.6A1.8,1.9,30,0,1,54.2,843.4ZM80.6,852.1A2.9,1.5,130,0,1,84.4,847.7A2.9,1.5,130,0,1,80.6,852.1ZM91.7,853.7A2.3,1.5,100,0,1,92.5,849.2A2.3,1.5,100,0,1,91.7,853.7ZM80.6,863.2A3.2,1.7,120,0,1,83.8,857.6A3.2,1.7,120,0,1,80.6,863.2ZM81.4,873.1A2.1,1.9,60,0,1,79.3,869.4A2.1,1.9,60,0,1,81.4,873.1ZM84.0,875.7A2.6,1.2,100,0,1,85.0,870.5A2.6,1.2,100,0,1,84.0,875.7ZM49.1,879.9A2.9,1.5,140,0,1,53.5,876.2A2.9,1.5,140,0,1,49.1,879.9Z" fill="#8391d8" fill-opacity=".85"/><path d="M68.3,826.2A2.5,2.0,160,0,1,73.0,824.5A2.5,2.0,160,0,1,68.3,826.2ZM80.2,833.8A3.2,1.1,160,0,1,86.2,831.6A3.2,1.1,160,0,1,80.2,833.8ZM31.0,846.4A1.9,1.3,70,0,1,29.7,842.8A1.9,1.3,70,0,1,31.0,846.4ZM48.8,850.4A3.0,1.9,40,0,1,44.3,846.6A3.0,1.9,40,0,1,48.8,850.4ZM80.8,848.9A2.8,1.1,40,0,1,76.4,845.3A2.8,1.1,40,0,1,80.8,848.9ZM87.8,855.5A1.9,1.4,60,0,1,85.9,852.2A1.9,1.4,60,0,1,87.8,855.5ZM63.8,871.4A2.6,1.6,70,0,1,62.0,866.5A2.6,1.6,70,0,1,63.8,871.4ZM67.8,873.1A2.1,1.8,110,0,1,69.2,869.3A2.1,1.8,110,0,1,67.8,873.1ZM84.4,877.6A2.8,1.7,50,0,1,80.7,873.2A2.8,1.7,50,0,1,84.4,877.6ZM33.6,882.4A3.3,1.8,90,0,1,33.6,875.9A3.3,1.8,90,0,1,33.6,882.4Z" fill="#a6b0e4" fill-opacity="1"/><path d="M74.2,828.7A2.0,1.4,60,0,1,72.2,825.3A2.0,1.4,60,0,1,74.2,828.7ZM58.6,832.0A3.1,1.6,30,0,1,53.2,828.9A3.1,1.6,30,0,1,58.6,832.0ZM88.9,834.0A2.1,1.6,60,0,1,86.8,830.4A2.1,1.6,60,0,1,88.9,834.0ZM67.8,854.4A3.1,1.6,60,0,1,64.6,848.9A3.1,1.6,60,0,1,67.8,854.4ZM44.5,858.9A1.9,1.9,80,0,1,43.8,855.1A1.9,1.9,80,0,1,44.5,858.9ZM64.4,857.0A1.8,1.2,140,0,1,67.1,854.7A1.8,1.2,140,0,1,64.4,857.0ZM34.3,865.1A2.2,1.8,90,0,1,34.3,860.7A2.2,1.8,90,0,1,34.3,865.1ZM73.1,861.5A2.4,1.1,20,0,1,68.6,859.9A2.4,1.1,20,0,1,73.1,861.5ZM86.9,860.6A1.9,1.2,170,0,1,90.6,860.0A1.9,1.2,170,0,1,86.9,860.6ZM88.6,867.8A2.4,1.5,30,0,1,84.5,865.4A2.4,1.5,30,0,1,88.6,867.8ZM87.9,874.9A1.8,1.1,120,0,1,89.7,871.8A1.8,1.1,120,0,1,87.9,874.9Z" fill="#98a4df" fill-opacity=".85"/><path d="M45.7,833.0A2.5,1.5,60,0,1,43.2,828.6A2.5,1.5,60,0,1,45.7,833.0ZM45.7,836.6A2.3,1.2,170,0,1,50.1,835.8A2.3,1.2,170,0,1,45.7,836.6ZM40.2,842.0A2.0,1.8,50,0,1,37.6,838.8A2.0,1.8,50,0,1,40.2,842.0ZM32.4,860.3A2.3,1.9,70,0,1,30.8,855.9A2.3,1.9,70,0,1,32.4,860.3ZM45.4,859.4A2.8,1.4,120,0,1,48.2,854.5A2.8,1.4,120,0,1,45.4,859.4ZM38.7,867.9A3.3,1.4,110,0,1,41.0,861.8A3.3,1.4,110,0,1,38.7,867.9Z" fill="#8c99db" fill-opacity=".75"/><path d="M66.9,830.7A2.0,1.6,10,0,1,63.0,830.1A2.0,1.6,10,0,1,66.9,830.7ZM79.5,847.2A2.8,2.0,40,0,1,75.2,843.6A2.8,2.0,40,0,1,79.5,847.2ZM53.8,853.7A2.7,1.5,140,0,1,58.0,850.2A2.7,1.5,140,0,1,53.8,853.7ZM80.7,855.3A2.7,1.3,100,0,1,81.7,849.9A2.7,1.3,100,0,1,80.7,855.3ZM49.8,862.4A1.8,1.7,130,0,1,52.1,859.6A1.8,1.7,130,0,1,49.8,862.4ZM64.7,861.5A2.3,1.1,110,0,1,66.3,857.1A2.3,1.1,110,0,1,64.7,861.5ZM31.6,865.8A3.0,2.0,30,0,1,26.5,862.8A3.0,2.0,30,0,1,31.6,865.8ZM41.1,869.7A2.9,1.9,120,0,1,43.9,864.7A2.9,1.9,120,0,1,41.1,869.7ZM27.8,876.9A2.3,1.2,110,0,1,29.4,872.6A2.3,1.2,110,0,1,27.8,876.9Z" fill="#aab3e5" fill-opacity=".85"/><path d="M78.4,837.4A2.3,1.5,50,0,1,75.5,833.9A2.3,1.5,50,0,1,78.4,837.4ZM52.2,844.7A2.8,1.5,160,0,1,57.4,842.8A2.8,1.5,160,0,1,52.2,844.7ZM66.8,842.5A2.0,1.4,0,0,1,62.7,842.5A2.0,1.4,0,0,1,66.8,842.5ZM81.4,844.7A2.4,1.4,110,0,1,83.1,840.2A2.4,1.4,110,0,1,81.4,844.7ZM71.1,850.4A2.5,1.8,70,0,1,69.4,845.8A2.5,1.8,70,0,1,71.1,850.4ZM51.0,851.5A2.0,2.0,160,0,1,54.7,850.2A2.0,2.0,160,0,1,51.0,851.5ZM60.0,862.0A2.2,1.8,170,0,1,64.3,861.3A2.2,1.8,170,0,1,60.0,862.0ZM68.7,875.2A2.9,1.2,0,0,1,62.8,875.2A2.9,1.2,0,0,1,68.7,875.2Z" fill="#98a4df" fill-opacity="1"/><ellipse cx="39.6" cy="820.9" rx="2.8" ry="1.7" fill="#c89070" fill-opacity="0.22"/><ellipse cx="43.8" cy="875.2" rx="3.4" ry="2.0" fill="#c89070" fill-opacity="0.22"/><ellipse cx="86.5" cy="871.4" rx="3.1" ry="2.5" fill="#c89070" fill-opacity="0.22"/><ellipse cx="33.2" cy="868.1" rx="2.6" ry="2.0" fill="#c89070" fill-opacity="0.22"/><ellipse cx="61.5" cy="872.4" rx="2.3" ry="1.8" fill="#8a5036" fill-opacity="0.8"/><ellipse cx="56.2" cy="869.5" rx="1.4" ry="1.0" fill="#9a6040" fill-opacity="0.8"/><ellipse cx="35.5" cy="844.4" rx="1.6" ry="1.2" fill="#8a5036" fill-opacity="0.8"/><ellipse cx="38.0" cy="821.1" rx="1.4" ry="1.0" fill="#a8704e" fill-opacity="0.8"/><ellipse cx="60.4" cy="843.3" rx="2.2" ry="1.7" fill="#9a6040" fill-opacity="0.8"/></g></g>
<rect x="28.2" y="816" width="61.6" height="63.6" fill="none" stroke="#666" stroke-width="1"/>
<g clip-path="url(#mc11)"><rect x="93.5" y="816" width="61.6" height="63.6" fill="#efe3d8"/><g filter="url(#sb)"><path d="M95.6,820.6A2.1,1.8,120,0,1,97.7,817.0A2.1,1.8,120,0,1,95.6,820.6ZM98.6,822.1A1.8,1.5,160,0,1,102.1,820.8A1.8,1.5,160,0,1,98.6,822.1ZM144.2,825.4A3.2,1.3,60,0,1,140.9,819.8A3.2,1.3,60,0,1,144.2,825.4ZM124.1,825.9A2.5,1.2,0,0,1,119.1,825.9A2.5,1.2,0,0,1,124.1,825.9ZM145.4,827.9A1.8,1.9,50,0,1,143.1,825.1A1.8,1.9,50,0,1,145.4,827.9ZM136.3,835.8A2.1,1.3,110,0,1,137.7,831.9A2.1,1.3,110,0,1,136.3,835.8ZM102.9,847.9A2.8,1.9,80,0,1,101.9,842.5A2.8,1.9,80,0,1,102.9,847.9ZM154.0,847.0A2.7,1.2,140,0,1,158.1,843.6A2.7,1.2,140,0,1,154.0,847.0ZM114.2,850.8A2.8,1.8,30,0,1,109.4,848.1A2.8,1.8,30,0,1,114.2,850.8ZM116.2,850.4A2.4,1.3,80,0,1,115.3,845.7A2.4,1.3,80,0,1,116.2,850.4ZM117.6,858.7A1.8,2.0,120,0,1,119.4,855.7A1.8,2.0,120,0,1,117.6,858.7ZM122.4,867.5A2.7,1.3,160,0,1,127.4,865.7A2.7,1.3,160,0,1,122.4,867.5ZM107.4,868.5A3.0,1.1,10,0,1,101.4,867.5A3.0,1.1,10,0,1,107.4,868.5ZM134.9,871.1A2.2,1.7,150,0,1,138.7,868.9A2.2,1.7,150,0,1,134.9,871.1ZM101.6,872.8A2.4,1.8,10,0,1,96.9,872.0A2.4,1.8,10,0,1,101.6,872.8ZM120.5,879.4A1.9,1.5,60,0,1,118.7,876.1A1.9,1.5,60,0,1,120.5,879.4ZM149.7,880.6A2.6,1.1,150,0,1,154.3,877.9A2.6,1.1,150,0,1,149.7,880.6Z" fill="#a6b0e4" fill-opacity=".85"/><path d="M103.7,818.1A2.2,1.7,30,0,1,99.9,816.0A2.2,1.7,30,0,1,103.7,818.1ZM133.0,821.4A1.7,1.9,110,0,1,134.2,818.2A1.7,1.9,110,0,1,133.0,821.4ZM154.3,826.2A2.4,1.9,110,0,1,156.0,821.6A2.4,1.9,110,0,1,154.3,826.2ZM109.0,828.9A1.8,1.4,60,0,1,107.2,825.8A1.8,1.4,60,0,1,109.0,828.9ZM115.5,828.4A3.0,1.9,60,0,1,112.5,823.2A3.0,1.9,60,0,1,115.5,828.4ZM131.3,831.6A2.9,1.4,170,0,1,137.1,830.5A2.9,1.4,170,0,1,131.3,831.6ZM144.4,838.0A2.4,1.4,0,0,1,139.5,838.0A2.4,1.4,0,0,1,144.4,838.0ZM141.3,842.6A3.1,1.7,10,0,1,135.2,841.6A3.1,1.7,10,0,1,141.3,842.6ZM115.9,858.0A2.9,1.5,60,0,1,113.0,853.0A2.9,1.5,60,0,1,115.9,858.0ZM119.1,869.7A3.3,1.3,60,0,1,115.9,864.1A3.3,1.3,60,0,1,119.1,869.7ZM154.3,868.9A1.9,1.2,60,0,1,152.5,865.6A1.9,1.2,60,0,1,154.3,868.9ZM119.3,874.4A2.6,1.9,130,0,1,122.7,870.4A2.6,1.9,130,0,1,119.3,874.4Z" fill="#aab3e5" fill-opacity=".85"/><path d="M105.9,818.9A2.6,1.8,40,0,1,101.9,815.5A2.6,1.8,40,0,1,105.9,818.9ZM103.6,827.3A3.2,1.3,90,0,1,103.6,821.0A3.2,1.3,90,0,1,103.6,827.3ZM101.4,840.3A2.4,1.2,90,0,1,101.4,835.4A2.4,1.2,90,0,1,101.4,840.3ZM136.3,848.2A3.0,1.3,60,0,1,133.3,842.9A3.0,1.3,60,0,1,136.3,848.2ZM141.7,848.0A1.7,1.8,160,0,1,144.9,846.8A1.7,1.8,160,0,1,141.7,848.0ZM113.0,863.1A3.0,1.8,140,0,1,117.7,859.2A3.0,1.8,140,0,1,113.0,863.1ZM152.2,874.3A2.7,1.6,140,0,1,156.3,870.8A2.7,1.6,140,0,1,152.2,874.3ZM93.4,879.6A2.8,1.3,140,0,1,97.7,876.0A2.8,1.3,140,0,1,93.4,879.6Z" fill="#a6b0e4" fill-opacity=".75"/><path d="M116.5,818.0A2.0,1.5,10,0,1,112.5,817.4A2.0,1.5,10,0,1,116.5,818.0ZM124.7,824.0A2.5,1.5,150,0,1,129.1,821.4A2.5,1.5,150,0,1,124.7,824.0ZM108.5,840.4A2.1,1.7,70,0,1,107.1,836.5A2.1,1.7,70,0,1,108.5,840.4ZM132.0,841.7A3.2,1.2,70,0,1,129.9,835.8A3.2,1.2,70,0,1,132.0,841.7ZM152.8,844.5A2.7,1.4,40,0,1,148.6,841.0A2.7,1.4,40,0,1,152.8,844.5ZM109.7,848.9A2.6,1.6,60,0,1,107.1,844.5A2.6,1.6,60,0,1,109.7,848.9ZM133.7,851.9A2.3,2.0,160,0,1,138.0,850.3A2.3,2.0,160,0,1,133.7,851.9ZM109.7,860.8A2.5,1.8,100,0,1,110.6,855.9A2.5,1.8,100,0,1,109.7,860.8ZM128.1,858.3A3.0,1.3,80,0,1,127.0,852.4A3.0,1.3,80,0,1,128.1,858.3ZM103.5,863.1A2.5,1.4,140,0,1,107.3,859.8A2.5,1.4,140,0,1,103.5,863.1ZM142.2,864.0A2.7,1.9,30,0,1,137.6,861.3A2.7,1.9,30,0,1,142.2,864.0ZM132.0,867.2A3.1,1.4,80,0,1,130.9,861.2A3.1,1.4,80,0,1,132.0,867.2ZM145.0,872.9A2.4,1.9,110,0,1,146.7,868.3A2.4,1.9,110,0,1,145.0,872.9ZM99.2,881.5A3.0,1.3,70,0,1,97.1,875.8A3.0,1.3,70,0,1,99.2,881.5ZM143.9,879.2A2.5,1.5,30,0,1,139.6,876.7A2.5,1.5,30,0,1,143.9,879.2Z" fill="#8391d8" fill-opacity=".85"/><path d="M120.3,819.1A2.1,1.9,30,0,1,116.6,817.0A2.1,1.9,30,0,1,120.3,819.1ZM149.8,824.3A2.0,1.9,20,0,1,146.1,822.9A2.0,1.9,20,0,1,149.8,824.3ZM120.8,841.3A2.5,1.9,80,0,1,119.9,836.3A2.5,1.9,80,0,1,120.8,841.3ZM109.0,867.3A1.7,1.9,40,0,1,106.3,865.1A1.7,1.9,40,0,1,109.0,867.3ZM129.8,878.5A2.9,1.5,160,0,1,135.2,876.5A2.9,1.5,160,0,1,129.8,878.5Z" fill="#8391d8" fill-opacity="1"/><path d="M121.1,817.4A2.2,1.2,150,0,1,124.8,815.2A2.2,1.2,150,0,1,121.1,817.4ZM139.6,817.7A2.8,1.3,20,0,1,134.3,815.7A2.8,1.3,20,0,1,139.6,817.7ZM137.3,827.9A2.5,1.1,50,0,1,134.1,824.1A2.5,1.1,50,0,1,137.3,827.9ZM105.1,829.9A2.0,1.2,0,0,1,101.0,829.9A2.0,1.2,0,0,1,105.1,829.9ZM151.2,831.3A3.1,1.4,170,0,1,157.4,830.2A3.1,1.4,170,0,1,151.2,831.3ZM128.1,848.5A3.2,2.0,160,0,1,134.1,846.3A3.2,2.0,160,0,1,128.1,848.5ZM106.7,852.7A1.9,1.9,50,0,1,104.3,849.9A1.9,1.9,50,0,1,106.7,852.7ZM128.6,854.1A2.3,1.9,30,0,1,124.6,851.8A2.3,1.9,30,0,1,128.6,854.1ZM122.7,857.4A1.8,1.5,20,0,1,119.4,856.2A1.8,1.5,20,0,1,122.7,857.4ZM149.1,856.4A1.7,1.3,120,0,1,150.8,853.5A1.7,1.3,120,0,1,149.1,856.4ZM152.4,870.4A3.2,1.5,150,0,1,157.9,867.2A3.2,1.5,150,0,1,152.4,870.4ZM149.7,876.9A2.3,1.2,130,0,1,152.6,873.4A2.3,1.2,130,0,1,149.7,876.9Z" fill="#8391d8" fill-opacity=".75"/><path d="M125.7,819.8A2.0,1.3,60,0,1,123.6,816.2A2.0,1.3,60,0,1,125.7,819.8ZM114.2,833.4A2.2,2.0,150,0,1,118.0,831.2A2.2,2.0,150,0,1,114.2,833.4ZM147.0,847.1A3.0,1.6,100,0,1,148.1,841.2A3.0,1.6,100,0,1,147.0,847.1ZM135.0,849.1A2.2,1.3,80,0,1,134.3,844.8A2.2,1.3,80,0,1,135.0,849.1ZM153.0,858.0A2.1,1.3,140,0,1,156.2,855.3A2.1,1.3,140,0,1,153.0,858.0ZM135.2,864.7A2.4,1.9,70,0,1,133.6,860.3A2.4,1.9,70,0,1,135.2,864.7ZM141.3,864.3A1.8,1.2,160,0,1,144.6,863.1A1.8,1.2,160,0,1,141.3,864.3ZM106.8,876.9A2.8,1.8,130,0,1,110.4,872.7A2.8,1.8,130,0,1,106.8,876.9ZM114.9,874.7A1.8,1.2,20,0,1,111.5,873.5A1.8,1.2,20,0,1,114.9,874.7ZM132.9,880.2A2.5,1.9,10,0,1,128.0,879.3A2.5,1.9,10,0,1,132.9,880.2Z" fill="#aab3e5" fill-opacity="1"/><path d="M126.7,819.4A2.9,1.7,130,0,1,130.4,815.0A2.9,1.7,130,0,1,126.7,819.4ZM146.2,832.1A2.4,1.3,90,0,1,146.2,827.2A2.4,1.3,90,0,1,146.2,832.1ZM112.4,842.8A1.8,1.9,60,0,1,110.6,839.6A1.8,1.9,60,0,1,112.4,842.8ZM124.3,840.3A2.3,1.9,90,0,1,124.3,835.8A2.3,1.9,90,0,1,124.3,840.3ZM144.1,852.8A3.0,1.1,20,0,1,138.5,850.8A3.0,1.1,20,0,1,144.1,852.8ZM94.9,857.3A2.2,1.7,70,0,1,93.4,853.1A2.2,1.7,70,0,1,94.9,857.3ZM142.9,858.5A3.3,1.9,110,0,1,145.1,852.3A3.3,1.9,110,0,1,142.9,858.5ZM146.9,862.8A3.3,1.9,20,0,1,140.8,860.6A3.3,1.9,20,0,1,146.9,862.8ZM114.3,868.5A2.5,1.2,40,0,1,110.4,865.3A2.5,1.2,40,0,1,114.3,868.5ZM110.6,871.8A3.1,1.1,40,0,1,105.9,867.8A3.1,1.1,40,0,1,110.6,871.8ZM96.0,875.3A2.7,1.6,40,0,1,91.8,871.8A2.7,1.6,40,0,1,96.0,875.3ZM124.8,881.4A2.3,1.9,110,0,1,126.3,877.1A2.3,1.9,110,0,1,124.8,881.4Z" fill="#8c99db" fill-opacity=".75"/><path d="M139.1,818.0A3.2,1.6,170,0,1,145.5,816.9A3.2,1.6,170,0,1,139.1,818.0ZM100.5,829.6A2.1,1.9,70,0,1,99.1,825.6A2.1,1.9,70,0,1,100.5,829.6ZM130.6,827.8A1.7,1.8,20,0,1,127.3,826.6A1.7,1.8,20,0,1,130.6,827.8ZM111.6,835.7A2.3,1.5,110,0,1,113.2,831.4A2.3,1.5,110,0,1,111.6,835.7ZM104.0,867.4A1.8,1.9,170,0,1,107.5,866.7A1.8,1.9,170,0,1,104.0,867.4Z" fill="#98a4df" fill-opacity="1"/><path d="M151.9,817.3A2.9,1.8,0,0,1,146.1,817.3A2.9,1.8,0,0,1,151.9,817.3ZM158.6,819.4A2.6,1.5,40,0,1,154.6,816.0A2.6,1.5,40,0,1,158.6,819.4ZM109.0,830.7A2.3,1.1,20,0,1,104.7,829.2A2.3,1.1,20,0,1,109.0,830.7ZM131.6,835.7A3.1,1.7,20,0,1,125.7,833.5A3.1,1.7,20,0,1,131.6,835.7ZM142.0,837.3A3.1,1.7,130,0,1,146.0,832.5A3.1,1.7,130,0,1,142.0,837.3ZM119.9,849.8A2.9,1.9,130,0,1,123.5,845.4A2.9,1.9,130,0,1,119.9,849.8ZM147.7,848.8A1.9,1.9,40,0,1,144.8,846.4A1.9,1.9,40,0,1,147.7,848.8ZM104.9,858.4A1.9,1.4,110,0,1,106.2,854.9A1.9,1.4,110,0,1,104.9,858.4ZM129.8,872.5A2.4,1.2,70,0,1,128.2,868.0A2.4,1.2,70,0,1,129.8,872.5ZM104.2,878.6A2.8,1.3,80,0,1,103.2,873.0A2.8,1.3,80,0,1,104.2,878.6Z" fill="#a6b0e4" fill-opacity="1"/><path d="M147.5,818.7A2.9,1.8,150,0,1,152.5,815.8A2.9,1.8,150,0,1,147.5,818.7ZM95.7,831.5A3.2,1.4,70,0,1,93.5,825.4A3.2,1.4,70,0,1,95.7,831.5ZM112.9,833.0A3.2,1.9,100,0,1,114.0,826.7A3.2,1.9,100,0,1,112.9,833.0ZM123.3,836.2A1.9,1.2,120,0,1,125.1,833.0A1.9,1.2,120,0,1,123.3,836.2ZM113.8,846.8A3.1,1.4,130,0,1,117.8,842.0A3.1,1.4,130,0,1,113.8,846.8ZM158.4,852.0A2.4,1.5,70,0,1,156.8,847.5A2.4,1.5,70,0,1,158.4,852.0ZM111.8,854.7A2.7,1.5,160,0,1,117.0,852.9A2.7,1.5,160,0,1,111.8,854.7ZM124.4,869.6A2.0,1.6,170,0,1,128.3,868.9A2.0,1.6,170,0,1,124.4,869.6ZM117.5,875.5A2.3,1.3,40,0,1,114.0,872.5A2.3,1.3,40,0,1,117.5,875.5Z" fill="#8c99db" fill-opacity=".85"/><path d="M94.3,825.3A3.1,1.4,120,0,1,97.4,819.9A3.1,1.4,120,0,1,94.3,825.3ZM142.9,830.4A3.2,1.4,0,0,1,136.5,830.4A3.2,1.4,0,0,1,142.9,830.4ZM119.1,847.3A3.2,1.3,130,0,1,123.3,842.3A3.2,1.3,130,0,1,119.1,847.3ZM130.2,845.9A2.7,2.0,10,0,1,125.0,845.0A2.7,2.0,10,0,1,130.2,845.9ZM142.6,851.0A2.6,1.9,0,0,1,137.3,851.0A2.6,1.9,0,0,1,142.6,851.0ZM122.8,863.6A1.8,1.5,140,0,1,125.6,861.2A1.8,1.5,140,0,1,122.8,863.6ZM152.9,871.9A1.8,1.2,70,0,1,151.7,868.5A1.8,1.2,70,0,1,152.9,871.9ZM138.5,877.1A2.0,1.8,50,0,1,135.9,874.0A2.0,1.8,50,0,1,138.5,877.1Z" fill="#98a4df" fill-opacity=".9"/><path d="M112.2,823.0A2.6,1.7,70,0,1,110.5,818.2A2.6,1.7,70,0,1,112.2,823.0ZM135.3,841.6A2.5,1.4,50,0,1,132.1,837.8A2.5,1.4,50,0,1,135.3,841.6ZM98.5,845.2A2.9,1.4,100,0,1,99.5,839.5A2.9,1.4,100,0,1,98.5,845.2ZM115.1,846.4A1.7,1.2,50,0,1,113.0,843.8A1.7,1.2,50,0,1,115.1,846.4ZM94.1,850.8A2.8,1.8,120,0,1,96.9,846.0A2.8,1.8,120,0,1,94.1,850.8ZM137.1,875.5A2.7,1.6,0,0,1,131.7,875.5A2.7,1.6,0,0,1,137.1,875.5ZM144.9,877.3A2.1,2.0,120,0,1,146.9,873.7A2.1,2.0,120,0,1,144.9,877.3Z" fill="#8c99db" fill-opacity="1"/><path d="M113.5,824.3A2.0,1.4,150,0,1,117.0,822.2A2.0,1.4,150,0,1,113.5,824.3ZM126.0,830.0A2.9,1.4,100,0,1,127.0,824.3A2.9,1.4,100,0,1,126.0,830.0ZM105.2,842.9A2.0,1.1,110,0,1,106.6,839.0A2.0,1.1,110,0,1,105.2,842.9ZM140.0,851.5A3.1,1.6,30,0,1,134.6,848.4A3.1,1.6,30,0,1,140.0,851.5ZM112.6,855.2A3.2,1.9,20,0,1,106.5,853.0A3.2,1.9,20,0,1,112.6,855.2ZM148.4,869.1A2.6,1.2,50,0,1,145.1,865.2A2.6,1.2,50,0,1,148.4,869.1ZM115.0,870.0A2.6,1.6,40,0,1,111.1,866.7A2.6,1.6,40,0,1,115.0,870.0ZM143.5,876.5A2.0,1.4,130,0,1,146.1,873.4A2.0,1.4,130,0,1,143.5,876.5Z" fill="#98a4df" fill-opacity=".75"/><path d="M127.1,823.9A3.3,1.6,150,0,1,132.8,820.7A3.3,1.6,150,0,1,127.1,823.9ZM116.2,827.3A2.4,1.3,160,0,1,120.8,825.6A2.4,1.3,160,0,1,116.2,827.3ZM153.8,830.5A1.9,1.7,100,0,1,154.4,826.8A1.9,1.7,100,0,1,153.8,830.5ZM96.6,832.9A1.9,1.9,150,0,1,99.9,830.9A1.9,1.9,150,0,1,96.6,832.9ZM128.3,832.6A2.4,1.4,160,0,1,132.8,830.9A2.4,1.4,160,0,1,128.3,832.6ZM121.8,854.1A3.3,1.1,0,0,1,115.2,854.1A3.3,1.1,0,0,1,121.8,854.1ZM98.9,872.6A2.7,1.1,140,0,1,102.9,869.2A2.7,1.1,140,0,1,98.9,872.6ZM120.5,871.3A1.9,1.3,110,0,1,121.8,867.6A1.9,1.3,110,0,1,120.5,871.3ZM110.3,880.5A2.1,1.6,50,0,1,107.6,877.3A2.1,1.6,50,0,1,110.3,880.5Z" fill="#a6b0e4" fill-opacity=".9"/><path d="M137.9,821.7A3.1,1.7,20,0,1,132.0,819.6A3.1,1.7,20,0,1,137.9,821.7ZM92.2,834.4A3.2,1.4,170,0,1,98.4,833.3A3.2,1.4,170,0,1,92.2,834.4ZM107.4,836.2A1.8,1.7,140,0,1,110.2,833.8A1.8,1.7,140,0,1,107.4,836.2ZM148.5,837.4A2.5,1.2,170,0,1,153.3,836.5A2.5,1.2,170,0,1,148.5,837.4ZM98.2,844.3A1.9,1.3,40,0,1,95.4,841.9A1.9,1.3,40,0,1,98.2,844.3ZM140.4,860.5A3.1,1.8,70,0,1,138.3,854.6A3.1,1.8,70,0,1,140.4,860.5ZM101.5,860.3A2.4,2.0,10,0,1,96.9,859.5A2.4,2.0,10,0,1,101.5,860.3ZM128.2,864.1A2.4,1.8,100,0,1,129.1,859.4A2.4,1.8,100,0,1,128.2,864.1ZM96.7,868.7A1.8,1.1,50,0,1,94.4,866.0A1.8,1.1,50,0,1,96.7,868.7ZM99.3,869.3A2.3,1.6,90,0,1,99.3,864.6A2.3,1.6,90,0,1,99.3,869.3ZM104.8,878.9A1.9,1.3,110,0,1,106.2,875.3A1.9,1.3,110,0,1,104.8,878.9ZM116.3,882.1A2.6,1.3,50,0,1,113.0,878.1A2.6,1.3,50,0,1,116.3,882.1ZM137.2,878.0A2.3,1.8,140,0,1,140.7,875.1A2.3,1.8,140,0,1,137.2,878.0ZM146.4,879.7A2.0,1.2,170,0,1,150.3,879.0A2.0,1.2,170,0,1,146.4,879.7Z" fill="#aab3e5" fill-opacity=".9"/><path d="M137.1,824.3A1.8,1.9,120,0,1,138.9,821.1A1.8,1.9,120,0,1,137.1,824.3ZM138.3,842.9A2.6,1.9,70,0,1,136.6,838.1A2.6,1.9,70,0,1,138.3,842.9ZM99.8,849.0A2.2,1.3,90,0,1,99.8,844.7A2.2,1.3,90,0,1,99.8,849.0ZM155.9,864.6A2.1,1.6,60,0,1,153.8,861.0A2.1,1.6,60,0,1,155.9,864.6ZM134.8,867.7A2.1,1.4,170,0,1,139.0,867.0A2.1,1.4,170,0,1,134.8,867.7ZM156.2,870.3A3.1,1.4,90,0,1,156.2,864.0A3.1,1.4,90,0,1,156.2,870.3ZM128.5,874.4A1.9,1.7,50,0,1,126.1,871.5A1.9,1.7,50,0,1,128.5,874.4Z" fill="#8c99db" fill-opacity=".9"/><path d="M155.3,821.4A2.6,1.3,10,0,1,150.2,820.5A2.6,1.3,10,0,1,155.3,821.4ZM100.9,828.9A2.7,1.8,170,0,1,106.1,828.0A2.7,1.8,170,0,1,100.9,828.9ZM101.0,838.9A3.1,1.5,60,0,1,97.9,833.5A3.1,1.5,60,0,1,101.0,838.9ZM93.7,842.6A1.7,1.4,140,0,1,96.4,840.4A1.7,1.4,140,0,1,93.7,842.6ZM112.5,843.5A2.4,2.0,10,0,1,107.7,842.6A2.4,2.0,10,0,1,112.5,843.5ZM143.7,847.2A3.2,1.5,110,0,1,145.9,841.2A3.2,1.5,110,0,1,143.7,847.2ZM147.7,860.1A1.7,1.1,90,0,1,147.7,856.7A1.7,1.1,90,0,1,147.7,860.1ZM92.1,860.4A1.8,1.7,160,0,1,95.6,859.2A1.8,1.7,160,0,1,92.1,860.4ZM120.7,868.4A3.2,1.9,90,0,1,120.7,861.9A3.2,1.9,90,0,1,120.7,868.4Z" fill="#aab3e5" fill-opacity=".75"/><path d="M139.1,830.0A2.0,1.9,60,0,1,137.0,826.5A2.0,1.9,60,0,1,139.1,830.0ZM148.2,826.5A2.3,1.8,0,0,1,143.6,826.5A2.3,1.8,0,0,1,148.2,826.5ZM98.3,833.7A2.8,1.7,70,0,1,96.3,828.3A2.8,1.7,70,0,1,98.3,833.7ZM146.4,834.2A2.8,1.8,170,0,1,151.9,833.3A2.8,1.8,170,0,1,146.4,834.2ZM116.1,841.5A2.1,1.6,170,0,1,120.3,840.7A2.1,1.6,170,0,1,116.1,841.5ZM106.8,850.9A2.0,2.0,50,0,1,104.3,847.9A2.0,2.0,50,0,1,106.8,850.9ZM148.5,851.5A2.8,1.5,10,0,1,143.1,850.6A2.8,1.5,10,0,1,148.5,851.5ZM114.6,871.4A2.2,1.9,140,0,1,118.1,868.5A2.2,1.9,140,0,1,114.6,871.4ZM135.0,872.6A1.7,1.7,100,0,1,135.6,869.2A1.7,1.7,100,0,1,135.0,872.6ZM158.4,880.2A3.2,1.5,0,0,1,152.0,880.2A3.2,1.5,0,0,1,158.4,880.2Z" fill="#98a4df" fill-opacity=".85"/><path d="M150.0,830.6A2.5,1.1,100,0,1,150.9,825.6A2.5,1.1,100,0,1,150.0,830.6ZM126.7,830.3A2.1,1.7,20,0,1,122.8,828.8A2.1,1.7,20,0,1,126.7,830.3ZM151.0,831.2A2.0,1.3,90,0,1,151.0,827.3A2.0,1.3,90,0,1,151.0,831.2ZM95.6,854.0A3.1,2.0,90,0,1,95.6,847.8A3.1,2.0,90,0,1,95.6,854.0ZM157.0,851.3A2.4,1.8,0,0,1,152.2,851.3A2.4,1.8,0,0,1,157.0,851.3ZM131.3,861.0A2.8,1.3,120,0,1,134.2,856.1A2.8,1.3,120,0,1,131.3,861.0ZM109.3,865.0A3.2,1.6,60,0,1,106.1,859.4A3.2,1.6,60,0,1,109.3,865.0ZM122.9,861.8A2.1,1.1,30,0,1,119.2,859.7A2.1,1.1,30,0,1,122.9,861.8ZM148.8,861.3A2.3,1.3,150,0,1,152.8,859.0A2.3,1.3,150,0,1,148.8,861.3ZM97.0,869.8A3.0,1.5,30,0,1,91.8,866.8A3.0,1.5,30,0,1,97.0,869.8Z" fill="#8391d8" fill-opacity=".9"/><ellipse cx="143.4" cy="817.2" rx="2.8" ry="2.9" fill="#c89070" fill-opacity="0.22"/><ellipse cx="98.4" cy="853.0" rx="3.3" ry="2.3" fill="#c89070" fill-opacity="0.22"/><ellipse cx="115.2" cy="849.4" rx="3.8" ry="2.4" fill="#c89070" fill-opacity="0.22"/><ellipse cx="143.3" cy="816.4" rx="2.7" ry="2.0" fill="#c89070" fill-opacity="0.22"/><ellipse cx="107.1" cy="864.9" rx="2.3" ry="1.9" fill="#c89070" fill-opacity="0.22"/><ellipse cx="99.0" cy="831.2" rx="3.5" ry="2.6" fill="#c89070" fill-opacity="0.22"/><ellipse cx="124.0" cy="857.0" rx="2.7" ry="2.3" fill="#c89070" fill-opacity="0.22"/><ellipse cx="97.3" cy="856.9" rx="2.7" ry="2.4" fill="#c89070" fill-opacity="0.22"/><ellipse cx="128.2" cy="863.4" rx="3.0" ry="2.7" fill="#c89070" fill-opacity="0.22"/><ellipse cx="137.5" cy="830.8" rx="3.8" ry="2.9" fill="#c89070" fill-opacity="0.22"/><ellipse cx="99.0" cy="836.1" rx="3.3" ry="2.8" fill="#c89070" fill-opacity="0.22"/><ellipse cx="132.9" cy="825.1" rx="3.8" ry="1.7" fill="#c89070" fill-opacity="0.22"/><ellipse cx="115.8" cy="854.8" rx="3.3" ry="1.9" fill="#c89070" fill-opacity="0.22"/><ellipse cx="99.4" cy="852.9" rx="3.7" ry="2.0" fill="#c89070" fill-opacity="0.22"/><ellipse cx="103.1" cy="872.1" rx="2.1" ry="2.2" fill="#c89070" fill-opacity="0.22"/><ellipse cx="127.0" cy="838.3" rx="3.7" ry="2.1" fill="#c89070" fill-opacity="0.22"/><ellipse cx="111.6" cy="837.9" rx="2.4" ry="2.0" fill="#c89070" fill-opacity="0.22"/><ellipse cx="144.4" cy="855.9" rx="3.5" ry="2.5" fill="#c89070" fill-opacity="0.22"/><ellipse cx="139.0" cy="865.5" rx="2.8" ry="2.4" fill="#c89070" fill-opacity="0.22"/><ellipse cx="99.8" cy="842.4" rx="2.5" ry="2.5" fill="#c89070" fill-opacity="0.22"/><ellipse cx="126.9" cy="846.7" rx="2.3" ry="1.7" fill="#c89070" fill-opacity="0.22"/><ellipse cx="97.2" cy="818.1" rx="3.4" ry="2.3" fill="#c89070" fill-opacity="0.22"/><ellipse cx="131.4" cy="871.5" rx="3.3" ry="2.9" fill="#c89070" fill-opacity="0.22"/><ellipse cx="142.2" cy="851.1" rx="3.2" ry="2.6" fill="#c89070" fill-opacity="0.22"/><ellipse cx="138.8" cy="861.0" rx="3.6" ry="2.7" fill="#c89070" fill-opacity="0.22"/><ellipse cx="153.8" cy="863.5" rx="2.6" ry="1.8" fill="#c89070" fill-opacity="0.22"/><ellipse cx="124.9" cy="856.8" rx="2.2" ry="2.1" fill="#c89070" fill-opacity="0.22"/><ellipse cx="132.7" cy="868.1" rx="2.2" ry="2.2" fill="#c89070" fill-opacity="0.22"/><ellipse cx="96.8" cy="827.1" rx="2.8" ry="2.2" fill="#c89070" fill-opacity="0.22"/><ellipse cx="152.1" cy="834.2" rx="3.5" ry="1.9" fill="#c89070" fill-opacity="0.22"/><ellipse cx="102.1" cy="859.4" rx="1.9" ry="1.5" fill="#a8704e" fill-opacity="0.8"/><ellipse cx="125.2" cy="832.8" rx="2.3" ry="1.8" fill="#9a6040" fill-opacity="0.8"/><ellipse cx="113.0" cy="859.6" rx="1.8" ry="1.4" fill="#8a5036" fill-opacity="0.8"/><ellipse cx="98.2" cy="848.9" rx="1.4" ry="1.1" fill="#9a6040" fill-opacity="0.8"/><ellipse cx="97.5" cy="848.0" rx="2.1" ry="1.6" fill="#9a6040" fill-opacity="0.8"/><ellipse cx="117.3" cy="876.4" rx="2.3" ry="1.8" fill="#a8704e" fill-opacity="0.8"/></g></g>
<rect x="93.5" y="816" width="61.6" height="63.6" fill="none" stroke="#666" stroke-width="1"/>
<g clip-path="url(#mc12)"><rect x="159.4" y="816" width="61.6" height="63.6" fill="#f6f1ef"/><g filter="url(#sb)"><path d="M172.5,820.4A2.1,1.9,40,0,1,169.3,817.7A2.1,1.9,40,0,1,172.5,820.4ZM201.9,834.0A3.0,1.7,40,0,1,197.3,830.1A3.0,1.7,40,0,1,201.9,834.0ZM203.0,837.9A2.7,1.5,40,0,1,198.9,834.4A2.7,1.5,40,0,1,203.0,837.9ZM159.8,850.6A2.3,1.4,150,0,1,163.8,848.3A2.3,1.4,150,0,1,159.8,850.6ZM173.6,850.0A3.2,1.9,100,0,1,174.7,843.7A3.2,1.9,100,0,1,173.6,850.0ZM209.2,863.8A2.7,1.7,40,0,1,205.0,860.3A2.7,1.7,40,0,1,209.2,863.8ZM218.2,867.6A3.1,1.4,90,0,1,218.2,861.4A3.1,1.4,90,0,1,218.2,867.6ZM159.5,878.6A2.3,1.6,130,0,1,162.4,875.1A2.3,1.6,130,0,1,159.5,878.6ZM166.9,878.4A2.1,1.3,20,0,1,163.0,877.0A2.1,1.3,20,0,1,166.9,878.4ZM206.8,878.8A2.4,1.9,130,0,1,209.8,875.1A2.4,1.9,130,0,1,206.8,878.8ZM214.0,878.9A2.0,1.4,50,0,1,211.4,875.8A2.0,1.4,50,0,1,214.0,878.9Z" fill="#8c99db" fill-opacity=".85"/><path d="M174.4,820.4A3.0,1.8,70,0,1,172.4,814.8A3.0,1.8,70,0,1,174.4,820.4ZM167.2,825.4A2.5,1.3,40,0,1,163.4,822.1A2.5,1.3,40,0,1,167.2,825.4ZM176.1,824.8A3.2,1.6,70,0,1,173.9,818.8A3.2,1.6,70,0,1,176.1,824.8ZM169.3,830.4A2.5,1.9,100,0,1,170.2,825.5A2.5,1.9,100,0,1,169.3,830.4ZM197.9,829.1A3.1,1.9,120,0,1,201.0,823.7A3.1,1.9,120,0,1,197.9,829.1ZM213.6,829.3A2.2,1.4,70,0,1,212.1,825.1A2.2,1.4,70,0,1,213.6,829.3ZM183.1,851.1A2.2,1.3,120,0,1,185.3,847.3A2.2,1.3,120,0,1,183.1,851.1ZM199.8,853.4A2.5,1.2,120,0,1,202.3,849.1A2.5,1.2,120,0,1,199.8,853.4ZM226.6,855.7A3.3,1.9,0,0,1,220.0,855.7A3.3,1.9,0,0,1,226.6,855.7Z" fill="#aab3e5" fill-opacity="1"/><path d="M176.2,820.9A2.6,1.5,110,0,1,178.0,815.9A2.6,1.5,110,0,1,176.2,820.9ZM202.5,818.3A2.6,1.3,170,0,1,207.7,817.4A2.6,1.3,170,0,1,202.5,818.3ZM187.6,838.3A2.8,1.3,80,0,1,186.7,832.8A2.8,1.3,80,0,1,187.6,838.3ZM191.7,837.2A3.2,1.9,70,0,1,189.5,831.2A3.2,1.9,70,0,1,191.7,837.2ZM212.5,840.9A2.7,1.4,160,0,1,217.5,839.1A2.7,1.4,160,0,1,212.5,840.9ZM212.9,847.4A3.3,1.4,110,0,1,215.2,841.3A3.3,1.4,110,0,1,212.9,847.4ZM188.6,848.3A2.0,1.8,20,0,1,184.8,846.9A2.0,1.8,20,0,1,188.6,848.3ZM177.8,859.1A1.9,1.9,30,0,1,174.5,857.2A1.9,1.9,30,0,1,177.8,859.1ZM181.6,856.2A2.2,1.3,170,0,1,186.0,855.4A2.2,1.3,170,0,1,181.6,856.2ZM209.1,858.3A2.3,1.4,40,0,1,205.6,855.3A2.3,1.4,40,0,1,209.1,858.3ZM161.5,869.0A2.0,1.9,70,0,1,160.1,865.3A2.0,1.9,70,0,1,161.5,869.0ZM164.8,867.7A2.0,1.4,140,0,1,167.9,865.1A2.0,1.4,140,0,1,164.8,867.7ZM191.9,872.0A2.7,1.4,70,0,1,190.0,867.0A2.7,1.4,70,0,1,191.9,872.0ZM186.0,877.5A2.6,1.7,50,0,1,182.7,873.5A2.6,1.7,50,0,1,186.0,877.5ZM196.8,878.6A2.3,1.2,0,0,1,192.2,878.6A2.3,1.2,0,0,1,196.8,878.6ZM216.6,879.9A2.1,1.6,70,0,1,215.2,876.0A2.1,1.6,70,0,1,216.6,879.9Z" fill="#8c99db" fill-opacity=".9"/><path d="M184.0,819.3A2.8,1.3,90,0,1,184.0,813.7A2.8,1.3,90,0,1,184.0,819.3ZM223.2,841.8A3.2,1.2,50,0,1,219.0,836.8A3.2,1.2,50,0,1,223.2,841.8ZM219.6,854.5A2.9,1.2,30,0,1,214.6,851.6A2.9,1.2,30,0,1,219.6,854.5ZM186.3,866.1A3.2,1.9,50,0,1,182.2,861.3A3.2,1.9,50,0,1,186.3,866.1ZM202.3,867.9A3.2,1.8,30,0,1,196.8,864.7A3.2,1.8,30,0,1,202.3,867.9ZM210.6,871.5A2.2,1.6,110,0,1,212.1,867.2A2.2,1.6,110,0,1,210.6,871.5ZM180.4,878.0A2.0,1.5,170,0,1,184.4,877.3A2.0,1.5,170,0,1,180.4,878.0Z" fill="#a6b0e4" fill-opacity="1"/><path d="M185.1,819.4A2.0,1.6,170,0,1,189.0,818.7A2.0,1.6,170,0,1,185.1,819.4ZM213.2,817.4A3.0,1.5,0,0,1,207.2,817.4A3.0,1.5,0,0,1,213.2,817.4ZM171.1,824.3A2.1,1.8,110,0,1,172.6,820.2A2.1,1.8,110,0,1,171.1,824.3ZM204.2,822.1A2.0,1.3,50,0,1,201.7,819.1A2.0,1.3,50,0,1,204.2,822.1ZM173.4,833.3A2.3,1.2,120,0,1,175.7,829.3A2.3,1.2,120,0,1,173.4,833.3ZM193.0,832.4A3.2,1.9,70,0,1,190.8,826.4A3.2,1.9,70,0,1,193.0,832.4ZM168.3,838.7A2.8,1.2,130,0,1,171.9,834.5A2.8,1.2,130,0,1,168.3,838.7ZM201.6,842.3A2.5,1.7,160,0,1,206.2,840.6A2.5,1.7,160,0,1,201.6,842.3ZM197.5,843.9A2.9,1.6,170,0,1,203.3,842.9A2.9,1.6,170,0,1,197.5,843.9ZM193.9,856.1A3.0,1.3,160,0,1,199.5,854.0A3.0,1.3,160,0,1,193.9,856.1ZM216.1,860.2A2.9,1.3,130,0,1,219.7,855.8A2.9,1.3,130,0,1,216.1,860.2ZM208.5,866.6A2.8,1.9,110,0,1,210.5,861.4A2.8,1.9,110,0,1,208.5,866.6ZM205.5,875.6A2.2,1.7,60,0,1,203.3,871.8A2.2,1.7,60,0,1,205.5,875.6ZM201.9,880.9A3.3,1.9,130,0,1,206.1,875.9A3.3,1.9,130,0,1,201.9,880.9Z" fill="#8c99db" fill-opacity=".75"/><path d="M193.4,818.2A2.0,2.0,30,0,1,190.0,816.2A2.0,2.0,30,0,1,193.4,818.2ZM218.1,822.6A2.8,1.5,100,0,1,219.1,817.0A2.8,1.5,100,0,1,218.1,822.6ZM198.3,823.4A2.0,1.9,50,0,1,195.7,820.3A2.0,1.9,50,0,1,198.3,823.4ZM189.3,829.9A3.2,1.7,30,0,1,183.7,826.7A3.2,1.7,30,0,1,189.3,829.9ZM220.7,833.0A3.3,1.3,140,0,1,225.7,828.8A3.3,1.3,140,0,1,220.7,833.0ZM163.2,838.4A2.7,1.8,130,0,1,166.7,834.3A2.7,1.8,130,0,1,163.2,838.4ZM170.1,843.1A3.0,1.2,100,0,1,171.2,837.2A3.0,1.2,100,0,1,170.1,843.1ZM212.8,853.0A2.3,1.6,160,0,1,217.1,851.4A2.3,1.6,160,0,1,212.8,853.0ZM179.2,860.4A3.0,1.2,70,0,1,177.1,854.7A3.0,1.2,70,0,1,179.2,860.4ZM193.9,857.9A2.3,1.8,80,0,1,193.1,853.3A2.3,1.8,80,0,1,193.9,857.9ZM172.8,867.8A2.2,1.4,120,0,1,175.0,864.1A2.2,1.4,120,0,1,172.8,867.8ZM197.6,875.5A2.7,1.1,10,0,1,192.2,874.6A2.7,1.1,10,0,1,197.6,875.5ZM208.9,875.4A1.9,2.0,110,0,1,210.2,871.7A1.9,2.0,110,0,1,208.9,875.4Z" fill="#98a4df" fill-opacity=".9"/><path d="M196.6,819.2A2.0,1.1,10,0,1,192.6,818.5A2.0,1.1,10,0,1,196.6,819.2ZM180.1,834.7A3.1,1.2,170,0,1,186.2,833.6A3.1,1.2,170,0,1,180.1,834.7ZM167.6,840.0A1.8,1.6,80,0,1,167.0,836.5A1.8,1.6,80,0,1,167.6,840.0ZM181.1,863.0A2.0,1.2,50,0,1,178.5,859.9A2.0,1.2,50,0,1,181.1,863.0ZM187.7,866.9A1.9,1.6,50,0,1,185.2,864.0A1.9,1.6,50,0,1,187.7,866.9ZM193.7,876.0A2.9,1.9,30,0,1,188.7,873.1A2.9,1.9,30,0,1,193.7,876.0ZM173.7,879.6A2.4,1.3,30,0,1,169.6,877.3A2.4,1.3,30,0,1,173.7,879.6Z" fill="#8391d8" fill-opacity=".75"/><path d="M199.9,822.0A3.1,1.5,60,0,1,196.8,816.7A3.1,1.5,60,0,1,199.9,822.0ZM165.5,830.8A3.0,1.5,110,0,1,167.6,825.2A3.0,1.5,110,0,1,165.5,830.8ZM182.8,829.9A2.6,1.4,130,0,1,186.1,826.0A2.6,1.4,130,0,1,182.8,829.9ZM207.8,847.6A1.9,2.0,100,0,1,208.5,844.0A1.9,2.0,100,0,1,207.8,847.6ZM219.1,846.7A1.8,1.4,140,0,1,221.8,844.4A1.8,1.4,140,0,1,219.1,846.7ZM216.3,877.7A2.9,1.4,60,0,1,213.4,872.6A2.9,1.4,60,0,1,216.3,877.7ZM220.4,879.7A3.1,1.5,160,0,1,226.2,877.6A3.1,1.5,160,0,1,220.4,879.7Z" fill="#a6b0e4" fill-opacity=".9"/><path d="M216.4,819.2A3.2,1.7,50,0,1,212.3,814.3A3.2,1.7,50,0,1,216.4,819.2ZM191.8,824.4A1.9,1.6,50,0,1,189.3,821.5A1.9,1.6,50,0,1,191.8,824.4ZM220.1,825.8A2.6,1.1,70,0,1,218.3,820.9A2.6,1.1,70,0,1,220.1,825.8ZM178.2,838.7A2.1,1.8,60,0,1,176.2,835.1A2.1,1.8,60,0,1,178.2,838.7ZM222.6,837.0A2.1,1.3,80,0,1,221.9,832.8A2.1,1.3,80,0,1,222.6,837.0ZM182.0,841.8A3.3,1.2,10,0,1,175.5,840.6A3.3,1.2,10,0,1,182.0,841.8ZM172.1,850.2A3.2,1.6,70,0,1,169.9,844.2A3.2,1.6,70,0,1,172.1,850.2ZM179.2,852.7A3.1,1.6,170,0,1,185.3,851.7A3.1,1.6,170,0,1,179.2,852.7ZM184.2,854.6A1.9,1.9,140,0,1,187.1,852.2A1.9,1.9,140,0,1,184.2,854.6ZM195.4,856.5A2.9,1.5,100,0,1,196.4,850.7A2.9,1.5,100,0,1,195.4,856.5ZM224.8,863.7A2.4,1.6,40,0,1,221.1,860.6A2.4,1.6,40,0,1,224.8,863.7ZM215.8,871.1A3.1,1.6,150,0,1,221.2,868.0A3.1,1.6,150,0,1,215.8,871.1ZM224.7,873.9A2.6,2.0,10,0,1,219.6,873.0A2.6,2.0,10,0,1,224.7,873.9Z" fill="#aab3e5" fill-opacity=".9"/><path d="M221.5,820.2A2.1,1.4,100,0,1,222.3,816.1A2.1,1.4,100,0,1,221.5,820.2ZM223.4,828.0A2.4,1.8,90,0,1,223.4,823.2A2.4,1.8,90,0,1,223.4,828.0ZM180.3,841.3A2.8,1.3,110,0,1,182.2,836.1A2.8,1.3,110,0,1,180.3,841.3ZM189.5,864.6A3.2,1.9,50,0,1,185.4,859.7A3.2,1.9,50,0,1,189.5,864.6Z" fill="#8391d8" fill-opacity="1"/><path d="M162.4,825.0A2.0,1.2,40,0,1,159.3,822.4A2.0,1.2,40,0,1,162.4,825.0ZM159.7,827.1A2.2,1.4,90,0,1,159.7,822.7A2.2,1.4,90,0,1,159.7,827.1ZM215.5,834.8A2.6,1.7,170,0,1,220.6,833.9A2.6,1.7,170,0,1,215.5,834.8ZM202.1,839.5A2.9,1.9,10,0,1,196.4,838.5A2.9,1.9,10,0,1,202.1,839.5ZM182.4,845.5A3.2,2.0,20,0,1,176.4,843.3A3.2,2.0,20,0,1,182.4,845.5ZM194.5,849.0A2.3,1.5,140,0,1,198.0,846.0A2.3,1.5,140,0,1,194.5,849.0ZM207.0,852.4A3.3,1.4,60,0,1,203.7,846.7A3.3,1.4,60,0,1,207.0,852.4ZM211.5,850.4A2.8,1.6,160,0,1,216.7,848.5A2.8,1.6,160,0,1,211.5,850.4ZM168.8,858.3A2.9,1.5,40,0,1,164.4,854.6A2.9,1.5,40,0,1,168.8,858.3ZM161.2,862.1A2.2,2.0,70,0,1,159.7,858.0A2.2,2.0,70,0,1,161.2,862.1ZM198.0,862.4A2.8,1.4,120,0,1,200.8,857.5A2.8,1.4,120,0,1,198.0,862.4ZM180.1,871.0A2.8,1.7,140,0,1,184.3,867.4A2.8,1.7,140,0,1,180.1,871.0Z" fill="#8391d8" fill-opacity=".85"/><path d="M176.2,822.5A1.9,2.0,150,0,1,179.5,820.6A1.9,2.0,150,0,1,176.2,822.5ZM163.7,834.3A3.1,1.6,10,0,1,157.6,833.2A3.1,1.6,10,0,1,163.7,834.3ZM176.8,837.0A2.7,1.5,80,0,1,175.9,831.8A2.7,1.5,80,0,1,176.8,837.0ZM189.5,840.4A2.0,1.9,0,0,1,185.5,840.4A2.0,1.9,0,0,1,189.5,840.4ZM176.8,850.1A3.0,1.3,110,0,1,178.9,844.4A3.0,1.3,110,0,1,176.8,850.1ZM210.7,849.5A2.3,1.9,10,0,1,206.3,848.7A2.3,1.9,10,0,1,210.7,849.5ZM209.5,855.0A2.3,1.6,30,0,1,205.5,852.6A2.3,1.6,30,0,1,209.5,855.0ZM194.2,863.8A3.1,2.0,20,0,1,188.5,861.7A3.1,2.0,20,0,1,194.2,863.8ZM219.2,870.9A2.8,1.6,120,0,1,222.0,866.1A2.8,1.6,120,0,1,219.2,870.9ZM190.5,879.6A2.4,1.5,50,0,1,187.4,875.9A2.4,1.5,50,0,1,190.5,879.6Z" fill="#a6b0e4" fill-opacity=".85"/><path d="M183.0,826.3A3.0,1.1,110,0,1,185.0,820.6A3.0,1.1,110,0,1,183.0,826.3ZM218.8,831.8A2.6,2.0,30,0,1,214.2,829.2A2.6,2.0,30,0,1,218.8,831.8ZM196.2,845.1A2.3,1.7,90,0,1,196.2,840.6A2.3,1.7,90,0,1,196.2,845.1ZM221.5,855.0A1.8,1.2,120,0,1,223.3,851.9A1.8,1.2,120,0,1,221.5,855.0ZM169.6,863.7A2.1,2.0,160,0,1,173.6,862.2A2.1,2.0,160,0,1,169.6,863.7ZM174.1,864.3A2.4,1.9,100,0,1,175.0,859.5A2.4,1.9,100,0,1,174.1,864.3ZM195.9,860.8A1.9,1.6,170,0,1,199.6,860.1A1.9,1.6,170,0,1,195.9,860.8ZM222.7,866.5A2.4,1.1,110,0,1,224.4,862.0A2.4,1.1,110,0,1,222.7,866.5ZM178.1,871.9A2.4,1.4,160,0,1,182.6,870.2A2.4,1.4,160,0,1,178.1,871.9ZM201.4,873.1A2.6,1.3,100,0,1,202.3,867.9A2.6,1.3,100,0,1,201.4,873.1ZM160.5,879.1A3.3,1.5,100,0,1,161.7,872.6A3.3,1.5,100,0,1,160.5,879.1ZM196.5,877.0A2.9,1.4,150,0,1,201.5,874.1A2.9,1.4,150,0,1,196.5,877.0Z" fill="#98a4df" fill-opacity="1"/><path d="M189.7,823.0A2.6,1.1,0,0,1,184.6,823.0A2.6,1.1,0,0,1,189.7,823.0ZM197.7,821.1A2.6,1.8,170,0,1,202.8,820.2A2.6,1.8,170,0,1,197.7,821.1ZM178.1,829.3A2.5,1.8,70,0,1,176.4,824.6A2.5,1.8,70,0,1,178.1,829.3ZM181.4,832.8A2.6,1.9,0,0,1,176.1,832.8A2.6,1.9,0,0,1,181.4,832.8ZM210.0,831.7A2.4,1.1,80,0,1,209.1,827.0A2.4,1.1,80,0,1,210.0,831.7ZM189.9,853.1A2.4,1.2,150,0,1,194.1,850.7A2.4,1.2,150,0,1,189.9,853.1ZM170.3,868.4A2.1,1.6,120,0,1,172.5,864.7A2.1,1.6,120,0,1,170.3,868.4ZM163.6,872.4A1.8,1.2,130,0,1,166.0,869.6A1.8,1.2,130,0,1,163.6,872.4ZM198.4,873.1A2.4,1.8,70,0,1,196.8,868.7A2.4,1.8,70,0,1,198.4,873.1Z" fill="#aab3e5" fill-opacity=".75"/><path d="M213.4,824.8A3.2,1.7,30,0,1,207.8,821.6A3.2,1.7,30,0,1,213.4,824.8ZM205.2,832.0A1.9,2.0,120,0,1,207.0,828.7A1.9,2.0,120,0,1,205.2,832.0ZM196.4,836.8A2.6,2.0,90,0,1,196.4,831.6A2.6,2.0,90,0,1,196.4,836.8ZM203.6,834.4A2.0,1.5,160,0,1,207.4,833.0A2.0,1.5,160,0,1,203.6,834.4ZM212.4,837.4A1.9,1.5,10,0,1,208.6,836.7A1.9,1.5,10,0,1,212.4,837.4ZM169.8,849.9A2.3,1.3,10,0,1,165.3,849.1A2.3,1.3,10,0,1,169.8,849.9ZM192.8,849.9A1.7,1.8,40,0,1,190.2,847.7A1.7,1.8,40,0,1,192.8,849.9ZM218.5,851.4A3.0,1.6,60,0,1,215.6,846.3A3.0,1.6,60,0,1,218.5,851.4ZM169.6,855.6A2.3,1.6,80,0,1,168.8,851.0A2.3,1.6,80,0,1,169.6,855.6ZM163.9,859.3A3.2,1.4,40,0,1,159.0,855.1A3.2,1.4,40,0,1,163.9,859.3ZM191.7,865.5A1.8,1.5,100,0,1,192.3,861.9A1.8,1.5,100,0,1,191.7,865.5ZM188.4,872.6A3.2,1.6,80,0,1,187.3,866.3A3.2,1.6,80,0,1,188.4,872.6ZM211.0,873.3A3.3,1.3,40,0,1,206.0,869.1A3.3,1.3,40,0,1,211.0,873.3ZM171.8,875.1A2.0,1.9,80,0,1,171.1,871.1A2.0,1.9,80,0,1,171.8,875.1ZM184.3,877.8A2.9,1.4,130,0,1,188.0,873.4A2.9,1.4,130,0,1,184.3,877.8Z" fill="#a6b0e4" fill-opacity=".75"/><path d="M215.3,826.7A2.9,1.4,60,0,1,212.4,821.6A2.9,1.4,60,0,1,215.3,826.7ZM196.5,829.7A2.2,1.7,90,0,1,196.5,825.4A2.2,1.7,90,0,1,196.5,829.7ZM169.7,830.7A2.2,1.5,170,0,1,174.1,829.9A2.2,1.5,170,0,1,169.7,830.7ZM207.4,841.2A2.7,1.8,130,0,1,210.8,837.1A2.7,1.8,130,0,1,207.4,841.2ZM160.6,856.0A1.9,1.7,110,0,1,161.9,852.3A1.9,1.7,110,0,1,160.6,856.0ZM161.4,851.8A2.9,1.6,160,0,1,166.8,849.8A2.9,1.6,160,0,1,161.4,851.8ZM178.8,856.3A3.2,1.7,80,0,1,177.7,850.0A3.2,1.7,80,0,1,178.8,856.3ZM167.6,860.4A2.5,1.4,110,0,1,169.3,855.8A2.5,1.4,110,0,1,167.6,860.4ZM177.0,869.0A3.2,1.3,90,0,1,177.0,862.6A3.2,1.3,90,0,1,177.0,869.0ZM159.0,870.1A3.1,2.0,140,0,1,163.8,866.1A3.1,2.0,140,0,1,159.0,870.1ZM176.4,876.9A3.2,1.8,40,0,1,171.5,872.8A3.2,1.8,40,0,1,176.4,876.9Z" fill="#8c99db" fill-opacity="1"/><path d="M221.3,824.4A1.9,1.9,150,0,1,224.5,822.6A1.9,1.9,150,0,1,221.3,824.4ZM211.4,829.3A2.2,1.1,60,0,1,209.2,825.4A2.2,1.1,60,0,1,211.4,829.3ZM215.9,825.9A3.0,1.5,170,0,1,221.8,824.8A3.0,1.5,170,0,1,215.9,825.9ZM183.3,844.6A2.9,1.4,120,0,1,186.2,839.6A2.9,1.4,120,0,1,183.3,844.6ZM189.1,846.5A2.0,1.5,20,0,1,185.4,845.1A2.0,1.5,20,0,1,189.1,846.5ZM205.2,856.8A1.9,1.2,60,0,1,203.2,853.4A1.9,1.2,60,0,1,205.2,856.8ZM184.1,863.6A3.2,1.6,90,0,1,184.1,857.1A3.2,1.6,90,0,1,184.1,863.6ZM216.0,867.6A3.3,1.9,10,0,1,209.5,866.5A3.3,1.9,10,0,1,216.0,867.6ZM173.1,870.2A3.2,1.4,10,0,1,166.9,869.1A3.2,1.4,10,0,1,173.1,870.2ZM180.0,874.9A3.1,1.1,40,0,1,175.2,870.9A3.1,1.1,40,0,1,180.0,874.9ZM179.5,881.0A2.6,1.7,30,0,1,174.9,878.4A2.6,1.7,30,0,1,179.5,881.0Z" fill="#98a4df" fill-opacity=".85"/><path d="M175.0,830.0A2.3,1.7,90,0,1,175.0,825.4A2.3,1.7,90,0,1,175.0,830.0ZM216.1,837.8A3.1,1.5,60,0,1,213.0,832.5A3.1,1.5,60,0,1,216.1,837.8ZM172.8,844.0A2.6,1.2,40,0,1,168.8,840.6A2.6,1.2,40,0,1,172.8,844.0ZM203.1,850.0A3.0,1.7,70,0,1,201.0,844.3A3.0,1.7,70,0,1,203.1,850.0ZM199.5,858.4A3.1,1.5,120,0,1,202.6,853.2A3.1,1.5,120,0,1,199.5,858.4ZM206.2,862.6A1.7,1.7,90,0,1,206.2,859.1A1.7,1.7,90,0,1,206.2,862.6ZM206.3,867.9A2.4,1.9,50,0,1,203.2,864.2A2.4,1.9,50,0,1,206.3,867.9ZM219.5,876.3A2.7,1.5,40,0,1,215.3,872.7A2.7,1.5,40,0,1,219.5,876.3Z" fill="#8391d8" fill-opacity=".9"/><path d="M192.1,829.8A1.9,1.5,50,0,1,189.6,826.9A1.9,1.5,50,0,1,192.1,829.8ZM172.6,843.1A2.1,1.5,90,0,1,172.6,839.0A2.1,1.5,90,0,1,172.6,843.1ZM195.9,841.7A2.0,1.9,100,0,1,196.6,837.7A2.0,1.9,100,0,1,195.9,841.7ZM189.3,848.3A3.1,1.5,110,0,1,191.5,842.3A3.1,1.5,110,0,1,189.3,848.3ZM205.0,844.1A1.8,1.8,40,0,1,202.2,841.7A1.8,1.8,40,0,1,205.0,844.1ZM220.9,851.2A2.5,1.6,70,0,1,219.2,846.5A2.5,1.6,70,0,1,220.9,851.2ZM187.1,859.2A3.1,1.6,110,0,1,189.2,853.4A3.1,1.6,110,0,1,187.1,859.2Z" fill="#aab3e5" fill-opacity=".85"/><path d="M182.2,834.7A3.2,1.8,100,0,1,183.3,828.5A3.2,1.8,100,0,1,182.2,834.7ZM197.8,833.5A2.7,1.5,80,0,1,196.8,828.0A2.7,1.5,80,0,1,197.8,833.5ZM161.0,841.0A2.1,2.0,160,0,1,165.0,839.6A2.1,2.0,160,0,1,161.0,841.0ZM166.9,842.8A1.8,1.5,10,0,1,163.2,842.2A1.8,1.5,10,0,1,166.9,842.8ZM178.6,880.0A3.3,1.3,10,0,1,172.2,878.8A3.3,1.3,10,0,1,178.6,880.0Z" fill="#98a4df" fill-opacity=".75"/><ellipse cx="197.1" cy="876.8" rx="3.8" ry="1.9" fill="#c89070" fill-opacity="0.22"/><ellipse cx="212.5" cy="873.5" rx="3.5" ry="2.9" fill="#c89070" fill-opacity="0.22"/><ellipse cx="162.5" cy="875.7" rx="3.3" ry="1.8" fill="#c89070" fill-opacity="0.22"/><ellipse cx="205.4" cy="872.5" rx="3.2" ry="2.9" fill="#c89070" fill-opacity="0.22"/><ellipse cx="201.3" cy="853.3" rx="3.7" ry="3.0" fill="#c89070" fill-opacity="0.22"/><ellipse cx="208.4" cy="850.6" rx="2.0" ry="1.6" fill="#9a6040" fill-opacity="0.8"/><ellipse cx="176.1" cy="859.4" rx="1.8" ry="1.4" fill="#9a6040" fill-opacity="0.8"/><ellipse cx="199.2" cy="865.3" rx="1.6" ry="1.2" fill="#a8704e" fill-opacity="0.8"/><ellipse cx="190.1" cy="867.3" rx="1.4" ry="1.1" fill="#9a6040" fill-opacity="0.8"/><ellipse cx="180.5" cy="866.3" rx="2.3" ry="1.8" fill="#8a5036" fill-opacity="0.8"/><ellipse cx="169.9" cy="844.6" rx="1.4" ry="1.1" fill="#9a6040" fill-opacity="0.8"/><ellipse cx="164.7" cy="855.8" rx="2.1" ry="1.6" fill="#8a5036" fill-opacity="0.8"/><ellipse cx="206.2" cy="859.5" rx="1.5" ry="1.2" fill="#a8704e" fill-opacity="0.8"/></g></g>
<rect x="159.4" y="816" width="61.6" height="63.6" fill="none" stroke="#666" stroke-width="1"/>
<g clip-path="url(#mc13)"><rect x="225.3" y="816" width="61.6" height="63.6" fill="#f3ece8"/><g filter="url(#sb)"><path d="M223.9,820.1A2.6,1.7,140,0,1,227.9,816.7A2.6,1.7,140,0,1,223.9,820.1ZM254.6,821.4A3.3,1.6,150,0,1,260.2,818.2A3.3,1.6,150,0,1,254.6,821.4ZM268.6,823.3A2.2,1.7,170,0,1,272.9,822.6A2.2,1.7,170,0,1,268.6,823.3ZM280.4,823.7A3.0,1.6,20,0,1,274.7,821.6A3.0,1.6,20,0,1,280.4,823.7ZM240.5,826.9A2.0,1.3,50,0,1,237.9,823.9A2.0,1.3,50,0,1,240.5,826.9ZM289.1,831.3A3.3,1.5,10,0,1,282.7,830.1A3.3,1.5,10,0,1,289.1,831.3ZM271.6,835.4A1.8,1.7,150,0,1,274.8,833.6A1.8,1.7,150,0,1,271.6,835.4ZM283.2,836.4A2.5,1.3,0,0,1,278.1,836.4A2.5,1.3,0,0,1,283.2,836.4ZM286.6,836.0A1.9,1.8,100,0,1,287.2,832.3A1.9,1.8,100,0,1,286.6,836.0ZM283.9,841.3A3.2,1.8,10,0,1,277.6,840.2A3.2,1.8,10,0,1,283.9,841.3ZM283.3,842.1A1.8,1.7,130,0,1,285.6,839.3A1.8,1.7,130,0,1,283.3,842.1ZM282.6,842.3A2.6,2.0,0,0,1,277.3,842.3A2.6,2.0,0,0,1,282.6,842.3ZM231.3,863.8A1.7,1.9,90,0,1,231.3,860.3A1.7,1.9,90,0,1,231.3,863.8ZM253.2,873.2A2.7,1.8,130,0,1,256.7,869.1A2.7,1.8,130,0,1,253.2,873.2ZM275.9,871.6A1.9,1.6,50,0,1,273.4,868.7A1.9,1.6,50,0,1,275.9,871.6ZM252.6,876.1A2.4,2.0,160,0,1,257.2,874.5A2.4,2.0,160,0,1,252.6,876.1ZM258.0,880.8A1.7,1.6,90,0,1,258.0,877.3A1.7,1.6,90,0,1,258.0,880.8ZM291.9,878.2A2.6,1.6,0,0,1,286.8,878.2A2.6,1.6,0,0,1,291.9,878.2Z" fill="#8391d8" fill-opacity="1"/><path d="M234.2,818.5A1.9,1.9,0,0,1,230.3,818.5A1.9,1.9,0,0,1,234.2,818.5ZM267.1,818.4A2.9,1.5,170,0,1,272.8,817.4A2.9,1.5,170,0,1,267.1,818.4ZM250.7,822.6A2.1,1.4,110,0,1,252.1,818.7A2.1,1.4,110,0,1,250.7,822.6ZM267.4,835.8A1.7,1.6,80,0,1,266.8,832.3A1.7,1.6,80,0,1,267.4,835.8ZM272.5,839.9A3.0,1.4,140,0,1,277.2,836.0A3.0,1.4,140,0,1,272.5,839.9ZM239.6,844.5A3.1,1.9,10,0,1,233.4,843.4A3.1,1.9,10,0,1,239.6,844.5ZM259.9,854.0A2.7,2.0,120,0,1,262.6,849.2A2.7,2.0,120,0,1,259.9,854.0ZM286.9,857.5A2.0,1.6,140,0,1,289.9,854.9A2.0,1.6,140,0,1,286.9,857.5ZM243.7,864.5A3.0,1.5,90,0,1,243.7,858.4A3.0,1.5,90,0,1,243.7,864.5ZM255.0,862.4A1.7,1.6,170,0,1,258.4,861.8A1.7,1.6,170,0,1,255.0,862.4ZM261.5,865.5A2.9,1.1,80,0,1,260.5,859.7A2.9,1.1,80,0,1,261.5,865.5ZM232.8,880.9A3.3,1.4,40,0,1,227.7,876.7A3.3,1.4,40,0,1,232.8,880.9ZM243.1,881.7A2.8,1.4,70,0,1,241.2,876.5A2.8,1.4,70,0,1,243.1,881.7ZM267.8,879.2A3.0,1.3,10,0,1,261.9,878.2A3.0,1.3,10,0,1,267.8,879.2Z" fill="#aab3e5" fill-opacity=".85"/><path d="M234.1,819.3A2.3,1.2,170,0,1,238.7,818.5A2.3,1.2,170,0,1,234.1,819.3ZM238.4,818.5A2.6,1.5,160,0,1,243.3,816.7A2.6,1.5,160,0,1,238.4,818.5ZM288.7,824.5A2.2,1.9,60,0,1,286.4,820.6A2.2,1.9,60,0,1,288.7,824.5ZM249.7,827.6A2.3,2.0,0,0,1,245.1,827.6A2.3,2.0,0,0,1,249.7,827.6ZM260.4,850.2A2.3,1.4,80,0,1,259.6,845.6A2.3,1.4,80,0,1,260.4,850.2ZM237.7,855.2A2.9,2.0,20,0,1,232.3,853.3A2.9,2.0,20,0,1,237.7,855.2ZM232.4,865.6A1.8,1.6,20,0,1,229.0,864.3A1.8,1.6,20,0,1,232.4,865.6ZM283.0,868.7A2.9,1.3,60,0,1,280.1,863.7A2.9,1.3,60,0,1,283.0,868.7ZM234.8,873.5A2.6,1.4,110,0,1,236.6,868.6A2.6,1.4,110,0,1,234.8,873.5Z" fill="#8391d8" fill-opacity=".75"/><path d="M247.9,820.5A3.2,1.6,50,0,1,243.8,815.6A3.2,1.6,50,0,1,247.9,820.5ZM286.6,822.0A2.4,1.2,100,0,1,287.5,817.4A2.4,1.2,100,0,1,286.6,822.0ZM285.7,822.9A2.0,1.7,60,0,1,283.6,819.3A2.0,1.7,60,0,1,285.7,822.9ZM249.1,832.2A2.7,1.4,160,0,1,254.3,830.3A2.7,1.4,160,0,1,249.1,832.2ZM251.1,849.4A2.5,1.6,80,0,1,250.2,844.5A2.5,1.6,80,0,1,251.1,849.4ZM271.9,847.6A2.0,1.8,0,0,1,267.8,847.6A2.0,1.8,0,0,1,271.9,847.6ZM224.9,868.9A2.1,1.6,120,0,1,227.0,865.3A2.1,1.6,120,0,1,224.9,868.9ZM239.8,868.6A1.9,1.5,130,0,1,242.3,865.7A1.9,1.5,130,0,1,239.8,868.6ZM264.1,867.0A3.2,1.1,60,0,1,261.0,861.5A3.2,1.1,60,0,1,264.1,867.0ZM261.8,872.5A2.9,1.4,130,0,1,265.6,868.1A2.9,1.4,130,0,1,261.8,872.5ZM269.9,881.2A2.4,1.5,100,0,1,270.7,876.5A2.4,1.5,100,0,1,269.9,881.2Z" fill="#8391d8" fill-opacity=".85"/><path d="M248.9,820.7A2.4,1.6,110,0,1,250.6,816.2A2.4,1.6,110,0,1,248.9,820.7ZM257.4,838.9A2.3,2.0,110,0,1,259.0,834.5A2.3,2.0,110,0,1,257.4,838.9ZM254.8,854.6A2.5,1.6,150,0,1,259.1,852.1A2.5,1.6,150,0,1,254.8,854.6ZM278.2,864.9A2.2,1.8,120,0,1,280.4,861.0A2.2,1.8,120,0,1,278.2,864.9ZM256.7,877.1A2.4,1.4,110,0,1,258.4,872.5A2.4,1.4,110,0,1,256.7,877.1ZM257.5,873.9A2.8,1.4,170,0,1,263.1,872.9A2.8,1.4,170,0,1,257.5,873.9Z" fill="#98a4df" fill-opacity=".85"/><path d="M257.0,820.3A2.9,1.2,20,0,1,251.7,818.3A2.9,1.2,20,0,1,257.0,820.3ZM228.9,822.9A2.0,1.7,60,0,1,226.9,819.5A2.0,1.7,60,0,1,228.9,822.9ZM287.9,827.6A3.1,1.1,30,0,1,282.5,824.6A3.1,1.1,30,0,1,287.9,827.6ZM231.8,830.6A1.7,1.7,150,0,1,234.8,828.9A1.7,1.7,150,0,1,231.8,830.6ZM235.4,831.7A3.2,1.2,170,0,1,241.6,830.6A3.2,1.2,170,0,1,235.4,831.7ZM289.7,851.4A2.6,1.9,80,0,1,288.8,846.4A2.6,1.9,80,0,1,289.7,851.4ZM261.5,858.1A2.4,1.9,100,0,1,262.4,853.3A2.4,1.9,100,0,1,261.5,858.1ZM271.0,860.5A1.9,2.0,40,0,1,268.1,858.0A1.9,2.0,40,0,1,271.0,860.5ZM248.5,873.0A1.9,1.4,50,0,1,246.0,870.0A1.9,1.4,50,0,1,248.5,873.0ZM251.5,881.5A2.5,1.9,40,0,1,247.7,878.3A2.5,1.9,40,0,1,251.5,881.5Z" fill="#aab3e5" fill-opacity="1"/><path d="M262.5,819.5A2.3,1.9,170,0,1,266.9,818.7A2.3,1.9,170,0,1,262.5,819.5ZM231.0,828.8A2.6,1.4,120,0,1,233.6,824.3A2.6,1.4,120,0,1,231.0,828.8ZM262.8,833.2A2.3,1.9,40,0,1,259.4,830.3A2.3,1.9,40,0,1,262.8,833.2ZM232.6,839.7A3.0,1.8,160,0,1,238.2,837.7A3.0,1.8,160,0,1,232.6,839.7ZM260.9,840.5A1.8,1.6,70,0,1,259.6,837.2A1.8,1.6,70,0,1,260.9,840.5ZM229.3,848.1A2.4,1.2,90,0,1,229.3,843.4A2.4,1.2,90,0,1,229.3,848.1ZM259.3,848.9A2.4,1.7,20,0,1,254.8,847.2A2.4,1.7,20,0,1,259.3,848.9ZM271.8,858.7A2.0,1.9,150,0,1,275.3,856.7A2.0,1.9,150,0,1,271.8,858.7ZM269.6,868.8A2.0,2.0,110,0,1,271.0,865.0A2.0,2.0,110,0,1,269.6,868.8ZM269.3,872.8A2.4,1.2,140,0,1,273.0,869.6A2.4,1.2,140,0,1,269.3,872.8ZM231.6,875.2A2.8,1.8,70,0,1,229.8,870.0A2.8,1.8,70,0,1,231.6,875.2Z" fill="#98a4df" fill-opacity=".9"/><path d="M276.0,817.5A2.6,1.9,10,0,1,270.9,816.6A2.6,1.9,10,0,1,276.0,817.5ZM246.9,832.7A3.1,1.7,130,0,1,250.9,827.9A3.1,1.7,130,0,1,246.9,832.7ZM254.1,837.2A1.8,1.5,40,0,1,251.3,834.9A1.8,1.5,40,0,1,254.1,837.2ZM252.6,842.3A2.6,1.1,20,0,1,247.7,840.6A2.6,1.1,20,0,1,252.6,842.3ZM259.6,846.6A2.6,1.3,100,0,1,260.5,841.5A2.6,1.3,100,0,1,259.6,846.6ZM229.0,849.5A2.1,1.2,0,0,1,224.8,849.5A2.1,1.2,0,0,1,229.0,849.5ZM234.7,852.5A2.2,1.4,20,0,1,230.6,851.0A2.2,1.4,20,0,1,234.7,852.5ZM275.9,855.8A2.2,1.9,50,0,1,273.1,852.5A2.2,1.9,50,0,1,275.9,855.8ZM238.5,864.1A1.8,1.2,130,0,1,240.8,861.3A1.8,1.2,130,0,1,238.5,864.1ZM251.1,863.1A2.7,1.9,40,0,1,247.1,859.7A2.7,1.9,40,0,1,251.1,863.1ZM245.5,871.0A1.7,1.4,20,0,1,242.3,869.9A1.7,1.4,20,0,1,245.5,871.0ZM244.9,875.8A3.0,1.2,20,0,1,239.3,873.8A3.0,1.2,20,0,1,244.9,875.8ZM246.6,874.7A2.5,1.8,10,0,1,241.7,873.8A2.5,1.8,10,0,1,246.6,874.7Z" fill="#a6b0e4" fill-opacity=".75"/><path d="M280.2,819.2A1.8,1.9,20,0,1,276.9,818.0A1.8,1.9,20,0,1,280.2,819.2ZM244.4,822.2A3.0,1.7,10,0,1,238.6,821.1A3.0,1.7,10,0,1,244.4,822.2ZM258.2,824.3A2.9,1.7,100,0,1,259.3,818.6A2.9,1.7,100,0,1,258.2,824.3ZM264.0,823.4A2.3,1.3,140,0,1,267.4,820.5A2.3,1.3,140,0,1,264.0,823.4ZM243.9,827.7A2.3,1.4,130,0,1,246.9,824.1A2.3,1.4,130,0,1,243.9,827.7ZM243.5,833.5A2.3,1.5,100,0,1,244.3,829.0A2.3,1.5,100,0,1,243.5,833.5ZM238.6,837.4A3.2,1.6,30,0,1,233.0,834.2A3.2,1.6,30,0,1,238.6,837.4ZM244.0,851.9A2.0,1.5,10,0,1,240.1,851.2A2.0,1.5,10,0,1,244.0,851.9ZM262.4,857.6A2.8,1.2,160,0,1,267.6,855.7A2.8,1.2,160,0,1,262.4,857.6ZM273.7,859.9A2.5,1.2,40,0,1,269.9,856.7A2.5,1.2,40,0,1,273.7,859.9ZM286.0,864.2A2.7,1.4,170,0,1,291.4,863.2A2.7,1.4,170,0,1,286.0,864.2ZM266.5,873.1A2.2,1.3,130,0,1,269.4,869.7A2.2,1.3,130,0,1,266.5,873.1ZM255.8,881.7A3.2,1.3,40,0,1,250.9,877.6A3.2,1.3,40,0,1,255.8,881.7Z" fill="#8c99db" fill-opacity=".9"/><path d="M283.4,818.9A2.4,1.2,130,0,1,286.5,815.1A2.4,1.2,130,0,1,283.4,818.9ZM281.0,827.8A2.0,1.5,70,0,1,279.6,824.0A2.0,1.5,70,0,1,281.0,827.8ZM248.2,846.5A3.3,1.3,50,0,1,244.0,841.5A3.3,1.3,50,0,1,248.2,846.5ZM289.4,842.3A2.1,1.7,0,0,1,285.2,842.3A2.1,1.7,0,0,1,289.4,842.3ZM248.6,852.9A1.8,1.2,170,0,1,252.1,852.3A1.8,1.2,170,0,1,248.6,852.9ZM228.9,872.5A2.7,1.7,160,0,1,234.0,870.7A2.7,1.7,160,0,1,228.9,872.5ZM288.9,872.6A2.0,1.5,30,0,1,285.4,870.6A2.0,1.5,30,0,1,288.9,872.6ZM228.1,875.0A2.5,1.8,60,0,1,225.6,870.6A2.5,1.8,60,0,1,228.1,875.0ZM283.4,876.0A2.7,1.5,80,0,1,282.5,870.7A2.7,1.5,80,0,1,283.4,876.0ZM258.2,879.1A2.0,1.9,170,0,1,262.2,878.4A2.0,1.9,170,0,1,258.2,879.1ZM282.7,882.3A2.9,1.9,110,0,1,284.7,876.8A2.9,1.9,110,0,1,282.7,882.3Z" fill="#a6b0e4" fill-opacity=".9"/><path d="M229.8,823.4A1.7,1.5,170,0,1,233.2,822.8A1.7,1.5,170,0,1,229.8,823.4ZM247.9,826.8A3.1,1.8,110,0,1,250.0,820.9A3.1,1.8,110,0,1,247.9,826.8ZM277.3,822.6A2.5,1.3,0,0,1,272.4,822.6A2.5,1.3,0,0,1,277.3,822.6ZM267.1,834.1A2.2,1.8,40,0,1,263.8,831.3A2.2,1.8,40,0,1,267.1,834.1ZM280.2,833.3A3.0,1.7,40,0,1,275.5,829.4A3.0,1.7,40,0,1,280.2,833.3ZM229.5,841.8A1.9,1.5,10,0,1,225.8,841.1A1.9,1.5,10,0,1,229.5,841.8ZM270.2,844.9A1.9,1.8,50,0,1,267.7,841.9A1.9,1.8,50,0,1,270.2,844.9ZM252.4,854.6A2.9,1.2,110,0,1,254.3,849.2A2.9,1.2,110,0,1,252.4,854.6ZM265.5,852.2A2.2,1.1,160,0,1,269.5,850.7A2.2,1.1,160,0,1,265.5,852.2ZM243.0,858.5A3.3,1.3,170,0,1,249.5,857.3A3.3,1.3,170,0,1,243.0,858.5ZM246.3,879.4A2.7,1.8,30,0,1,241.6,876.6A2.7,1.8,30,0,1,246.3,879.4Z" fill="#98a4df" fill-opacity=".75"/><path d="M239.9,825.9A3.1,1.6,40,0,1,235.1,821.9A3.1,1.6,40,0,1,239.9,825.9ZM262.3,838.5A3.2,1.7,90,0,1,262.3,832.1A3.2,1.7,90,0,1,262.3,838.5ZM255.1,841.6A2.2,1.3,130,0,1,257.9,838.2A2.2,1.3,130,0,1,255.1,841.6ZM228.0,843.4A2.1,1.5,170,0,1,232.1,842.7A2.1,1.5,170,0,1,228.0,843.4ZM254.2,851.9A2.5,1.1,90,0,1,254.2,846.9A2.5,1.1,90,0,1,254.2,851.9ZM280.0,860.7A2.8,1.8,80,0,1,279.1,855.2A2.8,1.8,80,0,1,280.0,860.7ZM255.4,864.9A3.1,1.1,40,0,1,250.7,860.9A3.1,1.1,40,0,1,255.4,864.9ZM261.1,865.5A3.1,1.9,0,0,1,255.0,865.5A3.1,1.9,0,0,1,261.1,865.5ZM281.3,876.8A2.1,1.3,60,0,1,279.1,873.1A2.1,1.3,60,0,1,281.3,876.8Z" fill="#aab3e5" fill-opacity=".9"/><path d="M242.9,824.6A2.2,1.8,90,0,1,242.9,820.3A2.2,1.8,90,0,1,242.9,824.6ZM275.3,834.7A1.9,1.5,100,0,1,275.9,830.9A1.9,1.5,100,0,1,275.3,834.7ZM265.0,848.7A2.2,1.7,90,0,1,265.0,844.3A2.2,1.7,90,0,1,265.0,848.7ZM273.0,852.8A2.8,1.6,30,0,1,268.2,850.0A2.8,1.6,30,0,1,273.0,852.8ZM283.4,854.1A1.9,1.2,20,0,1,279.9,852.8A1.9,1.2,20,0,1,283.4,854.1ZM285.2,863.4A1.8,1.6,90,0,1,285.2,859.7A1.8,1.6,90,0,1,285.2,863.4Z" fill="#a6b0e4" fill-opacity="1"/><path d="M265.2,821.2A2.5,1.9,0,0,1,260.2,821.2A2.5,1.9,0,0,1,265.2,821.2ZM272.4,839.9A3.3,1.9,0,0,1,265.8,839.9A3.3,1.9,0,0,1,272.4,839.9ZM233.9,857.6A2.9,1.6,50,0,1,230.2,853.2A2.9,1.6,50,0,1,233.9,857.6ZM248.3,860.6A2.8,1.7,70,0,1,246.3,855.4A2.8,1.7,70,0,1,248.3,860.6ZM274.0,877.8A2.3,1.2,90,0,1,274.0,873.3A2.3,1.2,90,0,1,274.0,877.8Z" fill="#8c99db" fill-opacity=".75"/><path d="M227.9,826.7A2.2,1.5,30,0,1,224.1,824.5A2.2,1.5,30,0,1,227.9,826.7ZM287.5,830.1A3.1,2.0,0,0,1,281.3,830.1A3.1,2.0,0,0,1,287.5,830.1ZM241.0,840.8A3.1,1.2,70,0,1,238.9,835.0A3.1,1.2,70,0,1,241.0,840.8ZM281.7,845.1A2.3,1.9,100,0,1,282.5,840.5A2.3,1.9,100,0,1,281.7,845.1ZM235.1,850.1A1.8,1.3,90,0,1,235.1,846.5A1.8,1.3,90,0,1,235.1,850.1ZM253.5,859.2A2.1,1.7,130,0,1,256.2,856.0A2.1,1.7,130,0,1,253.5,859.2ZM235.0,868.0A3.0,1.5,130,0,1,238.8,863.4A3.0,1.5,130,0,1,235.0,868.0ZM288.9,875.7A2.8,1.8,10,0,1,283.4,874.8A2.8,1.8,10,0,1,288.9,875.7Z" fill="#8c99db" fill-opacity=".85"/><path d="M256.6,829.3A2.3,1.3,50,0,1,253.6,825.9A2.3,1.3,50,0,1,256.6,829.3ZM286.7,835.9A1.8,1.1,30,0,1,283.5,834.1A1.8,1.1,30,0,1,286.7,835.9ZM265.6,845.6A2.7,1.3,120,0,1,268.3,840.9A2.7,1.3,120,0,1,265.6,845.6ZM229.9,855.2A2.3,1.5,50,0,1,226.8,851.6A2.3,1.5,50,0,1,229.9,855.2ZM261.0,855.7A1.9,1.7,10,0,1,257.4,855.0A1.9,1.7,10,0,1,261.0,855.7ZM279.1,864.7A3.1,1.6,20,0,1,273.3,862.5A3.1,1.6,20,0,1,279.1,864.7Z" fill="#8391d8" fill-opacity=".9"/><path d="M259.4,829.9A2.3,1.4,90,0,1,259.4,825.3A2.3,1.4,90,0,1,259.4,829.9ZM289.7,830.2A3.2,1.8,40,0,1,284.8,826.1A3.2,1.8,40,0,1,289.7,830.2ZM229.7,841.9A3.0,1.3,150,0,1,235.0,838.9A3.0,1.3,150,0,1,229.7,841.9ZM253.9,841.0A1.8,1.3,30,0,1,250.7,839.2A1.8,1.3,30,0,1,253.9,841.0ZM285.0,839.2A2.4,1.6,150,0,1,289.1,836.8A2.4,1.6,150,0,1,285.0,839.2ZM228.8,857.1A2.8,1.6,30,0,1,224.0,854.4A2.8,1.6,30,0,1,228.8,857.1ZM228.5,862.6A2.6,1.8,70,0,1,226.7,857.6A2.6,1.8,70,0,1,228.5,862.6ZM268.8,863.8A2.5,1.6,60,0,1,266.3,859.4A2.5,1.6,60,0,1,268.8,863.8Z" fill="#a6b0e4" fill-opacity=".85"/><path d="M270.8,829.6A1.9,1.9,60,0,1,268.9,826.2A1.9,1.9,60,0,1,270.8,829.6ZM251.1,834.3A1.9,1.5,0,0,1,247.3,834.3A1.9,1.5,0,0,1,251.1,834.3ZM273.5,849.5A2.6,2.0,170,0,1,278.7,848.6A2.6,2.0,170,0,1,273.5,849.5ZM283.6,851.4A3.2,1.5,60,0,1,280.5,845.9A3.2,1.5,60,0,1,283.6,851.4ZM282.0,867.0A2.4,1.9,0,0,1,277.2,867.0A2.4,1.9,0,0,1,282.0,867.0ZM277.6,878.8A3.0,1.6,20,0,1,272.0,876.8A3.0,1.6,20,0,1,277.6,878.8Z" fill="#aab3e5" fill-opacity=".75"/><path d="M268.6,833.3A2.1,1.5,110,0,1,270.0,829.3A2.1,1.5,110,0,1,268.6,833.3ZM243.0,846.9A3.0,1.1,40,0,1,238.4,843.0A3.0,1.1,40,0,1,243.0,846.9ZM273.2,847.1A2.0,1.5,140,0,1,276.3,844.5A2.0,1.5,140,0,1,273.2,847.1ZM245.9,849.3A2.2,1.6,60,0,1,243.6,845.4A2.2,1.6,60,0,1,245.9,849.3ZM237.0,857.9A2.0,1.7,120,0,1,238.9,854.5A2.0,1.7,120,0,1,237.0,857.9Z" fill="#98a4df" fill-opacity="1"/><path d="M246.7,836.9A2.8,1.8,60,0,1,244.0,832.1A2.8,1.8,60,0,1,246.7,836.9ZM274.5,837.6A3.0,1.9,30,0,1,269.2,834.6A3.0,1.9,30,0,1,274.5,837.6ZM245.3,843.8A2.8,1.1,160,0,1,250.5,841.9A2.8,1.1,160,0,1,245.3,843.8ZM280.8,851.6A2.2,1.7,80,0,1,280.0,847.2A2.2,1.7,80,0,1,280.8,851.6ZM244.1,854.9A2.4,1.5,160,0,1,248.6,853.3A2.4,1.5,160,0,1,244.1,854.9ZM238.1,861.6A3.3,1.1,20,0,1,231.9,859.3A3.3,1.1,20,0,1,238.1,861.6ZM272.1,864.5A2.0,1.8,120,0,1,274.1,861.1A2.0,1.8,120,0,1,272.1,864.5ZM247.5,865.8A2.8,1.5,40,0,1,243.2,862.2A2.8,1.5,40,0,1,247.5,865.8ZM255.1,866.9A2.5,1.1,20,0,1,250.3,865.2A2.5,1.1,20,0,1,255.1,866.9ZM259.4,871.0A1.7,1.8,50,0,1,257.2,868.4A1.7,1.8,50,0,1,259.4,871.0ZM279.3,871.5A2.7,1.6,120,0,1,282.0,866.9A2.7,1.6,120,0,1,279.3,871.5ZM235.1,876.4A2.4,1.9,110,0,1,236.8,871.9A2.4,1.9,110,0,1,235.1,876.4ZM266.6,875.9A3.1,1.3,70,0,1,264.5,870.1A3.1,1.3,70,0,1,266.6,875.9ZM226.0,878.8A1.9,1.8,120,0,1,227.9,875.5A1.9,1.8,120,0,1,226.0,878.8ZM277.7,879.3A2.6,1.5,80,0,1,276.8,874.2A2.6,1.5,80,0,1,277.7,879.3Z" fill="#8c99db" fill-opacity="1"/><ellipse cx="257.4" cy="867.2" rx="3.5" ry="2.1" fill="#c89070" fill-opacity="0.22"/><ellipse cx="271.9" cy="873.5" rx="3.5" ry="2.9" fill="#c89070" fill-opacity="0.22"/><ellipse cx="238.0" cy="818.6" rx="3.6" ry="3.0" fill="#c89070" fill-opacity="0.22"/><ellipse cx="277.3" cy="876.9" rx="3.8" ry="1.6" fill="#c89070" fill-opacity="0.22"/><ellipse cx="278.4" cy="840.9" rx="3.6" ry="1.8" fill="#c89070" fill-opacity="0.22"/><ellipse cx="250.0" cy="851.6" rx="2.7" ry="2.0" fill="#c89070" fill-opacity="0.22"/><ellipse cx="280.4" cy="863.8" rx="3.9" ry="1.6" fill="#c89070" fill-opacity="0.22"/><ellipse cx="245.7" cy="878.8" rx="4.0" ry="2.9" fill="#c89070" fill-opacity="0.22"/><ellipse cx="237.3" cy="844.4" rx="4.0" ry="2.0" fill="#c89070" fill-opacity="0.22"/><ellipse cx="248.1" cy="864.2" rx="3.8" ry="1.9" fill="#c89070" fill-opacity="0.22"/><ellipse cx="249.2" cy="823.9" rx="3.4" ry="2.5" fill="#c89070" fill-opacity="0.22"/><ellipse cx="260.1" cy="867.9" rx="2.9" ry="3.0" fill="#c89070" fill-opacity="0.22"/><ellipse cx="264.9" cy="820.8" rx="2.7" ry="1.6" fill="#c89070" fill-opacity="0.22"/><ellipse cx="252.4" cy="821.0" rx="2.3" ry="2.5" fill="#c89070" fill-opacity="0.22"/><ellipse cx="272.2" cy="841.8" rx="2.2" ry="1.7" fill="#a8704e" fill-opacity="0.8"/><ellipse cx="266.5" cy="852.3" rx="1.7" ry="1.3" fill="#9a6040" fill-opacity="0.8"/><ellipse cx="234.8" cy="876.2" rx="1.4" ry="1.1" fill="#a8704e" fill-opacity="0.8"/><ellipse cx="262.2" cy="868.1" rx="1.4" ry="1.1" fill="#9a6040" fill-opacity="0.8"/><ellipse cx="256.0" cy="860.8" rx="2.3" ry="1.8" fill="#9a6040" fill-opacity="0.8"/><ellipse cx="279.1" cy="830.9" rx="2.2" ry="1.7" fill="#9a6040" fill-opacity="0.8"/><ellipse cx="267.7" cy="858.3" rx="1.4" ry="1.1" fill="#a8704e" fill-opacity="0.8"/><ellipse cx="258.9" cy="873.5" rx="1.4" ry="1.1" fill="#9a6040" fill-opacity="0.8"/><ellipse cx="280.0" cy="874.3" rx="2.3" ry="1.8" fill="#9a6040" fill-opacity="0.8"/><ellipse cx="258.3" cy="835.0" rx="1.6" ry="1.2" fill="#9a6040" fill-opacity="0.8"/><ellipse cx="252.4" cy="846.3" rx="1.6" ry="1.2" fill="#9a6040" fill-opacity="0.8"/><ellipse cx="277.7" cy="823.6" rx="1.7" ry="1.3" fill="#9a6040" fill-opacity="0.8"/></g></g>
<rect x="225.3" y="816" width="61.6" height="63.6" fill="none" stroke="#666" stroke-width="1"/>
<g clip-path="url(#mc14)"><rect x="291" y="816" width="61.6" height="63.6" fill="#f2ebe6"/><g filter="url(#sb)"><path d="M297.4,819.0A2.6,1.4,10,0,1,292.4,818.1A2.6,1.4,10,0,1,297.4,819.0ZM314.1,832.5A3.0,1.9,50,0,1,310.2,827.9A3.0,1.9,50,0,1,314.1,832.5ZM318.1,838.6A2.7,1.1,140,0,1,322.3,835.1A2.7,1.1,140,0,1,318.1,838.6ZM343.1,850.4A3.1,1.8,50,0,1,339.1,845.5A3.1,1.8,50,0,1,343.1,850.4ZM313.6,866.4A2.7,1.9,100,0,1,314.6,861.0A2.7,1.9,100,0,1,313.6,866.4ZM309.8,875.5A2.9,1.7,110,0,1,311.8,870.0A2.9,1.7,110,0,1,309.8,875.5Z" fill="#8c99db" fill-opacity=".75"/><path d="M296.3,820.3A2.2,1.5,120,0,1,298.5,816.4A2.2,1.5,120,0,1,296.3,820.3ZM329.1,827.0A2.0,1.6,50,0,1,326.5,824.0A2.0,1.6,50,0,1,329.1,827.0ZM302.3,838.7A2.9,1.7,40,0,1,297.8,835.0A2.9,1.7,40,0,1,302.3,838.7ZM314.9,835.7A1.9,1.2,140,0,1,317.9,833.2A1.9,1.2,140,0,1,314.9,835.7ZM341.9,845.7A2.3,1.7,80,0,1,341.1,841.2A2.3,1.7,80,0,1,341.9,845.7ZM304.6,846.9A2.9,2.0,0,0,1,298.8,846.9A2.9,2.0,0,0,1,304.6,846.9ZM307.6,853.3A2.4,1.2,170,0,1,312.3,852.4A2.4,1.2,170,0,1,307.6,853.3ZM298.4,860.1A2.5,1.6,110,0,1,300.1,855.4A2.5,1.6,110,0,1,298.4,860.1ZM305.5,856.0A1.8,1.9,150,0,1,308.7,854.1A1.8,1.9,150,0,1,305.5,856.0ZM347.4,861.9A2.0,1.6,140,0,1,350.4,859.4A2.0,1.6,140,0,1,347.4,861.9ZM327.9,881.5A3.2,1.7,80,0,1,326.8,875.2A3.2,1.7,80,0,1,327.9,881.5Z" fill="#8391d8" fill-opacity="1"/><path d="M300.7,819.4A3.3,1.5,110,0,1,303.0,813.3A3.3,1.5,110,0,1,300.7,819.4ZM309.8,826.2A2.9,1.8,110,0,1,311.8,820.8A2.9,1.8,110,0,1,309.8,826.2ZM319.8,834.3A2.6,1.8,30,0,1,315.2,831.6A2.6,1.8,30,0,1,319.8,834.3ZM341.0,832.0A2.1,1.9,10,0,1,336.9,831.3A2.1,1.9,10,0,1,341.0,832.0ZM296.8,835.0A2.9,1.9,150,0,1,301.8,832.1A2.9,1.9,150,0,1,296.8,835.0ZM331.6,838.6A1.8,1.3,110,0,1,332.8,835.2A1.8,1.3,110,0,1,331.6,838.6ZM327.5,847.3A3.2,1.1,30,0,1,321.9,844.0A3.2,1.1,30,0,1,327.5,847.3ZM351.8,845.8A2.8,1.8,90,0,1,351.8,840.3A2.8,1.8,90,0,1,351.8,845.8ZM344.4,856.0A3.0,1.4,20,0,1,338.8,854.0A3.0,1.4,20,0,1,344.4,856.0ZM296.4,863.1A3.1,1.9,40,0,1,291.6,859.1A3.1,1.9,40,0,1,296.4,863.1ZM326.8,862.4A2.6,1.2,20,0,1,322.0,860.7A2.6,1.2,20,0,1,326.8,862.4ZM330.7,865.0A3.0,1.1,120,0,1,333.7,859.8A3.0,1.1,120,0,1,330.7,865.0Z" fill="#98a4df" fill-opacity="1"/><path d="M307.3,818.2A2.9,1.4,20,0,1,301.9,816.2A2.9,1.4,20,0,1,307.3,818.2ZM305.0,823.1A2.2,1.9,40,0,1,301.7,820.3A2.2,1.9,40,0,1,305.0,823.1ZM330.1,822.5A1.8,1.2,170,0,1,333.7,821.9A1.8,1.2,170,0,1,330.1,822.5ZM349.0,839.2A3.3,1.4,110,0,1,351.2,833.0A3.3,1.4,110,0,1,349.0,839.2ZM351.2,857.2A2.6,1.4,40,0,1,347.3,853.9A2.6,1.4,40,0,1,351.2,857.2ZM337.2,860.6A2.8,1.5,10,0,1,331.6,859.7A2.8,1.5,10,0,1,337.2,860.6ZM340.2,866.6A2.2,1.8,60,0,1,338.0,862.8A2.2,1.8,60,0,1,340.2,866.6ZM342.0,871.9A1.7,1.6,170,0,1,345.5,871.3A1.7,1.6,170,0,1,342.0,871.9ZM338.5,879.2A2.1,1.5,40,0,1,335.2,876.5A2.1,1.5,40,0,1,338.5,879.2Z" fill="#aab3e5" fill-opacity=".9"/><path d="M310.9,820.8A2.2,1.9,70,0,1,309.4,816.7A2.2,1.9,70,0,1,310.9,820.8ZM336.0,819.7A2.8,1.5,20,0,1,330.7,817.8A2.8,1.5,20,0,1,336.0,819.7ZM339.4,824.2A1.9,1.8,140,0,1,342.4,821.7A1.9,1.8,140,0,1,339.4,824.2ZM309.7,829.2A3.0,1.2,120,0,1,312.7,823.9A3.0,1.2,120,0,1,309.7,829.2ZM312.3,826.5A2.6,2.0,160,0,1,317.1,824.7A2.6,2.0,160,0,1,312.3,826.5ZM333.0,829.6A2.5,1.1,30,0,1,328.8,827.1A2.5,1.1,30,0,1,333.0,829.6ZM299.7,831.6A3.1,1.9,30,0,1,294.4,828.5A3.1,1.9,30,0,1,299.7,831.6ZM354.4,830.6A1.8,1.1,0,0,1,350.7,830.6A1.8,1.1,0,0,1,354.4,830.6ZM308.9,836.4A2.9,1.3,140,0,1,313.4,832.6A2.9,1.3,140,0,1,308.9,836.4ZM337.0,852.2A2.6,1.5,30,0,1,332.6,849.6A2.6,1.5,30,0,1,337.0,852.2ZM343.4,853.0A3.2,1.6,140,0,1,348.4,848.8A3.2,1.6,140,0,1,343.4,853.0ZM309.2,861.0A2.3,1.3,90,0,1,309.2,856.4A2.3,1.3,90,0,1,309.2,861.0ZM310.2,856.4A2.6,1.3,170,0,1,315.3,855.5A2.6,1.3,170,0,1,310.2,856.4ZM320.8,856.9A2.7,1.1,170,0,1,326.0,855.9A2.7,1.1,170,0,1,320.8,856.9ZM347.4,865.6A1.7,1.2,150,0,1,350.3,863.9A1.7,1.2,150,0,1,347.4,865.6ZM347.3,876.8A2.9,1.1,120,0,1,350.2,871.7A2.9,1.1,120,0,1,347.3,876.8ZM353.0,876.8A2.0,1.3,50,0,1,350.5,873.7A2.0,1.3,50,0,1,353.0,876.8ZM298.3,880.0A2.1,1.4,170,0,1,302.4,879.3A2.1,1.4,170,0,1,298.3,880.0ZM319.2,880.9A1.9,1.5,80,0,1,318.5,877.0A1.9,1.5,80,0,1,319.2,880.9ZM333.3,881.2A2.3,1.9,30,0,1,329.3,878.9A2.3,1.9,30,0,1,333.3,881.2Z" fill="#8c99db" fill-opacity=".85"/><path d="M314.6,822.1A2.8,1.2,90,0,1,314.6,816.5A2.8,1.2,90,0,1,314.6,822.1ZM353.2,825.1A2.2,1.3,110,0,1,354.7,821.0A2.2,1.3,110,0,1,353.2,825.1ZM322.8,842.7A2.6,1.1,150,0,1,327.4,840.0A2.6,1.1,150,0,1,322.8,842.7ZM324.5,849.8A1.9,1.2,160,0,1,328.2,848.5A1.9,1.2,160,0,1,324.5,849.8ZM325.0,855.8A3.2,1.7,40,0,1,320.1,851.7A3.2,1.7,40,0,1,325.0,855.8ZM299.6,862.3A3.1,1.4,40,0,1,294.9,858.3A3.1,1.4,40,0,1,299.6,862.3ZM292.0,872.1A2.3,1.3,160,0,1,296.4,870.6A2.3,1.3,160,0,1,292.0,872.1ZM339.5,883.0A3.1,1.4,90,0,1,339.5,876.8A3.1,1.4,90,0,1,339.5,883.0Z" fill="#8391d8" fill-opacity=".75"/><path d="M316.1,820.3A2.2,1.9,160,0,1,320.2,818.9A2.2,1.9,160,0,1,316.1,820.3ZM295.1,822.9A2.4,1.4,60,0,1,292.7,818.7A2.4,1.4,60,0,1,295.1,822.9ZM332.7,822.6A2.2,1.9,160,0,1,336.9,821.1A2.2,1.9,160,0,1,332.7,822.6ZM349.8,828.0A2.3,1.7,60,0,1,347.5,824.0A2.3,1.7,60,0,1,349.8,828.0ZM342.9,841.4A1.9,1.2,120,0,1,344.7,838.2A1.9,1.2,120,0,1,342.9,841.4ZM305.2,852.3A2.4,1.4,100,0,1,306.0,847.6A2.4,1.4,100,0,1,305.2,852.3ZM347.8,848.3A2.7,1.9,30,0,1,343.1,845.6A2.7,1.9,30,0,1,347.8,848.3ZM354.1,849.1A2.5,1.8,10,0,1,349.2,848.2A2.5,1.8,10,0,1,354.1,849.1ZM298.8,853.5A2.2,1.2,80,0,1,298.0,849.1A2.2,1.2,80,0,1,298.8,853.5ZM331.1,866.6A1.7,1.6,170,0,1,334.5,866.0A1.7,1.6,170,0,1,331.1,866.6ZM314.0,870.4A3.0,1.3,40,0,1,309.4,866.5A3.0,1.3,40,0,1,314.0,870.4Z" fill="#a6b0e4" fill-opacity=".75"/><path d="M320.3,820.5A2.3,1.4,120,0,1,322.7,816.5A2.3,1.4,120,0,1,320.3,820.5ZM345.3,823.3A1.9,1.3,30,0,1,342.1,821.5A1.9,1.3,30,0,1,345.3,823.3ZM305.3,837.8A3.2,1.4,110,0,1,307.5,831.9A3.2,1.4,110,0,1,305.3,837.8ZM352.5,836.6A1.9,1.8,110,0,1,353.8,833.1A1.9,1.8,110,0,1,352.5,836.6ZM318.6,841.4A1.8,1.8,100,0,1,319.2,837.8A1.8,1.8,100,0,1,318.6,841.4ZM316.8,862.0A2.0,1.2,170,0,1,320.8,861.3A2.0,1.2,170,0,1,316.8,862.0ZM338.7,875.1A1.8,1.8,110,0,1,340.0,871.7A1.8,1.8,110,0,1,338.7,875.1ZM308.7,881.5A3.1,1.4,130,0,1,312.7,876.7A3.1,1.4,130,0,1,308.7,881.5ZM349.5,879.1A2.5,1.2,40,0,1,345.7,875.9A2.5,1.2,40,0,1,349.5,879.1Z" fill="#aab3e5" fill-opacity=".85"/><path d="M330.6,819.1A2.5,1.3,30,0,1,326.1,816.5A2.5,1.3,30,0,1,330.6,819.1ZM347.1,823.4A1.9,1.4,130,0,1,349.6,820.4A1.9,1.4,130,0,1,347.1,823.4ZM337.8,839.5A3.0,1.3,20,0,1,332.1,837.4A3.0,1.3,20,0,1,337.8,839.5ZM350.4,840.6A2.6,1.1,50,0,1,347.1,836.6A2.6,1.1,50,0,1,350.4,840.6ZM290.6,856.6A2.1,1.3,150,0,1,294.2,854.5A2.1,1.3,150,0,1,290.6,856.6ZM355.5,860.4A2.4,1.5,10,0,1,350.9,859.6A2.4,1.5,10,0,1,355.5,860.4ZM336.0,868.0A3.2,1.5,60,0,1,332.8,862.4A3.2,1.5,60,0,1,336.0,868.0ZM302.0,870.1A1.8,1.4,60,0,1,300.2,866.9A1.8,1.4,60,0,1,302.0,870.1ZM326.6,870.9A2.5,1.5,50,0,1,323.4,867.2A2.5,1.5,50,0,1,326.6,870.9ZM354.2,869.3A2.0,2.0,40,0,1,351.2,866.7A2.0,2.0,40,0,1,354.2,869.3ZM310.0,876.8A3.0,1.5,40,0,1,305.4,872.9A3.0,1.5,40,0,1,310.0,876.8ZM333.6,875.7A3.1,1.1,0,0,1,327.4,875.7A3.1,1.1,0,0,1,333.6,875.7Z" fill="#98a4df" fill-opacity=".9"/><path d="M335.6,820.8A3.2,1.2,100,0,1,336.7,814.5A3.2,1.2,100,0,1,335.6,820.8ZM350.7,818.2A3.1,1.7,10,0,1,344.6,817.1A3.1,1.7,10,0,1,350.7,818.2ZM333.5,833.1A2.5,1.9,80,0,1,332.6,828.2A2.5,1.9,80,0,1,333.5,833.1ZM319.3,845.2A2.6,1.4,40,0,1,315.3,841.8A2.6,1.4,40,0,1,319.3,845.2ZM301.2,848.3A2.5,1.9,20,0,1,296.4,846.6A2.5,1.9,20,0,1,301.2,848.3ZM313.1,854.6A3.0,1.4,140,0,1,317.6,850.8A3.0,1.4,140,0,1,313.1,854.6ZM342.3,857.5A2.2,1.5,160,0,1,346.5,856.0A2.2,1.5,160,0,1,342.3,857.5ZM341.6,862.9A2.1,1.9,100,0,1,342.3,858.8A2.1,1.9,100,0,1,341.6,862.9ZM293.9,868.4A2.8,1.6,50,0,1,290.3,864.2A2.8,1.6,50,0,1,293.9,868.4ZM352.9,868.0A2.9,1.3,70,0,1,350.9,862.5A2.9,1.3,70,0,1,352.9,868.0ZM295.2,873.9A3.0,1.9,0,0,1,289.2,873.9A3.0,1.9,0,0,1,295.2,873.9ZM303.7,875.5A2.8,1.9,40,0,1,299.5,872.0A2.8,1.9,40,0,1,303.7,875.5ZM346.8,881.1A2.1,1.8,30,0,1,343.1,879.0A2.1,1.8,30,0,1,346.8,881.1Z" fill="#aab3e5" fill-opacity=".75"/><path d="M338.3,821.7A2.5,1.5,120,0,1,340.9,817.3A2.5,1.5,120,0,1,338.3,821.7ZM342.8,826.0A2.7,1.2,10,0,1,337.4,825.0A2.7,1.2,10,0,1,342.8,826.0ZM332.2,860.3A3.0,1.1,50,0,1,328.4,855.6A3.0,1.1,50,0,1,332.2,860.3ZM345.2,863.8A2.1,1.5,40,0,1,341.9,861.1A2.1,1.5,40,0,1,345.2,863.8ZM318.4,868.5A2.1,1.6,70,0,1,316.9,864.6A2.1,1.6,70,0,1,318.4,868.5ZM300.1,876.3A2.4,1.2,60,0,1,297.7,872.1A2.4,1.2,60,0,1,300.1,876.3Z" fill="#98a4df" fill-opacity=".75"/><path d="M347.6,819.3A1.9,1.5,40,0,1,344.7,816.9A1.9,1.5,40,0,1,347.6,819.3ZM320.7,833.2A2.5,1.9,140,0,1,324.6,829.9A2.5,1.9,140,0,1,320.7,833.2ZM337.4,848.7A1.9,1.2,50,0,1,335.0,845.8A1.9,1.2,50,0,1,337.4,848.7ZM303.7,867.1A2.6,1.5,110,0,1,305.5,862.3A2.6,1.5,110,0,1,303.7,867.1ZM318.3,875.2A2.6,1.2,70,0,1,316.5,870.3A2.6,1.2,70,0,1,318.3,875.2ZM334.5,874.2A2.6,1.5,160,0,1,339.4,872.5A2.6,1.5,160,0,1,334.5,874.2Z" fill="#98a4df" fill-opacity=".85"/><path d="M352.3,818.4A2.1,1.6,160,0,1,356.2,817.0A2.1,1.6,160,0,1,352.3,818.4ZM325.3,822.3A3.0,1.8,160,0,1,331.0,820.2A3.0,1.8,160,0,1,325.3,822.3ZM352.3,832.5A2.7,2.0,0,0,1,347.0,832.5A2.7,2.0,0,0,1,352.3,832.5ZM353.6,841.6A3.0,1.9,60,0,1,350.6,836.4A3.0,1.9,60,0,1,353.6,841.6ZM326.9,844.6A1.8,1.3,170,0,1,330.5,844.0A1.8,1.3,170,0,1,326.9,844.6ZM291.0,850.1A1.7,1.6,150,0,1,294.0,848.3A1.7,1.6,150,0,1,291.0,850.1ZM315.5,854.3A3.1,1.2,160,0,1,321.3,852.2A3.1,1.2,160,0,1,315.5,854.3ZM343.3,855.7A2.8,1.9,70,0,1,341.3,850.4A2.8,1.9,70,0,1,343.3,855.7ZM312.2,876.1A3.2,1.9,140,0,1,317.1,872.1A3.2,1.9,140,0,1,312.2,876.1Z" fill="#a6b0e4" fill-opacity=".85"/><path d="M299.4,825.0A2.0,1.3,80,0,1,298.7,821.0A2.0,1.3,80,0,1,299.4,825.0ZM315.1,823.7A1.8,1.9,20,0,1,311.7,822.5A1.8,1.9,20,0,1,315.1,823.7ZM346.8,827.6A2.7,1.7,80,0,1,345.8,822.3A2.7,1.7,80,0,1,346.8,827.6ZM304.5,832.7A2.1,1.9,50,0,1,301.9,829.6A2.1,1.9,50,0,1,304.5,832.7ZM310.7,840.6A2.7,1.3,50,0,1,307.2,836.4A2.7,1.3,50,0,1,310.7,840.6ZM351.3,854.1A2.6,1.7,80,0,1,350.4,848.9A2.6,1.7,80,0,1,351.3,854.1ZM300.5,859.3A3.2,1.3,90,0,1,300.5,852.8A3.2,1.3,90,0,1,300.5,859.3ZM329.7,863.4A3.0,1.2,10,0,1,323.8,862.3A3.0,1.2,10,0,1,329.7,863.4ZM311.9,868.5A3.2,1.8,90,0,1,311.9,862.1A3.2,1.8,90,0,1,311.9,868.5ZM345.0,875.3A1.9,1.4,80,0,1,344.4,871.6A1.9,1.4,80,0,1,345.0,875.3Z" fill="#8c99db" fill-opacity=".9"/><path d="M307.7,822.8A3.1,2.0,20,0,1,301.9,820.7A3.1,2.0,20,0,1,307.7,822.8ZM295.5,830.4A2.4,1.4,20,0,1,291.0,828.8A2.4,1.4,20,0,1,295.5,830.4ZM305.3,830.1A1.9,1.7,150,0,1,308.5,828.3A1.9,1.7,150,0,1,305.3,830.1ZM326.2,834.2A2.6,1.3,100,0,1,327.1,829.0A2.6,1.3,100,0,1,326.2,834.2ZM327.8,838.1A3.0,2.0,70,0,1,325.7,832.6A3.0,2.0,70,0,1,327.8,838.1ZM314.8,840.6A1.9,1.3,20,0,1,311.4,839.3A1.9,1.3,20,0,1,314.8,840.6ZM334.4,839.9A1.8,1.7,50,0,1,332.1,837.2A1.8,1.7,50,0,1,334.4,839.9ZM316.2,843.6A2.3,1.8,10,0,1,311.6,842.8A2.3,1.8,10,0,1,316.2,843.6ZM303.0,861.8A2.6,1.3,120,0,1,305.5,857.3A2.6,1.3,120,0,1,303.0,861.8ZM311.0,861.2A1.9,1.5,160,0,1,314.5,859.9A1.9,1.5,160,0,1,311.0,861.2ZM298.8,866.4A3.1,1.3,130,0,1,302.8,861.7A3.1,1.3,130,0,1,298.8,866.4ZM347.9,865.3A2.5,1.7,20,0,1,343.2,863.6A2.5,1.7,20,0,1,347.9,865.3ZM351.0,881.2A2.2,1.2,120,0,1,353.3,877.3A2.2,1.2,120,0,1,351.0,881.2Z" fill="#8391d8" fill-opacity=".9"/><path d="M323.0,822.6A2.5,1.9,0,0,1,318.1,822.6A2.5,1.9,0,0,1,323.0,822.6ZM294.6,834.5A2.7,2.0,0,0,1,289.3,834.5A2.7,2.0,0,0,1,294.6,834.5ZM347.5,835.8A2.3,1.4,30,0,1,343.5,833.5A2.3,1.4,30,0,1,347.5,835.8ZM309.4,838.9A1.8,1.2,10,0,1,305.8,838.2A1.8,1.2,10,0,1,309.4,838.9ZM325.1,841.2A2.0,2.0,130,0,1,327.7,838.1A2.0,2.0,130,0,1,325.1,841.2ZM295.8,845.7A2.3,1.7,60,0,1,293.6,841.7A2.3,1.7,60,0,1,295.8,845.7ZM330.8,846.2A2.7,1.5,120,0,1,333.5,841.6A2.7,1.5,120,0,1,330.8,846.2ZM337.2,844.8A1.9,1.6,80,0,1,336.5,841.1A1.9,1.6,80,0,1,337.2,844.8ZM321.3,849.3A3.0,1.3,20,0,1,315.6,847.3A3.0,1.3,20,0,1,321.3,849.3ZM331.8,848.6A2.3,1.4,130,0,1,334.8,845.1A2.3,1.4,130,0,1,331.8,848.6ZM315.5,871.6A1.8,1.9,90,0,1,315.5,868.1A1.8,1.9,90,0,1,315.5,871.6ZM326.0,872.0A1.9,1.5,130,0,1,328.5,869.0A1.9,1.5,130,0,1,326.0,872.0ZM336.5,870.2A2.6,1.7,160,0,1,341.3,868.5A2.6,1.7,160,0,1,336.5,870.2Z" fill="#a6b0e4" fill-opacity=".9"/><path d="M291.6,827.4A2.1,1.2,170,0,1,295.8,826.7A2.1,1.2,170,0,1,291.6,827.4ZM291.5,840.8A2.4,1.3,100,0,1,292.3,836.1A2.4,1.3,100,0,1,291.5,840.8ZM304.6,842.9A2.9,1.2,40,0,1,300.1,839.1A2.9,1.2,40,0,1,304.6,842.9ZM340.3,842.3A2.0,1.8,140,0,1,343.4,839.7A2.0,1.8,140,0,1,340.3,842.3ZM293.5,844.7A3.0,1.4,140,0,1,298.1,840.9A3.0,1.4,140,0,1,293.5,844.7ZM312.6,849.2A2.0,1.5,140,0,1,315.6,846.7A2.0,1.5,140,0,1,312.6,849.2ZM348.4,849.2A2.0,1.3,70,0,1,347.0,845.4A2.0,1.3,70,0,1,348.4,849.2ZM332.2,856.3A3.3,1.3,170,0,1,338.6,855.1A3.3,1.3,170,0,1,332.2,856.3ZM327.6,877.5A2.7,1.5,130,0,1,331.1,873.4A2.7,1.5,130,0,1,327.6,877.5ZM319.2,881.5A3.1,1.3,30,0,1,313.8,878.4A3.1,1.3,30,0,1,319.2,881.5Z" fill="#aab3e5" fill-opacity="1"/><path d="M297.3,828.3A2.8,1.7,90,0,1,297.3,822.8A2.8,1.7,90,0,1,297.3,828.3ZM335.4,832.3A2.4,1.9,150,0,1,339.5,830.0A2.4,1.9,150,0,1,335.4,832.3ZM341.5,838.8A2.6,1.8,80,0,1,340.5,833.6A2.6,1.8,80,0,1,341.5,838.8ZM300.4,845.4A1.9,1.3,170,0,1,304.1,844.8A1.9,1.3,170,0,1,300.4,845.4ZM319.3,858.9A2.1,1.2,20,0,1,315.4,857.4A2.1,1.2,20,0,1,319.3,858.9ZM303.8,859.7A1.7,1.4,0,0,1,300.3,859.7A1.7,1.4,0,0,1,303.8,859.7Z" fill="#8c99db" fill-opacity="1"/><path d="M325.1,828.7A3.1,1.7,30,0,1,319.8,825.6A3.1,1.7,30,0,1,325.1,828.7ZM333.3,828.7A3.1,1.9,120,0,1,336.4,823.4A3.1,1.9,120,0,1,333.3,828.7ZM347.7,845.9A2.8,1.8,110,0,1,349.6,840.6A2.8,1.8,110,0,1,347.7,845.9ZM323.8,850.8A2.1,1.9,60,0,1,321.7,847.1A2.1,1.9,60,0,1,323.8,850.8ZM323.3,868.8A1.7,1.1,110,0,1,324.5,865.6A1.7,1.1,110,0,1,323.3,868.8ZM301.7,869.0A3.1,1.4,0,0,1,295.5,869.0A3.1,1.4,0,0,1,301.7,869.0ZM306.1,874.0A2.7,1.5,90,0,1,306.1,868.7A2.7,1.5,90,0,1,306.1,874.0ZM322.3,882.7A3.2,1.4,90,0,1,322.3,876.2A3.2,1.4,90,0,1,322.3,882.7Z" fill="#8391d8" fill-opacity=".85"/><path d="M352.1,828.7A1.9,1.3,110,0,1,353.4,825.2A1.9,1.3,110,0,1,352.1,828.7ZM334.2,835.5A1.7,1.1,160,0,1,337.5,834.3A1.7,1.1,160,0,1,334.2,835.5ZM302.4,845.1A3.1,1.7,130,0,1,306.4,840.4A3.1,1.7,130,0,1,302.4,845.1ZM296.2,854.2A3.2,1.8,10,0,1,289.9,853.1A3.2,1.8,10,0,1,296.2,854.2ZM299.3,878.2A2.3,1.6,40,0,1,295.8,875.3A2.3,1.6,40,0,1,299.3,878.2Z" fill="#a6b0e4" fill-opacity="1"/><ellipse cx="315.8" cy="836.8" rx="2.8" ry="1.7" fill="#c89070" fill-opacity="0.22"/><ellipse cx="318.7" cy="878.5" rx="3.9" ry="2.7" fill="#c89070" fill-opacity="0.22"/><ellipse cx="301.1" cy="835.9" rx="2.7" ry="1.6" fill="#c89070" fill-opacity="0.22"/><ellipse cx="303.8" cy="873.9" rx="3.0" ry="2.1" fill="#c89070" fill-opacity="0.22"/><ellipse cx="300.4" cy="862.7" rx="4.0" ry="1.8" fill="#c89070" fill-opacity="0.22"/><ellipse cx="314.7" cy="860.9" rx="3.6" ry="1.5" fill="#c89070" fill-opacity="0.22"/><ellipse cx="329.1" cy="824.6" rx="2.1" ry="2.7" fill="#c89070" fill-opacity="0.22"/><ellipse cx="305.3" cy="837.7" rx="2.3" ry="2.4" fill="#c89070" fill-opacity="0.22"/><ellipse cx="304.7" cy="877.8" rx="2.3" ry="2.6" fill="#c89070" fill-opacity="0.22"/><ellipse cx="300.9" cy="875.0" rx="3.2" ry="2.4" fill="#c89070" fill-opacity="0.22"/><ellipse cx="345.3" cy="869.8" rx="2.0" ry="1.7" fill="#c89070" fill-opacity="0.22"/><ellipse cx="294.6" cy="827.2" rx="3.6" ry="2.5" fill="#c89070" fill-opacity="0.22"/><ellipse cx="301.0" cy="839.5" rx="2.0" ry="1.6" fill="#8a5036" fill-opacity="0.8"/><ellipse cx="339.4" cy="842.7" rx="1.6" ry="1.2" fill="#a8704e" fill-opacity="0.8"/><ellipse cx="347.4" cy="819.8" rx="1.4" ry="1.1" fill="#8a5036" fill-opacity="0.8"/><ellipse cx="315.5" cy="827.9" rx="2.3" ry="1.7" fill="#9a6040" fill-opacity="0.8"/></g></g>
<rect x="291" y="816" width="61.6" height="63.6" fill="none" stroke="#666" stroke-width="1"/>
<g clip-path="url(#mc15)"><rect x="358" y="816" width="61.6" height="63.6" fill="#f3ece8"/><g filter="url(#sb)"><path d="M359.5,821.1A1.9,1.3,120,0,1,361.4,817.7A1.9,1.3,120,0,1,359.5,821.1ZM366.4,826.1A2.4,1.7,10,0,1,361.7,825.3A2.4,1.7,10,0,1,366.4,826.1ZM412.2,840.3A2.6,1.6,170,0,1,417.3,839.3A2.6,1.6,170,0,1,412.2,840.3ZM419.3,841.7A2.7,1.2,130,0,1,422.8,837.6A2.7,1.2,130,0,1,419.3,841.7ZM398.3,845.9A1.8,1.8,60,0,1,396.5,842.8A1.8,1.8,60,0,1,398.3,845.9ZM356.1,848.1A3.1,1.8,170,0,1,362.2,847.0A3.1,1.8,170,0,1,356.1,848.1ZM387.0,851.0A1.9,1.4,50,0,1,384.5,848.0A1.9,1.4,50,0,1,387.0,851.0ZM404.6,853.0A2.0,1.3,100,0,1,405.3,849.1A2.0,1.3,100,0,1,404.6,853.0ZM408.4,853.7A1.9,1.1,60,0,1,406.5,850.3A1.9,1.1,60,0,1,408.4,853.7ZM367.1,876.9A2.4,1.2,70,0,1,365.4,872.3A2.4,1.2,70,0,1,367.1,876.9Z" fill="#8391d8" fill-opacity=".85"/><path d="M363.7,820.8A2.0,1.7,80,0,1,363.0,816.8A2.0,1.7,80,0,1,363.7,820.8ZM415.7,818.5A2.1,1.5,130,0,1,418.4,815.2A2.1,1.5,130,0,1,415.7,818.5ZM406.3,829.8A2.4,1.5,50,0,1,403.2,826.0A2.4,1.5,50,0,1,406.3,829.8ZM383.6,834.6A3.1,1.4,140,0,1,388.3,830.6A3.1,1.4,140,0,1,383.6,834.6ZM421.8,838.7A1.9,1.8,80,0,1,421.2,835.0A1.9,1.8,80,0,1,421.8,838.7ZM400.4,877.5A3.2,1.3,80,0,1,399.2,871.2A3.2,1.3,80,0,1,400.4,877.5Z" fill="#a6b0e4" fill-opacity=".75"/><path d="M373.6,821.1A3.1,1.2,50,0,1,369.5,816.3A3.1,1.2,50,0,1,373.6,821.1ZM401.8,841.1A2.0,1.3,50,0,1,399.2,838.0A2.0,1.3,50,0,1,401.8,841.1ZM407.6,841.5A3.0,1.5,100,0,1,408.7,835.6A3.0,1.5,100,0,1,407.6,841.5ZM412.1,854.5A2.9,1.8,120,0,1,415.0,849.5A2.9,1.8,120,0,1,412.1,854.5ZM371.4,858.1A2.5,1.6,90,0,1,371.4,853.1A2.5,1.6,90,0,1,371.4,858.1ZM417.5,857.1A1.8,1.9,0,0,1,413.9,857.1A1.8,1.9,0,0,1,417.5,857.1ZM363.8,864.1A2.7,1.1,0,0,1,358.5,864.1A2.7,1.1,0,0,1,363.8,864.1ZM409.9,865.2A2.1,1.2,40,0,1,406.6,862.5A2.1,1.2,40,0,1,409.9,865.2ZM375.0,869.6A2.4,1.5,160,0,1,379.5,867.9A2.4,1.5,160,0,1,375.0,869.6ZM358.4,876.3A2.1,1.3,150,0,1,362.0,874.2A2.1,1.3,150,0,1,358.4,876.3ZM417.1,873.0A2.9,1.2,10,0,1,411.4,872.0A2.9,1.2,10,0,1,417.1,873.0Z" fill="#a6b0e4" fill-opacity=".9"/><path d="M379.4,821.6A2.8,1.5,40,0,1,375.0,818.0A2.8,1.5,40,0,1,379.4,821.6ZM378.8,821.4A2.6,1.7,120,0,1,381.4,816.9A2.6,1.7,120,0,1,378.8,821.4ZM423.2,827.0A2.3,1.9,50,0,1,420.2,823.5A2.3,1.9,50,0,1,423.2,827.0ZM395.6,857.0A2.0,1.5,40,0,1,392.5,854.4A2.0,1.5,40,0,1,395.6,857.0ZM384.4,865.0A1.8,1.7,30,0,1,381.2,863.2A1.8,1.7,30,0,1,384.4,865.0ZM400.2,876.3A2.9,1.4,140,0,1,404.6,872.6A2.9,1.4,140,0,1,400.2,876.3ZM391.1,879.0A2.5,1.3,0,0,1,386.2,879.0A2.5,1.3,0,0,1,391.1,879.0ZM391.3,877.8A2.3,1.6,160,0,1,395.7,876.2A2.3,1.6,160,0,1,391.3,877.8Z" fill="#aab3e5" fill-opacity=".9"/><path d="M384.9,819.6A2.1,1.2,120,0,1,387.0,816.1A2.1,1.2,120,0,1,384.9,819.6ZM383.9,836.7A2.2,1.7,70,0,1,382.4,832.5A2.2,1.7,70,0,1,383.9,836.7ZM366.5,846.7A2.1,1.2,140,0,1,369.7,844.0A2.1,1.2,140,0,1,366.5,846.7ZM370.3,848.9A2.7,1.3,40,0,1,366.2,845.5A2.7,1.3,40,0,1,370.3,848.9ZM403.8,868.7A2.3,1.9,110,0,1,405.4,864.4A2.3,1.9,110,0,1,403.8,868.7ZM381.2,871.2A2.3,1.9,90,0,1,381.2,866.6A2.3,1.9,90,0,1,381.2,871.2ZM391.3,876.1A3.1,1.9,100,0,1,392.4,869.9A3.1,1.9,100,0,1,391.3,876.1ZM361.3,880.4A2.9,2.0,90,0,1,361.3,874.6A2.9,2.0,90,0,1,361.3,880.4Z" fill="#98a4df" fill-opacity="1"/><path d="M390.1,819.5A2.0,1.5,170,0,1,394.1,818.8A2.0,1.5,170,0,1,390.1,819.5ZM407.8,817.5A2.3,1.2,10,0,1,403.3,816.7A2.3,1.2,10,0,1,407.8,817.5ZM395.6,822.4A2.5,1.5,140,0,1,399.4,819.2A2.5,1.5,140,0,1,395.6,822.4ZM372.6,841.9A2.7,1.5,120,0,1,375.3,837.2A2.7,1.5,120,0,1,372.6,841.9ZM414.4,840.4A2.8,1.5,60,0,1,411.6,835.5A2.8,1.5,60,0,1,414.4,840.4ZM379.7,846.4A3.1,1.8,160,0,1,385.6,844.3A3.1,1.8,160,0,1,379.7,846.4ZM413.8,845.8A2.7,1.7,170,0,1,419.0,844.9A2.7,1.7,170,0,1,413.8,845.8ZM374.4,849.3A2.8,1.9,60,0,1,371.7,844.6A2.8,1.9,60,0,1,374.4,849.3ZM380.6,856.7A2.2,1.1,150,0,1,384.4,854.4A2.2,1.1,150,0,1,380.6,856.7ZM385.0,856.8A2.0,1.6,130,0,1,387.7,853.7A2.0,1.6,130,0,1,385.0,856.8ZM389.4,862.9A2.1,1.1,10,0,1,385.3,862.2A2.1,1.1,10,0,1,389.4,862.9ZM375.1,870.9A2.7,1.1,0,0,1,369.7,870.9A2.7,1.1,0,0,1,375.1,870.9ZM400.1,869.6A2.9,1.7,20,0,1,394.6,867.6A2.9,1.7,20,0,1,400.1,869.6ZM366.5,873.7A2.2,1.2,160,0,1,370.6,872.2A2.2,1.2,160,0,1,366.5,873.7ZM407.7,881.1A2.6,1.8,150,0,1,412.3,878.5A2.6,1.8,150,0,1,407.7,881.1Z" fill="#aab3e5" fill-opacity="1"/><path d="M393.9,819.9A2.1,1.6,70,0,1,392.5,816.0A2.1,1.6,70,0,1,393.9,819.9ZM382.1,831.8A2.5,1.4,100,0,1,383.0,827.0A2.5,1.4,100,0,1,382.1,831.8ZM392.2,832.7A2.2,1.9,130,0,1,395.1,829.2A2.2,1.9,130,0,1,392.2,832.7ZM421.1,851.2A2.4,1.9,30,0,1,416.9,848.8A2.4,1.9,30,0,1,421.1,851.2ZM377.2,852.9A1.9,1.6,30,0,1,373.9,850.9A1.9,1.6,30,0,1,377.2,852.9ZM397.4,853.3A2.1,1.6,40,0,1,394.1,850.6A2.1,1.6,40,0,1,397.4,853.3ZM420.2,864.9A3.1,1.7,60,0,1,417.1,859.5A3.1,1.7,60,0,1,420.2,864.9ZM378.2,878.2A2.8,1.7,90,0,1,378.2,872.7A2.8,1.7,90,0,1,378.2,878.2Z" fill="#aab3e5" fill-opacity=".75"/><path d="M400.2,818.8A3.2,1.5,20,0,1,394.1,816.6A3.2,1.5,20,0,1,400.2,818.8ZM389.4,823.8A2.6,1.8,170,0,1,394.5,822.9A2.6,1.8,170,0,1,389.4,823.8ZM379.1,828.0A2.9,1.8,0,0,1,373.3,828.0A2.9,1.8,0,0,1,379.1,828.0ZM393.5,837.8A2.3,1.2,30,0,1,389.5,835.5A2.3,1.2,30,0,1,393.5,837.8ZM414.9,837.2A2.4,1.2,130,0,1,418.0,833.6A2.4,1.2,130,0,1,414.9,837.2ZM380.7,845.0A2.6,1.7,20,0,1,375.8,843.2A2.6,1.7,20,0,1,380.7,845.0ZM394.5,847.1A3.3,1.4,90,0,1,394.5,840.6A3.3,1.4,90,0,1,394.5,847.1ZM405.3,847.3A2.3,1.5,20,0,1,401.0,845.8A2.3,1.5,20,0,1,405.3,847.3ZM390.8,866.7A3.0,1.6,50,0,1,387.0,862.2A3.0,1.6,50,0,1,390.8,866.7ZM377.5,879.5A3.0,1.6,80,0,1,376.5,873.6A3.0,1.6,80,0,1,377.5,879.5ZM412.1,879.3A2.5,1.6,160,0,1,416.9,877.6A2.5,1.6,160,0,1,412.1,879.3ZM417.2,879.9A2.5,1.4,160,0,1,421.9,878.2A2.5,1.4,160,0,1,417.2,879.9Z" fill="#98a4df" fill-opacity=".85"/><path d="M406.5,819.0A2.7,1.5,30,0,1,401.8,816.3A2.7,1.5,30,0,1,406.5,819.0ZM363.6,840.0A3.2,1.5,20,0,1,357.7,837.8A3.2,1.5,20,0,1,363.6,840.0ZM412.8,858.7A2.3,1.6,30,0,1,408.8,856.4A2.3,1.6,30,0,1,412.8,858.7ZM420.6,857.6A1.8,1.6,70,0,1,419.4,854.3A1.8,1.6,70,0,1,420.6,857.6Z" fill="#8391d8" fill-opacity=".75"/><path d="M415.7,822.5A3.3,2.0,50,0,1,411.5,817.5A3.3,2.0,50,0,1,415.7,822.5ZM391.0,823.0A2.8,1.9,140,0,1,395.3,819.4A2.8,1.9,140,0,1,391.0,823.0ZM406.7,826.0A2.4,1.9,90,0,1,406.7,821.3A2.4,1.9,90,0,1,406.7,826.0ZM418.2,823.0A3.3,1.6,160,0,1,424.3,820.8A3.3,1.6,160,0,1,418.2,823.0ZM357.9,831.5A2.6,1.7,130,0,1,361.3,827.5A2.6,1.7,130,0,1,357.9,831.5ZM397.8,836.4A2.2,1.4,20,0,1,393.6,834.8A2.2,1.4,20,0,1,397.8,836.4ZM403.8,835.9A2.0,1.8,50,0,1,401.2,832.8A2.0,1.8,50,0,1,403.8,835.9ZM375.6,841.2A2.5,1.5,170,0,1,380.4,840.4A2.5,1.5,170,0,1,375.6,841.2ZM402.8,842.9A2.8,1.8,90,0,1,402.8,837.3A2.8,1.8,90,0,1,402.8,842.9ZM361.1,845.5A2.4,1.5,130,0,1,364.3,841.7A2.4,1.5,130,0,1,361.1,845.5ZM365.6,849.1A2.6,1.3,40,0,1,361.5,845.7A2.6,1.3,40,0,1,365.6,849.1ZM374.0,852.8A1.9,1.5,70,0,1,372.7,849.2A1.9,1.5,70,0,1,374.0,852.8ZM410.1,862.3A2.1,1.6,60,0,1,408.0,858.7A2.1,1.6,60,0,1,410.1,862.3ZM420.0,870.3A3.0,1.5,130,0,1,423.9,865.7A3.0,1.5,130,0,1,420.0,870.3ZM382.3,876.3A2.2,1.9,50,0,1,379.4,872.9A2.2,1.9,50,0,1,382.3,876.3ZM363.7,880.8A2.9,1.3,130,0,1,367.4,876.5A2.9,1.3,130,0,1,363.7,880.8Z" fill="#8c99db" fill-opacity=".85"/><path d="M358.7,823.0A2.3,1.9,140,0,1,362.2,820.0A2.3,1.9,140,0,1,358.7,823.0ZM387.1,823.7A2.0,1.1,10,0,1,383.1,823.0A2.0,1.1,10,0,1,387.1,823.7ZM382.7,828.8A1.9,1.1,20,0,1,379.0,827.5A1.9,1.1,20,0,1,382.7,828.8ZM386.5,827.9A3.0,1.6,110,0,1,388.5,822.2A3.0,1.6,110,0,1,386.5,827.9ZM396.5,829.1A2.2,1.2,110,0,1,398.0,825.0A2.2,1.2,110,0,1,396.5,829.1ZM361.8,833.7A2.7,1.5,0,0,1,356.4,833.7A2.7,1.5,0,0,1,361.8,833.7ZM395.1,836.1A3.1,1.2,160,0,1,400.9,834.0A3.1,1.2,160,0,1,395.1,836.1ZM391.5,843.9A3.2,1.7,70,0,1,389.3,837.8A3.2,1.7,70,0,1,391.5,843.9ZM392.2,847.7A3.1,1.5,60,0,1,389.1,842.4A3.1,1.5,60,0,1,392.2,847.7ZM379.0,862.6A2.5,1.5,80,0,1,378.1,857.6A2.5,1.5,80,0,1,379.0,862.6ZM400.7,872.9A2.7,1.3,140,0,1,404.8,869.5A2.7,1.3,140,0,1,400.7,872.9ZM414.9,873.4A3.2,1.2,0,0,1,408.6,873.4A3.2,1.2,0,0,1,414.9,873.4ZM406.0,878.2A3.2,1.4,0,0,1,399.5,878.2A3.2,1.4,0,0,1,406.0,878.2ZM406.7,877.8A1.9,1.8,160,0,1,410.2,876.5A1.9,1.8,160,0,1,406.7,877.8Z" fill="#8c99db" fill-opacity=".75"/><path d="M363.7,826.2A2.5,1.1,80,0,1,362.8,821.2A2.5,1.1,80,0,1,363.7,826.2ZM359.4,826.9A3.0,1.2,150,0,1,364.7,823.9A3.0,1.2,150,0,1,359.4,826.9ZM366.6,828.3A2.5,1.4,150,0,1,370.9,825.8A2.5,1.4,150,0,1,366.6,828.3ZM377.8,832.3A2.1,1.3,10,0,1,373.7,831.6A2.1,1.3,10,0,1,377.8,832.3ZM393.7,832.8A3.2,1.7,40,0,1,388.8,828.7A3.2,1.7,40,0,1,393.7,832.8ZM408.0,836.6A2.6,1.8,140,0,1,411.9,833.3A2.6,1.8,140,0,1,408.0,836.6ZM388.7,841.4A2.3,1.6,0,0,1,384.2,841.4A2.3,1.6,0,0,1,388.7,841.4ZM415.8,850.0A3.2,1.7,40,0,1,410.9,845.9A3.2,1.7,40,0,1,415.8,850.0ZM390.8,857.3A2.4,1.4,30,0,1,386.6,854.9A2.4,1.4,30,0,1,390.8,857.3ZM392.5,869.1A3.0,1.4,130,0,1,396.3,864.5A3.0,1.4,130,0,1,392.5,869.1ZM391.6,876.6A3.0,1.9,130,0,1,395.5,872.0A3.0,1.9,130,0,1,391.6,876.6ZM422.0,875.0A1.9,1.2,0,0,1,418.2,875.0A1.9,1.2,0,0,1,422.0,875.0Z" fill="#98a4df" fill-opacity=".75"/><path d="M377.0,822.7A2.9,1.6,20,0,1,371.7,820.8A2.9,1.6,20,0,1,377.0,822.7ZM398.4,828.2A2.7,1.3,30,0,1,393.7,825.5A2.7,1.3,30,0,1,398.4,828.2ZM393.1,855.9A3.0,1.7,50,0,1,389.3,851.3A3.0,1.7,50,0,1,393.1,855.9ZM417.2,851.8A2.0,1.8,10,0,1,413.3,851.1A2.0,1.8,10,0,1,417.2,851.8ZM372.3,866.3A2.9,2.0,120,0,1,375.2,861.3A2.9,2.0,120,0,1,372.3,866.3ZM422.9,866.4A2.6,1.9,50,0,1,419.6,862.4A2.6,1.9,50,0,1,422.9,866.4ZM389.6,876.0A3.1,1.9,10,0,1,383.5,874.9A3.1,1.9,10,0,1,389.6,876.0Z" fill="#a6b0e4" fill-opacity=".85"/><path d="M376.1,824.7A3.0,1.2,160,0,1,381.9,822.6A3.0,1.2,160,0,1,376.1,824.7ZM382.8,825.7A2.0,1.8,50,0,1,380.3,822.6A2.0,1.8,50,0,1,382.8,825.7ZM410.0,826.8A3.1,1.3,30,0,1,404.7,823.7A3.1,1.3,30,0,1,410.0,826.8ZM367.1,830.8A3.0,1.4,0,0,1,361.1,830.8A3.0,1.4,0,0,1,367.1,830.8ZM398.2,833.3A2.2,1.6,150,0,1,402.0,831.1A2.2,1.6,150,0,1,398.2,833.3ZM374.9,838.6A1.7,1.7,90,0,1,374.9,835.1A1.7,1.7,90,0,1,374.9,838.6ZM382.7,849.0A2.9,1.4,40,0,1,378.2,845.3A2.9,1.4,40,0,1,382.7,849.0ZM414.7,852.5A3.1,1.6,110,0,1,416.9,846.7A3.1,1.6,110,0,1,414.7,852.5ZM366.7,852.9A2.7,1.6,20,0,1,361.6,851.1A2.7,1.6,20,0,1,366.7,852.9ZM370.1,862.4A2.9,1.5,80,0,1,369.1,856.7A2.9,1.5,80,0,1,370.1,862.4ZM409.3,869.5A2.1,1.7,130,0,1,411.9,866.3A2.1,1.7,130,0,1,409.3,869.5ZM368.4,880.5A2.0,1.8,150,0,1,371.9,878.5A2.0,1.8,150,0,1,368.4,880.5Z" fill="#8c99db" fill-opacity=".9"/><path d="M408.9,824.5A1.7,1.2,130,0,1,411.1,821.8A1.7,1.2,130,0,1,408.9,824.5ZM410.7,828.2A2.4,1.7,90,0,1,410.7,823.3A2.4,1.7,90,0,1,410.7,828.2ZM419.4,828.9A2.9,1.9,10,0,1,413.7,827.9A2.9,1.9,10,0,1,419.4,828.9ZM403.0,834.4A3.1,1.9,100,0,1,404.1,828.4A3.1,1.9,100,0,1,403.0,834.4ZM407.9,834.0A1.9,1.6,110,0,1,409.2,830.4A1.9,1.6,110,0,1,407.9,834.0ZM409.5,833.7A2.0,1.2,110,0,1,410.9,829.9A2.0,1.2,110,0,1,409.5,833.7ZM375.1,844.6A2.7,1.5,30,0,1,370.5,841.9A2.7,1.5,30,0,1,375.1,844.6ZM403.6,845.2A2.3,1.8,70,0,1,402.0,840.8A2.3,1.8,70,0,1,403.6,845.2ZM420.0,847.0A2.9,1.3,70,0,1,418.0,841.5A2.9,1.3,70,0,1,420.0,847.0ZM392.5,852.2A2.8,2.0,120,0,1,395.3,847.4A2.8,2.0,120,0,1,392.5,852.2ZM400.4,852.7A2.9,1.7,70,0,1,398.4,847.3A2.9,1.7,70,0,1,400.4,852.7ZM371.0,854.7A2.6,1.5,20,0,1,366.1,852.9A2.6,1.5,20,0,1,371.0,854.7ZM421.7,855.8A3.0,1.6,90,0,1,421.7,849.8A3.0,1.6,90,0,1,421.7,855.8ZM359.2,859.6A2.9,1.3,140,0,1,363.7,855.8A2.9,1.3,140,0,1,359.2,859.6ZM408.2,859.4A2.6,1.7,70,0,1,406.4,854.5A2.6,1.7,70,0,1,408.2,859.4ZM367.1,865.1A2.5,1.7,70,0,1,365.4,860.5A2.5,1.7,70,0,1,367.1,865.1ZM380.9,864.8A2.1,1.9,60,0,1,378.8,861.1A2.1,1.9,60,0,1,380.9,864.8ZM400.3,859.9A1.7,1.4,170,0,1,403.7,859.3A1.7,1.4,170,0,1,400.3,859.9ZM362.5,866.8A2.0,1.4,100,0,1,363.2,862.9A2.0,1.4,100,0,1,362.5,866.8ZM407.9,870.9A1.8,1.6,50,0,1,405.6,868.1A1.8,1.6,50,0,1,407.9,870.9Z" fill="#98a4df" fill-opacity=".9"/><path d="M419.7,825.5A2.4,1.7,40,0,1,416.0,822.3A2.4,1.7,40,0,1,419.7,825.5ZM367.2,840.6A2.0,1.5,60,0,1,365.2,837.0A2.0,1.5,60,0,1,367.2,840.6ZM400.7,851.9A2.8,1.5,0,0,1,395.1,851.9A2.8,1.5,0,0,1,400.7,851.9ZM397.6,859.1A2.8,2.0,80,0,1,396.7,853.7A2.8,2.0,80,0,1,397.6,859.1Z" fill="#8391d8" fill-opacity="1"/><path d="M371.3,829.8A2.6,1.4,130,0,1,374.7,825.8A2.6,1.4,130,0,1,371.3,829.8ZM369.7,833.8A3.1,1.2,50,0,1,365.7,829.1A3.1,1.2,50,0,1,369.7,833.8ZM380.2,836.6A2.1,1.6,60,0,1,378.1,833.0A2.1,1.6,60,0,1,380.2,836.6ZM404.2,858.7A1.7,1.8,60,0,1,402.5,855.8A1.7,1.8,60,0,1,404.2,858.7ZM392.1,860.8A1.7,2.0,170,0,1,395.6,860.2A1.7,2.0,170,0,1,392.1,860.8ZM402.0,864.6A2.4,1.4,50,0,1,398.9,861.0A2.4,1.4,50,0,1,402.0,864.6ZM405.3,876.5A2.6,1.7,100,0,1,406.2,871.3A2.6,1.7,100,0,1,405.3,876.5Z" fill="#aab3e5" fill-opacity=".85"/><path d="M370.8,838.5A3.2,1.2,50,0,1,366.7,833.6A3.2,1.2,50,0,1,370.8,838.5ZM413.7,846.4A2.3,1.8,20,0,1,409.3,844.9A2.3,1.8,20,0,1,413.7,846.4ZM373.6,848.2A3.2,1.3,160,0,1,379.6,846.0A3.2,1.3,160,0,1,373.6,848.2ZM363.2,857.1A2.8,1.8,170,0,1,368.7,856.2A2.8,1.8,170,0,1,363.2,857.1ZM380.2,858.4A2.7,1.6,30,0,1,375.6,855.7A2.7,1.6,30,0,1,380.2,858.4ZM415.1,861.0A2.2,1.2,170,0,1,419.5,860.2A2.2,1.2,170,0,1,415.1,861.0ZM366.2,864.9A2.8,1.9,160,0,1,371.5,862.9A2.8,1.9,160,0,1,366.2,864.9ZM399.0,869.5A2.6,1.2,120,0,1,401.5,865.0A2.6,1.2,120,0,1,399.0,869.5ZM367.3,872.7A2.4,1.3,50,0,1,364.2,869.0A2.4,1.3,50,0,1,367.3,872.7ZM388.4,870.7A2.6,2.0,50,0,1,385.1,866.8A2.6,2.0,50,0,1,388.4,870.7ZM396.5,871.1A2.7,1.3,50,0,1,393.0,867.0A2.7,1.3,50,0,1,396.5,871.1ZM384.4,880.6A3.1,2.0,160,0,1,390.2,878.5A3.1,2.0,160,0,1,384.4,880.6Z" fill="#8391d8" fill-opacity=".9"/><path d="M405.2,836.9A2.3,1.4,120,0,1,407.5,832.9A2.3,1.4,120,0,1,405.2,836.9ZM391.6,851.1A3.1,1.7,90,0,1,391.6,844.9A3.1,1.7,90,0,1,391.6,851.1ZM378.1,855.2A2.5,1.7,150,0,1,382.4,852.7A2.5,1.7,150,0,1,378.1,855.2ZM386.7,854.0A2.8,1.8,70,0,1,384.8,848.8A2.8,1.8,70,0,1,386.7,854.0ZM369.7,859.7A2.8,1.4,70,0,1,367.7,854.4A2.8,1.4,70,0,1,369.7,859.7ZM391.5,874.2A2.7,1.8,70,0,1,389.6,869.1A2.7,1.8,70,0,1,391.5,874.2ZM374.5,881.9A1.8,1.9,80,0,1,373.8,878.3A1.8,1.9,80,0,1,374.5,881.9Z" fill="#8c99db" fill-opacity="1"/><path d="M368.7,841.0A2.9,1.7,60,0,1,365.8,836.0A2.9,1.7,60,0,1,368.7,841.0ZM385.4,848.2A2.9,1.4,90,0,1,385.4,842.4A2.9,1.4,90,0,1,385.4,848.2ZM407.6,846.7A3.1,1.7,90,0,1,407.6,840.5A3.1,1.7,90,0,1,407.6,846.7ZM390.7,862.5A3.0,1.4,100,0,1,391.7,856.6A3.0,1.4,100,0,1,390.7,862.5ZM368.6,872.0A1.7,1.7,40,0,1,366.0,869.8A1.7,1.7,40,0,1,368.6,872.0ZM381.0,881.7A1.8,1.1,60,0,1,379.3,878.6A1.8,1.1,60,0,1,381.0,881.7Z" fill="#a6b0e4" fill-opacity="1"/><ellipse cx="407.4" cy="855.0" rx="3.8" ry="1.9" fill="#c89070" fill-opacity="0.22"/><ellipse cx="360.3" cy="870.4" rx="2.9" ry="2.4" fill="#c89070" fill-opacity="0.22"/><ellipse cx="405.1" cy="876.8" rx="2.5" ry="1.8" fill="#c89070" fill-opacity="0.22"/><ellipse cx="390.0" cy="836.9" rx="3.6" ry="2.8" fill="#c89070" fill-opacity="0.22"/><ellipse cx="388.4" cy="867.7" rx="2.8" ry="2.8" fill="#c89070" fill-opacity="0.22"/><ellipse cx="374.5" cy="878.8" rx="3.9" ry="2.1" fill="#c89070" fill-opacity="0.22"/><ellipse cx="407.5" cy="823.7" rx="3.9" ry="2.6" fill="#c89070" fill-opacity="0.22"/><ellipse cx="404.5" cy="844.1" rx="2.6" ry="3.0" fill="#c89070" fill-opacity="0.22"/><ellipse cx="371.6" cy="866.9" rx="3.2" ry="2.8" fill="#c89070" fill-opacity="0.22"/><ellipse cx="386.5" cy="826.0" rx="3.0" ry="1.9" fill="#c89070" fill-opacity="0.22"/><ellipse cx="417.8" cy="866.6" rx="2.6" ry="2.1" fill="#c89070" fill-opacity="0.22"/><ellipse cx="368.7" cy="819.3" rx="3.0" ry="2.4" fill="#c89070" fill-opacity="0.22"/><ellipse cx="367.5" cy="836.0" rx="1.7" ry="1.3" fill="#8a5036" fill-opacity="0.8"/><ellipse cx="378.6" cy="832.4" rx="2.0" ry="1.5" fill="#8a5036" fill-opacity="0.8"/><ellipse cx="387.2" cy="844.2" rx="1.6" ry="1.2" fill="#9a6040" fill-opacity="0.8"/><ellipse cx="412.3" cy="858.1" rx="2.3" ry="1.8" fill="#9a6040" fill-opacity="0.8"/><ellipse cx="404.6" cy="856.8" rx="1.7" ry="1.3" fill="#9a6040" fill-opacity="0.8"/><ellipse cx="394.5" cy="863.0" rx="2.2" ry="1.7" fill="#8a5036" fill-opacity="0.8"/><ellipse cx="392.5" cy="859.3" rx="1.3" ry="1.0" fill="#a8704e" fill-opacity="0.8"/><ellipse cx="362.9" cy="820.9" rx="1.6" ry="1.2" fill="#a8704e" fill-opacity="0.8"/></g></g>
<rect x="358" y="816" width="61.6" height="63.6" fill="none" stroke="#666" stroke-width="1"/>
<text x="31.5" y="802.4" font-size="4.2" font-weight="bold">20μm</text>
<line x1="31.2" y1="803.8" x2="39.5" y2="803.8" stroke="#000" stroke-width="0.6"/>
<text x="31.5" y="871.6" font-size="4.2" font-weight="bold">20μm</text>
<line x1="31.2" y1="873" x2="39.5" y2="873" stroke="#000" stroke-width="0.6"/>
</svg></body></html>
